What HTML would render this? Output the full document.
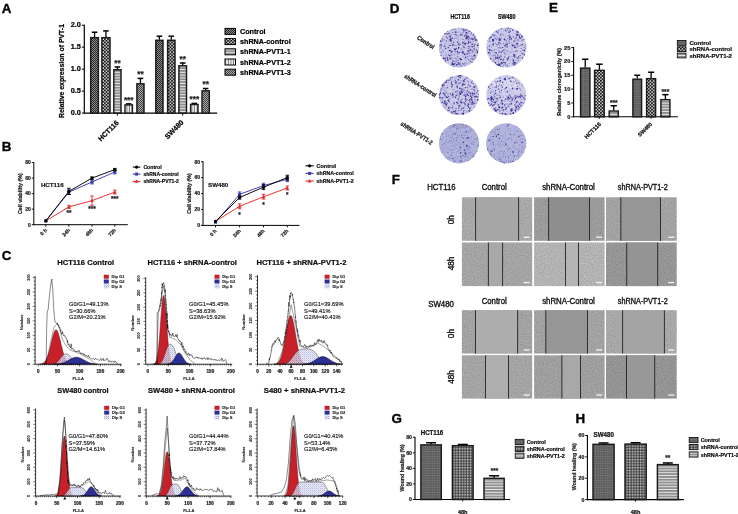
<!DOCTYPE html>
<html><head><meta charset="utf-8"><style>
html,body{margin:0;padding:0;background:#fff;}
svg{display:block;font-family:"Liberation Sans", sans-serif;filter:blur(0.35px);}
</style></head><body>
<svg width="738" height="514" viewBox="0 0 738 514">

<defs>
<pattern id="pCtrl" width="2" height="2" patternUnits="userSpaceOnUse"><rect width="2" height="2" fill="#8e8e8e"/><rect width="1" height="1" fill="#262626"/><rect x="1" y="1" width="1" height="1" fill="#262626"/></pattern>
<pattern id="pP3" width="2" height="2" patternUnits="userSpaceOnUse"><rect width="2" height="2" fill="#a8a8a8"/><rect width="1" height="1" fill="#404040"/><rect x="1" y="1" width="1" height="1" fill="#404040"/></pattern>
<pattern id="pChk" width="3.2" height="3.2" patternUnits="userSpaceOnUse"><rect width="3.2" height="3.2" fill="#1a1a1a"/><rect x="0.2" y="0.2" width="1.4" height="1.4" fill="#fff"/><rect x="1.8" y="1.8" width="1.3" height="1.3" fill="#fff"/></pattern>
<pattern id="pHs" width="3" height="2.8" patternUnits="userSpaceOnUse"><rect width="3" height="2.8" fill="#8c8c8c"/><rect y="1.8" width="3" height="1" fill="#e8e8e8"/></pattern>
<pattern id="pVs" width="2.6" height="3" patternUnits="userSpaceOnUse"><rect width="2.6" height="3" fill="#f4f4f4"/><rect x="1.6" width="1" height="3" fill="#7a7a7a"/></pattern>
<pattern id="pCtrl2" width="2.4" height="2.4" patternUnits="userSpaceOnUse"><rect width="2.4" height="2.4" fill="#5a5a5a"/><rect width="2.4" height="0.7" fill="#777"/><rect width="0.7" height="2.4" fill="#6e6e6e"/></pattern>
<pattern id="pChk2" width="2.7" height="2.7" patternUnits="userSpaceOnUse"><rect width="2.7" height="2.7" fill="#565656"/><rect x="0.1" y="0.1" width="1.2" height="1.2" fill="#f4f4f4"/><rect x="1.55" y="1.55" width="0.9" height="0.9" fill="#222"/></pattern>
<pattern id="pS" width="2" height="2" patternUnits="userSpaceOnUse"><rect width="2" height="2" fill="#e2e5f4"/><rect width="1" height="1" fill="#a2a8d6"/><rect x="1" y="1" width="1" height="1" fill="#c6cae8"/></pattern>
<filter id="noise" x="0" y="0" width="100%" height="100%"><feTurbulence type="fractalNoise" baseFrequency="0.9" numOctaves="2" seed="3"/><feColorMatrix type="matrix" values="0 0 0 0 0  0 0 0 0 0  0 0 0 0 0  0 0 0 -1.2 1.0"/><feComposite operator="in" in2="SourceGraphic"/></filter>
</defs>

<rect width="738" height="514" fill="#fff"/>
<text x="1.80" y="12.60" font-size="13.4" font-weight="bold" text-anchor="start" fill="#000" stroke="#000" stroke-width="0.35">A</text>
<line x1="84.30" y1="24.70" x2="84.30" y2="113.60" stroke="#000" stroke-width="1.2"/>
<line x1="83.80" y1="113.10" x2="217.20" y2="113.10" stroke="#000" stroke-width="1.2"/>
<line x1="81.80" y1="113.10" x2="84.30" y2="113.10" stroke="#000" stroke-width="1"/>
<text x="80.80" y="115.30" font-size="7.3" font-weight="bold" text-anchor="end" fill="#000" stroke="#000" stroke-width="0.22">0.0</text>
<line x1="81.80" y1="91.12" x2="84.30" y2="91.12" stroke="#000" stroke-width="1"/>
<text x="80.80" y="93.33" font-size="7.3" font-weight="bold" text-anchor="end" fill="#000" stroke="#000" stroke-width="0.22">0.5</text>
<line x1="81.80" y1="69.15" x2="84.30" y2="69.15" stroke="#000" stroke-width="1"/>
<text x="80.80" y="71.35" font-size="7.3" font-weight="bold" text-anchor="end" fill="#000" stroke="#000" stroke-width="0.22">1.0</text>
<line x1="81.80" y1="47.17" x2="84.30" y2="47.17" stroke="#000" stroke-width="1"/>
<text x="80.80" y="49.38" font-size="7.3" font-weight="bold" text-anchor="end" fill="#000" stroke="#000" stroke-width="0.22">1.5</text>
<line x1="81.80" y1="25.20" x2="84.30" y2="25.20" stroke="#000" stroke-width="1"/>
<text x="80.80" y="27.40" font-size="7.3" font-weight="bold" text-anchor="end" fill="#000" stroke="#000" stroke-width="0.22">2.0</text>
<line x1="94.55" y1="32.23" x2="94.55" y2="37.07" stroke="#000" stroke-width="1.3"/>
<line x1="91.75" y1="32.23" x2="97.35" y2="32.23" stroke="#000" stroke-width="1.5"/>
<rect x="90.70" y="37.67" width="7.70" height="75.43" fill="url(#pCtrl)" stroke="#1a1a1a" stroke-width="1.45"/>
<line x1="105.95" y1="30.91" x2="105.95" y2="37.07" stroke="#000" stroke-width="1.3"/>
<line x1="103.15" y1="30.91" x2="108.75" y2="30.91" stroke="#000" stroke-width="1.5"/>
<rect x="101.90" y="37.67" width="8.10" height="75.43" fill="url(#pChk)" stroke="#1a1a1a" stroke-width="1.45"/>
<line x1="117.40" y1="66.95" x2="117.40" y2="69.15" stroke="#000" stroke-width="1.3"/>
<line x1="114.60" y1="66.95" x2="120.20" y2="66.95" stroke="#000" stroke-width="1.5"/>
<rect x="113.80" y="69.75" width="7.20" height="43.35" fill="url(#pHs)" stroke="#1a1a1a" stroke-width="1.45"/>
<text x="117.40" y="65.95" font-size="8.2" font-weight="bold" text-anchor="middle" fill="#222" stroke="#222" stroke-width="0.22">**</text>
<line x1="128.70" y1="103.87" x2="128.70" y2="104.31" stroke="#000" stroke-width="1.3"/>
<line x1="125.90" y1="103.87" x2="131.50" y2="103.87" stroke="#000" stroke-width="1.5"/>
<rect x="125.00" y="104.91" width="7.40" height="8.19" fill="url(#pVs)" stroke="#1a1a1a" stroke-width="1.45"/>
<text x="128.70" y="102.87" font-size="8.2" font-weight="bold" text-anchor="middle" fill="#222" stroke="#222" stroke-width="0.22">***</text>
<line x1="140.45" y1="78.38" x2="140.45" y2="83.21" stroke="#000" stroke-width="1.3"/>
<line x1="137.65" y1="78.38" x2="143.25" y2="78.38" stroke="#000" stroke-width="1.5"/>
<rect x="136.90" y="83.81" width="7.10" height="29.29" fill="url(#pP3)" stroke="#1a1a1a" stroke-width="1.45"/>
<text x="140.45" y="77.38" font-size="8.2" font-weight="bold" text-anchor="middle" fill="#222" stroke="#222" stroke-width="0.22">**</text>
<line x1="159.40" y1="36.19" x2="159.40" y2="39.70" stroke="#000" stroke-width="1.3"/>
<line x1="156.60" y1="36.19" x2="162.20" y2="36.19" stroke="#000" stroke-width="1.5"/>
<rect x="155.80" y="40.30" width="7.20" height="72.80" fill="url(#pCtrl)" stroke="#1a1a1a" stroke-width="1.45"/>
<line x1="171.30" y1="36.19" x2="171.30" y2="39.70" stroke="#000" stroke-width="1.3"/>
<line x1="168.50" y1="36.19" x2="174.10" y2="36.19" stroke="#000" stroke-width="1.5"/>
<rect x="167.60" y="40.30" width="7.40" height="72.80" fill="url(#pChk)" stroke="#1a1a1a" stroke-width="1.45"/>
<line x1="182.70" y1="63.00" x2="182.70" y2="65.19" stroke="#000" stroke-width="1.3"/>
<line x1="179.90" y1="63.00" x2="185.50" y2="63.00" stroke="#000" stroke-width="1.5"/>
<rect x="178.90" y="65.79" width="7.60" height="47.31" fill="url(#pHs)" stroke="#1a1a1a" stroke-width="1.45"/>
<text x="182.70" y="62.00" font-size="8.2" font-weight="bold" text-anchor="middle" fill="#222" stroke="#222" stroke-width="0.22">**</text>
<line x1="194.30" y1="103.43" x2="194.30" y2="103.87" stroke="#000" stroke-width="1.3"/>
<line x1="191.50" y1="103.43" x2="197.10" y2="103.43" stroke="#000" stroke-width="1.5"/>
<rect x="190.60" y="104.47" width="7.40" height="8.63" fill="url(#pVs)" stroke="#1a1a1a" stroke-width="1.45"/>
<text x="194.30" y="102.43" font-size="8.2" font-weight="bold" text-anchor="middle" fill="#222" stroke="#222" stroke-width="0.22">***</text>
<line x1="205.65" y1="88.49" x2="205.65" y2="90.25" stroke="#000" stroke-width="1.3"/>
<line x1="202.85" y1="88.49" x2="208.45" y2="88.49" stroke="#000" stroke-width="1.5"/>
<rect x="202.00" y="90.85" width="7.30" height="22.25" fill="url(#pP3)" stroke="#1a1a1a" stroke-width="1.45"/>
<text x="205.65" y="87.49" font-size="8.2" font-weight="bold" text-anchor="middle" fill="#222" stroke="#222" stroke-width="0.22">**</text>
<line x1="117.40" y1="113.10" x2="117.40" y2="115.60" stroke="#000" stroke-width="1"/>
<line x1="182.70" y1="113.10" x2="182.70" y2="115.60" stroke="#000" stroke-width="1"/>
<text x="119.30" y="123.30" font-size="7.1" font-weight="bold" text-anchor="end" fill="#000" transform="rotate(-45 119.30 123.30)" stroke="#000" stroke-width="0.22">HCT116</text>
<text x="184.10" y="123.00" font-size="7.1" font-weight="bold" text-anchor="end" fill="#000" transform="rotate(-45 184.10 123.00)" stroke="#000" stroke-width="0.22">SW480</text>
<text x="63.60" y="71.00" font-size="7.1" font-weight="bold" text-anchor="middle" fill="#000" transform="rotate(-90 63.60 71.00)" textLength="94" lengthAdjust="spacingAndGlyphs" stroke="#000" stroke-width="0.22">Relative expression of PVT-1</text>
<rect x="225.00" y="28.40" width="10.50" height="6.00" fill="url(#pCtrl)" stroke="#000" stroke-width="1"/>
<text x="240.00" y="33.90" font-size="7.2" font-weight="bold" text-anchor="start" fill="#000" stroke="#000" stroke-width="0.22">Control</text>
<rect x="225.00" y="38.60" width="10.50" height="6.00" fill="url(#pChk)" stroke="#000" stroke-width="1"/>
<text x="240.00" y="44.10" font-size="7.2" font-weight="bold" text-anchor="start" fill="#000" stroke="#000" stroke-width="0.22">shRNA-control</text>
<rect x="225.00" y="48.80" width="10.50" height="6.00" fill="url(#pHs)" stroke="#000" stroke-width="1"/>
<text x="240.00" y="54.30" font-size="7.2" font-weight="bold" text-anchor="start" fill="#000" stroke="#000" stroke-width="0.22">shRNA-PVT1-1</text>
<rect x="225.00" y="59.00" width="10.50" height="6.00" fill="url(#pVs)" stroke="#000" stroke-width="1"/>
<text x="240.00" y="64.50" font-size="7.2" font-weight="bold" text-anchor="start" fill="#000" stroke="#000" stroke-width="0.22">shRNA-PVT1-2</text>
<rect x="225.00" y="69.20" width="10.50" height="6.00" fill="url(#pP3)" stroke="#000" stroke-width="1"/>
<text x="240.00" y="74.70" font-size="7.2" font-weight="bold" text-anchor="start" fill="#000" stroke="#000" stroke-width="0.22">shRNA-PVT1-3</text>
<text x="1.80" y="151.30" font-size="13.4" font-weight="bold" text-anchor="start" fill="#000" stroke="#000" stroke-width="0.35">B</text>
<line x1="33.80" y1="162.10" x2="33.80" y2="225.20" stroke="#000" stroke-width="1"/>
<line x1="33.30" y1="224.70" x2="127.80" y2="224.70" stroke="#000" stroke-width="1"/>
<line x1="31.80" y1="224.70" x2="33.80" y2="224.70" stroke="#000" stroke-width="0.9"/>
<text x="30.80" y="226.50" font-size="5.0" font-weight="bold" text-anchor="end" fill="#222" stroke="#222" stroke-width="0.22">0</text>
<line x1="31.80" y1="209.17" x2="33.80" y2="209.17" stroke="#000" stroke-width="0.9"/>
<text x="30.80" y="210.97" font-size="5.0" font-weight="bold" text-anchor="end" fill="#222" stroke="#222" stroke-width="0.22">20</text>
<line x1="31.80" y1="193.65" x2="33.80" y2="193.65" stroke="#000" stroke-width="0.9"/>
<text x="30.80" y="195.45" font-size="5.0" font-weight="bold" text-anchor="end" fill="#222" stroke="#222" stroke-width="0.22">40</text>
<line x1="31.80" y1="178.12" x2="33.80" y2="178.12" stroke="#000" stroke-width="0.9"/>
<text x="30.80" y="179.93" font-size="5.0" font-weight="bold" text-anchor="end" fill="#222" stroke="#222" stroke-width="0.22">60</text>
<line x1="31.80" y1="162.60" x2="33.80" y2="162.60" stroke="#000" stroke-width="0.9"/>
<text x="30.80" y="164.40" font-size="5.0" font-weight="bold" text-anchor="end" fill="#222" stroke="#222" stroke-width="0.22">80</text>
<line x1="45.90" y1="224.70" x2="45.90" y2="226.70" stroke="#000" stroke-width="0.9"/>
<text x="47.40" y="230.70" font-size="5.0" font-weight="bold" text-anchor="end" fill="#222" transform="rotate(-45 47.40 230.70)" stroke="#222" stroke-width="0.22">0 h</text>
<line x1="68.90" y1="224.70" x2="68.90" y2="226.70" stroke="#000" stroke-width="0.9"/>
<text x="70.40" y="230.70" font-size="5.0" font-weight="bold" text-anchor="end" fill="#222" transform="rotate(-45 70.40 230.70)" stroke="#222" stroke-width="0.22">24h</text>
<line x1="92.00" y1="224.70" x2="92.00" y2="226.70" stroke="#000" stroke-width="0.9"/>
<text x="93.50" y="230.70" font-size="5.0" font-weight="bold" text-anchor="end" fill="#222" transform="rotate(-45 93.50 230.70)" stroke="#222" stroke-width="0.22">48h</text>
<line x1="114.80" y1="224.70" x2="114.80" y2="226.70" stroke="#000" stroke-width="0.9"/>
<text x="116.30" y="230.70" font-size="5.0" font-weight="bold" text-anchor="end" fill="#222" transform="rotate(-45 116.30 230.70)" stroke="#222" stroke-width="0.22">72h</text>
<text x="21.80" y="193.65" font-size="5.3" font-weight="bold" text-anchor="middle" fill="#222" transform="rotate(-90 21.80 193.65)" stroke="#222" stroke-width="0.22">Cell viability (%)</text>
<text x="40.90" y="187.00" font-size="6.2" font-weight="bold" text-anchor="start" fill="#222" stroke="#222" stroke-width="0.22">HCT116</text>
<polyline points="45.90,220.82 68.90,206.85 92.00,200.64 114.80,192.10" fill="none" stroke="#e02a2a" stroke-width="0.95"/>
<path d="M44.00,222.22 L47.80,222.22 L45.90,218.92 Z" fill="#e02a2a"/>
<line x1="68.90" y1="205.29" x2="68.90" y2="208.40" stroke="#e02a2a" stroke-width="0.9"/>
<line x1="67.10" y1="205.29" x2="70.70" y2="205.29" stroke="#e02a2a" stroke-width="0.9"/>
<line x1="67.10" y1="208.40" x2="70.70" y2="208.40" stroke="#e02a2a" stroke-width="0.9"/>
<path d="M67.00,208.25 L70.80,208.25 L68.90,204.95 Z" fill="#e02a2a"/>
<line x1="92.00" y1="195.98" x2="92.00" y2="205.29" stroke="#e02a2a" stroke-width="0.9"/>
<line x1="90.20" y1="195.98" x2="93.80" y2="195.98" stroke="#e02a2a" stroke-width="0.9"/>
<line x1="90.20" y1="205.29" x2="93.80" y2="205.29" stroke="#e02a2a" stroke-width="0.9"/>
<path d="M90.10,202.04 L93.90,202.04 L92.00,198.74 Z" fill="#e02a2a"/>
<line x1="114.80" y1="190.16" x2="114.80" y2="194.04" stroke="#e02a2a" stroke-width="0.9"/>
<line x1="113.00" y1="190.16" x2="116.60" y2="190.16" stroke="#e02a2a" stroke-width="0.9"/>
<line x1="113.00" y1="194.04" x2="116.60" y2="194.04" stroke="#e02a2a" stroke-width="0.9"/>
<path d="M112.90,193.50 L116.70,193.50 L114.80,190.20 Z" fill="#e02a2a"/>
<polyline points="45.90,220.82 68.90,192.10 92.00,182.01 114.80,171.91" fill="none" stroke="#3b3bb4" stroke-width="0.95"/>
<rect x="44.40" y="219.32" width="3.00" height="3.00" fill="#3b3bb4"/>
<line x1="68.90" y1="189.77" x2="68.90" y2="194.43" stroke="#3b3bb4" stroke-width="0.9"/>
<line x1="67.10" y1="189.77" x2="70.70" y2="189.77" stroke="#3b3bb4" stroke-width="0.9"/>
<line x1="67.10" y1="194.43" x2="70.70" y2="194.43" stroke="#3b3bb4" stroke-width="0.9"/>
<rect x="67.40" y="190.60" width="3.00" height="3.00" fill="#3b3bb4"/>
<line x1="92.00" y1="180.07" x2="92.00" y2="183.95" stroke="#3b3bb4" stroke-width="0.9"/>
<line x1="90.20" y1="180.07" x2="93.80" y2="180.07" stroke="#3b3bb4" stroke-width="0.9"/>
<line x1="90.20" y1="183.95" x2="93.80" y2="183.95" stroke="#3b3bb4" stroke-width="0.9"/>
<rect x="90.50" y="180.51" width="3.00" height="3.00" fill="#3b3bb4"/>
<line x1="114.80" y1="169.97" x2="114.80" y2="173.86" stroke="#3b3bb4" stroke-width="0.9"/>
<line x1="113.00" y1="169.97" x2="116.60" y2="169.97" stroke="#3b3bb4" stroke-width="0.9"/>
<line x1="113.00" y1="173.86" x2="116.60" y2="173.86" stroke="#3b3bb4" stroke-width="0.9"/>
<rect x="113.30" y="170.41" width="3.00" height="3.00" fill="#3b3bb4"/>
<polyline points="45.90,220.82 68.90,191.32 92.00,178.12 114.80,169.59" fill="none" stroke="#000" stroke-width="0.95"/>
<circle cx="45.90" cy="220.82" r="1.6" fill="#000"/>
<line x1="68.90" y1="188.22" x2="68.90" y2="194.43" stroke="#000" stroke-width="0.9"/>
<line x1="67.10" y1="188.22" x2="70.70" y2="188.22" stroke="#000" stroke-width="0.9"/>
<line x1="67.10" y1="194.43" x2="70.70" y2="194.43" stroke="#000" stroke-width="0.9"/>
<circle cx="68.90" cy="191.32" r="1.6" fill="#000"/>
<line x1="92.00" y1="176.96" x2="92.00" y2="179.29" stroke="#000" stroke-width="0.9"/>
<line x1="90.20" y1="176.96" x2="93.80" y2="176.96" stroke="#000" stroke-width="0.9"/>
<line x1="90.20" y1="179.29" x2="93.80" y2="179.29" stroke="#000" stroke-width="0.9"/>
<circle cx="92.00" cy="178.12" r="1.6" fill="#000"/>
<line x1="114.80" y1="168.42" x2="114.80" y2="170.75" stroke="#000" stroke-width="0.9"/>
<line x1="113.00" y1="168.42" x2="116.60" y2="168.42" stroke="#000" stroke-width="0.9"/>
<line x1="113.00" y1="170.75" x2="116.60" y2="170.75" stroke="#000" stroke-width="0.9"/>
<circle cx="114.80" cy="169.59" r="1.6" fill="#000"/>
<line x1="132.80" y1="167.10" x2="140.40" y2="167.10" stroke="#000" stroke-width="1.1"/>
<circle cx="136.60" cy="167.10" r="1.6" fill="#000"/>
<text x="143.40" y="169.10" font-size="5.6" font-weight="bold" text-anchor="start" fill="#111" textLength="18.3" lengthAdjust="spacingAndGlyphs" stroke="#111" stroke-width="0.22">Control</text>
<line x1="132.80" y1="174.10" x2="140.40" y2="174.10" stroke="#3b3bb4" stroke-width="1.1"/>
<rect x="135.10" y="172.60" width="3.00" height="3.00" fill="#3b3bb4"/>
<text x="143.40" y="176.10" font-size="5.6" font-weight="bold" text-anchor="start" fill="#111" textLength="35.2" lengthAdjust="spacingAndGlyphs" stroke="#111" stroke-width="0.22">shRNA-control</text>
<line x1="132.80" y1="181.40" x2="140.40" y2="181.40" stroke="#e02a2a" stroke-width="1.1"/>
<path d="M134.70,182.80 L138.50,182.80 L136.60,179.50 Z" fill="#e02a2a"/>
<text x="143.40" y="183.40" font-size="5.6" font-weight="bold" text-anchor="start" fill="#111" textLength="35.5" lengthAdjust="spacingAndGlyphs" stroke="#111" stroke-width="0.22">shRNA-PVT1-2</text>
<text x="68.90" y="214.50" font-size="6.4" font-weight="bold" text-anchor="middle" fill="#222" stroke="#222" stroke-width="0.22">**</text>
<text x="92.00" y="211.20" font-size="6.4" font-weight="bold" text-anchor="middle" fill="#222" stroke="#222" stroke-width="0.22">***</text>
<text x="114.80" y="201.20" font-size="6.4" font-weight="bold" text-anchor="middle" fill="#222" stroke="#222" stroke-width="0.22">***</text>
<line x1="203.00" y1="161.20" x2="203.00" y2="225.90" stroke="#000" stroke-width="1"/>
<line x1="202.50" y1="225.40" x2="299.50" y2="225.40" stroke="#000" stroke-width="1"/>
<line x1="201.00" y1="225.40" x2="203.00" y2="225.40" stroke="#000" stroke-width="0.9"/>
<text x="200.00" y="227.20" font-size="5.0" font-weight="bold" text-anchor="end" fill="#222" stroke="#222" stroke-width="0.22">0</text>
<line x1="201.00" y1="209.47" x2="203.00" y2="209.47" stroke="#000" stroke-width="0.9"/>
<text x="200.00" y="211.28" font-size="5.0" font-weight="bold" text-anchor="end" fill="#222" stroke="#222" stroke-width="0.22">20</text>
<line x1="201.00" y1="193.55" x2="203.00" y2="193.55" stroke="#000" stroke-width="0.9"/>
<text x="200.00" y="195.35" font-size="5.0" font-weight="bold" text-anchor="end" fill="#222" stroke="#222" stroke-width="0.22">40</text>
<line x1="201.00" y1="177.62" x2="203.00" y2="177.62" stroke="#000" stroke-width="0.9"/>
<text x="200.00" y="179.43" font-size="5.0" font-weight="bold" text-anchor="end" fill="#222" stroke="#222" stroke-width="0.22">60</text>
<line x1="201.00" y1="161.70" x2="203.00" y2="161.70" stroke="#000" stroke-width="0.9"/>
<text x="200.00" y="163.50" font-size="5.0" font-weight="bold" text-anchor="end" fill="#222" stroke="#222" stroke-width="0.22">80</text>
<line x1="215.50" y1="225.40" x2="215.50" y2="227.40" stroke="#000" stroke-width="0.9"/>
<text x="217.00" y="231.40" font-size="5.0" font-weight="bold" text-anchor="end" fill="#222" transform="rotate(-45 217.00 231.40)" stroke="#222" stroke-width="0.22">0 h</text>
<line x1="239.60" y1="225.40" x2="239.60" y2="227.40" stroke="#000" stroke-width="0.9"/>
<text x="241.10" y="231.40" font-size="5.0" font-weight="bold" text-anchor="end" fill="#222" transform="rotate(-45 241.10 231.40)" stroke="#222" stroke-width="0.22">24h</text>
<line x1="263.50" y1="225.40" x2="263.50" y2="227.40" stroke="#000" stroke-width="0.9"/>
<text x="265.00" y="231.40" font-size="5.0" font-weight="bold" text-anchor="end" fill="#222" transform="rotate(-45 265.00 231.40)" stroke="#222" stroke-width="0.22">48h</text>
<line x1="287.30" y1="225.40" x2="287.30" y2="227.40" stroke="#000" stroke-width="0.9"/>
<text x="288.80" y="231.40" font-size="5.0" font-weight="bold" text-anchor="end" fill="#222" transform="rotate(-45 288.80 231.40)" stroke="#222" stroke-width="0.22">72h</text>
<text x="191.00" y="193.55" font-size="5.3" font-weight="bold" text-anchor="middle" fill="#222" transform="rotate(-90 191.00 193.55)" stroke="#222" stroke-width="0.22">Cell viability (%)</text>
<text x="208.00" y="186.60" font-size="6.2" font-weight="bold" text-anchor="start" fill="#222" stroke="#222" stroke-width="0.22">SW480</text>
<polyline points="215.50,221.42 239.60,206.29 263.50,196.73 287.30,187.98" fill="none" stroke="#e02a2a" stroke-width="0.95"/>
<path d="M213.60,222.82 L217.40,222.82 L215.50,219.52 Z" fill="#e02a2a"/>
<line x1="239.60" y1="203.90" x2="239.60" y2="208.68" stroke="#e02a2a" stroke-width="0.9"/>
<line x1="237.80" y1="203.90" x2="241.40" y2="203.90" stroke="#e02a2a" stroke-width="0.9"/>
<line x1="237.80" y1="208.68" x2="241.40" y2="208.68" stroke="#e02a2a" stroke-width="0.9"/>
<path d="M237.70,207.69 L241.50,207.69 L239.60,204.39 Z" fill="#e02a2a"/>
<line x1="263.50" y1="194.35" x2="263.50" y2="199.12" stroke="#e02a2a" stroke-width="0.9"/>
<line x1="261.70" y1="194.35" x2="265.30" y2="194.35" stroke="#e02a2a" stroke-width="0.9"/>
<line x1="261.70" y1="199.12" x2="265.30" y2="199.12" stroke="#e02a2a" stroke-width="0.9"/>
<path d="M261.60,198.13 L265.40,198.13 L263.50,194.83 Z" fill="#e02a2a"/>
<line x1="287.30" y1="185.99" x2="287.30" y2="189.97" stroke="#e02a2a" stroke-width="0.9"/>
<line x1="285.50" y1="185.99" x2="289.10" y2="185.99" stroke="#e02a2a" stroke-width="0.9"/>
<line x1="285.50" y1="189.97" x2="289.10" y2="189.97" stroke="#e02a2a" stroke-width="0.9"/>
<path d="M285.40,189.38 L289.20,189.38 L287.30,186.08 Z" fill="#e02a2a"/>
<polyline points="215.50,222.22 239.60,194.35 263.50,185.59 287.30,179.22" fill="none" stroke="#3b3bb4" stroke-width="0.95"/>
<rect x="214.00" y="220.72" width="3.00" height="3.00" fill="#3b3bb4"/>
<line x1="239.60" y1="191.96" x2="239.60" y2="196.73" stroke="#3b3bb4" stroke-width="0.9"/>
<line x1="237.80" y1="191.96" x2="241.40" y2="191.96" stroke="#3b3bb4" stroke-width="0.9"/>
<line x1="237.80" y1="196.73" x2="241.40" y2="196.73" stroke="#3b3bb4" stroke-width="0.9"/>
<rect x="238.10" y="192.85" width="3.00" height="3.00" fill="#3b3bb4"/>
<line x1="263.50" y1="183.20" x2="263.50" y2="187.98" stroke="#3b3bb4" stroke-width="0.9"/>
<line x1="261.70" y1="183.20" x2="265.30" y2="183.20" stroke="#3b3bb4" stroke-width="0.9"/>
<line x1="261.70" y1="187.98" x2="265.30" y2="187.98" stroke="#3b3bb4" stroke-width="0.9"/>
<rect x="262.00" y="184.09" width="3.00" height="3.00" fill="#3b3bb4"/>
<line x1="287.30" y1="176.83" x2="287.30" y2="181.61" stroke="#3b3bb4" stroke-width="0.9"/>
<line x1="285.50" y1="176.83" x2="289.10" y2="176.83" stroke="#3b3bb4" stroke-width="0.9"/>
<line x1="285.50" y1="181.61" x2="289.10" y2="181.61" stroke="#3b3bb4" stroke-width="0.9"/>
<rect x="285.80" y="177.72" width="3.00" height="3.00" fill="#3b3bb4"/>
<polyline points="215.50,221.42 239.60,197.53 263.50,187.18 287.30,177.62" fill="none" stroke="#000" stroke-width="0.95"/>
<circle cx="215.50" cy="221.42" r="1.6" fill="#000"/>
<line x1="239.60" y1="195.94" x2="239.60" y2="199.12" stroke="#000" stroke-width="0.9"/>
<line x1="237.80" y1="195.94" x2="241.40" y2="195.94" stroke="#000" stroke-width="0.9"/>
<line x1="237.80" y1="199.12" x2="241.40" y2="199.12" stroke="#000" stroke-width="0.9"/>
<circle cx="239.60" cy="197.53" r="1.6" fill="#000"/>
<line x1="263.50" y1="184.79" x2="263.50" y2="189.57" stroke="#000" stroke-width="0.9"/>
<line x1="261.70" y1="184.79" x2="265.30" y2="184.79" stroke="#000" stroke-width="0.9"/>
<line x1="261.70" y1="189.57" x2="265.30" y2="189.57" stroke="#000" stroke-width="0.9"/>
<circle cx="263.50" cy="187.18" r="1.6" fill="#000"/>
<line x1="287.30" y1="175.24" x2="287.30" y2="180.01" stroke="#000" stroke-width="0.9"/>
<line x1="285.50" y1="175.24" x2="289.10" y2="175.24" stroke="#000" stroke-width="0.9"/>
<line x1="285.50" y1="180.01" x2="289.10" y2="180.01" stroke="#000" stroke-width="0.9"/>
<circle cx="287.30" cy="177.62" r="1.6" fill="#000"/>
<line x1="305.50" y1="165.80" x2="313.60" y2="165.80" stroke="#000" stroke-width="1.1"/>
<circle cx="309.55" cy="165.80" r="1.6" fill="#000"/>
<text x="316.60" y="167.80" font-size="5.6" font-weight="bold" text-anchor="start" fill="#111" textLength="19.4" lengthAdjust="spacingAndGlyphs" stroke="#111" stroke-width="0.22">Control</text>
<line x1="305.50" y1="173.40" x2="313.60" y2="173.40" stroke="#3b3bb4" stroke-width="1.1"/>
<rect x="308.05" y="171.90" width="3.00" height="3.00" fill="#3b3bb4"/>
<text x="316.60" y="175.40" font-size="5.6" font-weight="bold" text-anchor="start" fill="#111" textLength="37.0" lengthAdjust="spacingAndGlyphs" stroke="#111" stroke-width="0.22">shRNA-control</text>
<line x1="305.50" y1="181.00" x2="313.60" y2="181.00" stroke="#e02a2a" stroke-width="1.1"/>
<path d="M307.65,182.40 L311.45,182.40 L309.55,179.10 Z" fill="#e02a2a"/>
<text x="316.60" y="183.00" font-size="5.6" font-weight="bold" text-anchor="start" fill="#111" textLength="37.0" lengthAdjust="spacingAndGlyphs" stroke="#111" stroke-width="0.22">shRNA-PVT1-2</text>
<text x="239.60" y="216.50" font-size="6.4" font-weight="bold" text-anchor="middle" fill="#222" stroke="#222" stroke-width="0.22">*</text>
<text x="263.50" y="207.00" font-size="6.4" font-weight="bold" text-anchor="middle" fill="#222" stroke="#222" stroke-width="0.22">*</text>
<text x="287.30" y="196.70" font-size="6.4" font-weight="bold" text-anchor="middle" fill="#222" stroke="#222" stroke-width="0.22">*</text>
<text x="1.80" y="260.40" font-size="13.4" font-weight="bold" text-anchor="start" fill="#000" stroke="#000" stroke-width="0.35">C</text>
<text x="85.70" y="265.20" font-size="7.6" font-weight="bold" text-anchor="middle" fill="#111" textLength="57" lengthAdjust="spacingAndGlyphs" stroke="#111" stroke-width="0.22">HCT116 Control</text>
<path d="M39.6,364.2 L39.6,364.1 L39.9,364.0 L40.1,364.0 L40.4,364.0 L40.6,364.0 L40.9,363.9 L41.1,363.9 L41.4,363.8 L41.6,363.7 L41.9,363.7 L42.1,363.6 L42.4,363.5 L42.6,363.4 L42.9,363.3 L43.1,363.1 L43.4,363.0 L43.6,362.8 L43.9,362.6 L44.1,362.4 L44.4,362.2 L44.6,361.9 L44.9,361.6 L45.1,361.3 L45.4,361.0 L45.6,360.6 L45.9,360.2 L46.1,359.7 L46.4,359.3 L46.6,358.7 L46.9,358.2 L47.1,357.6 L47.4,357.0 L47.6,356.3 L47.9,355.6 L48.1,354.8 L48.4,354.0 L48.6,353.2 L48.9,352.3 L49.1,351.4 L49.4,350.5 L49.6,349.5 L49.9,348.6 L50.1,347.5 L50.4,346.5 L50.6,345.5 L50.9,344.4 L51.1,343.3 L51.4,342.3 L51.6,341.2 L51.9,340.2 L52.1,339.1 L52.4,338.1 L52.6,337.2 L52.9,336.2 L53.1,335.3 L53.4,334.5 L53.6,333.7 L53.9,333.0 L54.1,332.3 L54.4,331.7 L54.6,331.2 L54.9,330.7 L55.1,330.4 L55.4,330.1 L55.6,329.9 L55.9,329.8 L56.1,329.8 L56.4,329.9 L56.6,330.1 L56.9,330.3 L57.1,330.7 L57.4,331.1 L57.6,331.6 L57.9,332.2 L58.1,332.8 L58.4,333.5 L58.6,334.3 L58.9,335.2 L59.1,336.0 L59.4,337.0 L59.6,337.9 L59.9,338.9 L60.1,340.0 L60.4,341.0 L60.6,342.1 L60.9,343.1 L61.1,344.2 L61.4,345.2 L61.6,346.3 L61.9,347.3 L62.1,348.3 L62.4,349.3 L62.6,350.3 L62.9,351.3 L63.1,352.2 L63.4,353.0 L63.6,353.9 L63.9,354.7 L64.1,355.4 L64.3,356.1 L64.6,356.8 L64.8,357.5 L65.1,358.1 L65.3,358.6 L65.6,359.2 L65.8,359.6 L66.1,360.1 L66.3,360.5 L66.6,360.9 L66.8,361.2 L67.1,361.6 L67.3,361.8 L67.6,362.1 L67.8,362.4 L68.1,362.6 L68.3,362.8 L68.6,362.9 L68.8,363.1 L69.1,363.2 L69.3,363.4 L69.6,363.5 L69.8,363.6 L70.1,363.7 L70.3,363.7 L70.6,363.8 L70.8,363.9 L71.1,363.9 L71.3,363.9 L71.6,364.0 L71.8,364.0 L72.1,364.0 L72.3,364.1 L72.3,364.2 Z" fill="#c8202a" stroke="#4a1010" stroke-width="0.45"/>
<path d="M52.9,364.2 L52.9,364.1 L53.1,364.0 L53.4,364.0 L53.6,364.0 L53.9,363.9 L54.1,363.8 L54.4,363.8 L54.6,363.7 L54.9,363.6 L55.1,363.5 L55.4,363.4 L55.6,363.3 L55.9,363.1 L56.1,363.0 L56.4,362.8 L56.6,362.6 L56.9,362.4 L57.1,362.2 L57.4,362.0 L57.6,361.7 L57.9,361.5 L58.1,361.2 L58.4,360.9 L58.6,360.6 L58.9,360.3 L59.1,359.9 L59.4,359.6 L59.6,359.3 L59.9,358.9 L60.1,358.6 L60.4,358.2 L60.6,357.9 L60.9,357.5 L61.1,357.2 L61.4,356.9 L61.6,356.6 L61.9,356.3 L62.1,356.0 L62.4,355.7 L62.6,355.5 L62.9,355.3 L63.1,355.0 L63.4,354.8 L63.6,354.7 L63.9,354.5 L64.1,354.4 L64.3,354.2 L64.6,354.1 L64.8,354.0 L65.1,354.0 L65.3,353.9 L65.6,353.9 L65.8,353.9 L66.1,353.9 L66.3,353.9 L66.6,353.9 L66.8,354.0 L67.1,354.0 L67.3,354.1 L67.6,354.2 L67.8,354.3 L68.1,354.5 L68.3,354.6 L68.6,354.8 L68.8,355.0 L69.1,355.2 L69.3,355.4 L69.6,355.7 L69.8,356.0 L70.1,356.2 L70.3,356.5 L70.6,356.8 L70.8,357.2 L71.1,357.5 L71.3,357.8 L71.6,358.2 L71.8,358.5 L72.1,358.8 L72.3,359.2 L72.6,359.5 L72.8,359.9 L73.1,360.2 L73.3,360.5 L73.6,360.8 L73.8,361.1 L74.1,361.4 L74.3,361.7 L74.6,361.9 L74.8,362.2 L75.1,362.4 L75.3,362.6 L75.6,362.8 L75.8,363.0 L76.1,363.1 L76.3,363.3 L76.6,363.4 L76.8,363.5 L77.1,363.6 L77.3,363.7 L77.6,363.8 L77.8,363.8 L78.1,363.9 L78.3,363.9 L78.6,364.0 L78.8,364.0 L79.1,364.1 L79.1,364.2 Z" fill="url(#pS)" fill-opacity="0.78" stroke="#2a2a2a" stroke-width="0.45"/>
<path d="M55.1,364.2 L55.1,364.1 L55.4,364.1 L55.6,364.1 L55.9,364.0 L56.1,364.0 L56.4,364.0 L56.6,364.0 L56.9,364.0 L57.1,363.9 L57.4,363.9 L57.6,363.9 L57.9,363.9 L58.1,363.8 L58.4,363.8 L58.6,363.8 L58.9,363.7 L59.1,363.7 L59.4,363.7 L59.6,363.6 L59.9,363.6 L60.1,363.5 L60.4,363.5 L60.6,363.4 L60.9,363.4 L61.1,363.3 L61.4,363.3 L61.6,363.2 L61.9,363.1 L62.1,363.1 L62.4,363.0 L62.6,362.9 L62.9,362.8 L63.1,362.7 L63.4,362.7 L63.6,362.6 L63.9,362.5 L64.1,362.4 L64.3,362.3 L64.6,362.2 L64.8,362.1 L65.1,362.0 L65.3,361.8 L65.6,361.7 L65.8,361.6 L66.1,361.5 L66.3,361.3 L66.6,361.2 L66.8,361.1 L67.1,361.0 L67.3,360.8 L67.6,360.7 L67.8,360.5 L68.1,360.4 L68.3,360.3 L68.6,360.1 L68.8,360.0 L69.1,359.8 L69.3,359.7 L69.6,359.6 L69.8,359.4 L70.1,359.3 L70.3,359.1 L70.6,359.0 L70.8,358.9 L71.1,358.7 L71.3,358.6 L71.6,358.5 L71.8,358.4 L72.1,358.3 L72.3,358.1 L72.6,358.0 L72.8,357.9 L73.1,357.8 L73.3,357.8 L73.6,357.7 L73.8,357.6 L74.1,357.5 L74.3,357.5 L74.6,357.4 L74.8,357.3 L75.1,357.3 L75.3,357.3 L75.6,357.2 L75.8,357.2 L76.1,357.2 L76.3,357.2 L76.6,357.2 L76.8,357.2 L77.1,357.2 L77.3,357.3 L77.6,357.3 L77.8,357.3 L78.1,357.4 L78.3,357.4 L78.6,357.5 L78.8,357.6 L79.1,357.6 L79.3,357.7 L79.6,357.8 L79.8,357.9 L80.1,358.0 L80.3,358.1 L80.6,358.2 L80.8,358.3 L81.1,358.4 L81.3,358.6 L81.6,358.7 L81.8,358.8 L82.1,359.0 L82.3,359.1 L82.6,359.2 L82.8,359.4 L83.1,359.5 L83.3,359.6 L83.6,359.8 L83.8,359.9 L84.1,360.1 L84.3,360.2 L84.6,360.3 L84.8,360.5 L85.1,360.6 L85.3,360.8 L85.6,360.9 L85.8,361.0 L86.1,361.2 L86.3,361.3 L86.6,361.4 L86.8,361.5 L87.1,361.7 L87.3,361.8 L87.6,361.9 L87.8,362.0 L88.1,362.1 L88.3,362.2 L88.6,362.3 L88.8,362.4 L89.1,362.5 L89.3,362.6 L89.6,362.7 L89.8,362.8 L90.1,362.9 L90.3,363.0 L90.6,363.0 L90.8,363.1 L91.1,363.2 L91.3,363.2 L91.6,363.3 L91.8,363.4 L92.1,363.4 L92.3,363.5 L92.6,363.5 L92.8,363.6 L93.1,363.6 L93.3,363.7 L93.6,363.7 L93.8,363.7 L94.1,363.8 L94.3,363.8 L94.6,363.8 L94.8,363.9 L95.1,363.9 L95.3,363.9 L95.6,363.9 L95.8,364.0 L96.1,364.0 L96.3,364.0 L96.6,364.0 L96.8,364.0 L97.1,364.0 L97.3,364.1 L97.6,364.1 L97.6,364.2 Z" fill="#2c3096" stroke="#111" stroke-width="0.45"/>
<polyline points="45.0,364.2 45.2,363.5 45.5,362.8 45.7,362.1 45.9,361.4 46.2,360.7 46.4,360.0 46.6,359.2 46.8,358.5 47.1,357.8 47.3,357.1 47.5,356.4 47.8,355.7 48.0,355.0 48.1,354.3 48.3,353.6 48.4,352.9 48.6,352.1 48.7,351.4 48.9,350.7 49.0,350.0 49.1,349.3 49.3,348.6 49.4,347.9 49.6,347.1 49.7,346.4 49.9,345.7 50.0,345.0 50.1,344.3 50.3,343.6 50.4,342.9 50.6,342.1 50.7,341.4 50.9,340.7 51.0,340.0 51.2,339.3 51.3,338.6 51.5,337.9 51.6,337.3 51.8,336.6 51.9,335.9 52.1,335.2 52.3,334.5 52.4,333.8 52.6,333.2 52.7,332.5 52.9,331.8 53.1,331.1 53.2,330.4 53.4,329.7 53.5,329.1 53.7,328.4 53.8,327.7 54.0,327.0 54.5,326.4 55.1,325.9 55.6,325.3 56.1,324.7 56.7,324.2 57.2,323.6 57.5,324.3 57.8,325.0 58.1,325.7 58.4,326.4 58.8,327.2 59.1,327.9 59.4,328.6 59.7,329.3 60.0,330.0 60.2,330.7 60.4,331.4 60.5,332.1 60.7,332.8 60.9,333.5 61.1,334.2 61.2,334.9 61.4,335.5 61.6,336.2 61.8,336.9 62.0,337.6 62.1,338.3 62.3,339.0 62.5,339.7 62.9,340.3 63.2,340.9 63.6,341.5 64.0,342.1 64.3,342.7 64.7,343.3 65.0,343.9 65.4,344.5 65.8,345.1 66.1,345.7 66.5,346.3 67.1,346.8 67.6,347.4 68.2,347.9 68.7,348.4 69.3,348.9 69.8,349.5 70.4,350.0 71.1,350.3 71.7,350.5 72.4,350.8 73.1,351.0 73.7,351.3 74.4,351.5 75.1,351.8 75.7,352.1 76.4,352.3 77.0,352.6 77.7,352.8 78.4,353.1 79.0,353.3 79.7,353.6 80.3,353.9 81.0,354.3 81.6,354.6 82.3,355.0 82.9,355.3 83.5,355.6 84.2,356.0 84.8,356.3 85.4,356.6 86.1,357.0 86.7,357.3 87.4,357.7 88.0,358.0 88.6,358.5 89.2,358.9 89.8,359.4 90.3,359.8 90.9,360.3 91.5,360.8 92.1,361.2 92.7,361.7 93.3,362.2 93.8,362.6 94.4,363.1 95.0,363.5 95.6,364.0" fill="none" stroke="#222" stroke-width="0.45" stroke-linejoin="round"/>
<polyline points="44.0,364.2 44.7,364.1 45.5,364.1 46.2,364.0 46.2,363.3 46.2,362.6 46.2,361.9 46.2,361.2 46.2,360.5 46.2,359.8 46.3,359.0 46.3,358.3 46.3,357.6 46.3,356.9 46.3,356.2 46.3,355.5 46.3,354.8 46.3,354.1 46.3,353.4 46.3,352.7 46.3,352.0 46.4,351.2 46.4,350.5 46.4,349.8 46.4,349.1 46.4,348.4 46.4,347.7 46.4,347.0 46.4,346.3 46.4,345.6 46.4,344.9 46.4,344.2 46.4,343.5 46.5,342.8 46.5,342.0 46.5,341.3 46.5,340.6 46.5,339.9 46.5,339.2 46.5,338.5 46.5,337.8 46.5,337.1 46.5,336.4 46.5,335.7 46.5,335.0 46.6,334.2 46.6,333.5 46.6,332.8 46.6,332.1 46.6,331.4 46.6,330.7 46.6,330.0 46.6,329.3 46.6,328.6 46.7,327.8 46.7,327.1 46.7,326.4 46.7,325.7 46.8,325.0 46.8,324.2 46.8,323.5 46.8,322.8 46.9,322.1 46.9,321.4 46.9,320.6 46.9,319.9 47.0,319.2 47.0,318.5 47.0,317.8 47.0,317.0 47.1,316.3 47.1,315.6 47.1,314.9 47.1,314.2 47.2,313.4 47.2,312.7 47.2,312.0 47.5,311.2 47.7,310.5 48.0,309.8 48.2,309.0 48.3,308.2 48.3,307.5 48.4,306.8 48.5,306.0 48.5,305.2 48.6,304.5 48.7,303.8 48.7,303.0 48.8,302.2 48.9,301.5 48.9,300.8 49.0,300.0 49.1,299.3 49.1,298.6 49.2,297.9 49.3,297.2 49.4,296.5 49.5,295.8 49.5,295.1 49.6,294.4 49.7,293.7 49.8,293.0 49.8,292.3 49.9,291.6 50.0,290.9 50.0,290.2 50.1,289.5 50.2,288.8 50.3,288.1 50.4,287.4 50.4,286.7 50.5,286.0 50.6,285.3 50.8,284.6 50.9,283.9 51.0,283.2 51.1,282.5 51.3,281.8 51.4,281.1 51.5,280.4 51.7,279.7 51.8,279.0 51.9,279.7 51.9,280.5 52.0,281.2 52.1,281.9 52.1,282.7 52.2,283.4 52.3,284.1 52.3,284.9 52.4,285.6 52.5,286.3 52.5,287.1 52.6,287.8 52.7,288.5 52.7,289.3 52.8,290.0 52.8,290.7 52.9,291.4 52.9,292.1 52.9,292.9 53.0,293.6 53.0,294.3 53.0,295.0 53.1,295.7 53.1,296.4 53.2,297.1 53.2,297.9 53.2,298.6 53.3,299.3 53.3,300.0 53.3,300.7 53.4,301.4 53.4,302.1 53.4,302.9 53.5,303.6 53.5,304.3 53.5,305.0 53.6,305.7 53.6,306.4 53.7,307.1 53.7,307.9 53.7,308.6 53.8,309.3 53.8,310.0 53.9,310.7 53.9,311.4 54.0,312.1 54.1,312.8 54.2,313.5 54.2,314.2 54.3,314.9 54.4,315.6 54.4,316.4 54.5,317.1 54.6,317.8 54.6,318.5 54.7,319.2 54.8,319.9 54.9,320.6 54.9,321.3 55.0,322.0 55.6,322.5 56.3,323.1 56.9,323.6 57.3,322.8 57.7,324.6 58.1,324.3 58.5,325.6 58.8,325.0 59.1,327.6 59.5,327.6 59.8,327.3 60.0,327.8 60.2,328.5 60.4,330.1 60.6,331.2 60.8,330.3 61.0,331.9 61.5,333.9 62.0,334.3 62.5,331.5 63.2,335.5 64.0,335.2 64.6,335.3 65.2,337.5 65.9,338.0 66.5,338.3 66.7,339.4 66.8,339.9 67.0,340.0 67.2,340.1 67.3,342.2 67.5,340.5 67.6,342.9 67.8,342.6 68.3,345.1 68.9,343.8 69.5,346.7 70.0,346.2 70.6,347.7 71.2,343.8 71.8,349.3 72.5,348.6 73.1,348.4 73.8,350.5 74.4,350.4 75.1,351.5 75.7,351.3 76.4,352.0 77.1,350.8 77.7,351.7 78.4,351.6 79.0,350.3 79.7,352.5 80.4,352.6 81.0,354.0 81.7,352.9 82.3,353.7 83.0,353.5 83.7,355.1 84.3,353.8 85.0,355.1 85.7,356.1 86.3,355.5 87.0,355.8 87.7,356.6 88.3,355.2 89.0,357.4 89.6,357.4 90.3,357.8 91.0,358.4 91.6,358.8 92.3,359.1 92.9,358.7 93.6,358.3 94.3,359.5 94.9,359.5 95.6,358.3 96.3,359.2 97.1,359.1 97.8,359.6 98.5,359.8 99.3,360.6 100.0,359.7 100.8,358.3 101.5,360.6 102.3,360.1 103.1,358.3 103.9,360.9 104.7,359.9 105.4,360.1 106.2,359.8 106.9,358.0 107.7,359.1 108.4,361.6 109.1,360.8 109.8,361.9 110.5,360.8 111.3,362.1 112.0,361.8 112.7,360.9 113.4,361.6 114.1,362.7 114.9,360.9 115.6,362.0 116.3,362.1 117.0,363.0 117.5,363.6 118.0,364.2" fill="none" stroke="#000" stroke-width="0.5" stroke-linejoin="round"/>
<line x1="35.10" y1="276.00" x2="35.10" y2="364.70" stroke="#000" stroke-width="0.8"/>
<line x1="35.10" y1="364.20" x2="121.40" y2="364.20" stroke="#000" stroke-width="0.8"/>
<line x1="38.30" y1="364.20" x2="38.30" y2="366.40" stroke="#000" stroke-width="0.6"/>
<text x="38.30" y="373.00" font-size="4.6" font-weight="bold" text-anchor="middle" fill="#222" stroke="#222" stroke-width="0.22">0</text>
<line x1="57.50" y1="364.20" x2="57.50" y2="366.40" stroke="#000" stroke-width="0.6"/>
<text x="57.50" y="373.00" font-size="4.6" font-weight="bold" text-anchor="middle" fill="#222" stroke="#222" stroke-width="0.22">50</text>
<line x1="79.60" y1="364.20" x2="79.60" y2="366.40" stroke="#000" stroke-width="0.6"/>
<text x="79.60" y="373.00" font-size="4.6" font-weight="bold" text-anchor="middle" fill="#222" stroke="#222" stroke-width="0.22">100</text>
<line x1="100.40" y1="364.20" x2="100.40" y2="366.40" stroke="#000" stroke-width="0.6"/>
<text x="100.40" y="373.00" font-size="4.6" font-weight="bold" text-anchor="middle" fill="#222" stroke="#222" stroke-width="0.22">150</text>
<line x1="120.70" y1="364.20" x2="120.70" y2="366.40" stroke="#000" stroke-width="0.6"/>
<text x="120.70" y="373.00" font-size="4.6" font-weight="bold" text-anchor="middle" fill="#222" stroke="#222" stroke-width="0.22">200</text>
<line x1="40.37" y1="364.20" x2="40.37" y2="365.50" stroke="#000" stroke-width="0.5"/>
<line x1="42.44" y1="364.20" x2="42.44" y2="365.50" stroke="#000" stroke-width="0.5"/>
<line x1="44.51" y1="364.20" x2="44.51" y2="365.50" stroke="#000" stroke-width="0.5"/>
<line x1="46.58" y1="364.20" x2="46.58" y2="365.50" stroke="#000" stroke-width="0.5"/>
<line x1="48.65" y1="364.20" x2="48.65" y2="365.50" stroke="#000" stroke-width="0.5"/>
<line x1="50.72" y1="364.20" x2="50.72" y2="365.50" stroke="#000" stroke-width="0.5"/>
<line x1="52.79" y1="364.20" x2="52.79" y2="365.50" stroke="#000" stroke-width="0.5"/>
<line x1="54.86" y1="364.20" x2="54.86" y2="365.50" stroke="#000" stroke-width="0.5"/>
<line x1="56.93" y1="364.20" x2="56.93" y2="365.50" stroke="#000" stroke-width="0.5"/>
<line x1="59.00" y1="364.20" x2="59.00" y2="365.50" stroke="#000" stroke-width="0.5"/>
<line x1="61.07" y1="364.20" x2="61.07" y2="365.50" stroke="#000" stroke-width="0.5"/>
<line x1="63.14" y1="364.20" x2="63.14" y2="365.50" stroke="#000" stroke-width="0.5"/>
<line x1="65.21" y1="364.20" x2="65.21" y2="365.50" stroke="#000" stroke-width="0.5"/>
<line x1="67.28" y1="364.20" x2="67.28" y2="365.50" stroke="#000" stroke-width="0.5"/>
<line x1="69.35" y1="364.20" x2="69.35" y2="365.50" stroke="#000" stroke-width="0.5"/>
<line x1="71.42" y1="364.20" x2="71.42" y2="365.50" stroke="#000" stroke-width="0.5"/>
<line x1="73.49" y1="364.20" x2="73.49" y2="365.50" stroke="#000" stroke-width="0.5"/>
<line x1="75.56" y1="364.20" x2="75.56" y2="365.50" stroke="#000" stroke-width="0.5"/>
<line x1="77.63" y1="364.20" x2="77.63" y2="365.50" stroke="#000" stroke-width="0.5"/>
<line x1="79.70" y1="364.20" x2="79.70" y2="365.50" stroke="#000" stroke-width="0.5"/>
<line x1="81.77" y1="364.20" x2="81.77" y2="365.50" stroke="#000" stroke-width="0.5"/>
<line x1="83.84" y1="364.20" x2="83.84" y2="365.50" stroke="#000" stroke-width="0.5"/>
<line x1="85.91" y1="364.20" x2="85.91" y2="365.50" stroke="#000" stroke-width="0.5"/>
<line x1="87.98" y1="364.20" x2="87.98" y2="365.50" stroke="#000" stroke-width="0.5"/>
<line x1="90.05" y1="364.20" x2="90.05" y2="365.50" stroke="#000" stroke-width="0.5"/>
<line x1="92.12" y1="364.20" x2="92.12" y2="365.50" stroke="#000" stroke-width="0.5"/>
<line x1="94.19" y1="364.20" x2="94.19" y2="365.50" stroke="#000" stroke-width="0.5"/>
<line x1="96.26" y1="364.20" x2="96.26" y2="365.50" stroke="#000" stroke-width="0.5"/>
<line x1="98.33" y1="364.20" x2="98.33" y2="365.50" stroke="#000" stroke-width="0.5"/>
<line x1="100.40" y1="364.20" x2="100.40" y2="365.50" stroke="#000" stroke-width="0.5"/>
<line x1="102.47" y1="364.20" x2="102.47" y2="365.50" stroke="#000" stroke-width="0.5"/>
<line x1="104.54" y1="364.20" x2="104.54" y2="365.50" stroke="#000" stroke-width="0.5"/>
<line x1="106.61" y1="364.20" x2="106.61" y2="365.50" stroke="#000" stroke-width="0.5"/>
<line x1="108.68" y1="364.20" x2="108.68" y2="365.50" stroke="#000" stroke-width="0.5"/>
<line x1="110.75" y1="364.20" x2="110.75" y2="365.50" stroke="#000" stroke-width="0.5"/>
<line x1="112.82" y1="364.20" x2="112.82" y2="365.50" stroke="#000" stroke-width="0.5"/>
<line x1="114.89" y1="364.20" x2="114.89" y2="365.50" stroke="#000" stroke-width="0.5"/>
<line x1="116.96" y1="364.20" x2="116.96" y2="365.50" stroke="#000" stroke-width="0.5"/>
<line x1="119.03" y1="364.20" x2="119.03" y2="365.50" stroke="#000" stroke-width="0.5"/>
<line x1="121.10" y1="364.20" x2="121.10" y2="365.50" stroke="#000" stroke-width="0.5"/>
<line x1="32.70" y1="364.20" x2="35.10" y2="364.20" stroke="#000" stroke-width="0.55"/>
<text x="29.70" y="364.20" font-size="3.9" font-weight="bold" text-anchor="middle" fill="#222" transform="rotate(-90 29.70 364.20)" stroke="#222" stroke-width="0.12">0</text>
<line x1="33.70" y1="360.59" x2="35.10" y2="360.59" stroke="#000" stroke-width="0.55"/>
<line x1="33.70" y1="356.97" x2="35.10" y2="356.97" stroke="#000" stroke-width="0.55"/>
<line x1="33.70" y1="353.36" x2="35.10" y2="353.36" stroke="#000" stroke-width="0.55"/>
<line x1="32.70" y1="349.75" x2="35.10" y2="349.75" stroke="#000" stroke-width="0.55"/>
<text x="29.70" y="349.75" font-size="3.9" font-weight="bold" text-anchor="middle" fill="#222" transform="rotate(-90 29.70 349.75)" stroke="#222" stroke-width="0.12">50</text>
<line x1="33.70" y1="346.14" x2="35.10" y2="346.14" stroke="#000" stroke-width="0.55"/>
<line x1="33.70" y1="342.52" x2="35.10" y2="342.52" stroke="#000" stroke-width="0.55"/>
<line x1="33.70" y1="338.91" x2="35.10" y2="338.91" stroke="#000" stroke-width="0.55"/>
<line x1="32.70" y1="335.30" x2="35.10" y2="335.30" stroke="#000" stroke-width="0.55"/>
<text x="29.70" y="335.30" font-size="3.9" font-weight="bold" text-anchor="middle" fill="#222" transform="rotate(-90 29.70 335.30)" stroke="#222" stroke-width="0.12">100</text>
<line x1="33.70" y1="331.69" x2="35.10" y2="331.69" stroke="#000" stroke-width="0.55"/>
<line x1="33.70" y1="328.07" x2="35.10" y2="328.07" stroke="#000" stroke-width="0.55"/>
<line x1="33.70" y1="324.46" x2="35.10" y2="324.46" stroke="#000" stroke-width="0.55"/>
<line x1="32.70" y1="320.85" x2="35.10" y2="320.85" stroke="#000" stroke-width="0.55"/>
<text x="29.70" y="320.85" font-size="3.9" font-weight="bold" text-anchor="middle" fill="#222" transform="rotate(-90 29.70 320.85)" stroke="#222" stroke-width="0.12">150</text>
<line x1="33.70" y1="317.24" x2="35.10" y2="317.24" stroke="#000" stroke-width="0.55"/>
<line x1="33.70" y1="313.62" x2="35.10" y2="313.62" stroke="#000" stroke-width="0.55"/>
<line x1="33.70" y1="310.01" x2="35.10" y2="310.01" stroke="#000" stroke-width="0.55"/>
<line x1="32.70" y1="306.40" x2="35.10" y2="306.40" stroke="#000" stroke-width="0.55"/>
<text x="29.70" y="306.40" font-size="3.9" font-weight="bold" text-anchor="middle" fill="#222" transform="rotate(-90 29.70 306.40)" stroke="#222" stroke-width="0.12">200</text>
<line x1="33.70" y1="302.79" x2="35.10" y2="302.79" stroke="#000" stroke-width="0.55"/>
<line x1="33.70" y1="299.18" x2="35.10" y2="299.18" stroke="#000" stroke-width="0.55"/>
<line x1="33.70" y1="295.56" x2="35.10" y2="295.56" stroke="#000" stroke-width="0.55"/>
<line x1="32.70" y1="291.95" x2="35.10" y2="291.95" stroke="#000" stroke-width="0.55"/>
<text x="29.70" y="291.95" font-size="3.9" font-weight="bold" text-anchor="middle" fill="#222" transform="rotate(-90 29.70 291.95)" stroke="#222" stroke-width="0.12">250</text>
<line x1="33.70" y1="288.34" x2="35.10" y2="288.34" stroke="#000" stroke-width="0.55"/>
<line x1="33.70" y1="284.73" x2="35.10" y2="284.73" stroke="#000" stroke-width="0.55"/>
<line x1="33.70" y1="281.11" x2="35.10" y2="281.11" stroke="#000" stroke-width="0.55"/>
<line x1="32.70" y1="277.50" x2="35.10" y2="277.50" stroke="#000" stroke-width="0.55"/>
<text x="29.70" y="277.50" font-size="3.9" font-weight="bold" text-anchor="middle" fill="#222" transform="rotate(-90 29.70 277.50)" stroke="#222" stroke-width="0.12">300</text>
<text x="23.10" y="322.35" font-size="4.2" font-weight="bold" text-anchor="middle" fill="#222" transform="rotate(-90 23.10 322.35)" stroke="#222" stroke-width="0.12">Number</text>
<text x="78.25" y="380.00" font-size="4.0" font-weight="bold" text-anchor="middle" fill="#222" stroke="#222" stroke-width="0.12">FL3-A</text>
<rect x="103.80" y="274.70" width="5.00" height="4.00" fill="#c8202a"/>
<text x="111.60" y="278.20" font-size="4.0" font-weight="bold" text-anchor="start" fill="#222" stroke="#222" stroke-width="0.12">Dip G1</text>
<rect x="103.80" y="279.50" width="5.00" height="4.00" fill="#2c3096"/>
<text x="111.60" y="283.00" font-size="4.0" font-weight="bold" text-anchor="start" fill="#222" stroke="#222" stroke-width="0.12">Dip G2</text>
<rect x="103.80" y="284.30" width="5.00" height="4.00" fill="url(#pS)"/>
<text x="111.60" y="287.80" font-size="4.0" font-weight="bold" text-anchor="start" fill="#222" stroke="#222" stroke-width="0.12">Dip S</text>
<text x="69.10" y="306.10" font-size="5.7" font-weight="normal" text-anchor="start" fill="#111" stroke="#111" stroke-width="0.14">G0/G1=49.13%</text>
<text x="69.10" y="312.70" font-size="5.7" font-weight="normal" text-anchor="start" fill="#111" stroke="#111" stroke-width="0.14">S=30.66%</text>
<text x="69.10" y="319.30" font-size="5.7" font-weight="normal" text-anchor="start" fill="#111" stroke="#111" stroke-width="0.14">G2/M=20.21%</text>
<text x="192.20" y="265.20" font-size="7.6" font-weight="bold" text-anchor="middle" fill="#111" textLength="89.5" lengthAdjust="spacingAndGlyphs" stroke="#111" stroke-width="0.22">HCT116 + shRNA-control</text>
<path d="M152.9,364.2 L152.9,364.1 L153.2,364.0 L153.4,364.0 L153.7,363.9 L153.9,363.8 L154.2,363.7 L154.4,363.5 L154.7,363.4 L154.9,363.1 L155.2,362.8 L155.4,362.5 L155.7,362.1 L155.9,361.5 L156.2,360.9 L156.4,360.2 L156.7,359.3 L156.9,358.3 L157.2,357.1 L157.4,355.8 L157.7,354.3 L157.9,352.5 L158.2,350.6 L158.4,348.4 L158.7,346.1 L158.9,343.5 L159.2,340.7 L159.4,337.8 L159.7,334.6 L159.9,331.4 L160.2,328.0 L160.4,324.6 L160.7,321.1 L160.9,317.6 L161.2,314.2 L161.4,311.0 L161.7,307.9 L161.9,305.1 L162.2,302.5 L162.4,300.3 L162.7,298.4 L162.9,297.0 L163.2,296.0 L163.4,295.5 L163.7,295.4 L163.9,295.9 L164.2,296.8 L164.4,298.1 L164.7,299.9 L164.9,302.0 L165.2,304.5 L165.4,307.3 L165.7,310.3 L165.9,313.6 L166.2,316.9 L166.4,320.4 L166.7,323.9 L166.9,327.3 L167.2,330.7 L167.4,334.0 L167.7,337.2 L167.9,340.2 L168.2,343.0 L168.4,345.6 L168.7,348.0 L168.9,350.2 L169.2,352.2 L169.4,353.9 L169.7,355.5 L169.9,356.9 L170.2,358.1 L170.4,359.1 L170.7,360.0 L170.9,360.8 L171.2,361.4 L171.4,362.0 L171.7,362.4 L171.9,362.8 L172.2,363.1 L172.4,363.3 L172.7,363.5 L172.9,363.7 L173.2,363.8 L173.4,363.9 L173.7,364.0 L173.9,364.0 L174.2,364.1 L174.2,364.2 Z" fill="#c8202a" stroke="#4a1010" stroke-width="0.45"/>
<path d="M157.9,364.2 L157.9,364.1 L158.2,364.0 L158.4,364.0 L158.7,363.9 L158.9,363.9 L159.2,363.8 L159.4,363.7 L159.7,363.6 L159.9,363.4 L160.2,363.3 L160.4,363.1 L160.7,362.9 L160.9,362.6 L161.2,362.3 L161.4,362.0 L161.7,361.6 L161.9,361.3 L162.2,360.8 L162.4,360.3 L162.7,359.8 L162.9,359.3 L163.2,358.7 L163.4,358.1 L163.7,357.4 L163.9,356.7 L164.2,356.0 L164.4,355.3 L164.7,354.6 L164.9,353.8 L165.2,353.1 L165.4,352.4 L165.7,351.7 L165.9,350.9 L166.2,350.3 L166.4,349.6 L166.7,349.0 L166.9,348.4 L167.2,347.8 L167.4,347.3 L167.7,346.8 L167.9,346.4 L168.2,346.0 L168.4,345.6 L168.7,345.3 L168.9,345.0 L169.2,344.8 L169.4,344.6 L169.7,344.5 L169.9,344.4 L170.2,344.3 L170.4,344.3 L170.7,344.3 L170.9,344.4 L171.2,344.4 L171.4,344.6 L171.7,344.7 L171.9,344.9 L172.2,345.2 L172.4,345.5 L172.7,345.8 L172.9,346.2 L173.2,346.6 L173.4,347.1 L173.7,347.6 L173.9,348.1 L174.2,348.7 L174.4,349.3 L174.7,350.0 L174.9,350.7 L175.2,351.4 L175.4,352.1 L175.7,352.8 L175.9,353.6 L176.2,354.3 L176.4,355.0 L176.7,355.8 L176.9,356.5 L177.2,357.2 L177.4,357.8 L177.7,358.4 L177.9,359.0 L178.2,359.6 L178.4,360.1 L178.7,360.6 L178.9,361.1 L179.2,361.5 L179.4,361.9 L179.7,362.2 L179.9,362.5 L180.2,362.8 L180.4,363.0 L180.7,363.2 L180.9,363.4 L181.2,363.5 L181.4,363.6 L181.7,363.7 L181.9,363.8 L182.2,363.9 L182.4,364.0 L182.7,364.0 L182.9,364.1 L182.9,364.2 Z" fill="url(#pS)" fill-opacity="0.78" stroke="#2a2a2a" stroke-width="0.45"/>
<path d="M167.2,364.2 L167.2,364.1 L167.4,364.0 L167.7,364.0 L167.9,364.0 L168.2,363.9 L168.4,363.9 L168.7,363.8 L168.9,363.7 L169.2,363.6 L169.4,363.6 L169.7,363.4 L169.9,363.3 L170.2,363.2 L170.4,363.1 L170.7,362.9 L170.9,362.7 L171.2,362.5 L171.4,362.3 L171.7,362.1 L171.9,361.8 L172.2,361.6 L172.4,361.3 L172.7,361.0 L172.9,360.6 L173.2,360.3 L173.4,359.9 L173.7,359.5 L173.9,359.2 L174.2,358.7 L174.4,358.3 L174.7,357.9 L174.9,357.5 L175.2,357.1 L175.4,356.6 L175.7,356.2 L175.9,355.8 L176.2,355.4 L176.4,355.1 L176.7,354.7 L176.9,354.4 L177.2,354.1 L177.4,353.8 L177.7,353.6 L177.9,353.4 L178.2,353.2 L178.4,353.1 L178.7,353.0 L178.9,353.0 L179.2,353.0 L179.4,353.1 L179.7,353.2 L179.9,353.3 L180.2,353.5 L180.4,353.7 L180.7,354.0 L180.9,354.3 L181.2,354.6 L181.4,354.9 L181.7,355.3 L181.9,355.7 L182.2,356.1 L182.4,356.5 L182.7,356.9 L182.9,357.3 L183.2,357.7 L183.4,358.2 L183.7,358.6 L183.9,359.0 L184.2,359.4 L184.4,359.8 L184.7,360.1 L184.9,360.5 L185.2,360.8 L185.4,361.1 L185.7,361.4 L185.9,361.7 L186.2,362.0 L186.4,362.2 L186.7,362.4 L186.9,362.6 L187.2,362.8 L187.4,363.0 L187.7,363.1 L187.9,363.3 L188.2,363.4 L188.4,363.5 L188.7,363.6 L188.9,363.7 L189.2,363.8 L189.4,363.8 L189.7,363.9 L189.9,363.9 L190.2,364.0 L190.4,364.0 L190.7,364.0 L190.9,364.1 L190.9,364.2 Z" fill="#2c3096" stroke="#111" stroke-width="0.45"/>
<polyline points="156.5,364.0 156.5,363.3 156.6,362.6 156.6,361.9 156.6,361.2 156.6,360.5 156.7,359.8 156.7,359.1 156.7,358.3 156.7,357.6 156.8,356.9 156.8,356.2 156.8,355.5 156.8,354.8 156.9,354.1 156.9,353.4 156.9,352.7 157.0,352.0 157.0,351.3 157.0,350.6 157.0,349.9 157.1,349.2 157.1,348.5 157.1,347.7 157.1,347.0 157.2,346.3 157.2,345.6 157.2,344.9 157.2,344.2 157.3,343.5 157.3,342.8 157.3,342.1 157.4,341.4 157.4,340.7 157.4,340.0 157.4,339.3 157.5,338.6 157.5,337.9 157.5,337.1 157.5,336.4 157.6,335.7 157.6,335.0 157.6,334.3 157.6,333.6 157.7,332.9 157.7,332.2 157.7,331.5 157.8,330.8 157.8,330.1 157.8,329.4 157.8,328.7 157.9,328.0 157.9,327.3 157.9,326.5 157.9,325.8 158.0,325.1 158.0,324.4 158.0,323.7 158.0,323.0 158.1,322.3 158.1,321.6 158.1,320.9 158.2,320.2 158.2,319.5 158.2,318.8 158.2,318.1 158.3,317.4 158.3,316.7 158.3,315.9 158.3,315.2 158.4,314.5 158.4,313.8 158.4,313.1 158.4,312.4 158.5,311.7 158.5,311.0 158.7,310.3 158.8,309.6 159.0,308.9 159.1,308.2 159.3,307.6 159.4,306.9 159.6,306.2 159.8,305.5 159.9,304.8 160.1,304.1 160.2,303.4 160.4,302.8 160.5,302.1 160.7,301.4 160.8,300.7 161.0,300.0 161.1,299.3 161.3,298.6 161.4,297.9 161.5,297.2 161.7,296.5 161.8,295.8 161.9,295.1 162.0,294.4 162.2,293.7 162.3,292.9 162.4,292.2 162.6,291.5 162.7,290.8 162.8,290.1 162.9,289.4 163.1,288.7 163.2,288.0 163.3,287.3 163.5,286.6 163.6,285.9 163.8,286.7 163.9,287.4 164.1,288.2 164.3,288.9 164.5,289.7 164.7,290.5 164.8,291.2 165.0,292.0 165.0,292.7 165.1,293.4 165.1,294.1 165.2,294.8 165.2,295.5 165.2,296.2 165.3,296.9 165.3,297.6 165.4,298.3 165.4,299.0 165.5,299.7 165.5,300.4 165.5,301.1 165.6,301.8 165.6,302.5 165.7,303.2 165.7,303.9 165.8,304.6 165.8,305.3 165.8,306.0 165.9,306.7 165.9,307.4 166.0,308.1 166.0,308.9 166.0,309.6 166.1,310.3 166.1,311.0 166.2,311.7 166.2,312.4 166.2,313.1 166.3,313.8 166.3,314.5 166.4,315.2 166.4,315.9 166.5,316.6 166.5,317.3 166.5,318.0 166.6,318.7 166.6,319.4 166.7,320.1 166.7,320.8 166.8,321.5 166.8,322.2 166.8,322.9 166.9,323.6 166.9,324.3 167.0,325.0 167.0,325.7 167.2,326.4 167.3,327.1 167.5,327.8 167.7,328.5 167.9,329.1 168.0,329.8 168.2,330.5 168.4,331.2 168.5,331.9 168.7,332.6 168.9,333.3 169.0,334.0 169.2,334.6 169.4,335.3 169.6,336.0 169.7,336.7 169.9,337.4 170.6,337.7 171.4,337.9 172.1,338.2 172.8,338.5 173.5,338.8 174.3,339.0 175.0,339.3 175.6,339.8 176.1,340.3 176.7,340.8 177.2,341.3 177.8,341.8 178.3,342.3 178.9,342.8 179.4,343.3 180.0,343.8 180.4,344.4 180.7,345.1 181.1,345.7 181.4,346.4 181.8,347.0 182.1,347.7 182.5,348.3 182.9,348.9 183.2,349.6 183.6,350.2 183.9,350.9 184.3,351.5 184.6,352.2 185.0,352.8 185.4,353.4 185.8,354.0 186.2,354.6 186.7,355.2 187.1,355.8 187.5,356.4 187.9,357.0 188.3,357.6 188.8,358.2 189.2,358.8 189.6,359.4 190.0,360.0 190.6,360.5 191.2,360.9 191.9,361.4 192.5,361.9 193.1,362.3 193.8,362.8 194.4,363.2 195.0,363.7" fill="none" stroke="#222" stroke-width="0.45" stroke-linejoin="round"/>
<polyline points="155.0,364.0 155.7,363.9 156.5,363.8 157.2,363.7 157.2,363.0 157.2,362.3 157.2,361.6 157.2,360.9 157.2,360.2 157.2,359.5 157.2,358.8 157.2,358.1 157.2,357.4 157.2,356.7 157.2,356.0 157.2,355.2 157.2,354.5 157.2,353.8 157.2,353.1 157.2,352.4 157.2,351.7 157.2,351.0 157.2,350.3 157.2,349.6 157.2,348.9 157.2,348.2 157.2,347.5 157.2,346.8 157.2,346.1 157.2,345.4 157.2,344.7 157.2,344.0 157.2,343.3 157.2,342.6 157.2,341.9 157.2,341.2 157.2,340.5 157.2,339.8 157.2,339.1 157.2,338.4 157.2,337.6 157.2,336.9 157.2,336.2 157.2,335.5 157.2,334.8 157.2,334.1 157.2,333.4 157.2,332.7 157.2,332.0 157.2,331.3 157.2,330.6 157.2,329.9 157.2,329.2 157.2,328.5 157.2,327.8 157.2,327.1 157.2,326.4 157.2,325.7 157.2,325.0 157.2,324.3 157.2,323.6 157.2,322.9 157.2,322.2 157.2,321.4 157.2,320.7 157.2,320.0 157.2,319.3 157.2,318.6 157.2,317.9 157.2,317.2 157.2,316.5 157.2,315.8 157.2,315.1 157.2,314.4 157.2,313.7 157.2,313.0 157.8,312.4 158.4,311.8 159.0,311.2 159.2,310.5 159.4,309.8 159.6,309.0 159.8,308.3 159.9,307.6 160.1,305.1 160.3,306.2 160.5,305.4 160.7,304.4 160.9,302.9 161.0,303.6 161.0,302.5 161.1,299.5 161.1,300.8 161.2,298.9 161.2,298.0 161.3,298.5 161.3,297.6 161.4,296.6 161.5,295.5 161.5,293.7 161.6,293.1 161.6,294.0 161.7,292.2 161.7,292.5 161.8,292.0 161.9,290.8 161.9,291.2 162.0,290.4 162.0,286.8 162.1,288.0 162.1,287.8 162.2,287.7 162.2,283.4 162.3,286.0 162.6,284.4 162.9,283.9 163.3,283.3 163.6,282.5 163.7,283.6 163.9,284.3 164.0,285.5 164.1,285.9 164.3,285.7 164.4,285.3 164.5,287.2 164.7,288.3 164.8,288.5 164.9,289.6 164.9,291.0 165.0,291.8 165.0,292.1 165.1,289.5 165.2,291.9 165.2,294.5 165.3,294.6 165.4,295.1 165.4,296.1 165.5,295.5 165.5,297.5 165.6,298.3 165.7,298.5 165.7,299.0 165.8,300.4 165.8,300.2 165.9,299.8 166.0,302.7 166.0,302.3 166.1,303.8 166.1,305.0 166.2,304.4 166.3,304.7 166.3,305.7 166.4,306.6 166.5,307.7 166.5,308.5 166.6,308.1 166.6,309.7 166.7,311.3 166.7,311.1 166.8,311.3 166.8,312.2 166.9,314.0 166.9,314.9 166.9,314.8 167.0,312.9 167.0,316.8 167.1,314.4 167.1,318.4 167.1,317.9 167.2,317.3 167.2,320.4 167.3,321.0 167.3,322.4 167.3,319.9 167.4,322.7 167.4,324.6 167.5,325.2 167.5,324.7 167.5,326.8 167.6,327.3 167.6,326.2 167.7,328.5 167.7,324.3 167.9,329.9 168.2,330.8 168.4,331.8 168.7,331.3 168.9,330.8 169.2,332.8 169.4,332.7 169.7,335.1 169.9,334.2 170.6,334.1 171.3,336.1 172.1,336.3 172.8,333.1 173.5,336.2 174.2,336.5 174.9,336.5 175.7,334.5 176.4,337.0 177.1,334.3 177.5,336.2 177.9,338.9 178.3,339.5 178.7,339.4 179.1,340.8 179.5,340.6 179.9,341.5 180.2,340.9 180.6,341.6 180.9,342.1 181.2,344.0 181.5,345.1 181.9,342.5 182.2,345.3 182.5,345.7 182.8,347.5 183.2,345.6 183.5,347.8 183.9,350.1 184.3,349.3 184.7,348.8 185.0,350.5 185.4,352.3 185.8,351.5 186.2,353.3 186.8,353.3 187.4,354.7 188.0,353.3 188.6,353.3 189.2,355.8 189.8,354.2 190.4,355.3 191.0,354.5 191.6,355.6 192.2,355.4 192.8,357.7 193.4,358.2 194.1,358.3 194.9,358.0 195.6,357.8 196.3,356.8 197.0,358.1 197.8,357.0 198.5,358.6 199.2,357.9 199.9,357.9 200.7,358.8 201.4,357.9 202.1,359.4 202.8,357.9 203.6,358.5 204.3,357.6 205.0,359.2 205.8,359.2 206.5,358.9 207.2,357.7 207.9,359.8 208.7,357.8 209.4,358.7 210.1,359.5 210.8,358.4 211.6,359.9 212.3,359.4 213.0,360.0 213.7,359.7 214.5,359.2 215.2,360.4 215.9,359.3 216.6,360.5 217.4,360.7 218.1,360.1 218.8,360.0 219.5,360.6 220.2,359.6 221.0,360.6 221.7,358.0 222.4,359.1 223.1,361.5 223.8,360.7 224.6,360.3 225.3,359.5 226.0,360.1 226.3,362.7 226.7,363.2 227.0,364.0" fill="none" stroke="#000" stroke-width="0.5" stroke-linejoin="round"/>
<line x1="145.70" y1="277.10" x2="145.70" y2="364.70" stroke="#000" stroke-width="0.8"/>
<line x1="145.70" y1="364.20" x2="232.20" y2="364.20" stroke="#000" stroke-width="0.8"/>
<line x1="147.80" y1="364.20" x2="147.80" y2="366.40" stroke="#000" stroke-width="0.6"/>
<text x="147.80" y="373.00" font-size="4.6" font-weight="bold" text-anchor="middle" fill="#222" stroke="#222" stroke-width="0.22">0</text>
<line x1="168.20" y1="364.20" x2="168.20" y2="366.40" stroke="#000" stroke-width="0.6"/>
<text x="168.20" y="373.00" font-size="4.6" font-weight="bold" text-anchor="middle" fill="#222" stroke="#222" stroke-width="0.22">50</text>
<line x1="189.60" y1="364.20" x2="189.60" y2="366.40" stroke="#000" stroke-width="0.6"/>
<text x="189.60" y="373.00" font-size="4.6" font-weight="bold" text-anchor="middle" fill="#222" stroke="#222" stroke-width="0.22">100</text>
<line x1="210.40" y1="364.20" x2="210.40" y2="366.40" stroke="#000" stroke-width="0.6"/>
<text x="210.40" y="373.00" font-size="4.6" font-weight="bold" text-anchor="middle" fill="#222" stroke="#222" stroke-width="0.22">150</text>
<line x1="230.90" y1="364.20" x2="230.90" y2="366.40" stroke="#000" stroke-width="0.6"/>
<text x="230.90" y="373.00" font-size="4.6" font-weight="bold" text-anchor="middle" fill="#222" stroke="#222" stroke-width="0.22">200</text>
<line x1="149.87" y1="364.20" x2="149.87" y2="365.50" stroke="#000" stroke-width="0.5"/>
<line x1="151.94" y1="364.20" x2="151.94" y2="365.50" stroke="#000" stroke-width="0.5"/>
<line x1="154.01" y1="364.20" x2="154.01" y2="365.50" stroke="#000" stroke-width="0.5"/>
<line x1="156.08" y1="364.20" x2="156.08" y2="365.50" stroke="#000" stroke-width="0.5"/>
<line x1="158.15" y1="364.20" x2="158.15" y2="365.50" stroke="#000" stroke-width="0.5"/>
<line x1="160.22" y1="364.20" x2="160.22" y2="365.50" stroke="#000" stroke-width="0.5"/>
<line x1="162.29" y1="364.20" x2="162.29" y2="365.50" stroke="#000" stroke-width="0.5"/>
<line x1="164.36" y1="364.20" x2="164.36" y2="365.50" stroke="#000" stroke-width="0.5"/>
<line x1="166.43" y1="364.20" x2="166.43" y2="365.50" stroke="#000" stroke-width="0.5"/>
<line x1="168.50" y1="364.20" x2="168.50" y2="365.50" stroke="#000" stroke-width="0.5"/>
<line x1="170.57" y1="364.20" x2="170.57" y2="365.50" stroke="#000" stroke-width="0.5"/>
<line x1="172.64" y1="364.20" x2="172.64" y2="365.50" stroke="#000" stroke-width="0.5"/>
<line x1="174.71" y1="364.20" x2="174.71" y2="365.50" stroke="#000" stroke-width="0.5"/>
<line x1="176.78" y1="364.20" x2="176.78" y2="365.50" stroke="#000" stroke-width="0.5"/>
<line x1="178.85" y1="364.20" x2="178.85" y2="365.50" stroke="#000" stroke-width="0.5"/>
<line x1="180.92" y1="364.20" x2="180.92" y2="365.50" stroke="#000" stroke-width="0.5"/>
<line x1="182.99" y1="364.20" x2="182.99" y2="365.50" stroke="#000" stroke-width="0.5"/>
<line x1="185.06" y1="364.20" x2="185.06" y2="365.50" stroke="#000" stroke-width="0.5"/>
<line x1="187.13" y1="364.20" x2="187.13" y2="365.50" stroke="#000" stroke-width="0.5"/>
<line x1="189.20" y1="364.20" x2="189.20" y2="365.50" stroke="#000" stroke-width="0.5"/>
<line x1="191.27" y1="364.20" x2="191.27" y2="365.50" stroke="#000" stroke-width="0.5"/>
<line x1="193.34" y1="364.20" x2="193.34" y2="365.50" stroke="#000" stroke-width="0.5"/>
<line x1="195.41" y1="364.20" x2="195.41" y2="365.50" stroke="#000" stroke-width="0.5"/>
<line x1="197.48" y1="364.20" x2="197.48" y2="365.50" stroke="#000" stroke-width="0.5"/>
<line x1="199.55" y1="364.20" x2="199.55" y2="365.50" stroke="#000" stroke-width="0.5"/>
<line x1="201.62" y1="364.20" x2="201.62" y2="365.50" stroke="#000" stroke-width="0.5"/>
<line x1="203.69" y1="364.20" x2="203.69" y2="365.50" stroke="#000" stroke-width="0.5"/>
<line x1="205.76" y1="364.20" x2="205.76" y2="365.50" stroke="#000" stroke-width="0.5"/>
<line x1="207.83" y1="364.20" x2="207.83" y2="365.50" stroke="#000" stroke-width="0.5"/>
<line x1="209.90" y1="364.20" x2="209.90" y2="365.50" stroke="#000" stroke-width="0.5"/>
<line x1="211.97" y1="364.20" x2="211.97" y2="365.50" stroke="#000" stroke-width="0.5"/>
<line x1="214.04" y1="364.20" x2="214.04" y2="365.50" stroke="#000" stroke-width="0.5"/>
<line x1="216.11" y1="364.20" x2="216.11" y2="365.50" stroke="#000" stroke-width="0.5"/>
<line x1="218.18" y1="364.20" x2="218.18" y2="365.50" stroke="#000" stroke-width="0.5"/>
<line x1="220.25" y1="364.20" x2="220.25" y2="365.50" stroke="#000" stroke-width="0.5"/>
<line x1="222.32" y1="364.20" x2="222.32" y2="365.50" stroke="#000" stroke-width="0.5"/>
<line x1="224.39" y1="364.20" x2="224.39" y2="365.50" stroke="#000" stroke-width="0.5"/>
<line x1="226.46" y1="364.20" x2="226.46" y2="365.50" stroke="#000" stroke-width="0.5"/>
<line x1="228.53" y1="364.20" x2="228.53" y2="365.50" stroke="#000" stroke-width="0.5"/>
<line x1="230.60" y1="364.20" x2="230.60" y2="365.50" stroke="#000" stroke-width="0.5"/>
<line x1="143.30" y1="364.20" x2="145.70" y2="364.20" stroke="#000" stroke-width="0.55"/>
<text x="140.30" y="364.20" font-size="3.9" font-weight="bold" text-anchor="middle" fill="#222" transform="rotate(-90 140.30 364.20)" stroke="#222" stroke-width="0.12">0</text>
<line x1="144.30" y1="360.63" x2="145.70" y2="360.63" stroke="#000" stroke-width="0.55"/>
<line x1="144.30" y1="357.07" x2="145.70" y2="357.07" stroke="#000" stroke-width="0.55"/>
<line x1="144.30" y1="353.50" x2="145.70" y2="353.50" stroke="#000" stroke-width="0.55"/>
<line x1="143.30" y1="349.93" x2="145.70" y2="349.93" stroke="#000" stroke-width="0.55"/>
<text x="140.30" y="349.93" font-size="3.9" font-weight="bold" text-anchor="middle" fill="#222" transform="rotate(-90 140.30 349.93)" stroke="#222" stroke-width="0.12">50</text>
<line x1="144.30" y1="346.37" x2="145.70" y2="346.37" stroke="#000" stroke-width="0.55"/>
<line x1="144.30" y1="342.80" x2="145.70" y2="342.80" stroke="#000" stroke-width="0.55"/>
<line x1="144.30" y1="339.23" x2="145.70" y2="339.23" stroke="#000" stroke-width="0.55"/>
<line x1="143.30" y1="335.67" x2="145.70" y2="335.67" stroke="#000" stroke-width="0.55"/>
<text x="140.30" y="335.67" font-size="3.9" font-weight="bold" text-anchor="middle" fill="#222" transform="rotate(-90 140.30 335.67)" stroke="#222" stroke-width="0.12">100</text>
<line x1="144.30" y1="332.10" x2="145.70" y2="332.10" stroke="#000" stroke-width="0.55"/>
<line x1="144.30" y1="328.53" x2="145.70" y2="328.53" stroke="#000" stroke-width="0.55"/>
<line x1="144.30" y1="324.97" x2="145.70" y2="324.97" stroke="#000" stroke-width="0.55"/>
<line x1="143.30" y1="321.40" x2="145.70" y2="321.40" stroke="#000" stroke-width="0.55"/>
<text x="140.30" y="321.40" font-size="3.9" font-weight="bold" text-anchor="middle" fill="#222" transform="rotate(-90 140.30 321.40)" stroke="#222" stroke-width="0.12">150</text>
<line x1="144.30" y1="317.83" x2="145.70" y2="317.83" stroke="#000" stroke-width="0.55"/>
<line x1="144.30" y1="314.27" x2="145.70" y2="314.27" stroke="#000" stroke-width="0.55"/>
<line x1="144.30" y1="310.70" x2="145.70" y2="310.70" stroke="#000" stroke-width="0.55"/>
<line x1="143.30" y1="307.13" x2="145.70" y2="307.13" stroke="#000" stroke-width="0.55"/>
<text x="140.30" y="307.13" font-size="3.9" font-weight="bold" text-anchor="middle" fill="#222" transform="rotate(-90 140.30 307.13)" stroke="#222" stroke-width="0.12">200</text>
<line x1="144.30" y1="303.57" x2="145.70" y2="303.57" stroke="#000" stroke-width="0.55"/>
<line x1="144.30" y1="300.00" x2="145.70" y2="300.00" stroke="#000" stroke-width="0.55"/>
<line x1="144.30" y1="296.43" x2="145.70" y2="296.43" stroke="#000" stroke-width="0.55"/>
<line x1="143.30" y1="292.87" x2="145.70" y2="292.87" stroke="#000" stroke-width="0.55"/>
<text x="140.30" y="292.87" font-size="3.9" font-weight="bold" text-anchor="middle" fill="#222" transform="rotate(-90 140.30 292.87)" stroke="#222" stroke-width="0.12">250</text>
<line x1="144.30" y1="289.30" x2="145.70" y2="289.30" stroke="#000" stroke-width="0.55"/>
<line x1="144.30" y1="285.73" x2="145.70" y2="285.73" stroke="#000" stroke-width="0.55"/>
<line x1="144.30" y1="282.17" x2="145.70" y2="282.17" stroke="#000" stroke-width="0.55"/>
<line x1="143.30" y1="278.60" x2="145.70" y2="278.60" stroke="#000" stroke-width="0.55"/>
<text x="140.30" y="278.60" font-size="3.9" font-weight="bold" text-anchor="middle" fill="#222" transform="rotate(-90 140.30 278.60)" stroke="#222" stroke-width="0.12">300</text>
<text x="133.70" y="322.90" font-size="4.2" font-weight="bold" text-anchor="middle" fill="#222" transform="rotate(-90 133.70 322.90)" stroke="#222" stroke-width="0.12">Number</text>
<text x="188.95" y="380.00" font-size="4.0" font-weight="bold" text-anchor="middle" fill="#222" stroke="#222" stroke-width="0.12">FL3-A</text>
<rect x="214.50" y="274.70" width="5.00" height="4.00" fill="#c8202a"/>
<text x="222.30" y="278.20" font-size="4.0" font-weight="bold" text-anchor="start" fill="#222" stroke="#222" stroke-width="0.12">Dip G1</text>
<rect x="214.50" y="279.50" width="5.00" height="4.00" fill="#2c3096"/>
<text x="222.30" y="283.00" font-size="4.0" font-weight="bold" text-anchor="start" fill="#222" stroke="#222" stroke-width="0.12">Dip G2</text>
<rect x="214.50" y="284.30" width="5.00" height="4.00" fill="url(#pS)"/>
<text x="222.30" y="287.80" font-size="4.0" font-weight="bold" text-anchor="start" fill="#222" stroke="#222" stroke-width="0.12">Dip S</text>
<text x="189.10" y="306.10" font-size="5.7" font-weight="normal" text-anchor="start" fill="#111" stroke="#111" stroke-width="0.14">G0/G1=45.45%</text>
<text x="189.10" y="312.70" font-size="5.7" font-weight="normal" text-anchor="start" fill="#111" stroke="#111" stroke-width="0.14">S=38.63%</text>
<text x="189.10" y="319.30" font-size="5.7" font-weight="normal" text-anchor="start" fill="#111" stroke="#111" stroke-width="0.14">G2/M=15.92%</text>
<text x="301.50" y="265.20" font-size="7.6" font-weight="bold" text-anchor="middle" fill="#111" textLength="90.2" lengthAdjust="spacingAndGlyphs" stroke="#111" stroke-width="0.22">HCT116 + shRNA-PVT1-2</text>
<path d="M273.8,364.2 L273.8,364.1 L274.0,364.1 L274.2,364.0 L274.5,364.0 L274.8,364.0 L275.0,363.9 L275.2,363.9 L275.5,363.8 L275.8,363.7 L276.0,363.7 L276.2,363.6 L276.5,363.5 L276.8,363.4 L277.0,363.2 L277.2,363.1 L277.5,362.9 L277.8,362.7 L278.0,362.5 L278.2,362.3 L278.5,362.0 L278.8,361.7 L279.0,361.4 L279.2,361.0 L279.5,360.6 L279.8,360.2 L280.0,359.7 L280.2,359.2 L280.5,358.6 L280.8,358.0 L281.0,357.3 L281.2,356.6 L281.5,355.8 L281.8,355.0 L282.0,354.1 L282.2,353.2 L282.5,352.2 L282.8,351.1 L283.0,350.0 L283.2,348.9 L283.5,347.7 L283.8,346.4 L284.0,345.1 L284.2,343.7 L284.5,342.3 L284.8,340.9 L285.0,339.4 L285.2,338.0 L285.5,336.5 L285.8,335.0 L286.0,333.5 L286.2,332.0 L286.5,330.5 L286.8,329.0 L287.0,327.6 L287.2,326.2 L287.5,324.9 L287.8,323.6 L288.0,322.4 L288.2,321.2 L288.5,320.2 L288.8,319.2 L289.0,318.3 L289.2,317.6 L289.5,316.9 L289.8,316.4 L290.0,316.0 L290.2,315.7 L290.5,315.5 L290.8,315.5 L291.0,315.6 L291.2,315.8 L291.5,316.1 L291.8,316.6 L292.0,317.2 L292.2,317.9 L292.5,318.7 L292.8,319.6 L293.0,320.6 L293.2,321.7 L293.5,322.8 L293.8,324.1 L294.0,325.4 L294.2,326.7 L294.5,328.1 L294.8,329.6 L295.0,331.1 L295.2,332.6 L295.5,334.1 L295.8,335.6 L296.0,337.1 L296.2,338.6 L296.5,340.0 L296.8,341.5 L297.0,342.9 L297.2,344.3 L297.5,345.6 L297.8,346.9 L298.0,348.1 L298.2,349.3 L298.5,350.5 L298.8,351.6 L299.0,352.6 L299.2,353.6 L299.5,354.5 L299.8,355.4 L300.0,356.2 L300.2,356.9 L300.5,357.6 L300.8,358.3 L301.0,358.9 L301.2,359.4 L301.5,359.9 L301.8,360.4 L302.0,360.8 L302.2,361.2 L302.5,361.5 L302.8,361.8 L303.0,362.1 L303.2,362.4 L303.5,362.6 L303.8,362.8 L304.0,363.0 L304.2,363.1 L304.5,363.3 L304.8,363.4 L305.0,363.5 L305.2,363.6 L305.5,363.7 L305.8,363.8 L306.0,363.8 L306.2,363.9 L306.5,363.9 L306.8,364.0 L307.0,364.0 L307.2,364.0 L307.5,364.1 L307.5,364.2 Z" fill="#c8202a" stroke="#4a1010" stroke-width="0.45"/>
<path d="M282.8,364.2 L282.8,364.1 L283.0,364.1 L283.2,364.0 L283.5,364.0 L283.8,364.0 L284.0,363.9 L284.2,363.9 L284.5,363.9 L284.8,363.8 L285.0,363.7 L285.2,363.7 L285.5,363.6 L285.8,363.5 L286.0,363.4 L286.2,363.3 L286.5,363.2 L286.8,363.1 L287.0,363.0 L287.2,362.8 L287.5,362.7 L287.8,362.5 L288.0,362.4 L288.2,362.2 L288.5,362.0 L288.8,361.8 L289.0,361.5 L289.2,361.3 L289.5,361.0 L289.8,360.8 L290.0,360.5 L290.2,360.2 L290.5,359.9 L290.8,359.6 L291.0,359.3 L291.2,359.0 L291.5,358.6 L291.8,358.3 L292.0,357.9 L292.2,357.6 L292.5,357.2 L292.8,356.9 L293.0,356.5 L293.2,356.1 L293.5,355.8 L293.8,355.4 L294.0,355.1 L294.2,354.7 L294.5,354.4 L294.8,354.0 L295.0,353.7 L295.2,353.4 L295.5,353.1 L295.8,352.8 L296.0,352.5 L296.2,352.2 L296.5,352.0 L296.8,351.7 L297.0,351.5 L297.2,351.2 L297.5,351.0 L297.8,350.8 L298.0,350.6 L298.2,350.5 L298.5,350.3 L298.8,350.2 L299.0,350.0 L299.2,349.9 L299.5,349.8 L299.8,349.7 L300.0,349.6 L300.2,349.5 L300.5,349.4 L300.8,349.3 L301.0,349.3 L301.2,349.2 L301.5,349.1 L301.8,349.1 L302.0,349.1 L302.2,349.0 L302.5,349.0 L302.8,349.0 L303.0,348.9 L303.2,348.9 L303.5,348.9 L303.8,348.9 L304.0,348.9 L304.2,348.9 L304.5,348.9 L304.8,348.9 L305.0,348.9 L305.2,348.9 L305.5,348.8 L305.8,348.9 L306.0,348.9 L306.2,348.9 L306.5,348.9 L306.8,348.9 L307.0,348.9 L307.2,348.9 L307.5,348.9 L307.8,348.9 L308.0,348.9 L308.2,349.0 L308.5,349.0 L308.8,349.0 L309.0,349.1 L309.2,349.1 L309.5,349.1 L309.8,349.2 L310.0,349.3 L310.2,349.3 L310.5,349.4 L310.8,349.5 L311.0,349.6 L311.2,349.7 L311.5,349.8 L311.8,349.9 L312.0,350.0 L312.2,350.2 L312.5,350.3 L312.8,350.5 L313.0,350.6 L313.2,350.8 L313.5,351.0 L313.8,351.2 L314.0,351.5 L314.2,351.7 L314.5,352.0 L314.8,352.2 L315.0,352.5 L315.2,352.8 L315.5,353.1 L315.8,353.4 L316.0,353.7 L316.2,354.0 L316.5,354.4 L316.8,354.7 L317.0,355.1 L317.2,355.4 L317.5,355.8 L317.8,356.1 L318.0,356.5 L318.2,356.9 L318.5,357.2 L318.8,357.6 L319.0,357.9 L319.2,358.3 L319.5,358.6 L319.8,359.0 L320.0,359.3 L320.2,359.6 L320.5,359.9 L320.8,360.2 L321.0,360.5 L321.2,360.8 L321.5,361.0 L321.8,361.3 L322.0,361.5 L322.2,361.8 L322.5,362.0 L322.8,362.2 L323.0,362.4 L323.2,362.5 L323.5,362.7 L323.8,362.8 L324.0,363.0 L324.2,363.1 L324.5,363.2 L324.8,363.3 L325.0,363.4 L325.2,363.5 L325.5,363.6 L325.8,363.7 L326.0,363.7 L326.2,363.8 L326.5,363.9 L326.8,363.9 L327.0,363.9 L327.2,364.0 L327.5,364.0 L327.8,364.0 L328.0,364.1 L328.2,364.1 L328.2,364.2 Z" fill="url(#pS)" fill-opacity="0.78" stroke="#2a2a2a" stroke-width="0.45"/>
<path d="M302.8,364.2 L302.8,364.1 L303.0,364.1 L303.2,364.0 L303.5,364.0 L303.8,364.0 L304.0,364.0 L304.2,364.0 L304.5,363.9 L304.8,363.9 L305.0,363.9 L305.2,363.9 L305.5,363.8 L305.8,363.8 L306.0,363.8 L306.2,363.7 L306.5,363.7 L306.8,363.6 L307.0,363.6 L307.2,363.5 L307.5,363.5 L307.8,363.4 L308.0,363.4 L308.2,363.3 L308.5,363.2 L308.8,363.1 L309.0,363.1 L309.2,363.0 L309.5,362.9 L309.8,362.8 L310.0,362.7 L310.2,362.6 L310.5,362.5 L310.8,362.4 L311.0,362.3 L311.2,362.2 L311.5,362.1 L311.8,361.9 L312.0,361.8 L312.2,361.7 L312.5,361.5 L312.8,361.4 L313.0,361.3 L313.2,361.1 L313.5,361.0 L313.8,360.8 L314.0,360.6 L314.2,360.5 L314.5,360.3 L314.8,360.2 L315.0,360.0 L315.2,359.8 L315.5,359.7 L315.8,359.5 L316.0,359.3 L316.2,359.2 L316.5,359.0 L316.8,358.8 L317.0,358.7 L317.2,358.5 L317.5,358.4 L317.8,358.2 L318.0,358.1 L318.2,357.9 L318.5,357.8 L318.8,357.6 L319.0,357.5 L319.2,357.4 L319.5,357.3 L319.8,357.2 L320.0,357.1 L320.2,357.0 L320.5,356.9 L320.8,356.8 L321.0,356.7 L321.2,356.7 L321.5,356.6 L321.8,356.6 L322.0,356.5 L322.2,356.5 L322.5,356.5 L322.8,356.5 L323.0,356.5 L323.2,356.5 L323.5,356.6 L323.8,356.6 L324.0,356.6 L324.2,356.7 L324.5,356.8 L324.8,356.8 L325.0,356.9 L325.2,357.0 L325.5,357.1 L325.8,357.2 L326.0,357.3 L326.2,357.4 L326.5,357.6 L326.8,357.7 L327.0,357.8 L327.2,358.0 L327.5,358.1 L327.8,358.3 L328.0,358.4 L328.2,358.6 L328.5,358.7 L328.8,358.9 L329.0,359.1 L329.2,359.2 L329.5,359.4 L329.8,359.6 L330.0,359.7 L330.2,359.9 L330.5,360.1 L330.8,360.2 L331.0,360.4 L331.2,360.5 L331.5,360.7 L331.8,360.9 L332.0,361.0 L332.2,361.2 L332.5,361.3 L332.8,361.5 L333.0,361.6 L333.2,361.7 L333.5,361.9 L333.8,362.0 L334.0,362.1 L334.2,362.2 L334.5,362.3 L334.8,362.5 L335.0,362.6 L335.2,362.7 L335.5,362.8 L335.8,362.8 L336.0,362.9 L336.2,363.0 L336.5,363.1 L336.8,363.2 L337.0,363.2 L337.2,363.3 L337.5,363.4 L337.8,363.4 L338.0,363.5 L338.2,363.5 L338.5,363.6 L338.8,363.6 L339.0,363.7 L339.2,363.7 L339.5,363.8 L339.8,363.8 L340.0,363.8 L340.2,363.9 L340.5,363.9 L340.8,363.9 L341.0,363.9 L341.2,364.0 L341.5,364.0 L341.8,364.0 L342.0,364.0 L342.2,364.0 L342.5,364.1 L342.5,364.2 Z" fill="#2c3096" stroke="#111" stroke-width="0.45"/>
<polyline points="277.0,364.0 277.3,363.3 277.6,362.7 277.8,362.0 278.1,361.3 278.4,360.7 278.7,360.0 278.9,359.3 279.2,358.7 279.5,358.0 279.8,357.3 280.1,356.7 280.3,356.0 280.6,355.3 280.9,354.7 281.2,354.0 281.4,353.3 281.7,352.7 282.0,352.0 282.2,351.3 282.3,350.6 282.5,349.9 282.7,349.2 282.8,348.5 283.0,347.8 283.2,347.0 283.3,346.3 283.5,345.6 283.7,344.9 283.8,344.2 284.0,343.5 284.2,342.8 284.3,342.1 284.5,341.4 284.7,340.7 284.8,340.0 285.0,339.2 285.2,338.5 285.3,337.8 285.5,337.1 285.7,336.4 285.8,335.7 286.0,335.0 286.1,334.3 286.2,333.6 286.4,332.9 286.5,332.2 286.6,331.5 286.7,330.8 286.8,330.1 286.9,329.4 287.1,328.7 287.2,328.0 287.3,327.3 287.4,326.6 287.5,325.9 287.7,325.2 287.8,324.5 287.9,323.8 288.0,323.1 288.1,322.4 288.3,321.7 288.4,321.0 288.5,320.3 288.6,319.5 288.7,318.8 288.8,318.1 289.0,317.4 289.1,316.7 289.2,316.0 289.3,315.3 289.4,314.6 289.6,313.9 289.7,313.2 289.8,312.5 289.9,311.8 290.0,311.1 290.2,310.4 290.3,309.7 290.4,309.0 290.5,308.3 290.6,307.6 290.7,306.9 290.9,306.2 291.0,305.5 291.1,304.8 291.3,305.5 291.4,306.2 291.6,306.9 291.7,307.6 291.9,308.3 292.0,309.0 292.2,309.7 292.3,310.4 292.5,311.1 292.6,311.8 292.8,312.5 293.0,313.2 293.1,313.9 293.3,314.6 293.4,315.3 293.6,316.0 293.7,316.7 293.9,317.4 294.0,318.1 294.2,318.8 294.3,319.5 294.5,320.2 294.7,320.9 294.8,321.6 295.0,322.3 295.1,323.0 295.3,323.7 295.4,324.4 295.6,325.1 295.7,325.8 295.9,326.5 296.0,327.2 296.2,327.9 296.3,328.6 296.5,329.3 296.6,330.0 296.7,330.7 296.9,331.4 297.0,332.1 297.1,332.7 297.2,333.4 297.4,334.1 297.5,334.8 297.6,335.5 297.8,336.2 297.9,336.9 298.0,337.6 298.2,338.3 298.3,339.0 298.4,339.7 298.6,340.4 298.7,341.1 298.8,341.7 298.9,342.4 299.1,343.1 299.2,343.8 299.3,344.5 299.5,345.2 299.6,345.9 300.3,346.1 301.0,346.4 301.7,346.6 302.4,346.9 303.1,347.1 303.7,347.4 304.4,347.6 305.1,347.9 305.8,348.1 306.5,348.4 307.2,348.1 307.8,347.8 308.5,347.5 309.2,347.3 309.8,347.0 310.5,346.7 311.2,346.4 311.8,346.1 312.5,345.9 313.2,345.6 313.8,345.3 314.5,345.0 315.2,344.7 315.8,344.4 316.5,344.1 317.2,343.9 317.8,343.6 318.5,343.3 319.1,343.7 319.7,344.1 320.4,344.5 321.0,344.9 321.6,345.3 322.2,345.6 322.8,346.0 323.4,346.4 324.1,346.8 324.7,347.2 325.3,347.6 325.8,348.1 326.4,348.6 326.9,349.0 327.4,349.5 328.0,350.0 328.5,350.5 329.1,351.0 329.6,351.5 330.1,351.9 330.7,352.4 331.2,352.9 331.8,353.4 332.3,353.9 332.8,354.3 333.4,354.8 333.9,355.3 334.4,355.8 335.0,356.3 335.5,356.8 336.0,357.4 336.6,357.9 337.1,358.4 337.6,358.9 338.1,359.4 338.7,359.9 339.2,360.4 339.7,360.9 340.3,361.4 340.8,362.0 341.3,362.5 341.9,363.0 342.4,363.5" fill="none" stroke="#222" stroke-width="0.45" stroke-linejoin="round"/>
<polyline points="266.0,364.0 266.7,363.8 267.4,363.5 268.1,363.2 268.8,363.0 269.0,362.6 269.1,359.7 269.3,360.1 269.5,357.9 269.6,359.5 269.8,358.2 269.9,357.9 270.1,356.9 270.3,357.0 270.4,355.6 270.6,354.7 270.7,354.8 270.9,353.8 271.0,352.0 271.2,351.8 271.3,350.4 271.5,350.2 271.6,350.6 271.7,348.1 271.9,346.8 272.0,347.5 272.2,345.3 272.3,346.0 272.7,344.3 273.1,343.3 273.6,344.4 274.0,344.5 274.4,341.0 274.9,340.8 275.3,342.4 275.7,340.5 276.1,340.7 276.5,339.6 276.9,338.8 277.3,339.0 277.7,337.9 278.1,338.1 278.4,337.4 278.8,338.2 279.1,340.9 279.4,339.4 279.8,341.6 280.1,341.6 280.4,342.0 280.7,343.5 281.1,344.7 281.4,345.1 281.7,344.6 282.3,345.7 282.8,343.5 283.4,343.4 283.5,343.0 283.7,342.0 283.8,341.2 284.0,341.6 284.1,339.9 284.3,339.8 284.4,338.2 284.6,336.9 284.7,337.2 284.8,336.0 285.0,336.3 285.1,335.3 285.3,331.9 285.4,333.8 285.6,333.6 285.7,332.1 285.9,329.7 286.0,331.1 286.1,330.3 286.2,327.7 286.3,328.0 286.4,326.8 286.4,326.3 286.5,326.5 286.6,323.8 286.7,324.3 286.8,323.5 286.9,321.9 287.0,320.7 287.1,321.1 287.2,320.9 287.3,321.1 287.3,318.9 287.4,318.4 287.5,318.5 287.6,317.2 287.7,316.1 287.8,316.6 287.9,315.5 287.9,314.7 288.0,313.2 288.1,313.7 288.2,313.1 288.2,311.1 288.3,311.5 288.4,309.9 288.5,310.4 288.5,308.7 288.6,309.2 288.7,308.5 288.8,307.6 288.9,302.2 288.9,306.7 289.0,305.2 289.1,304.5 289.2,304.5 289.2,302.0 289.3,301.8 289.4,301.8 289.5,300.0 289.6,299.1 289.7,299.1 289.8,299.7 289.9,295.1 290.0,298.3 290.1,296.0 290.2,296.8 290.3,295.6 290.4,294.4 290.5,293.1 290.6,293.7 291.3,292.4 292.0,293.6 292.2,295.5 292.4,294.1 292.6,296.4 292.7,296.8 292.9,297.3 293.1,298.5 293.2,299.9 293.3,299.4 293.5,301.0 293.6,300.7 293.7,301.3 293.8,303.1 293.9,302.1 294.0,303.6 294.1,305.5 294.3,306.3 294.4,306.9 294.5,306.8 294.6,306.6 294.6,309.0 294.7,309.3 294.8,309.5 294.8,310.6 294.9,311.7 294.9,312.2 295.0,312.8 295.1,313.6 295.1,313.9 295.2,315.0 295.3,314.8 295.3,316.1 295.4,317.4 295.5,317.3 295.5,317.8 295.6,316.5 295.6,317.2 295.7,319.3 295.8,321.3 295.8,320.6 295.9,321.2 296.0,322.5 296.1,321.8 296.3,324.6 296.4,325.8 296.5,325.6 296.6,327.4 296.7,327.5 296.8,328.2 297.0,328.1 297.1,330.0 297.2,329.4 297.3,329.4 297.4,331.8 297.5,330.7 297.7,331.9 297.8,331.4 297.9,331.8 298.1,335.4 298.2,334.7 298.4,336.4 298.6,335.8 298.8,336.6 298.9,338.6 299.1,339.5 299.3,339.4 299.5,339.9 299.6,341.3 299.8,340.9 300.0,342.2 300.2,340.4 300.3,344.5 300.5,344.8 301.1,345.5 301.8,346.1 302.5,346.6 303.1,346.4 303.8,346.6 304.6,344.4 305.3,344.8 306.0,347.6 306.7,345.9 307.5,346.9 308.2,346.8 308.9,345.7 309.7,346.9 310.4,344.8 311.1,346.0 311.8,346.0 312.6,344.9 313.3,346.3 313.9,345.5 314.5,342.7 315.0,344.7 315.6,344.3 316.2,342.8 316.8,343.2 317.3,341.2 317.9,339.4 318.5,342.0 319.2,339.2 319.9,341.3 320.6,341.2 321.3,340.0 322.0,342.6 322.7,341.6 323.4,343.0 324.1,340.4 324.8,343.1 325.5,343.3 326.2,344.4 326.5,344.0 326.8,344.7 327.1,345.8 327.3,345.3 327.6,345.1 327.9,347.9 328.2,348.8 328.5,349.1 328.8,349.3 329.0,350.3 329.3,350.3 329.6,351.1 330.1,350.0 330.6,353.1 331.0,353.4 331.5,352.1 332.0,354.2 332.5,354.4 332.9,356.0 333.4,356.8 333.9,356.9 334.5,357.2 335.2,357.8 335.8,357.9 336.4,357.4 337.1,358.9 337.7,358.9 338.4,359.9 339.0,358.8 339.6,361.2 340.1,361.9 340.7,360.7 341.3,361.4 341.8,363.2 342.4,363.8" fill="none" stroke="#000" stroke-width="0.5" stroke-linejoin="round"/>
<line x1="257.50" y1="275.20" x2="257.50" y2="364.70" stroke="#000" stroke-width="0.8"/>
<line x1="257.50" y1="364.20" x2="342.50" y2="364.20" stroke="#000" stroke-width="0.8"/>
<line x1="257.50" y1="364.20" x2="257.50" y2="366.40" stroke="#000" stroke-width="0.6"/>
<text x="257.50" y="373.00" font-size="4.6" font-weight="bold" text-anchor="middle" fill="#222" stroke="#222" stroke-width="0.22">0</text>
<line x1="268.80" y1="364.20" x2="268.80" y2="366.40" stroke="#000" stroke-width="0.6"/>
<text x="268.80" y="373.00" font-size="4.6" font-weight="bold" text-anchor="middle" fill="#222" stroke="#222" stroke-width="0.22">20</text>
<line x1="280.00" y1="364.20" x2="280.00" y2="366.40" stroke="#000" stroke-width="0.6"/>
<text x="280.00" y="373.00" font-size="4.6" font-weight="bold" text-anchor="middle" fill="#222" stroke="#222" stroke-width="0.22">40</text>
<line x1="291.10" y1="364.20" x2="291.10" y2="366.40" stroke="#000" stroke-width="0.6"/>
<text x="291.10" y="373.00" font-size="4.6" font-weight="bold" text-anchor="middle" fill="#222" stroke="#222" stroke-width="0.22">60</text>
<line x1="302.50" y1="364.20" x2="302.50" y2="366.40" stroke="#000" stroke-width="0.6"/>
<text x="302.50" y="373.00" font-size="4.6" font-weight="bold" text-anchor="middle" fill="#222" stroke="#222" stroke-width="0.22">80</text>
<line x1="313.80" y1="364.20" x2="313.80" y2="366.40" stroke="#000" stroke-width="0.6"/>
<text x="313.80" y="373.00" font-size="4.6" font-weight="bold" text-anchor="middle" fill="#222" stroke="#222" stroke-width="0.22">100</text>
<line x1="325.40" y1="364.20" x2="325.40" y2="366.40" stroke="#000" stroke-width="0.6"/>
<text x="325.40" y="373.00" font-size="4.6" font-weight="bold" text-anchor="middle" fill="#222" stroke="#222" stroke-width="0.22">120</text>
<line x1="336.70" y1="364.20" x2="336.70" y2="366.40" stroke="#000" stroke-width="0.6"/>
<text x="336.70" y="373.00" font-size="4.6" font-weight="bold" text-anchor="middle" fill="#222" stroke="#222" stroke-width="0.22">140</text>
<line x1="260.30" y1="364.20" x2="260.30" y2="365.50" stroke="#000" stroke-width="0.5"/>
<line x1="263.10" y1="364.20" x2="263.10" y2="365.50" stroke="#000" stroke-width="0.5"/>
<line x1="265.90" y1="364.20" x2="265.90" y2="365.50" stroke="#000" stroke-width="0.5"/>
<line x1="268.70" y1="364.20" x2="268.70" y2="365.50" stroke="#000" stroke-width="0.5"/>
<line x1="271.50" y1="364.20" x2="271.50" y2="365.50" stroke="#000" stroke-width="0.5"/>
<line x1="274.30" y1="364.20" x2="274.30" y2="365.50" stroke="#000" stroke-width="0.5"/>
<line x1="277.10" y1="364.20" x2="277.10" y2="365.50" stroke="#000" stroke-width="0.5"/>
<line x1="279.90" y1="364.20" x2="279.90" y2="365.50" stroke="#000" stroke-width="0.5"/>
<line x1="282.70" y1="364.20" x2="282.70" y2="365.50" stroke="#000" stroke-width="0.5"/>
<line x1="285.50" y1="364.20" x2="285.50" y2="365.50" stroke="#000" stroke-width="0.5"/>
<line x1="288.30" y1="364.20" x2="288.30" y2="365.50" stroke="#000" stroke-width="0.5"/>
<line x1="291.10" y1="364.20" x2="291.10" y2="365.50" stroke="#000" stroke-width="0.5"/>
<line x1="293.90" y1="364.20" x2="293.90" y2="365.50" stroke="#000" stroke-width="0.5"/>
<line x1="296.70" y1="364.20" x2="296.70" y2="365.50" stroke="#000" stroke-width="0.5"/>
<line x1="299.50" y1="364.20" x2="299.50" y2="365.50" stroke="#000" stroke-width="0.5"/>
<line x1="302.30" y1="364.20" x2="302.30" y2="365.50" stroke="#000" stroke-width="0.5"/>
<line x1="305.10" y1="364.20" x2="305.10" y2="365.50" stroke="#000" stroke-width="0.5"/>
<line x1="307.90" y1="364.20" x2="307.90" y2="365.50" stroke="#000" stroke-width="0.5"/>
<line x1="310.70" y1="364.20" x2="310.70" y2="365.50" stroke="#000" stroke-width="0.5"/>
<line x1="313.50" y1="364.20" x2="313.50" y2="365.50" stroke="#000" stroke-width="0.5"/>
<line x1="316.30" y1="364.20" x2="316.30" y2="365.50" stroke="#000" stroke-width="0.5"/>
<line x1="319.10" y1="364.20" x2="319.10" y2="365.50" stroke="#000" stroke-width="0.5"/>
<line x1="321.90" y1="364.20" x2="321.90" y2="365.50" stroke="#000" stroke-width="0.5"/>
<line x1="324.70" y1="364.20" x2="324.70" y2="365.50" stroke="#000" stroke-width="0.5"/>
<line x1="327.50" y1="364.20" x2="327.50" y2="365.50" stroke="#000" stroke-width="0.5"/>
<line x1="330.30" y1="364.20" x2="330.30" y2="365.50" stroke="#000" stroke-width="0.5"/>
<line x1="333.10" y1="364.20" x2="333.10" y2="365.50" stroke="#000" stroke-width="0.5"/>
<line x1="335.90" y1="364.20" x2="335.90" y2="365.50" stroke="#000" stroke-width="0.5"/>
<line x1="338.70" y1="364.20" x2="338.70" y2="365.50" stroke="#000" stroke-width="0.5"/>
<line x1="341.50" y1="364.20" x2="341.50" y2="365.50" stroke="#000" stroke-width="0.5"/>
<line x1="255.10" y1="364.20" x2="257.50" y2="364.20" stroke="#000" stroke-width="0.55"/>
<text x="252.10" y="364.20" font-size="3.9" font-weight="bold" text-anchor="middle" fill="#222" transform="rotate(-90 252.10 364.20)" stroke="#222" stroke-width="0.12">0</text>
<line x1="256.10" y1="360.55" x2="257.50" y2="360.55" stroke="#000" stroke-width="0.55"/>
<line x1="256.10" y1="356.91" x2="257.50" y2="356.91" stroke="#000" stroke-width="0.55"/>
<line x1="256.10" y1="353.26" x2="257.50" y2="353.26" stroke="#000" stroke-width="0.55"/>
<line x1="255.10" y1="349.62" x2="257.50" y2="349.62" stroke="#000" stroke-width="0.55"/>
<text x="252.10" y="349.62" font-size="3.9" font-weight="bold" text-anchor="middle" fill="#222" transform="rotate(-90 252.10 349.62)" stroke="#222" stroke-width="0.12">50</text>
<line x1="256.10" y1="345.97" x2="257.50" y2="345.97" stroke="#000" stroke-width="0.55"/>
<line x1="256.10" y1="342.32" x2="257.50" y2="342.32" stroke="#000" stroke-width="0.55"/>
<line x1="256.10" y1="338.68" x2="257.50" y2="338.68" stroke="#000" stroke-width="0.55"/>
<line x1="255.10" y1="335.03" x2="257.50" y2="335.03" stroke="#000" stroke-width="0.55"/>
<text x="252.10" y="335.03" font-size="3.9" font-weight="bold" text-anchor="middle" fill="#222" transform="rotate(-90 252.10 335.03)" stroke="#222" stroke-width="0.12">100</text>
<line x1="256.10" y1="331.39" x2="257.50" y2="331.39" stroke="#000" stroke-width="0.55"/>
<line x1="256.10" y1="327.74" x2="257.50" y2="327.74" stroke="#000" stroke-width="0.55"/>
<line x1="256.10" y1="324.10" x2="257.50" y2="324.10" stroke="#000" stroke-width="0.55"/>
<line x1="255.10" y1="320.45" x2="257.50" y2="320.45" stroke="#000" stroke-width="0.55"/>
<text x="252.10" y="320.45" font-size="3.9" font-weight="bold" text-anchor="middle" fill="#222" transform="rotate(-90 252.10 320.45)" stroke="#222" stroke-width="0.12">150</text>
<line x1="256.10" y1="316.80" x2="257.50" y2="316.80" stroke="#000" stroke-width="0.55"/>
<line x1="256.10" y1="313.16" x2="257.50" y2="313.16" stroke="#000" stroke-width="0.55"/>
<line x1="256.10" y1="309.51" x2="257.50" y2="309.51" stroke="#000" stroke-width="0.55"/>
<line x1="255.10" y1="305.87" x2="257.50" y2="305.87" stroke="#000" stroke-width="0.55"/>
<text x="252.10" y="305.87" font-size="3.9" font-weight="bold" text-anchor="middle" fill="#222" transform="rotate(-90 252.10 305.87)" stroke="#222" stroke-width="0.12">200</text>
<line x1="256.10" y1="302.22" x2="257.50" y2="302.22" stroke="#000" stroke-width="0.55"/>
<line x1="256.10" y1="298.57" x2="257.50" y2="298.57" stroke="#000" stroke-width="0.55"/>
<line x1="256.10" y1="294.93" x2="257.50" y2="294.93" stroke="#000" stroke-width="0.55"/>
<line x1="255.10" y1="291.28" x2="257.50" y2="291.28" stroke="#000" stroke-width="0.55"/>
<text x="252.10" y="291.28" font-size="3.9" font-weight="bold" text-anchor="middle" fill="#222" transform="rotate(-90 252.10 291.28)" stroke="#222" stroke-width="0.12">250</text>
<line x1="256.10" y1="287.64" x2="257.50" y2="287.64" stroke="#000" stroke-width="0.55"/>
<line x1="256.10" y1="283.99" x2="257.50" y2="283.99" stroke="#000" stroke-width="0.55"/>
<line x1="256.10" y1="280.35" x2="257.50" y2="280.35" stroke="#000" stroke-width="0.55"/>
<line x1="255.10" y1="276.70" x2="257.50" y2="276.70" stroke="#000" stroke-width="0.55"/>
<text x="252.10" y="276.70" font-size="3.9" font-weight="bold" text-anchor="middle" fill="#222" transform="rotate(-90 252.10 276.70)" stroke="#222" stroke-width="0.12">300</text>
<text x="245.50" y="321.95" font-size="4.2" font-weight="bold" text-anchor="middle" fill="#222" transform="rotate(-90 245.50 321.95)" stroke="#222" stroke-width="0.12">Number</text>
<text x="300.00" y="380.00" font-size="4.0" font-weight="bold" text-anchor="middle" fill="#222" stroke="#222" stroke-width="0.12">FL3-A</text>
<path d="M289.6,367.8 L292.6,367.8 L291.1,365.0 Z" fill="#000"/>
<rect x="324.60" y="274.70" width="5.00" height="4.00" fill="#c8202a"/>
<text x="332.40" y="278.20" font-size="4.0" font-weight="bold" text-anchor="start" fill="#222" stroke="#222" stroke-width="0.12">Dip G1</text>
<rect x="324.60" y="279.50" width="5.00" height="4.00" fill="#2c3096"/>
<text x="332.40" y="283.00" font-size="4.0" font-weight="bold" text-anchor="start" fill="#222" stroke="#222" stroke-width="0.12">Dip G2</text>
<rect x="324.60" y="284.30" width="5.00" height="4.00" fill="url(#pS)"/>
<text x="332.40" y="287.80" font-size="4.0" font-weight="bold" text-anchor="start" fill="#222" stroke="#222" stroke-width="0.12">Dip S</text>
<text x="304.10" y="306.10" font-size="5.7" font-weight="normal" text-anchor="start" fill="#111" stroke="#111" stroke-width="0.14">G0/G1=39.69%</text>
<text x="304.10" y="312.70" font-size="5.7" font-weight="normal" text-anchor="start" fill="#111" stroke="#111" stroke-width="0.14">S=49.41%</text>
<text x="304.10" y="319.30" font-size="5.7" font-weight="normal" text-anchor="start" fill="#111" stroke="#111" stroke-width="0.14">G2/M=40.41%</text>
<text x="83.00" y="392.80" font-size="7.6" font-weight="bold" text-anchor="middle" fill="#111" textLength="51.3" lengthAdjust="spacingAndGlyphs" stroke="#111" stroke-width="0.22">SW480 control</text>
<path d="M55.1,496.0 L55.1,495.8 L55.4,495.8 L55.6,495.7 L55.9,495.6 L56.1,495.5 L56.4,495.3 L56.6,495.1 L56.9,494.8 L57.1,494.4 L57.4,494.0 L57.6,493.5 L57.9,492.8 L58.1,492.1 L58.4,491.1 L58.6,490.0 L58.9,488.7 L59.1,487.3 L59.4,485.6 L59.6,483.6 L59.9,481.5 L60.1,479.1 L60.4,476.5 L60.6,473.7 L60.9,470.7 L61.1,467.6 L61.4,464.3 L61.6,461.0 L61.9,457.6 L62.1,454.3 L62.4,451.0 L62.6,448.0 L62.9,445.1 L63.1,442.6 L63.4,440.4 L63.6,438.6 L63.9,437.2 L64.1,436.4 L64.3,436.0 L64.6,436.2 L64.8,436.8 L65.1,438.0 L65.3,439.6 L65.6,441.6 L65.8,444.1 L66.1,446.8 L66.3,449.8 L66.6,452.9 L66.8,456.2 L67.1,459.6 L67.3,463.0 L67.6,466.3 L67.8,469.5 L68.1,472.5 L68.3,475.4 L68.6,478.1 L68.8,480.6 L69.1,482.8 L69.3,484.8 L69.6,486.6 L69.8,488.2 L70.1,489.5 L70.3,490.7 L70.6,491.7 L70.8,492.5 L71.1,493.2 L71.3,493.8 L71.6,494.3 L71.8,494.7 L72.1,495.0 L72.3,495.2 L72.6,495.4 L72.8,495.6 L73.1,495.7 L73.3,495.8 L73.6,495.8 L73.8,495.9 L73.8,496.0 Z" fill="#c8202a" stroke="#4a1010" stroke-width="0.45"/>
<path d="M62.4,496.0 L62.4,495.9 L62.6,495.8 L62.9,495.8 L63.1,495.7 L63.4,495.6 L63.6,495.5 L63.9,495.4 L64.1,495.3 L64.3,495.1 L64.6,494.9 L64.8,494.7 L65.1,494.4 L65.3,494.1 L65.6,493.8 L65.8,493.5 L66.1,493.1 L66.3,492.8 L66.6,492.4 L66.8,492.0 L67.1,491.6 L67.3,491.2 L67.6,490.8 L67.8,490.4 L68.1,490.1 L68.3,489.7 L68.6,489.4 L68.8,489.1 L69.1,488.9 L69.3,488.6 L69.6,488.4 L69.8,488.3 L70.1,488.1 L70.3,488.0 L70.6,487.9 L70.8,487.8 L71.1,487.7 L71.3,487.7 L71.6,487.6 L71.8,487.6 L72.1,487.6 L72.3,487.5 L72.6,487.5 L72.8,487.5 L73.1,487.5 L73.3,487.5 L73.6,487.5 L73.8,487.5 L74.1,487.5 L74.3,487.5 L74.6,487.5 L74.8,487.5 L75.1,487.5 L75.3,487.5 L75.6,487.5 L75.8,487.5 L76.1,487.5 L76.3,487.5 L76.6,487.5 L76.8,487.5 L77.1,487.5 L77.3,487.5 L77.6,487.5 L77.8,487.5 L78.1,487.5 L78.3,487.5 L78.6,487.5 L78.8,487.5 L79.1,487.5 L79.3,487.5 L79.6,487.5 L79.8,487.5 L80.1,487.5 L80.3,487.5 L80.6,487.5 L80.8,487.6 L81.1,487.6 L81.3,487.6 L81.6,487.7 L81.8,487.7 L82.1,487.8 L82.3,487.9 L82.6,488.0 L82.8,488.1 L83.1,488.2 L83.3,488.4 L83.6,488.6 L83.8,488.8 L84.1,489.1 L84.3,489.4 L84.6,489.7 L84.8,490.0 L85.1,490.4 L85.3,490.7 L85.6,491.1 L85.8,491.5 L86.1,491.9 L86.3,492.3 L86.6,492.7 L86.8,493.1 L87.1,493.4 L87.3,493.8 L87.6,494.1 L87.8,494.4 L88.1,494.6 L88.3,494.9 L88.6,495.1 L88.8,495.2 L89.1,495.4 L89.3,495.5 L89.6,495.6 L89.8,495.7 L90.1,495.8 L90.3,495.8 L90.6,495.9 L90.6,496.0 Z" fill="url(#pS)" fill-opacity="0.78" stroke="#2a2a2a" stroke-width="0.45"/>
<path d="M80.6,496.0 L80.6,495.9 L80.8,495.9 L81.1,495.8 L81.3,495.8 L81.6,495.7 L81.8,495.7 L82.1,495.6 L82.3,495.6 L82.6,495.5 L82.8,495.4 L83.1,495.3 L83.3,495.1 L83.6,495.0 L83.8,494.9 L84.1,494.7 L84.3,494.5 L84.6,494.3 L84.8,494.1 L85.1,493.8 L85.3,493.5 L85.6,493.3 L85.8,493.0 L86.1,492.6 L86.3,492.3 L86.6,491.9 L86.8,491.6 L87.1,491.2 L87.3,490.8 L87.6,490.4 L87.8,490.0 L88.1,489.7 L88.3,489.3 L88.6,488.9 L88.8,488.6 L89.1,488.2 L89.3,487.9 L89.6,487.7 L89.8,487.4 L90.1,487.2 L90.3,487.1 L90.6,486.9 L90.8,486.8 L91.1,486.8 L91.3,486.8 L91.6,486.9 L91.8,486.9 L92.1,487.1 L92.3,487.3 L92.6,487.5 L92.8,487.7 L93.1,488.0 L93.3,488.3 L93.6,488.6 L93.8,489.0 L94.1,489.3 L94.3,489.7 L94.6,490.1 L94.8,490.5 L95.1,490.9 L95.3,491.3 L95.6,491.6 L95.8,492.0 L96.1,492.4 L96.3,492.7 L96.6,493.0 L96.8,493.3 L97.1,493.6 L97.3,493.9 L97.6,494.1 L97.8,494.3 L98.1,494.5 L98.3,494.7 L98.6,494.9 L98.8,495.0 L99.1,495.2 L99.3,495.3 L99.6,495.4 L99.8,495.5 L100.1,495.6 L100.3,495.6 L100.6,495.7 L100.8,495.7 L101.1,495.8 L101.3,495.8 L101.6,495.9 L101.6,496.0 Z" fill="#2c3096" stroke="#111" stroke-width="0.45"/>
<polyline points="58.0,495.5 58.1,494.8 58.2,494.1 58.3,493.4 58.4,492.7 58.5,492.0 58.6,491.3 58.7,490.6 58.8,489.9 58.9,489.2 59.0,488.5 59.1,487.8 59.2,487.1 59.3,486.4 59.4,485.7 59.5,485.0 59.6,484.3 59.7,483.6 59.8,482.9 59.9,482.2 60.0,481.5 60.1,480.8 60.2,480.1 60.3,479.4 60.4,478.7 60.5,478.0 60.5,477.3 60.6,476.6 60.6,475.9 60.6,475.2 60.7,474.5 60.7,473.8 60.8,473.1 60.8,472.4 60.8,471.7 60.9,471.0 60.9,470.3 60.9,469.6 61.0,468.9 61.0,468.1 61.1,467.4 61.1,466.7 61.1,466.0 61.2,465.3 61.2,464.6 61.2,463.9 61.3,463.2 61.3,462.5 61.4,461.8 61.4,461.1 61.4,460.4 61.5,459.7 61.5,459.0 61.5,458.3 61.6,457.6 61.6,456.9 61.6,456.2 61.7,455.5 61.7,454.8 61.8,454.1 61.8,453.4 61.8,452.7 61.9,452.0 61.9,451.3 61.9,450.6 62.0,449.9 62.0,449.1 62.1,448.4 62.1,447.7 62.1,447.0 62.2,446.3 62.2,445.6 62.2,444.9 62.3,444.2 62.3,443.5 62.4,442.8 62.4,442.1 62.4,441.4 62.5,440.7 62.5,440.0 62.6,439.3 62.6,438.6 62.7,437.8 62.8,437.1 62.8,436.4 62.9,435.7 63.0,434.9 63.0,434.2 63.1,433.5 63.2,432.8 63.2,432.1 63.3,431.3 63.4,430.6 63.5,429.9 63.5,429.2 63.6,428.5 63.7,427.7 63.7,427.0 63.8,426.3 63.9,425.6 63.9,424.9 64.0,424.1 64.1,423.4 64.1,422.7 64.2,422.0 64.3,421.2 64.3,420.5 64.4,419.8 64.5,420.5 64.5,421.2 64.6,422.0 64.7,422.7 64.7,423.4 64.8,424.1 64.9,424.9 64.9,425.6 65.0,426.3 65.1,427.0 65.1,427.7 65.2,428.5 65.3,429.2 65.3,429.9 65.4,430.6 65.5,431.3 65.6,432.1 65.6,432.8 65.7,433.5 65.8,434.2 65.8,434.9 65.9,435.7 66.0,436.4 66.0,437.1 66.1,437.8 66.2,438.6 66.2,439.3 66.3,440.0 66.3,440.7 66.4,441.4 66.4,442.1 66.5,442.8 66.5,443.5 66.6,444.2 66.6,444.9 66.6,445.6 66.7,446.4 66.7,447.1 66.8,447.8 66.8,448.5 66.9,449.2 66.9,449.9 66.9,450.6 67.0,451.3 67.0,452.0 67.1,452.7 67.1,453.4 67.2,454.1 67.2,454.8 67.2,455.5 67.3,456.2 67.3,456.9 67.4,457.6 67.4,458.4 67.5,459.1 67.5,459.8 67.6,460.5 67.6,461.2 67.6,461.9 67.7,462.6 67.7,463.3 67.8,464.0 67.8,464.7 67.9,465.4 67.9,466.1 67.9,466.8 68.0,467.5 68.0,468.2 68.1,468.9 68.1,469.6 68.2,470.4 68.2,471.1 68.2,471.8 68.3,472.5 68.3,473.2 68.4,473.9 68.4,474.6 68.5,475.3 68.5,476.0 68.6,476.7 68.8,477.4 68.9,478.1 69.0,478.8 69.1,479.5 69.2,480.2 69.4,481.0 69.5,481.7 69.6,482.4 69.8,483.1 69.9,483.8 70.0,484.5 70.7,484.6 71.4,484.8 72.1,484.9 72.9,485.1 73.6,485.2 74.3,485.4 75.0,485.5 75.7,485.6 76.4,485.8 77.1,485.9 77.9,486.1 78.6,486.2 79.3,486.4 80.0,486.5 80.7,486.1 81.4,485.8 82.1,485.4 82.9,485.1 83.6,484.7 84.3,484.4 85.0,484.0 85.7,483.6 86.3,483.2 87.0,482.8 87.7,482.3 88.3,481.9 89.0,481.5 89.6,482.0 90.1,482.5 90.7,483.0 91.3,483.5 91.9,484.0 92.4,484.5 93.0,485.0 93.4,485.6 93.7,486.3 94.1,486.9 94.5,487.5 94.8,488.2 95.2,488.8 95.5,489.5 95.9,490.1 96.3,490.7 96.6,491.4 97.0,492.0 97.6,492.5 98.1,493.0 98.7,493.5 99.3,494.0 99.9,494.5 100.4,495.0 101.0,495.5" fill="none" stroke="#222" stroke-width="0.45" stroke-linejoin="round"/>
<polyline points="40.0,495.5 40.7,495.4 41.4,495.4 42.1,495.3 42.9,495.2 43.6,495.1 44.3,495.1 45.0,495.0 45.7,495.0 46.4,494.9 47.1,494.9 47.9,494.9 48.6,494.9 49.3,494.8 50.0,494.8 50.7,494.7 51.4,494.6 52.1,494.5 52.9,494.5 53.6,494.4 54.3,494.3 55.0,494.2 55.7,494.1 56.5,493.9 57.2,493.8 57.9,493.7 58.0,493.0 58.1,492.3 58.2,491.6 58.3,490.9 58.4,490.2 58.4,489.5 58.5,488.8 58.6,488.1 58.7,487.4 58.8,486.7 58.9,485.9 59.0,485.2 59.1,484.5 59.2,483.8 59.3,483.1 59.3,482.4 59.4,481.7 59.5,481.0 59.6,480.3 59.7,479.6 59.8,478.9 59.8,478.2 59.9,477.5 59.9,476.8 60.0,476.1 60.0,475.3 60.1,474.6 60.1,473.9 60.2,473.2 60.2,472.5 60.3,471.8 60.3,471.1 60.4,470.4 60.4,469.7 60.4,469.0 60.5,468.2 60.5,467.5 60.6,466.8 60.6,466.1 60.7,465.4 60.7,464.7 60.8,464.0 60.8,463.3 60.9,462.6 60.9,461.9 61.0,461.1 61.0,460.4 61.0,459.7 61.1,459.0 61.1,458.3 61.2,457.6 61.2,456.9 61.3,456.2 61.3,455.5 61.4,454.8 61.4,454.0 61.5,453.3 61.5,452.6 61.6,451.9 61.6,451.2 61.6,450.5 61.7,449.8 61.7,449.1 61.8,448.4 61.8,447.6 61.9,446.9 61.9,446.2 62.0,445.5 62.0,444.8 62.1,444.1 62.1,443.4 62.2,442.7 62.2,442.0 62.3,441.3 62.3,440.5 62.4,439.8 62.4,439.1 62.5,438.4 62.5,437.7 62.6,437.0 62.6,436.3 62.7,435.6 62.7,434.9 62.8,434.2 62.8,433.4 62.9,432.7 62.9,432.0 63.0,431.3 63.0,430.6 63.1,429.9 63.1,429.2 63.2,428.5 63.2,427.8 63.3,427.1 63.3,426.3 63.4,425.6 63.4,424.9 63.5,424.2 63.5,423.5 63.6,422.8 63.7,422.1 63.8,421.3 63.9,420.6 64.0,419.9 64.1,419.2 64.2,418.4 64.3,417.7 64.4,417.0 64.5,417.8 64.6,418.5 64.6,419.3 64.7,420.0 64.8,420.8 64.9,421.5 65.0,422.3 65.1,423.0 65.1,423.8 65.2,424.5 65.3,425.3 65.3,426.0 65.4,426.7 65.4,427.4 65.4,428.1 65.5,428.8 65.5,429.5 65.5,430.2 65.5,430.9 65.6,431.6 65.6,432.3 65.6,433.0 65.7,433.7 65.7,434.4 65.7,435.1 65.8,435.8 65.8,436.5 65.8,437.2 65.8,437.9 65.9,438.6 65.9,439.3 65.9,440.0 66.0,440.7 66.0,441.4 66.0,440.7 66.0,441.8 66.1,441.9 66.1,441.7 66.1,445.2 66.2,444.9 66.2,446.5 66.2,445.3 66.3,447.4 66.3,446.7 66.3,447.5 66.3,448.7 66.4,450.2 66.4,451.0 66.4,451.2 66.5,452.3 66.5,453.6 66.5,451.8 66.6,454.6 66.6,455.3 66.6,454.5 66.6,456.6 66.7,456.9 66.7,456.8 66.7,458.4 66.8,459.1 66.8,459.9 66.8,461.0 66.9,460.7 66.9,462.7 67.0,462.1 67.0,464.3 67.1,462.7 67.1,463.9 67.1,466.2 67.2,466.6 67.2,466.2 67.3,467.5 67.3,469.1 67.3,469.5 67.4,469.6 67.4,470.3 67.5,471.7 67.5,471.4 67.6,473.2 67.6,471.8 67.6,474.4 67.7,475.8 67.7,476.3 67.8,476.7 67.8,477.9 67.8,478.4 67.9,479.4 67.9,479.4 68.0,480.2 68.0,481.5 68.1,480.0 68.1,482.7 68.5,482.1 69.0,484.0 69.5,483.5 69.9,485.6 70.7,485.4 71.5,485.7 72.2,485.2 73.0,486.2 73.8,484.2 74.6,484.0 75.4,486.1 76.2,486.6 77.0,486.5 77.7,485.3 78.5,485.0 79.3,487.2 80.1,486.1 80.6,486.5 81.1,485.5 81.6,484.5 82.1,484.5 82.7,484.6 83.2,484.2 83.7,483.1 84.2,482.3 84.7,481.8 85.3,482.5 85.9,480.6 86.6,480.3 87.2,480.9 87.8,478.7 88.4,480.0 89.0,480.0 89.5,477.9 90.1,481.2 90.6,481.6 91.2,482.2 91.6,483.4 92.0,483.9 92.3,483.8 92.7,484.6 93.1,485.2 93.5,486.7 93.9,485.3 94.3,486.9 94.7,487.9 95.0,489.1 95.4,488.3 95.8,488.5 96.3,490.2 96.9,489.1 97.4,491.1 97.9,489.6 98.4,492.9 99.0,492.6 99.5,493.0 100.2,492.2 100.9,493.5 101.7,493.8 102.4,492.6 103.1,492.1 103.8,492.8 104.6,493.7 105.3,490.3 106.0,492.4 106.7,493.6 107.4,494.0 108.1,493.5 108.8,493.6 109.4,492.3 110.1,493.9 110.8,493.9 111.5,493.2 112.3,494.9 113.2,495.2 114.0,495.5" fill="none" stroke="#000" stroke-width="0.5" stroke-linejoin="round"/>
<line x1="35.60" y1="408.50" x2="35.60" y2="496.50" stroke="#000" stroke-width="0.8"/>
<line x1="35.60" y1="496.00" x2="121.00" y2="496.00" stroke="#000" stroke-width="0.8"/>
<line x1="36.10" y1="496.00" x2="36.10" y2="498.20" stroke="#000" stroke-width="0.6"/>
<text x="36.10" y="504.80" font-size="4.6" font-weight="bold" text-anchor="middle" fill="#222" stroke="#222" stroke-width="0.22">0</text>
<line x1="56.70" y1="496.00" x2="56.70" y2="498.20" stroke="#000" stroke-width="0.6"/>
<text x="56.70" y="504.80" font-size="4.6" font-weight="bold" text-anchor="middle" fill="#222" stroke="#222" stroke-width="0.22">50</text>
<line x1="77.50" y1="496.00" x2="77.50" y2="498.20" stroke="#000" stroke-width="0.6"/>
<text x="77.50" y="504.80" font-size="4.6" font-weight="bold" text-anchor="middle" fill="#222" stroke="#222" stroke-width="0.22">100</text>
<line x1="99.30" y1="496.00" x2="99.30" y2="498.20" stroke="#000" stroke-width="0.6"/>
<text x="99.30" y="504.80" font-size="4.6" font-weight="bold" text-anchor="middle" fill="#222" stroke="#222" stroke-width="0.22">150</text>
<line x1="119.90" y1="496.00" x2="119.90" y2="498.20" stroke="#000" stroke-width="0.6"/>
<text x="119.90" y="504.80" font-size="4.6" font-weight="bold" text-anchor="middle" fill="#222" stroke="#222" stroke-width="0.22">200</text>
<line x1="38.17" y1="496.00" x2="38.17" y2="497.30" stroke="#000" stroke-width="0.5"/>
<line x1="40.24" y1="496.00" x2="40.24" y2="497.30" stroke="#000" stroke-width="0.5"/>
<line x1="42.31" y1="496.00" x2="42.31" y2="497.30" stroke="#000" stroke-width="0.5"/>
<line x1="44.38" y1="496.00" x2="44.38" y2="497.30" stroke="#000" stroke-width="0.5"/>
<line x1="46.45" y1="496.00" x2="46.45" y2="497.30" stroke="#000" stroke-width="0.5"/>
<line x1="48.52" y1="496.00" x2="48.52" y2="497.30" stroke="#000" stroke-width="0.5"/>
<line x1="50.59" y1="496.00" x2="50.59" y2="497.30" stroke="#000" stroke-width="0.5"/>
<line x1="52.66" y1="496.00" x2="52.66" y2="497.30" stroke="#000" stroke-width="0.5"/>
<line x1="54.73" y1="496.00" x2="54.73" y2="497.30" stroke="#000" stroke-width="0.5"/>
<line x1="56.80" y1="496.00" x2="56.80" y2="497.30" stroke="#000" stroke-width="0.5"/>
<line x1="58.87" y1="496.00" x2="58.87" y2="497.30" stroke="#000" stroke-width="0.5"/>
<line x1="60.94" y1="496.00" x2="60.94" y2="497.30" stroke="#000" stroke-width="0.5"/>
<line x1="63.01" y1="496.00" x2="63.01" y2="497.30" stroke="#000" stroke-width="0.5"/>
<line x1="65.08" y1="496.00" x2="65.08" y2="497.30" stroke="#000" stroke-width="0.5"/>
<line x1="67.15" y1="496.00" x2="67.15" y2="497.30" stroke="#000" stroke-width="0.5"/>
<line x1="69.22" y1="496.00" x2="69.22" y2="497.30" stroke="#000" stroke-width="0.5"/>
<line x1="71.29" y1="496.00" x2="71.29" y2="497.30" stroke="#000" stroke-width="0.5"/>
<line x1="73.36" y1="496.00" x2="73.36" y2="497.30" stroke="#000" stroke-width="0.5"/>
<line x1="75.43" y1="496.00" x2="75.43" y2="497.30" stroke="#000" stroke-width="0.5"/>
<line x1="77.50" y1="496.00" x2="77.50" y2="497.30" stroke="#000" stroke-width="0.5"/>
<line x1="79.57" y1="496.00" x2="79.57" y2="497.30" stroke="#000" stroke-width="0.5"/>
<line x1="81.64" y1="496.00" x2="81.64" y2="497.30" stroke="#000" stroke-width="0.5"/>
<line x1="83.71" y1="496.00" x2="83.71" y2="497.30" stroke="#000" stroke-width="0.5"/>
<line x1="85.78" y1="496.00" x2="85.78" y2="497.30" stroke="#000" stroke-width="0.5"/>
<line x1="87.85" y1="496.00" x2="87.85" y2="497.30" stroke="#000" stroke-width="0.5"/>
<line x1="89.92" y1="496.00" x2="89.92" y2="497.30" stroke="#000" stroke-width="0.5"/>
<line x1="91.99" y1="496.00" x2="91.99" y2="497.30" stroke="#000" stroke-width="0.5"/>
<line x1="94.06" y1="496.00" x2="94.06" y2="497.30" stroke="#000" stroke-width="0.5"/>
<line x1="96.13" y1="496.00" x2="96.13" y2="497.30" stroke="#000" stroke-width="0.5"/>
<line x1="98.20" y1="496.00" x2="98.20" y2="497.30" stroke="#000" stroke-width="0.5"/>
<line x1="100.27" y1="496.00" x2="100.27" y2="497.30" stroke="#000" stroke-width="0.5"/>
<line x1="102.34" y1="496.00" x2="102.34" y2="497.30" stroke="#000" stroke-width="0.5"/>
<line x1="104.41" y1="496.00" x2="104.41" y2="497.30" stroke="#000" stroke-width="0.5"/>
<line x1="106.48" y1="496.00" x2="106.48" y2="497.30" stroke="#000" stroke-width="0.5"/>
<line x1="108.55" y1="496.00" x2="108.55" y2="497.30" stroke="#000" stroke-width="0.5"/>
<line x1="110.62" y1="496.00" x2="110.62" y2="497.30" stroke="#000" stroke-width="0.5"/>
<line x1="112.69" y1="496.00" x2="112.69" y2="497.30" stroke="#000" stroke-width="0.5"/>
<line x1="114.76" y1="496.00" x2="114.76" y2="497.30" stroke="#000" stroke-width="0.5"/>
<line x1="116.83" y1="496.00" x2="116.83" y2="497.30" stroke="#000" stroke-width="0.5"/>
<line x1="118.90" y1="496.00" x2="118.90" y2="497.30" stroke="#000" stroke-width="0.5"/>
<line x1="33.20" y1="496.00" x2="35.60" y2="496.00" stroke="#000" stroke-width="0.55"/>
<text x="30.20" y="496.00" font-size="3.9" font-weight="bold" text-anchor="middle" fill="#222" transform="rotate(-90 30.20 496.00)" stroke="#222" stroke-width="0.12">0</text>
<line x1="34.20" y1="492.42" x2="35.60" y2="492.42" stroke="#000" stroke-width="0.55"/>
<line x1="34.20" y1="488.83" x2="35.60" y2="488.83" stroke="#000" stroke-width="0.55"/>
<line x1="34.20" y1="485.25" x2="35.60" y2="485.25" stroke="#000" stroke-width="0.55"/>
<line x1="33.20" y1="481.67" x2="35.60" y2="481.67" stroke="#000" stroke-width="0.55"/>
<text x="30.20" y="481.67" font-size="3.9" font-weight="bold" text-anchor="middle" fill="#222" transform="rotate(-90 30.20 481.67)" stroke="#222" stroke-width="0.12">100</text>
<line x1="34.20" y1="478.08" x2="35.60" y2="478.08" stroke="#000" stroke-width="0.55"/>
<line x1="34.20" y1="474.50" x2="35.60" y2="474.50" stroke="#000" stroke-width="0.55"/>
<line x1="34.20" y1="470.92" x2="35.60" y2="470.92" stroke="#000" stroke-width="0.55"/>
<line x1="33.20" y1="467.33" x2="35.60" y2="467.33" stroke="#000" stroke-width="0.55"/>
<text x="30.20" y="467.33" font-size="3.9" font-weight="bold" text-anchor="middle" fill="#222" transform="rotate(-90 30.20 467.33)" stroke="#222" stroke-width="0.12">200</text>
<line x1="34.20" y1="463.75" x2="35.60" y2="463.75" stroke="#000" stroke-width="0.55"/>
<line x1="34.20" y1="460.17" x2="35.60" y2="460.17" stroke="#000" stroke-width="0.55"/>
<line x1="34.20" y1="456.58" x2="35.60" y2="456.58" stroke="#000" stroke-width="0.55"/>
<line x1="33.20" y1="453.00" x2="35.60" y2="453.00" stroke="#000" stroke-width="0.55"/>
<text x="30.20" y="453.00" font-size="3.9" font-weight="bold" text-anchor="middle" fill="#222" transform="rotate(-90 30.20 453.00)" stroke="#222" stroke-width="0.12">300</text>
<line x1="34.20" y1="449.42" x2="35.60" y2="449.42" stroke="#000" stroke-width="0.55"/>
<line x1="34.20" y1="445.83" x2="35.60" y2="445.83" stroke="#000" stroke-width="0.55"/>
<line x1="34.20" y1="442.25" x2="35.60" y2="442.25" stroke="#000" stroke-width="0.55"/>
<line x1="33.20" y1="438.67" x2="35.60" y2="438.67" stroke="#000" stroke-width="0.55"/>
<text x="30.20" y="438.67" font-size="3.9" font-weight="bold" text-anchor="middle" fill="#222" transform="rotate(-90 30.20 438.67)" stroke="#222" stroke-width="0.12">400</text>
<line x1="34.20" y1="435.08" x2="35.60" y2="435.08" stroke="#000" stroke-width="0.55"/>
<line x1="34.20" y1="431.50" x2="35.60" y2="431.50" stroke="#000" stroke-width="0.55"/>
<line x1="34.20" y1="427.92" x2="35.60" y2="427.92" stroke="#000" stroke-width="0.55"/>
<line x1="33.20" y1="424.33" x2="35.60" y2="424.33" stroke="#000" stroke-width="0.55"/>
<text x="30.20" y="424.33" font-size="3.9" font-weight="bold" text-anchor="middle" fill="#222" transform="rotate(-90 30.20 424.33)" stroke="#222" stroke-width="0.12">500</text>
<line x1="34.20" y1="420.75" x2="35.60" y2="420.75" stroke="#000" stroke-width="0.55"/>
<line x1="34.20" y1="417.17" x2="35.60" y2="417.17" stroke="#000" stroke-width="0.55"/>
<line x1="34.20" y1="413.58" x2="35.60" y2="413.58" stroke="#000" stroke-width="0.55"/>
<line x1="33.20" y1="410.00" x2="35.60" y2="410.00" stroke="#000" stroke-width="0.55"/>
<text x="30.20" y="410.00" font-size="3.9" font-weight="bold" text-anchor="middle" fill="#222" transform="rotate(-90 30.20 410.00)" stroke="#222" stroke-width="0.12">600</text>
<text x="23.60" y="454.50" font-size="4.2" font-weight="bold" text-anchor="middle" fill="#222" transform="rotate(-90 23.60 454.50)" stroke="#222" stroke-width="0.12">Number</text>
<text x="78.30" y="511.80" font-size="4.0" font-weight="bold" text-anchor="middle" fill="#222" stroke="#222" stroke-width="0.12">FL3-A</text>
<path d="M63.3,499.6 L66.3,499.6 L64.8,496.8 Z" fill="#000"/>
<rect x="104.20" y="405.80" width="5.00" height="4.00" fill="#c8202a"/>
<text x="112.00" y="409.30" font-size="4.0" font-weight="bold" text-anchor="start" fill="#222" stroke="#222" stroke-width="0.12">Dip G1</text>
<rect x="104.20" y="410.60" width="5.00" height="4.00" fill="#2c3096"/>
<text x="112.00" y="414.10" font-size="4.0" font-weight="bold" text-anchor="start" fill="#222" stroke="#222" stroke-width="0.12">Dip G2</text>
<rect x="104.20" y="415.40" width="5.00" height="4.00" fill="url(#pS)"/>
<text x="112.00" y="418.90" font-size="4.0" font-weight="bold" text-anchor="start" fill="#222" stroke="#222" stroke-width="0.12">Dip S</text>
<text x="68.60" y="437.90" font-size="5.7" font-weight="normal" text-anchor="start" fill="#111" stroke="#111" stroke-width="0.14">G0/G1=47.80%</text>
<text x="68.60" y="444.50" font-size="5.7" font-weight="normal" text-anchor="start" fill="#111" stroke="#111" stroke-width="0.14">S=37.59%</text>
<text x="68.60" y="451.10" font-size="5.7" font-weight="normal" text-anchor="start" fill="#111" stroke="#111" stroke-width="0.14">G2/M=14.61%</text>
<text x="191.50" y="392.80" font-size="7.6" font-weight="bold" text-anchor="middle" fill="#111" textLength="86.9" lengthAdjust="spacingAndGlyphs" stroke="#111" stroke-width="0.22">SW480 + shRNA-control</text>
<path d="M157.1,496.0 L157.1,495.8 L157.3,495.8 L157.6,495.7 L157.8,495.7 L158.1,495.6 L158.3,495.4 L158.6,495.3 L158.8,495.1 L159.1,494.8 L159.3,494.6 L159.6,494.2 L159.8,493.8 L160.1,493.3 L160.3,492.7 L160.6,492.1 L160.8,491.3 L161.1,490.4 L161.3,489.4 L161.6,488.2 L161.8,487.0 L162.1,485.6 L162.3,484.0 L162.6,482.3 L162.8,480.5 L163.1,478.6 L163.3,476.6 L163.6,474.4 L163.8,472.3 L164.1,470.0 L164.3,467.8 L164.6,465.6 L164.8,463.4 L165.1,461.3 L165.3,459.4 L165.6,457.6 L165.8,456.0 L166.1,454.6 L166.3,453.4 L166.6,452.6 L166.8,452.0 L167.1,451.7 L167.3,451.8 L167.6,452.1 L167.8,452.7 L168.1,453.6 L168.3,454.8 L168.6,456.3 L168.8,457.9 L169.1,459.8 L169.3,461.7 L169.6,463.8 L169.8,466.0 L170.1,468.2 L170.3,470.5 L170.6,472.7 L170.8,474.9 L171.1,477.0 L171.3,479.0 L171.6,480.9 L171.8,482.7 L172.1,484.3 L172.3,485.8 L172.6,487.2 L172.8,488.5 L173.1,489.6 L173.3,490.6 L173.6,491.4 L173.8,492.2 L174.1,492.9 L174.3,493.4 L174.6,493.9 L174.8,494.3 L175.1,494.6 L175.3,494.9 L175.6,495.1 L175.8,495.3 L176.1,495.5 L176.3,495.6 L176.6,495.7 L176.8,495.7 L177.1,495.8 L177.3,495.9 L177.3,496.0 Z" fill="#c8202a" stroke="#4a1010" stroke-width="0.45"/>
<path d="M164.1,496.0 L164.1,495.9 L164.3,495.8 L164.6,495.8 L164.8,495.7 L165.1,495.6 L165.3,495.5 L165.6,495.3 L165.8,495.2 L166.1,495.0 L166.3,494.7 L166.6,494.5 L166.8,494.1 L167.1,493.8 L167.3,493.4 L167.6,492.9 L167.8,492.5 L168.1,492.0 L168.3,491.4 L168.6,490.9 L168.8,490.3 L169.1,489.8 L169.3,489.2 L169.6,488.7 L169.8,488.1 L170.1,487.6 L170.3,487.1 L170.6,486.7 L170.8,486.3 L171.1,485.9 L171.3,485.6 L171.6,485.3 L171.8,485.1 L172.1,484.9 L172.3,484.7 L172.6,484.5 L172.8,484.4 L173.1,484.3 L173.3,484.2 L173.6,484.2 L173.8,484.1 L174.1,484.1 L174.3,484.1 L174.6,484.1 L174.8,484.1 L175.1,484.1 L175.3,484.1 L175.6,484.1 L175.8,484.1 L176.1,484.1 L176.3,484.2 L176.6,484.2 L176.8,484.3 L177.1,484.4 L177.3,484.5 L177.6,484.7 L177.8,484.8 L178.1,485.0 L178.3,485.3 L178.6,485.5 L178.8,485.9 L179.1,486.2 L179.3,486.6 L179.6,487.1 L179.8,487.5 L180.1,488.0 L180.3,488.6 L180.6,489.1 L180.8,489.7 L181.1,490.2 L181.3,490.8 L181.6,491.3 L181.8,491.9 L182.1,492.4 L182.3,492.9 L182.6,493.3 L182.8,493.7 L183.1,494.1 L183.3,494.4 L183.6,494.7 L183.8,494.9 L184.1,495.1 L184.3,495.3 L184.6,495.5 L184.8,495.6 L185.1,495.7 L185.3,495.8 L185.6,495.8 L185.8,495.9 L185.8,496.0 Z" fill="url(#pS)" fill-opacity="0.78" stroke="#2a2a2a" stroke-width="0.45"/>
<path d="M175.3,496.0 L175.3,495.9 L175.6,495.8 L175.8,495.8 L176.1,495.8 L176.3,495.7 L176.6,495.7 L176.8,495.6 L177.1,495.6 L177.3,495.5 L177.6,495.4 L177.8,495.3 L178.1,495.2 L178.3,495.1 L178.6,495.0 L178.8,494.8 L179.1,494.7 L179.3,494.5 L179.6,494.3 L179.8,494.1 L180.1,493.9 L180.3,493.7 L180.6,493.4 L180.8,493.2 L181.1,492.9 L181.3,492.6 L181.6,492.3 L181.8,492.0 L182.1,491.7 L182.3,491.3 L182.6,491.0 L182.8,490.6 L183.1,490.3 L183.3,489.9 L183.6,489.6 L183.8,489.3 L184.1,488.9 L184.3,488.6 L184.6,488.3 L184.8,488.0 L185.1,487.8 L185.3,487.6 L185.6,487.3 L185.8,487.2 L186.1,487.0 L186.3,486.9 L186.6,486.8 L186.8,486.8 L187.1,486.8 L187.3,486.8 L187.6,486.9 L187.8,487.0 L188.1,487.1 L188.3,487.3 L188.6,487.5 L188.8,487.7 L189.1,488.0 L189.3,488.3 L189.6,488.6 L189.8,488.9 L190.1,489.2 L190.3,489.5 L190.6,489.9 L190.8,490.2 L191.1,490.6 L191.3,490.9 L191.6,491.3 L191.8,491.6 L192.1,491.9 L192.3,492.2 L192.6,492.5 L192.8,492.8 L193.1,493.1 L193.3,493.4 L193.6,493.6 L193.8,493.9 L194.1,494.1 L194.3,494.3 L194.6,494.5 L194.8,494.7 L195.1,494.8 L195.3,495.0 L195.6,495.1 L195.8,495.2 L196.1,495.3 L196.3,495.4 L196.6,495.5 L196.8,495.6 L197.1,495.6 L197.3,495.7 L197.6,495.7 L197.8,495.8 L198.1,495.8 L198.3,495.8 L198.6,495.9 L198.6,496.0 Z" fill="#2c3096" stroke="#111" stroke-width="0.45"/>
<polyline points="159.0,495.5 159.2,494.8 159.4,494.1 159.6,493.3 159.8,492.6 159.9,491.9 160.1,491.2 160.3,490.5 160.5,489.8 160.7,489.0 160.9,488.3 161.1,487.6 161.2,486.9 161.4,486.2 161.6,485.4 161.8,484.7 162.0,484.0 162.1,483.3 162.1,482.6 162.2,481.9 162.2,481.2 162.3,480.5 162.4,479.8 162.4,479.0 162.5,478.3 162.6,477.6 162.6,476.9 162.7,476.2 162.8,475.5 162.8,474.8 162.9,474.1 162.9,473.4 163.0,472.7 163.1,472.0 163.1,471.2 163.2,470.5 163.2,469.8 163.3,469.1 163.4,468.4 163.4,467.7 163.5,467.0 163.6,466.3 163.6,465.6 163.7,464.9 163.8,464.2 163.8,463.5 163.9,462.8 163.9,462.0 164.0,461.3 164.1,460.6 164.1,459.9 164.2,459.2 164.2,458.5 164.3,457.8 164.4,457.1 164.4,456.4 164.5,455.7 164.6,455.0 164.6,454.2 164.7,453.5 164.8,452.8 164.8,452.1 164.9,451.4 164.9,450.7 165.0,450.0 165.1,449.3 165.1,448.6 165.2,447.9 165.3,447.2 165.4,446.5 165.4,445.8 165.5,445.1 165.6,444.3 165.6,443.6 165.7,442.9 165.8,442.2 165.9,441.5 165.9,440.8 166.0,440.1 166.1,439.4 166.1,438.7 166.2,438.0 166.3,437.3 166.3,436.6 166.4,435.9 166.5,435.2 166.6,434.5 166.6,433.8 166.7,433.0 166.8,432.3 166.8,431.6 166.9,430.9 167.0,430.2 167.1,429.5 167.1,428.8 167.2,428.1 167.3,428.8 167.3,429.5 167.4,430.2 167.5,430.9 167.5,431.7 167.6,432.4 167.6,433.1 167.7,433.8 167.8,434.5 167.8,435.2 167.9,435.9 168.0,436.6 168.0,437.3 168.1,438.1 168.2,438.8 168.2,439.5 168.3,440.2 168.4,440.9 168.4,441.6 168.5,442.3 168.6,443.0 168.6,443.7 168.7,444.4 168.7,445.2 168.8,445.9 168.9,446.6 168.9,447.3 169.0,448.0 169.1,448.7 169.1,449.4 169.2,450.1 169.2,450.8 169.3,451.5 169.3,452.2 169.4,452.9 169.4,453.6 169.5,454.3 169.5,455.0 169.6,455.7 169.6,456.4 169.7,457.1 169.8,457.8 169.8,458.5 169.9,459.2 169.9,459.9 170.0,460.6 170.0,461.4 170.1,462.1 170.1,462.8 170.2,463.5 170.2,464.2 170.3,464.9 170.4,465.6 170.4,466.3 170.5,467.0 170.5,467.7 170.6,468.4 170.6,469.1 170.7,469.8 170.7,470.5 170.8,471.2 170.8,471.9 170.9,472.6 170.9,473.3 171.0,474.0 171.3,474.6 171.6,475.3 171.9,475.9 172.2,476.6 172.5,477.2 172.8,477.9 173.1,478.6 173.4,479.2 173.7,479.9 174.0,480.5 174.7,480.4 175.4,480.4 176.1,480.4 176.8,480.3 177.5,480.2 178.2,480.2 178.9,480.1 179.6,480.1 180.3,480.1 181.0,480.0 181.7,479.7 182.3,479.3 183.0,479.0 183.7,478.7 184.3,478.3 185.0,478.0 185.4,478.6 185.7,479.3 186.1,479.9 186.5,480.5 186.8,481.2 187.2,481.8 187.5,482.5 187.9,483.1 188.3,483.7 188.6,484.4 189.0,485.0 189.4,485.6 189.8,486.2 190.2,486.8 190.7,487.3 191.1,487.9 191.5,488.5 191.9,489.1 192.3,489.7 192.8,490.2 193.2,490.8 193.6,491.4 194.0,492.0 194.6,492.5 195.1,493.0 195.7,493.5 196.3,494.0 196.9,494.5 197.4,495.0 198.0,495.5" fill="none" stroke="#222" stroke-width="0.45" stroke-linejoin="round"/>
<polyline points="152.0,495.5 152.7,495.2 153.4,494.9 154.1,494.6 154.8,494.3 155.5,494.0 156.2,494.0 157.0,494.0 157.7,494.0 158.5,494.0 159.2,494.0 159.4,493.3 159.5,492.6 159.7,491.9 159.9,491.2 160.1,490.5 160.2,489.8 160.4,489.1 160.6,488.4 160.8,487.7 160.9,487.0 161.1,486.3 161.2,485.6 161.3,484.9 161.3,484.2 161.4,483.5 161.5,482.8 161.6,482.1 161.6,481.4 161.7,480.7 161.8,480.0 161.9,479.3 161.9,478.6 162.0,477.9 162.1,477.2 162.2,476.5 162.2,475.8 162.3,475.1 162.4,474.4 162.5,473.7 162.5,473.0 162.6,472.3 162.7,471.6 162.8,470.9 162.8,470.2 162.9,469.5 163.0,468.8 163.1,468.1 163.1,467.4 163.2,466.7 163.3,466.0 163.3,465.3 163.4,464.6 163.4,463.9 163.5,463.2 163.5,462.5 163.6,461.8 163.6,461.1 163.7,460.4 163.7,459.6 163.7,458.9 163.8,458.2 163.8,457.5 163.9,456.8 163.9,456.1 164.0,455.4 164.0,454.7 164.1,454.0 164.1,453.3 164.1,452.6 164.2,451.9 164.2,451.2 164.3,450.5 164.3,449.8 164.4,449.1 164.4,448.4 164.4,447.6 164.5,446.9 164.5,446.2 164.6,445.5 164.6,444.8 164.7,444.1 164.7,443.4 164.8,442.7 164.8,442.0 164.9,441.3 164.9,440.6 165.0,439.9 165.1,439.2 165.2,438.5 165.2,437.8 165.3,437.1 165.4,436.4 165.4,435.7 165.5,435.0 165.6,434.2 165.7,433.5 165.7,432.8 165.8,432.1 165.9,431.4 165.9,430.7 166.0,430.0 166.1,429.3 166.2,428.6 166.2,427.9 166.3,427.2 166.4,426.5 166.4,425.7 166.5,425.0 166.5,424.2 166.6,423.5 166.7,422.8 166.7,422.0 166.8,421.3 166.8,420.5 166.9,419.8 167.0,419.1 167.0,418.3 167.1,417.6 167.1,416.8 167.2,416.1 167.2,416.8 167.3,417.5 167.3,418.3 167.4,419.0 167.4,419.7 167.4,420.4 167.5,421.2 167.5,421.9 167.6,422.6 167.6,423.3 167.6,424.0 167.7,424.8 167.7,425.5 167.7,426.2 167.8,426.9 167.8,427.6 167.9,428.4 167.9,429.1 167.9,429.8 168.0,430.5 168.0,431.3 168.1,432.0 168.1,432.7 168.1,433.4 168.2,434.1 168.2,434.8 168.2,435.5 168.3,436.3 168.3,437.0 168.3,437.7 168.4,438.4 168.4,439.1 168.4,439.8 168.5,440.5 168.5,441.2 168.5,441.9 168.6,442.6 168.6,443.4 168.6,444.1 168.7,444.8 168.7,445.5 168.7,446.2 168.8,446.9 168.8,447.6 168.8,448.3 168.9,449.0 168.9,449.7 168.9,450.5 169.0,451.2 169.0,452.1 169.0,452.9 169.1,453.6 169.1,453.5 169.1,454.8 169.2,455.8 169.2,454.9 169.2,455.7 169.3,454.1 169.3,453.8 169.3,459.3 169.4,458.7 169.4,460.5 169.5,460.3 169.6,462.1 169.6,461.9 169.7,461.7 169.8,462.0 169.9,464.8 170.0,464.8 170.1,464.9 170.1,466.4 170.2,467.7 170.3,467.0 170.4,468.8 170.5,469.8 170.5,469.5 170.6,470.9 170.7,469.1 170.8,471.5 170.9,472.7 171.0,473.1 171.0,471.9 171.1,472.1 171.2,472.9 171.7,476.9 172.1,476.9 172.6,478.3 173.1,477.3 173.5,476.5 174.0,479.3 174.7,477.8 175.5,479.4 176.2,478.0 177.0,479.0 177.7,478.9 178.4,479.0 179.2,479.0 179.9,476.5 180.7,478.7 181.4,477.9 182.0,478.2 182.5,477.2 183.1,477.6 183.6,475.7 184.2,476.1 184.8,476.9 185.3,476.3 185.9,477.6 186.4,477.6 187.0,478.2 187.2,479.2 187.5,480.1 187.7,481.1 188.0,479.8 188.2,481.2 188.5,482.6 188.7,483.9 189.0,483.2 189.2,485.3 189.5,484.2 189.7,483.8 190.3,487.1 190.8,486.4 191.4,485.0 192.0,487.7 192.6,488.2 193.2,489.2 193.7,488.2 194.3,490.4 195.0,490.0 195.8,490.4 196.5,487.8 197.3,489.4 198.0,489.0 198.7,489.9 199.5,490.2 200.2,488.6 201.0,490.2 201.7,489.6 202.4,490.5 203.2,490.6 203.9,489.7 204.7,488.9 205.4,489.8 206.1,489.9 206.8,489.2 207.5,489.5 208.3,490.1 209.0,490.5 209.7,490.1 210.4,489.0 211.1,489.0 211.8,489.6 212.6,489.4 213.3,491.5 214.0,491.0 214.7,490.7 215.4,491.1 216.2,491.9 216.9,492.0 217.7,487.6 218.4,490.4 219.1,489.2 219.9,491.6 220.6,490.9 221.4,491.3 222.1,490.3 222.5,492.5 222.8,492.4 223.2,493.6 223.5,494.8 223.9,495.5" fill="none" stroke="#000" stroke-width="0.5" stroke-linejoin="round"/>
<line x1="146.10" y1="408.50" x2="146.10" y2="496.50" stroke="#000" stroke-width="0.8"/>
<line x1="146.10" y1="496.00" x2="231.50" y2="496.00" stroke="#000" stroke-width="0.8"/>
<line x1="146.50" y1="496.00" x2="146.50" y2="498.20" stroke="#000" stroke-width="0.6"/>
<text x="146.50" y="504.80" font-size="4.6" font-weight="bold" text-anchor="middle" fill="#222" stroke="#222" stroke-width="0.22">0</text>
<line x1="167.20" y1="496.00" x2="167.20" y2="498.20" stroke="#000" stroke-width="0.6"/>
<text x="167.20" y="504.80" font-size="4.6" font-weight="bold" text-anchor="middle" fill="#222" stroke="#222" stroke-width="0.22">50</text>
<line x1="188.20" y1="496.00" x2="188.20" y2="498.20" stroke="#000" stroke-width="0.6"/>
<text x="188.20" y="504.80" font-size="4.6" font-weight="bold" text-anchor="middle" fill="#222" stroke="#222" stroke-width="0.22">100</text>
<line x1="210.00" y1="496.00" x2="210.00" y2="498.20" stroke="#000" stroke-width="0.6"/>
<text x="210.00" y="504.80" font-size="4.6" font-weight="bold" text-anchor="middle" fill="#222" stroke="#222" stroke-width="0.22">150</text>
<line x1="230.80" y1="496.00" x2="230.80" y2="498.20" stroke="#000" stroke-width="0.6"/>
<text x="230.80" y="504.80" font-size="4.6" font-weight="bold" text-anchor="middle" fill="#222" stroke="#222" stroke-width="0.22">200</text>
<line x1="148.57" y1="496.00" x2="148.57" y2="497.30" stroke="#000" stroke-width="0.5"/>
<line x1="150.64" y1="496.00" x2="150.64" y2="497.30" stroke="#000" stroke-width="0.5"/>
<line x1="152.71" y1="496.00" x2="152.71" y2="497.30" stroke="#000" stroke-width="0.5"/>
<line x1="154.78" y1="496.00" x2="154.78" y2="497.30" stroke="#000" stroke-width="0.5"/>
<line x1="156.85" y1="496.00" x2="156.85" y2="497.30" stroke="#000" stroke-width="0.5"/>
<line x1="158.92" y1="496.00" x2="158.92" y2="497.30" stroke="#000" stroke-width="0.5"/>
<line x1="160.99" y1="496.00" x2="160.99" y2="497.30" stroke="#000" stroke-width="0.5"/>
<line x1="163.06" y1="496.00" x2="163.06" y2="497.30" stroke="#000" stroke-width="0.5"/>
<line x1="165.13" y1="496.00" x2="165.13" y2="497.30" stroke="#000" stroke-width="0.5"/>
<line x1="167.20" y1="496.00" x2="167.20" y2="497.30" stroke="#000" stroke-width="0.5"/>
<line x1="169.27" y1="496.00" x2="169.27" y2="497.30" stroke="#000" stroke-width="0.5"/>
<line x1="171.34" y1="496.00" x2="171.34" y2="497.30" stroke="#000" stroke-width="0.5"/>
<line x1="173.41" y1="496.00" x2="173.41" y2="497.30" stroke="#000" stroke-width="0.5"/>
<line x1="175.48" y1="496.00" x2="175.48" y2="497.30" stroke="#000" stroke-width="0.5"/>
<line x1="177.55" y1="496.00" x2="177.55" y2="497.30" stroke="#000" stroke-width="0.5"/>
<line x1="179.62" y1="496.00" x2="179.62" y2="497.30" stroke="#000" stroke-width="0.5"/>
<line x1="181.69" y1="496.00" x2="181.69" y2="497.30" stroke="#000" stroke-width="0.5"/>
<line x1="183.76" y1="496.00" x2="183.76" y2="497.30" stroke="#000" stroke-width="0.5"/>
<line x1="185.83" y1="496.00" x2="185.83" y2="497.30" stroke="#000" stroke-width="0.5"/>
<line x1="187.90" y1="496.00" x2="187.90" y2="497.30" stroke="#000" stroke-width="0.5"/>
<line x1="189.97" y1="496.00" x2="189.97" y2="497.30" stroke="#000" stroke-width="0.5"/>
<line x1="192.04" y1="496.00" x2="192.04" y2="497.30" stroke="#000" stroke-width="0.5"/>
<line x1="194.11" y1="496.00" x2="194.11" y2="497.30" stroke="#000" stroke-width="0.5"/>
<line x1="196.18" y1="496.00" x2="196.18" y2="497.30" stroke="#000" stroke-width="0.5"/>
<line x1="198.25" y1="496.00" x2="198.25" y2="497.30" stroke="#000" stroke-width="0.5"/>
<line x1="200.32" y1="496.00" x2="200.32" y2="497.30" stroke="#000" stroke-width="0.5"/>
<line x1="202.39" y1="496.00" x2="202.39" y2="497.30" stroke="#000" stroke-width="0.5"/>
<line x1="204.46" y1="496.00" x2="204.46" y2="497.30" stroke="#000" stroke-width="0.5"/>
<line x1="206.53" y1="496.00" x2="206.53" y2="497.30" stroke="#000" stroke-width="0.5"/>
<line x1="208.60" y1="496.00" x2="208.60" y2="497.30" stroke="#000" stroke-width="0.5"/>
<line x1="210.67" y1="496.00" x2="210.67" y2="497.30" stroke="#000" stroke-width="0.5"/>
<line x1="212.74" y1="496.00" x2="212.74" y2="497.30" stroke="#000" stroke-width="0.5"/>
<line x1="214.81" y1="496.00" x2="214.81" y2="497.30" stroke="#000" stroke-width="0.5"/>
<line x1="216.88" y1="496.00" x2="216.88" y2="497.30" stroke="#000" stroke-width="0.5"/>
<line x1="218.95" y1="496.00" x2="218.95" y2="497.30" stroke="#000" stroke-width="0.5"/>
<line x1="221.02" y1="496.00" x2="221.02" y2="497.30" stroke="#000" stroke-width="0.5"/>
<line x1="223.09" y1="496.00" x2="223.09" y2="497.30" stroke="#000" stroke-width="0.5"/>
<line x1="225.16" y1="496.00" x2="225.16" y2="497.30" stroke="#000" stroke-width="0.5"/>
<line x1="227.23" y1="496.00" x2="227.23" y2="497.30" stroke="#000" stroke-width="0.5"/>
<line x1="229.30" y1="496.00" x2="229.30" y2="497.30" stroke="#000" stroke-width="0.5"/>
<line x1="143.70" y1="496.00" x2="146.10" y2="496.00" stroke="#000" stroke-width="0.55"/>
<text x="140.70" y="496.00" font-size="3.9" font-weight="bold" text-anchor="middle" fill="#222" transform="rotate(-90 140.70 496.00)" stroke="#222" stroke-width="0.12">0</text>
<line x1="144.70" y1="492.42" x2="146.10" y2="492.42" stroke="#000" stroke-width="0.55"/>
<line x1="144.70" y1="488.83" x2="146.10" y2="488.83" stroke="#000" stroke-width="0.55"/>
<line x1="144.70" y1="485.25" x2="146.10" y2="485.25" stroke="#000" stroke-width="0.55"/>
<line x1="143.70" y1="481.67" x2="146.10" y2="481.67" stroke="#000" stroke-width="0.55"/>
<text x="140.70" y="481.67" font-size="3.9" font-weight="bold" text-anchor="middle" fill="#222" transform="rotate(-90 140.70 481.67)" stroke="#222" stroke-width="0.12">100</text>
<line x1="144.70" y1="478.08" x2="146.10" y2="478.08" stroke="#000" stroke-width="0.55"/>
<line x1="144.70" y1="474.50" x2="146.10" y2="474.50" stroke="#000" stroke-width="0.55"/>
<line x1="144.70" y1="470.92" x2="146.10" y2="470.92" stroke="#000" stroke-width="0.55"/>
<line x1="143.70" y1="467.33" x2="146.10" y2="467.33" stroke="#000" stroke-width="0.55"/>
<text x="140.70" y="467.33" font-size="3.9" font-weight="bold" text-anchor="middle" fill="#222" transform="rotate(-90 140.70 467.33)" stroke="#222" stroke-width="0.12">200</text>
<line x1="144.70" y1="463.75" x2="146.10" y2="463.75" stroke="#000" stroke-width="0.55"/>
<line x1="144.70" y1="460.17" x2="146.10" y2="460.17" stroke="#000" stroke-width="0.55"/>
<line x1="144.70" y1="456.58" x2="146.10" y2="456.58" stroke="#000" stroke-width="0.55"/>
<line x1="143.70" y1="453.00" x2="146.10" y2="453.00" stroke="#000" stroke-width="0.55"/>
<text x="140.70" y="453.00" font-size="3.9" font-weight="bold" text-anchor="middle" fill="#222" transform="rotate(-90 140.70 453.00)" stroke="#222" stroke-width="0.12">300</text>
<line x1="144.70" y1="449.42" x2="146.10" y2="449.42" stroke="#000" stroke-width="0.55"/>
<line x1="144.70" y1="445.83" x2="146.10" y2="445.83" stroke="#000" stroke-width="0.55"/>
<line x1="144.70" y1="442.25" x2="146.10" y2="442.25" stroke="#000" stroke-width="0.55"/>
<line x1="143.70" y1="438.67" x2="146.10" y2="438.67" stroke="#000" stroke-width="0.55"/>
<text x="140.70" y="438.67" font-size="3.9" font-weight="bold" text-anchor="middle" fill="#222" transform="rotate(-90 140.70 438.67)" stroke="#222" stroke-width="0.12">400</text>
<line x1="144.70" y1="435.08" x2="146.10" y2="435.08" stroke="#000" stroke-width="0.55"/>
<line x1="144.70" y1="431.50" x2="146.10" y2="431.50" stroke="#000" stroke-width="0.55"/>
<line x1="144.70" y1="427.92" x2="146.10" y2="427.92" stroke="#000" stroke-width="0.55"/>
<line x1="143.70" y1="424.33" x2="146.10" y2="424.33" stroke="#000" stroke-width="0.55"/>
<text x="140.70" y="424.33" font-size="3.9" font-weight="bold" text-anchor="middle" fill="#222" transform="rotate(-90 140.70 424.33)" stroke="#222" stroke-width="0.12">500</text>
<line x1="144.70" y1="420.75" x2="146.10" y2="420.75" stroke="#000" stroke-width="0.55"/>
<line x1="144.70" y1="417.17" x2="146.10" y2="417.17" stroke="#000" stroke-width="0.55"/>
<line x1="144.70" y1="413.58" x2="146.10" y2="413.58" stroke="#000" stroke-width="0.55"/>
<line x1="143.70" y1="410.00" x2="146.10" y2="410.00" stroke="#000" stroke-width="0.55"/>
<text x="140.70" y="410.00" font-size="3.9" font-weight="bold" text-anchor="middle" fill="#222" transform="rotate(-90 140.70 410.00)" stroke="#222" stroke-width="0.12">600</text>
<text x="134.10" y="454.50" font-size="4.2" font-weight="bold" text-anchor="middle" fill="#222" transform="rotate(-90 134.10 454.50)" stroke="#222" stroke-width="0.12">Number</text>
<text x="188.80" y="511.80" font-size="4.0" font-weight="bold" text-anchor="middle" fill="#222" stroke="#222" stroke-width="0.12">FL3-A</text>
<path d="M165.7,499.6 L168.7,499.6 L167.2,496.8 Z" fill="#000"/>
<rect x="214.50" y="405.80" width="5.00" height="4.00" fill="#c8202a"/>
<text x="222.30" y="409.30" font-size="4.0" font-weight="bold" text-anchor="start" fill="#222" stroke="#222" stroke-width="0.12">Dip G1</text>
<rect x="214.50" y="410.60" width="5.00" height="4.00" fill="#2c3096"/>
<text x="222.30" y="414.10" font-size="4.0" font-weight="bold" text-anchor="start" fill="#222" stroke="#222" stroke-width="0.12">Dip G2</text>
<rect x="214.50" y="415.40" width="5.00" height="4.00" fill="url(#pS)"/>
<text x="222.30" y="418.90" font-size="4.0" font-weight="bold" text-anchor="start" fill="#222" stroke="#222" stroke-width="0.12">Dip S</text>
<text x="189.10" y="437.90" font-size="5.7" font-weight="normal" text-anchor="start" fill="#111" stroke="#111" stroke-width="0.14">G0/G1=44.44%</text>
<text x="189.10" y="444.50" font-size="5.7" font-weight="normal" text-anchor="start" fill="#111" stroke="#111" stroke-width="0.14">S=37.72%</text>
<text x="189.10" y="451.10" font-size="5.7" font-weight="normal" text-anchor="start" fill="#111" stroke="#111" stroke-width="0.14">G2/M=17.84%</text>
<text x="304.50" y="392.80" font-size="7.6" font-weight="bold" text-anchor="middle" fill="#111" textLength="81.3" lengthAdjust="spacingAndGlyphs" stroke="#111" stroke-width="0.22">S480 + shRNA-PVT1-2</text>
<path d="M284.1,496.0 L284.1,495.8 L284.4,495.8 L284.6,495.7 L284.9,495.6 L285.1,495.4 L285.4,495.3 L285.6,495.0 L285.9,494.7 L286.1,494.4 L286.4,493.9 L286.6,493.3 L286.9,492.6 L287.1,491.8 L287.4,490.8 L287.6,489.6 L287.9,488.1 L288.1,486.5 L288.4,484.6 L288.6,482.5 L288.9,480.1 L289.1,477.4 L289.4,474.5 L289.6,471.3 L289.9,467.8 L290.1,464.2 L290.4,460.5 L290.6,456.6 L290.9,452.6 L291.1,448.7 L291.4,444.9 L291.6,441.2 L291.9,437.8 L292.1,434.6 L292.4,431.9 L292.6,429.6 L292.9,427.8 L293.1,426.6 L293.4,425.9 L293.6,425.8 L293.9,426.4 L294.1,427.5 L294.4,429.2 L294.6,431.4 L294.9,434.0 L295.1,437.1 L295.4,440.5 L295.6,444.1 L295.9,447.9 L296.1,451.8 L296.4,455.8 L296.6,459.7 L296.9,463.5 L297.1,467.1 L297.4,470.6 L297.6,473.8 L297.9,476.8 L298.1,479.6 L298.4,482.0 L298.6,484.2 L298.9,486.1 L299.1,487.8 L299.4,489.3 L299.6,490.5 L299.9,491.6 L300.1,492.5 L300.4,493.2 L300.6,493.8 L300.9,494.3 L301.1,494.7 L301.4,495.0 L301.6,495.2 L301.9,495.4 L302.1,495.6 L302.4,495.7 L302.6,495.8 L302.9,495.8 L303.1,495.9 L303.1,496.0 Z" fill="#c8202a" stroke="#4a1010" stroke-width="0.45"/>
<path d="M289.4,496.0 L289.4,495.8 L289.6,495.8 L289.9,495.7 L290.1,495.7 L290.4,495.6 L290.6,495.5 L290.9,495.3 L291.1,495.2 L291.4,495.0 L291.6,494.8 L291.9,494.6 L292.1,494.3 L292.4,494.0 L292.6,493.7 L292.9,493.3 L293.1,492.9 L293.4,492.5 L293.6,492.0 L293.9,491.5 L294.1,491.0 L294.4,490.5 L294.6,489.9 L294.9,489.3 L295.1,488.8 L295.4,488.2 L295.6,487.7 L295.9,487.1 L296.1,486.6 L296.4,486.1 L296.6,485.6 L296.9,485.2 L297.1,484.8 L297.4,484.4 L297.6,484.1 L297.9,483.7 L298.1,483.5 L298.4,483.2 L298.6,483.0 L298.9,482.8 L299.1,482.7 L299.4,482.6 L299.6,482.4 L299.9,482.4 L300.1,482.3 L300.4,482.2 L300.6,482.2 L300.9,482.1 L301.1,482.1 L301.4,482.1 L301.6,482.1 L301.9,482.0 L302.1,482.0 L302.4,482.0 L302.6,482.0 L302.9,482.0 L303.1,482.0 L303.4,482.0 L303.6,482.0 L303.9,482.0 L304.1,482.0 L304.4,482.0 L304.6,482.0 L304.9,482.0 L305.1,482.0 L305.4,482.0 L305.6,482.0 L305.9,482.0 L306.1,482.0 L306.4,482.0 L306.6,482.0 L306.9,482.0 L307.1,482.0 L307.4,482.0 L307.6,482.0 L307.9,482.0 L308.1,482.0 L308.4,482.0 L308.6,482.0 L308.9,482.0 L309.1,482.0 L309.4,482.0 L309.6,482.0 L309.9,482.0 L310.1,482.0 L310.4,482.0 L310.6,482.0 L310.9,482.0 L311.1,482.0 L311.4,482.0 L311.6,482.0 L311.9,482.0 L312.1,482.0 L312.4,482.0 L312.6,482.0 L312.9,482.0 L313.1,482.0 L313.4,482.0 L313.6,482.0 L313.9,482.0 L314.1,482.0 L314.4,482.0 L314.6,482.0 L314.9,482.0 L315.1,482.0 L315.4,482.0 L315.6,482.0 L315.9,482.0 L316.1,482.0 L316.4,482.0 L316.6,482.0 L316.9,482.0 L317.1,482.0 L317.4,482.0 L317.6,482.0 L317.9,482.0 L318.1,482.0 L318.4,482.0 L318.6,482.0 L318.9,482.0 L319.1,482.0 L319.4,482.0 L319.6,482.0 L319.9,482.0 L320.1,482.0 L320.4,482.1 L320.6,482.1 L320.9,482.1 L321.1,482.1 L321.4,482.2 L321.6,482.2 L321.9,482.3 L322.1,482.3 L322.4,482.4 L322.6,482.5 L322.9,482.7 L323.1,482.8 L323.4,483.0 L323.6,483.2 L323.9,483.4 L324.1,483.7 L324.4,484.0 L324.6,484.3 L324.9,484.7 L325.1,485.1 L325.4,485.5 L325.6,486.0 L325.9,486.5 L326.1,487.0 L326.4,487.5 L326.6,488.1 L326.9,488.7 L327.1,489.2 L327.4,489.8 L327.6,490.3 L327.9,490.9 L328.1,491.4 L328.4,491.9 L328.6,492.4 L328.9,492.8 L329.1,493.2 L329.4,493.6 L329.6,493.9 L329.9,494.3 L330.1,494.5 L330.4,494.8 L330.6,495.0 L330.9,495.2 L331.1,495.3 L331.4,495.4 L331.6,495.6 L331.9,495.6 L332.1,495.7 L332.4,495.8 L332.6,495.8 L332.9,495.9 L332.9,496.0 Z" fill="url(#pS)" fill-opacity="0.78" stroke="#2a2a2a" stroke-width="0.45"/>
<path d="M318.1,496.0 L318.1,495.9 L318.4,495.9 L318.6,495.8 L318.9,495.8 L319.1,495.8 L319.4,495.7 L319.6,495.7 L319.9,495.6 L320.1,495.6 L320.4,495.5 L320.6,495.4 L320.9,495.4 L321.1,495.3 L321.4,495.2 L321.6,495.1 L321.9,495.0 L322.1,494.8 L322.4,494.7 L322.6,494.6 L322.9,494.4 L323.1,494.3 L323.4,494.1 L323.6,493.9 L323.9,493.8 L324.1,493.6 L324.4,493.4 L324.6,493.2 L324.9,493.0 L325.1,492.8 L325.4,492.6 L325.6,492.4 L325.9,492.3 L326.1,492.1 L326.4,491.9 L326.6,491.7 L326.9,491.6 L327.1,491.4 L327.4,491.3 L327.6,491.2 L327.9,491.1 L328.1,491.0 L328.4,491.0 L328.6,490.9 L328.9,490.9 L329.1,490.9 L329.4,490.9 L329.6,491.0 L329.9,491.0 L330.1,491.1 L330.4,491.2 L330.6,491.3 L330.9,491.4 L331.1,491.6 L331.4,491.7 L331.6,491.9 L331.9,492.0 L332.1,492.2 L332.4,492.4 L332.6,492.6 L332.9,492.8 L333.1,493.0 L333.4,493.2 L333.6,493.4 L333.9,493.6 L334.1,493.7 L334.4,493.9 L334.6,494.1 L334.9,494.2 L335.1,494.4 L335.4,494.6 L335.6,494.7 L335.9,494.8 L336.1,494.9 L336.4,495.1 L336.6,495.2 L336.9,495.3 L337.1,495.3 L337.4,495.4 L337.6,495.5 L337.9,495.6 L338.1,495.6 L338.4,495.7 L338.6,495.7 L338.9,495.8 L339.1,495.8 L339.4,495.8 L339.6,495.8 L339.9,495.9 L339.9,496.0 Z" fill="#2c3096" stroke="#111" stroke-width="0.45"/>
<polyline points="285.0,495.5 285.2,494.8 285.4,494.1 285.6,493.4 285.8,492.7 286.0,492.0 286.2,491.3 286.4,490.6 286.6,489.9 286.8,489.2 287.0,488.5 287.2,487.8 287.4,487.1 287.6,486.4 287.8,485.7 288.0,485.0 288.1,484.3 288.1,483.6 288.2,482.9 288.2,482.2 288.3,481.5 288.3,480.8 288.4,480.1 288.4,479.4 288.5,478.7 288.5,478.0 288.6,477.3 288.6,476.6 288.7,475.9 288.7,475.2 288.8,474.5 288.8,473.8 288.9,473.1 288.9,472.4 289.0,471.7 289.1,471.0 289.1,470.3 289.2,469.6 289.2,468.9 289.3,468.2 289.3,467.5 289.4,466.8 289.4,466.1 289.5,465.4 289.5,464.6 289.6,463.9 289.6,463.2 289.7,462.5 289.7,461.8 289.8,461.1 289.8,460.4 289.9,459.7 289.9,459.0 290.0,458.3 290.1,457.6 290.1,456.9 290.2,456.2 290.2,455.5 290.3,454.8 290.3,454.1 290.4,453.4 290.4,452.7 290.5,452.0 290.5,451.3 290.6,450.6 290.6,449.9 290.7,449.2 290.7,448.5 290.8,447.8 290.8,447.1 290.9,446.4 290.9,445.7 291.0,445.0 291.1,444.3 291.1,443.6 291.2,442.9 291.2,442.2 291.3,441.5 291.4,440.8 291.4,440.1 291.5,439.4 291.5,438.7 291.6,438.0 291.7,437.2 291.7,436.5 291.8,435.8 291.9,435.1 291.9,434.4 292.0,433.7 292.0,433.0 292.1,432.3 292.2,431.6 292.2,430.9 292.3,430.2 292.3,429.5 292.4,428.8 292.5,428.1 292.5,427.4 292.6,426.7 292.6,426.0 292.7,425.3 292.8,424.6 292.8,423.9 292.9,423.1 293.0,422.4 293.0,421.7 293.1,421.0 293.1,420.3 293.2,419.6 293.3,418.9 293.3,418.2 293.4,417.5 293.4,416.8 293.5,416.1 293.6,416.8 293.6,417.5 293.7,418.2 293.8,418.9 293.9,419.6 293.9,420.3 294.0,421.0 294.1,421.7 294.2,422.4 294.2,423.1 294.3,423.8 294.4,424.5 294.5,425.2 294.5,425.9 294.6,426.6 294.7,427.3 294.8,428.1 294.8,428.8 294.9,429.5 295.0,430.2 295.0,430.9 295.1,431.6 295.2,432.3 295.3,433.0 295.3,433.7 295.4,434.4 295.5,435.1 295.6,435.8 295.6,436.5 295.7,437.2 295.8,437.9 295.9,438.6 295.9,439.3 296.0,440.0 296.1,440.7 296.2,441.4 296.2,442.1 296.3,442.8 296.4,443.5 296.5,444.2 296.6,444.9 296.7,445.6 296.8,446.3 296.8,447.0 296.9,447.7 297.0,448.4 297.1,449.0 297.2,449.7 297.2,450.4 297.3,451.1 297.4,451.8 297.5,452.5 297.6,453.2 297.7,453.9 297.8,454.6 297.8,455.3 297.9,456.0 298.0,456.7 298.1,457.4 298.2,458.1 298.3,458.8 298.4,459.6 298.5,460.3 298.6,461.0 298.6,461.7 298.7,462.4 298.8,463.1 298.9,463.8 299.0,464.6 299.1,465.3 299.2,466.0 299.3,466.7 299.4,467.4 299.5,468.1 299.6,468.9 299.7,469.6 299.8,470.3 299.9,471.0 299.9,471.7 300.0,472.4 300.1,473.1 300.2,473.9 300.3,474.6 300.4,475.3 300.5,476.0 301.0,476.5 301.5,477.0 302.0,477.5 302.5,478.0 303.0,478.5 303.5,479.0 304.0,479.5 304.5,480.0 305.0,480.5 305.5,481.0 306.0,481.5 306.7,481.5 307.4,481.4 308.1,481.4 308.8,481.4 309.5,481.4 310.2,481.4 310.9,481.3 311.6,481.3 312.3,481.3 313.0,481.2 313.7,481.2 314.4,481.2 315.1,481.2 315.8,481.1 316.5,481.1 317.2,481.1 317.9,481.1 318.6,481.1 319.3,481.0 320.0,481.0 320.7,480.9 321.4,480.8 322.1,480.7 322.8,480.6 323.5,480.5 324.2,480.4 324.9,480.3 325.6,480.2 326.3,480.1 327.0,480.0 327.7,480.1 328.5,480.2 329.2,480.3 329.9,480.4 330.7,480.4 331.4,480.5 332.1,480.6 332.9,480.7 333.6,480.8 333.9,481.5 334.3,482.1 334.6,482.8 334.9,483.5 335.3,484.1 335.6,484.8 336.0,485.4 336.3,486.1 336.6,486.8 337.0,487.4 337.3,488.1 337.4,488.8 337.5,489.6 337.7,490.3 337.8,491.1 337.9,491.8 338.0,492.5 338.1,493.3 338.3,494.0 338.4,494.8 338.5,495.5" fill="none" stroke="#222" stroke-width="0.45" stroke-linejoin="round"/>
<polyline points="270.0,495.5 270.7,495.2 271.4,494.9 272.1,494.6 272.8,494.3 273.5,494.0 274.2,493.9 275.0,493.7 275.7,493.6 276.5,493.4 277.2,493.3 277.9,493.1 278.5,492.9 279.2,492.7 279.9,492.4 280.6,492.2 281.2,492.0 281.9,491.8 282.2,491.1 282.6,490.4 282.9,489.7 283.2,489.1 283.6,488.4 283.9,487.7 284.3,487.0 284.6,486.3 284.8,485.6 285.0,484.8 285.2,484.1 285.4,483.3 285.6,482.6 285.7,481.9 285.9,481.1 286.1,480.4 286.3,479.6 286.5,478.9 286.6,478.2 286.7,477.5 286.8,476.8 286.8,476.1 286.9,475.4 287.0,474.7 287.1,474.0 287.2,473.3 287.3,472.6 287.4,471.9 287.4,471.1 287.5,470.4 287.6,469.7 287.7,469.0 287.8,468.3 287.9,467.6 288.0,466.9 288.0,466.2 288.1,465.5 288.2,464.8 288.3,464.1 288.4,463.4 288.4,462.7 288.5,462.0 288.5,461.2 288.6,460.5 288.6,459.8 288.7,459.1 288.7,458.4 288.8,457.7 288.8,456.9 288.9,456.2 288.9,455.5 289.0,454.8 289.0,454.1 289.1,453.4 289.1,452.6 289.2,451.9 289.2,451.2 289.3,450.5 289.4,449.8 289.4,449.1 289.5,448.3 289.5,447.6 289.6,446.9 289.6,446.2 289.7,445.5 289.7,444.8 289.8,444.0 289.8,443.3 289.9,442.6 289.9,441.9 290.0,441.2 290.0,440.4 290.1,439.7 290.1,439.0 290.2,438.3 290.3,437.6 290.3,436.9 290.4,436.2 290.5,435.5 290.5,434.7 290.6,434.0 290.7,433.3 290.8,432.6 290.8,431.9 290.9,431.2 291.0,430.5 291.0,429.8 291.1,429.1 291.2,428.3 291.2,427.6 291.3,426.9 291.4,426.2 291.4,425.5 291.5,424.8 291.6,424.1 291.7,423.4 291.7,422.6 291.8,421.9 291.9,421.2 291.9,420.5 292.0,419.8 292.3,419.1 292.5,418.5 292.8,417.8 293.1,417.2 293.4,416.5 293.6,415.9 293.9,415.2 294.0,415.9 294.1,416.6 294.2,417.3 294.4,418.0 294.5,418.7 294.6,419.4 294.7,420.0 294.8,420.7 294.9,421.4 295.1,422.1 295.2,422.8 295.3,423.5 295.3,424.2 295.4,424.9 295.4,425.6 295.5,426.3 295.5,427.1 295.6,427.8 295.6,428.5 295.7,429.2 295.7,429.9 295.8,430.6 295.8,431.3 295.9,432.0 295.9,432.7 296.0,433.4 296.0,434.2 296.1,434.9 296.1,435.6 296.2,436.3 296.2,437.0 296.3,437.7 296.3,438.4 296.4,439.1 296.4,439.8 296.5,440.5 296.5,441.3 296.6,442.0 296.6,442.7 296.7,443.4 296.7,444.1 296.8,444.8 296.8,445.5 296.9,446.2 296.9,446.9 297.0,447.6 297.0,448.4 297.1,449.1 297.1,449.8 297.2,450.5 297.2,451.2 297.3,451.9 297.3,452.6 297.4,453.3 297.4,454.0 297.5,454.7 297.6,455.4 297.6,456.1 297.7,456.8 297.8,457.5 297.8,458.2 297.9,458.9 297.9,459.6 298.0,460.3 298.1,461.0 298.1,461.7 298.2,462.4 298.3,463.1 298.3,463.8 298.4,464.5 298.4,465.2 298.5,465.9 298.6,466.6 298.6,467.3 298.7,468.0 298.8,468.7 298.8,469.4 298.9,470.1 298.9,470.8 299.0,470.8 299.2,471.3 299.4,471.8 299.6,473.1 299.8,472.7 300.0,474.1 300.3,475.8 300.5,474.5 300.7,476.0 300.9,477.9 301.1,478.2 301.3,478.6 302.0,479.5 302.7,478.6 303.4,479.2 304.1,476.8 304.7,480.6 305.4,477.8 306.1,480.4 306.8,479.4 307.5,479.8 308.2,481.2 308.9,480.6 309.6,480.5 310.3,481.2 311.0,480.1 311.8,481.2 312.5,478.7 313.2,480.4 313.9,480.0 314.6,479.0 315.3,478.4 316.0,481.1 316.7,480.6 317.5,478.0 318.2,480.2 319.0,480.0 319.7,478.5 320.4,480.0 321.2,479.0 321.9,479.1 322.7,477.9 323.4,477.2 324.1,478.0 324.7,478.5 325.4,477.9 326.0,476.7 326.7,475.8 327.3,475.4 328.0,475.7 328.7,476.3 329.3,475.5 330.0,476.0 330.7,476.4 331.4,477.0 332.0,478.0 332.7,478.2 333.0,477.6 333.3,478.6 333.6,479.2 333.9,480.4 334.2,480.7 334.5,481.9 334.8,481.8 335.1,481.6 335.4,484.0 335.6,484.0 335.8,484.0 336.0,486.9 336.2,487.1 336.4,487.9 336.5,488.8 336.7,487.9 336.9,490.6 337.1,490.8 337.3,491.8 337.7,491.6 338.0,490.4 338.4,494.3 338.7,494.3 339.1,495.5" fill="none" stroke="#000" stroke-width="0.5" stroke-linejoin="round"/>
<line x1="257.10" y1="408.50" x2="257.10" y2="496.50" stroke="#000" stroke-width="0.8"/>
<line x1="257.10" y1="496.00" x2="343.10" y2="496.00" stroke="#000" stroke-width="0.8"/>
<line x1="257.80" y1="496.00" x2="257.80" y2="498.20" stroke="#000" stroke-width="0.6"/>
<text x="257.80" y="504.80" font-size="4.6" font-weight="bold" text-anchor="middle" fill="#222" stroke="#222" stroke-width="0.22">0</text>
<line x1="271.10" y1="496.00" x2="271.10" y2="498.20" stroke="#000" stroke-width="0.6"/>
<text x="271.10" y="504.80" font-size="4.6" font-weight="bold" text-anchor="middle" fill="#222" stroke="#222" stroke-width="0.22">20</text>
<line x1="285.00" y1="496.00" x2="285.00" y2="498.20" stroke="#000" stroke-width="0.6"/>
<text x="285.00" y="504.80" font-size="4.6" font-weight="bold" text-anchor="middle" fill="#222" stroke="#222" stroke-width="0.22">40</text>
<line x1="299.20" y1="496.00" x2="299.20" y2="498.20" stroke="#000" stroke-width="0.6"/>
<text x="299.20" y="504.80" font-size="4.6" font-weight="bold" text-anchor="middle" fill="#222" stroke="#222" stroke-width="0.22">60</text>
<line x1="313.90" y1="496.00" x2="313.90" y2="498.20" stroke="#000" stroke-width="0.6"/>
<text x="313.90" y="504.80" font-size="4.6" font-weight="bold" text-anchor="middle" fill="#222" stroke="#222" stroke-width="0.22">80</text>
<line x1="327.60" y1="496.00" x2="327.60" y2="498.20" stroke="#000" stroke-width="0.6"/>
<text x="327.60" y="504.80" font-size="4.6" font-weight="bold" text-anchor="middle" fill="#222" stroke="#222" stroke-width="0.22">100</text>
<line x1="342.70" y1="496.00" x2="342.70" y2="498.20" stroke="#000" stroke-width="0.6"/>
<text x="342.70" y="504.80" font-size="4.6" font-weight="bold" text-anchor="middle" fill="#222" stroke="#222" stroke-width="0.22">120</text>
<line x1="261.34" y1="496.00" x2="261.34" y2="497.30" stroke="#000" stroke-width="0.5"/>
<line x1="264.88" y1="496.00" x2="264.88" y2="497.30" stroke="#000" stroke-width="0.5"/>
<line x1="268.42" y1="496.00" x2="268.42" y2="497.30" stroke="#000" stroke-width="0.5"/>
<line x1="271.96" y1="496.00" x2="271.96" y2="497.30" stroke="#000" stroke-width="0.5"/>
<line x1="275.50" y1="496.00" x2="275.50" y2="497.30" stroke="#000" stroke-width="0.5"/>
<line x1="279.04" y1="496.00" x2="279.04" y2="497.30" stroke="#000" stroke-width="0.5"/>
<line x1="282.58" y1="496.00" x2="282.58" y2="497.30" stroke="#000" stroke-width="0.5"/>
<line x1="286.12" y1="496.00" x2="286.12" y2="497.30" stroke="#000" stroke-width="0.5"/>
<line x1="289.66" y1="496.00" x2="289.66" y2="497.30" stroke="#000" stroke-width="0.5"/>
<line x1="293.20" y1="496.00" x2="293.20" y2="497.30" stroke="#000" stroke-width="0.5"/>
<line x1="296.74" y1="496.00" x2="296.74" y2="497.30" stroke="#000" stroke-width="0.5"/>
<line x1="300.28" y1="496.00" x2="300.28" y2="497.30" stroke="#000" stroke-width="0.5"/>
<line x1="303.82" y1="496.00" x2="303.82" y2="497.30" stroke="#000" stroke-width="0.5"/>
<line x1="307.36" y1="496.00" x2="307.36" y2="497.30" stroke="#000" stroke-width="0.5"/>
<line x1="310.90" y1="496.00" x2="310.90" y2="497.30" stroke="#000" stroke-width="0.5"/>
<line x1="314.44" y1="496.00" x2="314.44" y2="497.30" stroke="#000" stroke-width="0.5"/>
<line x1="317.98" y1="496.00" x2="317.98" y2="497.30" stroke="#000" stroke-width="0.5"/>
<line x1="321.52" y1="496.00" x2="321.52" y2="497.30" stroke="#000" stroke-width="0.5"/>
<line x1="325.06" y1="496.00" x2="325.06" y2="497.30" stroke="#000" stroke-width="0.5"/>
<line x1="328.60" y1="496.00" x2="328.60" y2="497.30" stroke="#000" stroke-width="0.5"/>
<line x1="332.14" y1="496.00" x2="332.14" y2="497.30" stroke="#000" stroke-width="0.5"/>
<line x1="335.68" y1="496.00" x2="335.68" y2="497.30" stroke="#000" stroke-width="0.5"/>
<line x1="339.22" y1="496.00" x2="339.22" y2="497.30" stroke="#000" stroke-width="0.5"/>
<line x1="254.70" y1="496.00" x2="257.10" y2="496.00" stroke="#000" stroke-width="0.55"/>
<text x="251.70" y="496.00" font-size="3.9" font-weight="bold" text-anchor="middle" fill="#222" transform="rotate(-90 251.70 496.00)" stroke="#222" stroke-width="0.12">0</text>
<line x1="255.70" y1="492.42" x2="257.10" y2="492.42" stroke="#000" stroke-width="0.55"/>
<line x1="255.70" y1="488.83" x2="257.10" y2="488.83" stroke="#000" stroke-width="0.55"/>
<line x1="255.70" y1="485.25" x2="257.10" y2="485.25" stroke="#000" stroke-width="0.55"/>
<line x1="254.70" y1="481.67" x2="257.10" y2="481.67" stroke="#000" stroke-width="0.55"/>
<text x="251.70" y="481.67" font-size="3.9" font-weight="bold" text-anchor="middle" fill="#222" transform="rotate(-90 251.70 481.67)" stroke="#222" stroke-width="0.12">100</text>
<line x1="255.70" y1="478.08" x2="257.10" y2="478.08" stroke="#000" stroke-width="0.55"/>
<line x1="255.70" y1="474.50" x2="257.10" y2="474.50" stroke="#000" stroke-width="0.55"/>
<line x1="255.70" y1="470.92" x2="257.10" y2="470.92" stroke="#000" stroke-width="0.55"/>
<line x1="254.70" y1="467.33" x2="257.10" y2="467.33" stroke="#000" stroke-width="0.55"/>
<text x="251.70" y="467.33" font-size="3.9" font-weight="bold" text-anchor="middle" fill="#222" transform="rotate(-90 251.70 467.33)" stroke="#222" stroke-width="0.12">200</text>
<line x1="255.70" y1="463.75" x2="257.10" y2="463.75" stroke="#000" stroke-width="0.55"/>
<line x1="255.70" y1="460.17" x2="257.10" y2="460.17" stroke="#000" stroke-width="0.55"/>
<line x1="255.70" y1="456.58" x2="257.10" y2="456.58" stroke="#000" stroke-width="0.55"/>
<line x1="254.70" y1="453.00" x2="257.10" y2="453.00" stroke="#000" stroke-width="0.55"/>
<text x="251.70" y="453.00" font-size="3.9" font-weight="bold" text-anchor="middle" fill="#222" transform="rotate(-90 251.70 453.00)" stroke="#222" stroke-width="0.12">300</text>
<line x1="255.70" y1="449.42" x2="257.10" y2="449.42" stroke="#000" stroke-width="0.55"/>
<line x1="255.70" y1="445.83" x2="257.10" y2="445.83" stroke="#000" stroke-width="0.55"/>
<line x1="255.70" y1="442.25" x2="257.10" y2="442.25" stroke="#000" stroke-width="0.55"/>
<line x1="254.70" y1="438.67" x2="257.10" y2="438.67" stroke="#000" stroke-width="0.55"/>
<text x="251.70" y="438.67" font-size="3.9" font-weight="bold" text-anchor="middle" fill="#222" transform="rotate(-90 251.70 438.67)" stroke="#222" stroke-width="0.12">400</text>
<line x1="255.70" y1="435.08" x2="257.10" y2="435.08" stroke="#000" stroke-width="0.55"/>
<line x1="255.70" y1="431.50" x2="257.10" y2="431.50" stroke="#000" stroke-width="0.55"/>
<line x1="255.70" y1="427.92" x2="257.10" y2="427.92" stroke="#000" stroke-width="0.55"/>
<line x1="254.70" y1="424.33" x2="257.10" y2="424.33" stroke="#000" stroke-width="0.55"/>
<text x="251.70" y="424.33" font-size="3.9" font-weight="bold" text-anchor="middle" fill="#222" transform="rotate(-90 251.70 424.33)" stroke="#222" stroke-width="0.12">500</text>
<line x1="255.70" y1="420.75" x2="257.10" y2="420.75" stroke="#000" stroke-width="0.55"/>
<line x1="255.70" y1="417.17" x2="257.10" y2="417.17" stroke="#000" stroke-width="0.55"/>
<line x1="255.70" y1="413.58" x2="257.10" y2="413.58" stroke="#000" stroke-width="0.55"/>
<line x1="254.70" y1="410.00" x2="257.10" y2="410.00" stroke="#000" stroke-width="0.55"/>
<text x="251.70" y="410.00" font-size="3.9" font-weight="bold" text-anchor="middle" fill="#222" transform="rotate(-90 251.70 410.00)" stroke="#222" stroke-width="0.12">600</text>
<text x="245.10" y="454.50" font-size="4.2" font-weight="bold" text-anchor="middle" fill="#222" transform="rotate(-90 245.10 454.50)" stroke="#222" stroke-width="0.12">Number</text>
<text x="300.10" y="511.80" font-size="4.0" font-weight="bold" text-anchor="middle" fill="#222" stroke="#222" stroke-width="0.12">FL3-A</text>
<path d="M293.3,499.6 L296.3,499.6 L294.8,496.8 Z" fill="#000"/>
<rect x="324.60" y="405.80" width="5.00" height="4.00" fill="#c8202a"/>
<text x="332.40" y="409.30" font-size="4.0" font-weight="bold" text-anchor="start" fill="#222" stroke="#222" stroke-width="0.12">Dip G1</text>
<rect x="324.60" y="410.60" width="5.00" height="4.00" fill="#2c3096"/>
<text x="332.40" y="414.10" font-size="4.0" font-weight="bold" text-anchor="start" fill="#222" stroke="#222" stroke-width="0.12">Dip G2</text>
<rect x="324.60" y="415.40" width="5.00" height="4.00" fill="url(#pS)"/>
<text x="332.40" y="418.90" font-size="4.0" font-weight="bold" text-anchor="start" fill="#222" stroke="#222" stroke-width="0.12">Dip S</text>
<text x="304.00" y="437.90" font-size="5.7" font-weight="normal" text-anchor="start" fill="#111" stroke="#111" stroke-width="0.14">G0/G1=40.41%</text>
<text x="304.00" y="444.50" font-size="5.7" font-weight="normal" text-anchor="start" fill="#111" stroke="#111" stroke-width="0.14">S=53.14%</text>
<text x="304.00" y="451.10" font-size="5.7" font-weight="normal" text-anchor="start" fill="#111" stroke="#111" stroke-width="0.14">G2/M=6.45%</text>
<text x="389.80" y="13.20" font-size="13.4" font-weight="bold" text-anchor="start" fill="#000" stroke="#000" stroke-width="0.35">D</text>
<text x="460.20" y="18.90" font-size="6.4" font-weight="bold" text-anchor="middle" fill="#111" textLength="19.5" lengthAdjust="spacingAndGlyphs" stroke="#111" stroke-width="0.22">HCT116</text>
<text x="506.70" y="18.90" font-size="6.4" font-weight="bold" text-anchor="middle" fill="#111" textLength="17.5" lengthAdjust="spacingAndGlyphs" stroke="#111" stroke-width="0.22">SW480</text>
<text x="432.80" y="49.30" font-size="6.2" font-weight="bold" text-anchor="end" fill="#111" transform="rotate(33 432.80 49.30)" textLength="19.5" lengthAdjust="spacingAndGlyphs" stroke="#111" stroke-width="0.22">Control</text>
<text x="434.80" y="97.50" font-size="6.2" font-weight="bold" text-anchor="end" fill="#111" transform="rotate(33 434.80 97.50)" textLength="37" lengthAdjust="spacingAndGlyphs" stroke="#111" stroke-width="0.22">shRNA-control</text>
<text x="431.00" y="145.00" font-size="6.2" font-weight="bold" text-anchor="end" fill="#111" transform="rotate(33 431.00 145.00)" textLength="37" lengthAdjust="spacingAndGlyphs" stroke="#111" stroke-width="0.22">shRNA-PVT1-2</text>
<clipPath id="clip101"><circle cx="459.0" cy="47.5" r="20.1"/></clipPath>
<circle cx="459.0" cy="47.5" r="20.1" fill="#cbcbe9"/>
<g clip-path="url(#clip101)">
<circle cx="451.3" cy="43.2" r="0.5" fill="#6058b8" fill-opacity="0.8"/>
<circle cx="443.0" cy="50.9" r="0.3" fill="#6058b8" fill-opacity="0.4"/>
<circle cx="455.0" cy="63.7" r="0.3" fill="#6058b8" fill-opacity="0.8"/>
<circle cx="467.0" cy="51.3" r="0.3" fill="#6058b8" fill-opacity="0.7"/>
<circle cx="449.8" cy="57.8" r="0.3" fill="#6058b8" fill-opacity="0.6"/>
<circle cx="451.4" cy="52.7" r="0.4" fill="#6058b8" fill-opacity="0.5"/>
<circle cx="473.0" cy="59.2" r="0.4" fill="#6058b8" fill-opacity="0.6"/>
<circle cx="468.3" cy="39.0" r="0.3" fill="#6058b8" fill-opacity="0.5"/>
<circle cx="445.4" cy="56.8" r="0.3" fill="#6058b8" fill-opacity="0.5"/>
<circle cx="447.5" cy="44.9" r="0.3" fill="#6058b8" fill-opacity="0.7"/>
<circle cx="474.1" cy="48.4" r="0.3" fill="#6058b8" fill-opacity="0.3"/>
<circle cx="461.2" cy="52.2" r="0.3" fill="#6058b8" fill-opacity="0.6"/>
<circle cx="457.4" cy="35.5" r="0.4" fill="#6058b8" fill-opacity="0.5"/>
<circle cx="440.2" cy="47.7" r="0.3" fill="#6058b8" fill-opacity="0.7"/>
<circle cx="453.0" cy="32.0" r="0.3" fill="#6058b8" fill-opacity="0.3"/>
<circle cx="470.6" cy="49.9" r="0.5" fill="#6058b8" fill-opacity="0.7"/>
<circle cx="462.7" cy="41.6" r="0.4" fill="#6058b8" fill-opacity="0.7"/>
<circle cx="465.5" cy="30.8" r="0.3" fill="#6058b8" fill-opacity="0.4"/>
<circle cx="463.6" cy="30.8" r="0.5" fill="#6058b8" fill-opacity="0.5"/>
<circle cx="464.8" cy="42.7" r="0.5" fill="#6058b8" fill-opacity="0.7"/>
<circle cx="456.3" cy="52.0" r="0.4" fill="#6058b8" fill-opacity="0.6"/>
<circle cx="456.2" cy="51.4" r="0.3" fill="#6058b8" fill-opacity="0.7"/>
<circle cx="475.4" cy="58.0" r="0.3" fill="#6058b8" fill-opacity="0.4"/>
<circle cx="474.2" cy="60.4" r="0.5" fill="#6058b8" fill-opacity="0.5"/>
<circle cx="472.4" cy="56.7" r="0.5" fill="#6058b8" fill-opacity="0.3"/>
<circle cx="446.5" cy="33.7" r="0.4" fill="#6058b8" fill-opacity="0.6"/>
<circle cx="462.3" cy="38.2" r="0.3" fill="#6058b8" fill-opacity="0.6"/>
<circle cx="445.1" cy="42.8" r="0.3" fill="#6058b8" fill-opacity="0.8"/>
<circle cx="455.1" cy="63.6" r="0.5" fill="#6058b8" fill-opacity="0.5"/>
<circle cx="467.9" cy="50.7" r="0.3" fill="#6058b8" fill-opacity="0.4"/>
<circle cx="467.6" cy="55.6" r="0.3" fill="#6058b8" fill-opacity="0.5"/>
<circle cx="450.6" cy="33.3" r="0.4" fill="#6058b8" fill-opacity="0.5"/>
<circle cx="451.2" cy="34.8" r="0.3" fill="#6058b8" fill-opacity="0.6"/>
<circle cx="452.1" cy="62.5" r="0.4" fill="#6058b8" fill-opacity="0.4"/>
<circle cx="446.6" cy="52.9" r="0.3" fill="#6058b8" fill-opacity="0.3"/>
<circle cx="478.1" cy="53.6" r="0.4" fill="#6058b8" fill-opacity="0.5"/>
<circle cx="453.8" cy="38.5" r="0.4" fill="#6058b8" fill-opacity="0.8"/>
<circle cx="461.0" cy="33.9" r="0.5" fill="#6058b8" fill-opacity="0.8"/>
<circle cx="471.0" cy="52.1" r="0.4" fill="#6058b8" fill-opacity="0.4"/>
<circle cx="453.3" cy="42.4" r="0.4" fill="#6058b8" fill-opacity="0.7"/>
<circle cx="474.5" cy="53.8" r="0.3" fill="#6058b8" fill-opacity="0.6"/>
<circle cx="451.8" cy="29.0" r="0.4" fill="#6058b8" fill-opacity="0.5"/>
<circle cx="458.0" cy="39.9" r="0.4" fill="#6058b8" fill-opacity="0.5"/>
<circle cx="458.1" cy="57.3" r="0.3" fill="#6058b8" fill-opacity="0.7"/>
<circle cx="467.0" cy="53.0" r="0.3" fill="#6058b8" fill-opacity="0.4"/>
<circle cx="457.1" cy="32.2" r="0.4" fill="#6058b8" fill-opacity="0.8"/>
<circle cx="455.3" cy="48.7" r="0.3" fill="#6058b8" fill-opacity="0.6"/>
<circle cx="454.8" cy="28.7" r="0.4" fill="#6058b8" fill-opacity="0.4"/>
<circle cx="442.8" cy="36.8" r="0.3" fill="#6058b8" fill-opacity="0.8"/>
<circle cx="471.6" cy="38.8" r="0.4" fill="#6058b8" fill-opacity="0.4"/>
<circle cx="462.1" cy="50.1" r="0.4" fill="#6058b8" fill-opacity="0.7"/>
<circle cx="474.6" cy="46.9" r="0.5" fill="#6058b8" fill-opacity="0.5"/>
<circle cx="462.3" cy="51.2" r="0.3" fill="#6058b8" fill-opacity="0.6"/>
<circle cx="469.9" cy="46.6" r="0.3" fill="#6058b8" fill-opacity="0.7"/>
<circle cx="447.5" cy="57.2" r="0.3" fill="#6058b8" fill-opacity="0.7"/>
<circle cx="474.3" cy="39.0" r="0.5" fill="#6058b8" fill-opacity="0.5"/>
<circle cx="469.9" cy="49.7" r="0.5" fill="#6058b8" fill-opacity="0.5"/>
<circle cx="461.4" cy="54.9" r="0.3" fill="#6058b8" fill-opacity="0.5"/>
<circle cx="475.9" cy="39.0" r="0.4" fill="#6058b8" fill-opacity="0.7"/>
<circle cx="465.4" cy="64.0" r="0.3" fill="#6058b8" fill-opacity="0.6"/>
<circle cx="477.6" cy="51.5" r="0.3" fill="#6058b8" fill-opacity="0.6"/>
<circle cx="450.5" cy="33.8" r="0.4" fill="#6058b8" fill-opacity="0.5"/>
<circle cx="464.1" cy="28.7" r="0.4" fill="#6058b8" fill-opacity="0.8"/>
<circle cx="461.8" cy="43.7" r="0.4" fill="#6058b8" fill-opacity="0.3"/>
<circle cx="452.5" cy="37.1" r="0.5" fill="#6058b8" fill-opacity="0.3"/>
<circle cx="463.0" cy="46.1" r="0.3" fill="#6058b8" fill-opacity="0.3"/>
<circle cx="473.1" cy="61.7" r="0.5" fill="#6058b8" fill-opacity="0.8"/>
<circle cx="465.5" cy="62.9" r="0.4" fill="#6058b8" fill-opacity="0.7"/>
<circle cx="456.6" cy="67.2" r="0.4" fill="#6058b8" fill-opacity="0.6"/>
<circle cx="456.3" cy="59.9" r="0.4" fill="#6058b8" fill-opacity="0.6"/>
<circle cx="439.8" cy="49.0" r="0.4" fill="#6058b8" fill-opacity="0.7"/>
<circle cx="473.0" cy="51.7" r="0.4" fill="#6058b8" fill-opacity="0.3"/>
<circle cx="455.4" cy="37.4" r="0.4" fill="#6058b8" fill-opacity="0.6"/>
<circle cx="471.8" cy="62.3" r="0.3" fill="#6058b8" fill-opacity="0.4"/>
<circle cx="454.2" cy="49.3" r="0.3" fill="#6058b8" fill-opacity="0.7"/>
<circle cx="471.1" cy="56.0" r="0.5" fill="#6058b8" fill-opacity="0.5"/>
<circle cx="466.2" cy="30.7" r="0.3" fill="#6058b8" fill-opacity="0.3"/>
<circle cx="463.0" cy="29.2" r="0.5" fill="#6058b8" fill-opacity="0.7"/>
<circle cx="439.4" cy="46.3" r="0.4" fill="#6058b8" fill-opacity="0.7"/>
<circle cx="463.0" cy="45.0" r="0.4" fill="#6058b8" fill-opacity="0.6"/>
<circle cx="469.1" cy="48.3" r="0.4" fill="#6058b8" fill-opacity="0.6"/>
<circle cx="449.0" cy="43.4" r="0.4" fill="#6058b8" fill-opacity="0.7"/>
<circle cx="473.8" cy="45.6" r="0.4" fill="#6058b8" fill-opacity="0.3"/>
<circle cx="468.6" cy="59.1" r="0.5" fill="#6058b8" fill-opacity="0.4"/>
<circle cx="467.5" cy="58.9" r="0.3" fill="#6058b8" fill-opacity="0.4"/>
<circle cx="466.1" cy="58.5" r="0.4" fill="#6058b8" fill-opacity="0.4"/>
<circle cx="460.9" cy="42.3" r="0.3" fill="#6058b8" fill-opacity="0.6"/>
<circle cx="470.4" cy="48.0" r="0.3" fill="#6058b8" fill-opacity="0.4"/>
<circle cx="465.1" cy="42.3" r="0.4" fill="#6058b8" fill-opacity="0.8"/>
<circle cx="459.5" cy="66.2" r="0.3" fill="#6058b8" fill-opacity="0.7"/>
<circle cx="448.6" cy="41.7" r="0.5" fill="#6058b8" fill-opacity="0.6"/>
<circle cx="452.6" cy="61.3" r="0.3" fill="#6058b8" fill-opacity="0.4"/>
<circle cx="477.4" cy="40.0" r="0.3" fill="#6058b8" fill-opacity="0.8"/>
<circle cx="458.5" cy="45.4" r="0.3" fill="#6058b8" fill-opacity="0.5"/>
<circle cx="473.3" cy="35.3" r="0.3" fill="#6058b8" fill-opacity="0.5"/>
<circle cx="467.2" cy="43.3" r="0.3" fill="#6058b8" fill-opacity="0.5"/>
<circle cx="451.1" cy="30.5" r="0.5" fill="#6058b8" fill-opacity="0.3"/>
<circle cx="462.3" cy="53.9" r="0.4" fill="#6058b8" fill-opacity="0.5"/>
<circle cx="472.9" cy="40.1" r="0.4" fill="#6058b8" fill-opacity="0.6"/>
<circle cx="464.3" cy="65.8" r="0.5" fill="#6058b8" fill-opacity="0.7"/>
<circle cx="460.7" cy="39.3" r="0.3" fill="#6058b8" fill-opacity="0.5"/>
<circle cx="457.1" cy="38.7" r="0.5" fill="#6058b8" fill-opacity="0.7"/>
<circle cx="454.4" cy="34.3" r="0.3" fill="#6058b8" fill-opacity="0.7"/>
<circle cx="465.6" cy="60.0" r="0.4" fill="#6058b8" fill-opacity="0.6"/>
<circle cx="460.7" cy="66.3" r="0.3" fill="#6058b8" fill-opacity="0.5"/>
<circle cx="443.4" cy="53.8" r="0.3" fill="#6058b8" fill-opacity="0.6"/>
<circle cx="441.1" cy="48.9" r="0.3" fill="#6058b8" fill-opacity="0.6"/>
<circle cx="463.8" cy="46.5" r="0.4" fill="#6058b8" fill-opacity="0.5"/>
<circle cx="455.8" cy="57.5" r="0.3" fill="#6058b8" fill-opacity="0.7"/>
<circle cx="464.8" cy="66.3" r="0.4" fill="#6058b8" fill-opacity="0.4"/>
<circle cx="462.2" cy="32.5" r="0.5" fill="#6058b8" fill-opacity="0.4"/>
<circle cx="457.8" cy="44.4" r="0.3" fill="#6058b8" fill-opacity="0.5"/>
<circle cx="454.9" cy="57.4" r="0.4" fill="#6058b8" fill-opacity="0.7"/>
<circle cx="446.6" cy="54.7" r="0.4" fill="#6058b8" fill-opacity="0.4"/>
<circle cx="462.1" cy="47.5" r="0.3" fill="#6058b8" fill-opacity="0.7"/>
<circle cx="460.1" cy="59.0" r="0.3" fill="#6058b8" fill-opacity="0.8"/>
<circle cx="463.1" cy="43.5" r="0.4" fill="#6058b8" fill-opacity="0.4"/>
<circle cx="468.4" cy="48.6" r="0.4" fill="#6058b8" fill-opacity="0.6"/>
<circle cx="455.4" cy="62.4" r="0.3" fill="#6058b8" fill-opacity="0.5"/>
<circle cx="473.9" cy="58.1" r="0.3" fill="#6058b8" fill-opacity="0.7"/>
<circle cx="452.4" cy="58.6" r="0.4" fill="#6058b8" fill-opacity="0.4"/>
<circle cx="442.1" cy="42.3" r="0.3" fill="#6058b8" fill-opacity="0.4"/>
<circle cx="472.9" cy="49.3" r="0.3" fill="#6058b8" fill-opacity="0.6"/>
<circle cx="466.7" cy="59.9" r="0.3" fill="#6058b8" fill-opacity="0.7"/>
<circle cx="466.9" cy="29.5" r="0.4" fill="#6058b8" fill-opacity="0.7"/>
<circle cx="466.5" cy="38.6" r="0.5" fill="#6058b8" fill-opacity="0.8"/>
<circle cx="468.6" cy="62.1" r="0.4" fill="#6058b8" fill-opacity="0.6"/>
<circle cx="456.4" cy="37.2" r="0.5" fill="#6058b8" fill-opacity="0.7"/>
<circle cx="467.0" cy="65.5" r="0.4" fill="#6058b8" fill-opacity="0.3"/>
<circle cx="467.1" cy="49.2" r="0.4" fill="#6058b8" fill-opacity="0.7"/>
<circle cx="476.2" cy="39.6" r="0.3" fill="#6058b8" fill-opacity="0.4"/>
<circle cx="469.8" cy="53.9" r="0.4" fill="#6058b8" fill-opacity="0.5"/>
<circle cx="465.8" cy="33.3" r="0.5" fill="#6058b8" fill-opacity="0.7"/>
<circle cx="460.4" cy="33.2" r="0.4" fill="#6058b8" fill-opacity="0.6"/>
<circle cx="443.1" cy="51.6" r="0.5" fill="#6058b8" fill-opacity="0.6"/>
<circle cx="458.6" cy="62.6" r="0.4" fill="#6058b8" fill-opacity="0.4"/>
<circle cx="469.6" cy="55.8" r="0.5" fill="#6058b8" fill-opacity="0.7"/>
<circle cx="477.1" cy="54.1" r="0.4" fill="#6058b8" fill-opacity="0.6"/>
<circle cx="470.2" cy="47.9" r="0.3" fill="#6058b8" fill-opacity="0.5"/>
<circle cx="470.4" cy="58.6" r="0.4" fill="#6058b8" fill-opacity="0.6"/>
<circle cx="444.0" cy="48.0" r="0.3" fill="#6058b8" fill-opacity="0.7"/>
<circle cx="471.5" cy="33.8" r="0.4" fill="#6058b8" fill-opacity="0.4"/>
<circle cx="457.8" cy="51.9" r="0.4" fill="#6058b8" fill-opacity="0.7"/>
<circle cx="473.4" cy="41.5" r="0.4" fill="#6058b8" fill-opacity="0.7"/>
<circle cx="462.8" cy="51.1" r="0.5" fill="#6058b8" fill-opacity="0.8"/>
<circle cx="455.7" cy="32.0" r="0.3" fill="#6058b8" fill-opacity="0.7"/>
<circle cx="458.0" cy="52.1" r="0.5" fill="#6058b8" fill-opacity="0.3"/>
<circle cx="455.6" cy="31.7" r="0.3" fill="#6058b8" fill-opacity="0.5"/>
<circle cx="456.5" cy="65.4" r="0.4" fill="#6058b8" fill-opacity="0.5"/>
<circle cx="465.7" cy="57.2" r="0.4" fill="#6058b8" fill-opacity="0.6"/>
<circle cx="469.8" cy="43.8" r="0.3" fill="#6058b8" fill-opacity="0.6"/>
<circle cx="443.6" cy="55.3" r="0.4" fill="#6058b8" fill-opacity="0.6"/>
<circle cx="462.6" cy="39.4" r="0.4" fill="#6058b8" fill-opacity="0.4"/>
<circle cx="444.1" cy="49.4" r="0.4" fill="#6058b8" fill-opacity="0.4"/>
<circle cx="448.7" cy="50.2" r="0.3" fill="#6058b8" fill-opacity="0.5"/>
<circle cx="451.2" cy="52.2" r="0.4" fill="#6058b8" fill-opacity="0.8"/>
<circle cx="467.1" cy="44.8" r="0.3" fill="#6058b8" fill-opacity="0.5"/>
<circle cx="445.1" cy="38.1" r="0.4" fill="#6058b8" fill-opacity="0.5"/>
<circle cx="478.7" cy="47.3" r="0.5" fill="#6058b8" fill-opacity="0.4"/>
<circle cx="459.4" cy="43.7" r="0.5" fill="#6058b8" fill-opacity="0.7"/>
<circle cx="470.7" cy="41.6" r="0.4" fill="#6058b8" fill-opacity="0.4"/>
<circle cx="466.6" cy="43.7" r="0.3" fill="#6058b8" fill-opacity="0.4"/>
<circle cx="451.5" cy="34.8" r="0.5" fill="#6058b8" fill-opacity="0.6"/>
<circle cx="462.7" cy="28.3" r="0.3" fill="#6058b8" fill-opacity="0.4"/>
<circle cx="457.2" cy="54.6" r="0.4" fill="#6058b8" fill-opacity="0.7"/>
<circle cx="464.9" cy="60.4" r="0.3" fill="#6058b8" fill-opacity="0.3"/>
<circle cx="458.0" cy="57.8" r="0.4" fill="#6058b8" fill-opacity="0.8"/>
<circle cx="471.8" cy="53.3" r="0.4" fill="#6058b8" fill-opacity="0.6"/>
<circle cx="470.7" cy="63.3" r="0.3" fill="#6058b8" fill-opacity="0.6"/>
<circle cx="446.4" cy="55.7" r="0.5" fill="#6058b8" fill-opacity="0.6"/>
<circle cx="448.4" cy="64.0" r="0.3" fill="#6058b8" fill-opacity="0.8"/>
<circle cx="454.4" cy="38.7" r="0.5" fill="#6058b8" fill-opacity="0.7"/>
<circle cx="440.9" cy="46.5" r="0.3" fill="#6058b8" fill-opacity="0.4"/>
<circle cx="439.6" cy="50.1" r="0.3" fill="#6058b8" fill-opacity="0.8"/>
<circle cx="444.1" cy="39.3" r="0.4" fill="#6058b8" fill-opacity="0.4"/>
<circle cx="472.5" cy="39.9" r="0.3" fill="#6058b8" fill-opacity="0.4"/>
<circle cx="463.6" cy="33.1" r="0.5" fill="#6058b8" fill-opacity="0.7"/>
<circle cx="446.6" cy="43.6" r="0.4" fill="#6058b8" fill-opacity="0.8"/>
<circle cx="454.0" cy="61.1" r="0.3" fill="#6058b8" fill-opacity="0.3"/>
<circle cx="470.4" cy="52.1" r="0.4" fill="#6058b8" fill-opacity="0.7"/>
<circle cx="459.0" cy="27.8" r="0.3" fill="#6058b8" fill-opacity="0.7"/>
<circle cx="453.7" cy="58.6" r="0.4" fill="#6058b8" fill-opacity="0.8"/>
<circle cx="454.3" cy="48.6" r="0.3" fill="#6058b8" fill-opacity="0.6"/>
<circle cx="455.8" cy="40.3" r="0.3" fill="#6058b8" fill-opacity="0.4"/>
<circle cx="446.4" cy="46.5" r="0.3" fill="#6058b8" fill-opacity="0.6"/>
<circle cx="459.3" cy="31.7" r="0.4" fill="#6058b8" fill-opacity="0.5"/>
<circle cx="465.1" cy="44.4" r="0.3" fill="#6058b8" fill-opacity="0.3"/>
<circle cx="447.6" cy="48.9" r="0.3" fill="#6058b8" fill-opacity="0.3"/>
<circle cx="460.1" cy="42.8" r="0.4" fill="#6058b8" fill-opacity="0.8"/>
<circle cx="458.8" cy="62.9" r="0.5" fill="#6058b8" fill-opacity="0.5"/>
<circle cx="462.3" cy="45.7" r="0.4" fill="#6058b8" fill-opacity="0.7"/>
<circle cx="440.7" cy="48.2" r="0.5" fill="#6058b8" fill-opacity="0.7"/>
<circle cx="442.4" cy="49.7" r="0.5" fill="#6058b8" fill-opacity="0.6"/>
<circle cx="467.7" cy="50.1" r="0.4" fill="#6058b8" fill-opacity="0.4"/>
<circle cx="469.7" cy="64.2" r="0.4" fill="#6058b8" fill-opacity="0.8"/>
<circle cx="468.3" cy="32.3" r="0.4" fill="#6058b8" fill-opacity="0.4"/>
<circle cx="467.6" cy="51.3" r="0.4" fill="#6058b8" fill-opacity="0.6"/>
<circle cx="467.0" cy="58.5" r="0.3" fill="#6058b8" fill-opacity="0.7"/>
<circle cx="453.5" cy="65.1" r="0.4" fill="#6058b8" fill-opacity="0.8"/>
<circle cx="457.1" cy="57.8" r="0.4" fill="#6058b8" fill-opacity="0.4"/>
<circle cx="443.3" cy="35.8" r="0.4" fill="#6058b8" fill-opacity="0.4"/>
<circle cx="474.1" cy="52.7" r="0.4" fill="#6058b8" fill-opacity="0.3"/>
<circle cx="446.9" cy="60.7" r="0.4" fill="#6058b8" fill-opacity="0.5"/>
<circle cx="478.3" cy="42.6" r="0.3" fill="#6058b8" fill-opacity="0.4"/>
<circle cx="450.0" cy="40.0" r="0.3" fill="#6058b8" fill-opacity="0.7"/>
<circle cx="470.6" cy="39.4" r="0.5" fill="#6058b8" fill-opacity="0.6"/>
<circle cx="449.1" cy="37.0" r="0.4" fill="#6058b8" fill-opacity="0.8"/>
<circle cx="445.1" cy="47.4" r="0.4" fill="#6058b8" fill-opacity="0.7"/>
<circle cx="454.6" cy="40.8" r="0.3" fill="#6058b8" fill-opacity="0.5"/>
<circle cx="470.5" cy="50.9" r="0.3" fill="#6058b8" fill-opacity="0.4"/>
<circle cx="468.9" cy="60.1" r="0.5" fill="#6058b8" fill-opacity="0.4"/>
<circle cx="456.8" cy="34.8" r="0.3" fill="#6058b8" fill-opacity="0.8"/>
<circle cx="469.7" cy="56.4" r="0.3" fill="#6058b8" fill-opacity="0.4"/>
<circle cx="451.5" cy="57.4" r="0.4" fill="#6058b8" fill-opacity="0.8"/>
<circle cx="448.8" cy="38.7" r="0.5" fill="#6058b8" fill-opacity="0.5"/>
<circle cx="454.8" cy="34.7" r="0.4" fill="#6058b8" fill-opacity="0.3"/>
<circle cx="466.8" cy="62.4" r="0.4" fill="#6058b8" fill-opacity="0.5"/>
<circle cx="474.2" cy="51.5" r="0.3" fill="#6058b8" fill-opacity="0.5"/>
<circle cx="465.4" cy="30.7" r="0.5" fill="#6058b8" fill-opacity="0.4"/>
<circle cx="458.6" cy="44.0" r="0.5" fill="#6058b8" fill-opacity="0.7"/>
<circle cx="461.7" cy="29.1" r="0.5" fill="#6058b8" fill-opacity="0.7"/>
<circle cx="463.7" cy="45.3" r="0.3" fill="#6058b8" fill-opacity="0.7"/>
<circle cx="472.3" cy="59.7" r="0.4" fill="#6058b8" fill-opacity="0.7"/>
<circle cx="470.7" cy="56.7" r="0.4" fill="#6058b8" fill-opacity="0.7"/>
<circle cx="463.2" cy="56.4" r="0.5" fill="#6058b8" fill-opacity="0.7"/>
<circle cx="456.3" cy="47.3" r="0.4" fill="#6058b8" fill-opacity="0.7"/>
<circle cx="447.1" cy="31.6" r="0.4" fill="#6058b8" fill-opacity="0.7"/>
<circle cx="459.2" cy="58.3" r="0.5" fill="#6058b8" fill-opacity="0.8"/>
<circle cx="471.4" cy="57.4" r="0.4" fill="#6058b8" fill-opacity="0.6"/>
<circle cx="449.9" cy="55.2" r="0.5" fill="#6058b8" fill-opacity="0.4"/>
<circle cx="473.7" cy="56.8" r="0.3" fill="#6058b8" fill-opacity="0.5"/>
<circle cx="443.6" cy="41.4" r="0.3" fill="#6058b8" fill-opacity="0.6"/>
<circle cx="448.9" cy="32.3" r="0.4" fill="#6058b8" fill-opacity="0.8"/>
<circle cx="440.7" cy="53.3" r="0.3" fill="#6058b8" fill-opacity="0.7"/>
<circle cx="454.9" cy="62.9" r="0.4" fill="#6058b8" fill-opacity="0.3"/>
<circle cx="459.9" cy="41.8" r="0.4" fill="#6058b8" fill-opacity="0.4"/>
<circle cx="459.7" cy="58.8" r="0.3" fill="#6058b8" fill-opacity="0.6"/>
<circle cx="448.4" cy="62.3" r="0.3" fill="#6058b8" fill-opacity="0.7"/>
<circle cx="453.1" cy="60.9" r="0.4" fill="#6058b8" fill-opacity="0.5"/>
<circle cx="462.6" cy="32.0" r="0.4" fill="#6058b8" fill-opacity="0.6"/>
<circle cx="460.5" cy="58.8" r="0.5" fill="#6058b8" fill-opacity="0.6"/>
<circle cx="439.4" cy="51.9" r="0.5" fill="#6058b8" fill-opacity="0.7"/>
<circle cx="468.1" cy="56.1" r="0.3" fill="#6058b8" fill-opacity="0.6"/>
<circle cx="455.0" cy="60.6" r="0.5" fill="#6058b8" fill-opacity="0.4"/>
<circle cx="471.5" cy="55.1" r="0.3" fill="#6058b8" fill-opacity="0.5"/>
<circle cx="459.1" cy="65.1" r="0.3" fill="#6058b8" fill-opacity="0.6"/>
<circle cx="470.2" cy="35.4" r="0.3" fill="#6058b8" fill-opacity="0.4"/>
<circle cx="475.6" cy="41.6" r="0.4" fill="#6058b8" fill-opacity="0.4"/>
<circle cx="460.1" cy="66.2" r="0.5" fill="#6058b8" fill-opacity="0.7"/>
<circle cx="453.3" cy="63.5" r="0.5" fill="#6058b8" fill-opacity="0.7"/>
<circle cx="457.8" cy="42.5" r="0.3" fill="#6058b8" fill-opacity="0.4"/>
<circle cx="462.5" cy="36.4" r="0.3" fill="#6058b8" fill-opacity="0.5"/>
<circle cx="465.8" cy="58.5" r="0.4" fill="#6058b8" fill-opacity="0.6"/>
<circle cx="445.1" cy="43.7" r="0.5" fill="#6058b8" fill-opacity="0.8"/>
<circle cx="452.1" cy="47.0" r="0.4" fill="#6058b8" fill-opacity="0.4"/>
<circle cx="465.2" cy="47.9" r="0.4" fill="#6058b8" fill-opacity="0.7"/>
<circle cx="441.3" cy="47.7" r="0.4" fill="#6058b8" fill-opacity="0.7"/>
<circle cx="441.9" cy="45.4" r="0.3" fill="#6058b8" fill-opacity="0.4"/>
<circle cx="464.1" cy="30.4" r="0.4" fill="#6058b8" fill-opacity="0.6"/>
<circle cx="463.1" cy="32.8" r="0.4" fill="#6058b8" fill-opacity="0.6"/>
<circle cx="455.8" cy="49.8" r="0.5" fill="#6058b8" fill-opacity="0.7"/>
<circle cx="453.1" cy="59.3" r="0.3" fill="#6058b8" fill-opacity="0.8"/>
<circle cx="470.7" cy="53.6" r="0.3" fill="#6058b8" fill-opacity="0.7"/>
<circle cx="453.3" cy="30.8" r="0.4" fill="#6058b8" fill-opacity="0.6"/>
<circle cx="464.0" cy="44.2" r="0.3" fill="#6058b8" fill-opacity="0.4"/>
<circle cx="453.7" cy="48.4" r="0.4" fill="#6058b8" fill-opacity="0.6"/>
<circle cx="455.5" cy="29.5" r="0.3" fill="#6058b8" fill-opacity="0.3"/>
<circle cx="445.4" cy="52.4" r="0.4" fill="#6058b8" fill-opacity="0.5"/>
<circle cx="472.5" cy="41.8" r="0.4" fill="#6058b8" fill-opacity="0.6"/>
<circle cx="473.6" cy="38.3" r="0.5" fill="#6058b8" fill-opacity="0.4"/>
<circle cx="461.4" cy="49.4" r="0.4" fill="#6058b8" fill-opacity="0.7"/>
<circle cx="464.3" cy="62.2" r="0.3" fill="#6058b8" fill-opacity="0.6"/>
<circle cx="477.7" cy="45.3" r="0.3" fill="#6058b8" fill-opacity="0.3"/>
<circle cx="459.6" cy="62.2" r="0.3" fill="#6058b8" fill-opacity="0.5"/>
<circle cx="439.9" cy="45.6" r="0.3" fill="#6058b8" fill-opacity="0.5"/>
<circle cx="452.5" cy="61.0" r="0.3" fill="#6058b8" fill-opacity="0.6"/>
<circle cx="441.1" cy="45.6" r="0.4" fill="#6058b8" fill-opacity="0.8"/>
<circle cx="451.8" cy="59.4" r="0.3" fill="#6058b8" fill-opacity="0.3"/>
<circle cx="456.2" cy="30.9" r="0.5" fill="#6058b8" fill-opacity="0.3"/>
<circle cx="470.2" cy="33.8" r="0.5" fill="#6058b8" fill-opacity="0.4"/>
<circle cx="457.7" cy="64.7" r="0.4" fill="#6058b8" fill-opacity="0.3"/>
<circle cx="478.2" cy="52.1" r="0.4" fill="#6058b8" fill-opacity="0.5"/>
<circle cx="451.0" cy="49.0" r="0.3" fill="#6058b8" fill-opacity="0.8"/>
<circle cx="475.2" cy="58.2" r="0.4" fill="#6058b8" fill-opacity="0.5"/>
<circle cx="459.8" cy="32.7" r="0.4" fill="#6058b8" fill-opacity="0.6"/>
<circle cx="441.9" cy="57.0" r="0.4" fill="#6058b8" fill-opacity="0.5"/>
<circle cx="448.7" cy="45.0" r="0.3" fill="#6058b8" fill-opacity="0.4"/>
<circle cx="464.9" cy="39.9" r="0.3" fill="#6058b8" fill-opacity="0.3"/>
<circle cx="469.2" cy="46.2" r="0.3" fill="#6058b8" fill-opacity="0.7"/>
<circle cx="474.0" cy="57.4" r="0.4" fill="#6058b8" fill-opacity="0.3"/>
<circle cx="461.2" cy="38.4" r="0.3" fill="#6058b8" fill-opacity="0.7"/>
<circle cx="470.0" cy="42.5" r="0.3" fill="#6058b8" fill-opacity="0.6"/>
<circle cx="463.3" cy="28.1" r="0.4" fill="#6058b8" fill-opacity="0.5"/>
<circle cx="440.7" cy="51.3" r="0.3" fill="#6058b8" fill-opacity="0.5"/>
<circle cx="466.4" cy="66.0" r="0.4" fill="#6058b8" fill-opacity="0.4"/>
<circle cx="462.3" cy="28.2" r="0.3" fill="#6058b8" fill-opacity="0.5"/>
<circle cx="455.4" cy="65.7" r="0.4" fill="#6058b8" fill-opacity="0.7"/>
<circle cx="445.5" cy="58.5" r="0.5" fill="#6058b8" fill-opacity="0.5"/>
<circle cx="466.9" cy="64.7" r="0.5" fill="#6058b8" fill-opacity="0.5"/>
<circle cx="473.7" cy="33.9" r="0.5" fill="#6058b8" fill-opacity="0.7"/>
<circle cx="448.0" cy="50.7" r="0.3" fill="#6058b8" fill-opacity="0.4"/>
<circle cx="457.7" cy="55.5" r="0.3" fill="#6058b8" fill-opacity="0.5"/>
<circle cx="472.0" cy="59.1" r="0.4" fill="#6058b8" fill-opacity="0.8"/>
<circle cx="455.0" cy="38.4" r="0.4" fill="#6058b8" fill-opacity="0.6"/>
<circle cx="475.7" cy="44.5" r="0.3" fill="#6058b8" fill-opacity="0.4"/>
<circle cx="448.9" cy="52.9" r="0.3" fill="#6058b8" fill-opacity="0.7"/>
<circle cx="454.3" cy="61.2" r="0.3" fill="#6058b8" fill-opacity="0.6"/>
<circle cx="464.4" cy="58.3" r="0.3" fill="#6058b8" fill-opacity="0.6"/>
<circle cx="442.3" cy="39.2" r="0.4" fill="#6058b8" fill-opacity="0.3"/>
<circle cx="459.1" cy="29.0" r="0.5" fill="#6058b8" fill-opacity="0.4"/>
<circle cx="451.6" cy="43.1" r="0.4" fill="#6058b8" fill-opacity="0.7"/>
<circle cx="468.6" cy="36.6" r="0.4" fill="#6058b8" fill-opacity="0.4"/>
<circle cx="469.8" cy="54.9" r="0.3" fill="#6058b8" fill-opacity="0.6"/>
<circle cx="460.0" cy="59.9" r="0.3" fill="#6058b8" fill-opacity="0.5"/>
<circle cx="462.9" cy="41.9" r="0.4" fill="#6058b8" fill-opacity="0.7"/>
<circle cx="474.1" cy="41.8" r="0.3" fill="#6058b8" fill-opacity="0.7"/>
<circle cx="470.0" cy="32.7" r="0.4" fill="#6058b8" fill-opacity="0.7"/>
<circle cx="459.2" cy="34.3" r="0.3" fill="#6058b8" fill-opacity="0.4"/>
<circle cx="445.0" cy="50.2" r="0.5" fill="#6058b8" fill-opacity="0.5"/>
<circle cx="442.9" cy="54.5" r="0.3" fill="#6058b8" fill-opacity="0.5"/>
<circle cx="465.3" cy="60.0" r="0.3" fill="#6058b8" fill-opacity="0.6"/>
<circle cx="450.7" cy="50.3" r="0.3" fill="#6058b8" fill-opacity="0.6"/>
<circle cx="450.4" cy="65.4" r="0.5" fill="#6058b8" fill-opacity="0.5"/>
<circle cx="455.4" cy="38.1" r="0.3" fill="#6058b8" fill-opacity="0.7"/>
<circle cx="468.1" cy="43.5" r="0.3" fill="#6058b8" fill-opacity="0.6"/>
<circle cx="464.3" cy="55.0" r="0.4" fill="#6058b8" fill-opacity="0.5"/>
<circle cx="457.1" cy="61.5" r="0.3" fill="#6058b8" fill-opacity="0.5"/>
<circle cx="462.2" cy="32.4" r="0.4" fill="#6058b8" fill-opacity="0.5"/>
<circle cx="478.4" cy="43.4" r="0.5" fill="#6058b8" fill-opacity="0.7"/>
<circle cx="445.9" cy="53.6" r="0.3" fill="#6058b8" fill-opacity="0.8"/>
<circle cx="461.4" cy="52.3" r="0.4" fill="#6058b8" fill-opacity="0.4"/>
<circle cx="458.6" cy="36.4" r="0.4" fill="#6058b8" fill-opacity="0.6"/>
<circle cx="468.6" cy="58.3" r="0.4" fill="#6058b8" fill-opacity="0.3"/>
<circle cx="467.3" cy="56.6" r="0.4" fill="#6058b8" fill-opacity="0.5"/>
<circle cx="445.5" cy="56.8" r="0.3" fill="#6058b8" fill-opacity="0.4"/>
<circle cx="440.0" cy="51.4" r="0.4" fill="#6058b8" fill-opacity="0.3"/>
<circle cx="460.8" cy="61.9" r="0.5" fill="#6058b8" fill-opacity="0.6"/>
<circle cx="449.4" cy="45.5" r="0.3" fill="#6058b8" fill-opacity="0.7"/>
<circle cx="471.1" cy="46.1" r="0.4" fill="#6058b8" fill-opacity="0.6"/>
<circle cx="457.4" cy="36.9" r="0.3" fill="#6058b8" fill-opacity="0.5"/>
<circle cx="449.5" cy="48.5" r="0.3" fill="#6058b8" fill-opacity="0.8"/>
<circle cx="450.3" cy="58.6" r="0.3" fill="#6058b8" fill-opacity="0.8"/>
<circle cx="448.5" cy="32.1" r="0.3" fill="#6058b8" fill-opacity="0.7"/>
<circle cx="449.8" cy="51.3" r="0.4" fill="#6058b8" fill-opacity="0.4"/>
<circle cx="466.3" cy="45.3" r="0.5" fill="#6058b8" fill-opacity="0.5"/>
<circle cx="470.1" cy="61.3" r="0.3" fill="#6058b8" fill-opacity="0.7"/>
<circle cx="460.7" cy="57.9" r="0.3" fill="#6058b8" fill-opacity="0.3"/>
<circle cx="470.7" cy="33.9" r="0.4" fill="#6058b8" fill-opacity="0.7"/>
<circle cx="456.5" cy="60.4" r="0.4" fill="#6058b8" fill-opacity="0.5"/>
<circle cx="445.1" cy="45.8" r="0.4" fill="#6058b8" fill-opacity="0.7"/>
<circle cx="449.7" cy="56.8" r="0.4" fill="#6058b8" fill-opacity="0.4"/>
<circle cx="462.7" cy="49.2" r="0.4" fill="#6058b8" fill-opacity="0.4"/>
<circle cx="472.6" cy="58.4" r="0.4" fill="#6058b8" fill-opacity="0.5"/>
<circle cx="471.6" cy="61.9" r="0.3" fill="#6058b8" fill-opacity="0.4"/>
<circle cx="458.2" cy="37.9" r="0.5" fill="#6058b8" fill-opacity="0.7"/>
<circle cx="442.6" cy="54.0" r="0.3" fill="#6058b8" fill-opacity="0.6"/>
<circle cx="455.1" cy="55.3" r="0.4" fill="#6058b8" fill-opacity="0.8"/>
<circle cx="441.9" cy="42.5" r="0.3" fill="#6058b8" fill-opacity="0.5"/>
<circle cx="454.6" cy="31.6" r="0.3" fill="#6058b8" fill-opacity="0.4"/>
<circle cx="452.8" cy="34.7" r="0.3" fill="#6058b8" fill-opacity="0.5"/>
<circle cx="465.3" cy="44.3" r="0.4" fill="#2c1f86" fill-opacity="0.5"/>
<circle cx="440.5" cy="40.8" r="0.9" fill="#2c1f86" fill-opacity="0.8"/>
<circle cx="463.0" cy="53.1" r="0.8" fill="#2c1f86" fill-opacity="0.8"/>
<circle cx="445.1" cy="33.6" r="0.7" fill="#2c1f86" fill-opacity="0.8"/>
<circle cx="458.8" cy="47.6" r="0.8" fill="#2c1f86" fill-opacity="0.7"/>
<circle cx="476.0" cy="53.6" r="0.4" fill="#2c1f86" fill-opacity="0.6"/>
<circle cx="466.4" cy="32.6" r="0.9" fill="#2c1f86" fill-opacity="0.9"/>
<circle cx="452.2" cy="57.8" r="0.4" fill="#2c1f86" fill-opacity="0.9"/>
<circle cx="467.0" cy="37.0" r="0.8" fill="#2c1f86" fill-opacity="0.9"/>
<circle cx="450.5" cy="36.3" r="0.7" fill="#2c1f86" fill-opacity="0.7"/>
<circle cx="449.8" cy="58.3" r="0.8" fill="#2c1f86" fill-opacity="0.6"/>
<circle cx="475.7" cy="57.9" r="0.4" fill="#2c1f86" fill-opacity="0.6"/>
<circle cx="454.0" cy="66.6" r="0.7" fill="#2c1f86" fill-opacity="0.9"/>
<circle cx="455.2" cy="29.8" r="0.4" fill="#2c1f86" fill-opacity="0.5"/>
<circle cx="448.1" cy="33.7" r="0.8" fill="#2c1f86" fill-opacity="0.7"/>
<circle cx="445.4" cy="61.0" r="0.8" fill="#2c1f86" fill-opacity="0.7"/>
<circle cx="457.7" cy="42.0" r="0.8" fill="#2c1f86" fill-opacity="0.6"/>
<circle cx="468.8" cy="59.5" r="0.6" fill="#2c1f86" fill-opacity="0.8"/>
<circle cx="461.7" cy="65.8" r="0.7" fill="#2c1f86" fill-opacity="0.5"/>
<circle cx="469.0" cy="46.1" r="0.4" fill="#2c1f86" fill-opacity="0.8"/>
<circle cx="452.9" cy="44.1" r="0.5" fill="#2c1f86" fill-opacity="0.7"/>
<circle cx="464.3" cy="41.0" r="0.5" fill="#2c1f86" fill-opacity="0.5"/>
<circle cx="455.6" cy="52.0" r="0.6" fill="#2c1f86" fill-opacity="0.7"/>
<circle cx="461.4" cy="59.4" r="0.7" fill="#2c1f86" fill-opacity="0.8"/>
<circle cx="465.1" cy="43.8" r="0.8" fill="#2c1f86" fill-opacity="0.7"/>
<circle cx="465.6" cy="56.9" r="0.5" fill="#2c1f86" fill-opacity="0.9"/>
<circle cx="468.2" cy="48.1" r="0.6" fill="#2c1f86" fill-opacity="0.6"/>
<circle cx="463.0" cy="42.8" r="0.9" fill="#2c1f86" fill-opacity="0.8"/>
<circle cx="468.0" cy="36.6" r="0.4" fill="#2c1f86" fill-opacity="0.9"/>
<circle cx="447.6" cy="57.5" r="0.8" fill="#2c1f86" fill-opacity="0.6"/>
<circle cx="459.9" cy="58.8" r="0.4" fill="#2c1f86" fill-opacity="0.9"/>
<circle cx="452.3" cy="38.2" r="0.8" fill="#2c1f86" fill-opacity="0.8"/>
<circle cx="452.3" cy="63.6" r="0.8" fill="#2c1f86" fill-opacity="0.9"/>
<circle cx="460.3" cy="44.5" r="0.6" fill="#2c1f86" fill-opacity="0.7"/>
<circle cx="440.8" cy="55.4" r="0.7" fill="#2c1f86" fill-opacity="0.9"/>
<circle cx="448.3" cy="54.8" r="0.5" fill="#2c1f86" fill-opacity="0.8"/>
<circle cx="466.1" cy="32.1" r="0.4" fill="#2c1f86" fill-opacity="0.7"/>
<circle cx="469.7" cy="48.0" r="0.5" fill="#2c1f86" fill-opacity="0.6"/>
<circle cx="464.6" cy="54.4" r="0.9" fill="#2c1f86" fill-opacity="0.5"/>
<circle cx="463.7" cy="29.7" r="0.8" fill="#2c1f86" fill-opacity="0.6"/>
<circle cx="474.0" cy="34.5" r="0.8" fill="#2c1f86" fill-opacity="0.9"/>
<circle cx="452.2" cy="64.0" r="0.6" fill="#2c1f86" fill-opacity="0.5"/>
<circle cx="452.6" cy="45.2" r="0.8" fill="#2c1f86" fill-opacity="0.8"/>
<circle cx="440.5" cy="44.9" r="0.9" fill="#2c1f86" fill-opacity="0.6"/>
<circle cx="443.3" cy="39.3" r="0.4" fill="#2c1f86" fill-opacity="0.6"/>
<circle cx="472.2" cy="44.2" r="0.9" fill="#2c1f86" fill-opacity="0.7"/>
<circle cx="474.9" cy="36.7" r="0.7" fill="#2c1f86" fill-opacity="0.9"/>
<circle cx="468.9" cy="36.4" r="0.5" fill="#2c1f86" fill-opacity="0.8"/>
<circle cx="474.8" cy="38.0" r="0.7" fill="#2c1f86" fill-opacity="0.6"/>
<circle cx="458.5" cy="40.1" r="0.4" fill="#2c1f86" fill-opacity="0.8"/>
<circle cx="457.1" cy="65.1" r="0.8" fill="#2c1f86" fill-opacity="0.6"/>
<circle cx="468.5" cy="46.5" r="0.6" fill="#2c1f86" fill-opacity="0.8"/>
<circle cx="472.2" cy="51.1" r="0.7" fill="#2c1f86" fill-opacity="0.9"/>
<circle cx="466.5" cy="43.0" r="0.5" fill="#2c1f86" fill-opacity="0.6"/>
<circle cx="459.5" cy="52.5" r="0.7" fill="#2c1f86" fill-opacity="0.8"/>
<circle cx="477.6" cy="52.2" r="0.7" fill="#2c1f86" fill-opacity="0.8"/>
<circle cx="443.9" cy="58.5" r="0.8" fill="#2c1f86" fill-opacity="0.7"/>
<circle cx="441.0" cy="41.6" r="0.7" fill="#2c1f86" fill-opacity="0.5"/>
<circle cx="477.2" cy="51.0" r="0.7" fill="#2c1f86" fill-opacity="0.7"/>
<circle cx="446.7" cy="41.7" r="0.4" fill="#2c1f86" fill-opacity="0.8"/>
<circle cx="468.0" cy="50.9" r="0.6" fill="#2c1f86" fill-opacity="0.7"/>
<circle cx="447.0" cy="33.9" r="0.6" fill="#2c1f86" fill-opacity="0.7"/>
<circle cx="444.1" cy="40.1" r="0.5" fill="#2c1f86" fill-opacity="0.7"/>
<circle cx="466.1" cy="37.8" r="0.6" fill="#2c1f86" fill-opacity="0.9"/>
<circle cx="442.0" cy="38.6" r="0.6" fill="#2c1f86" fill-opacity="0.6"/>
<circle cx="445.8" cy="48.4" r="0.7" fill="#2c1f86" fill-opacity="0.9"/>
<circle cx="466.6" cy="36.7" r="0.5" fill="#2c1f86" fill-opacity="0.5"/>
<circle cx="475.1" cy="55.9" r="0.6" fill="#2c1f86" fill-opacity="0.8"/>
<circle cx="474.1" cy="46.1" r="0.8" fill="#2c1f86" fill-opacity="0.7"/>
<circle cx="463.8" cy="64.2" r="0.6" fill="#2c1f86" fill-opacity="0.6"/>
<circle cx="468.8" cy="31.0" r="0.5" fill="#2c1f86" fill-opacity="0.8"/>
<circle cx="456.9" cy="35.1" r="0.6" fill="#2c1f86" fill-opacity="0.9"/>
<circle cx="468.9" cy="50.7" r="0.6" fill="#2c1f86" fill-opacity="0.6"/>
<circle cx="466.8" cy="29.4" r="0.6" fill="#2c1f86" fill-opacity="0.7"/>
<circle cx="474.8" cy="44.5" r="0.7" fill="#2c1f86" fill-opacity="0.7"/>
<circle cx="450.4" cy="37.8" r="0.8" fill="#2c1f86" fill-opacity="0.6"/>
<circle cx="471.8" cy="38.6" r="0.9" fill="#2c1f86" fill-opacity="0.7"/>
<circle cx="460.4" cy="35.0" r="0.9" fill="#2c1f86" fill-opacity="0.6"/>
<circle cx="458.1" cy="67.0" r="0.4" fill="#2c1f86" fill-opacity="0.6"/>
<circle cx="465.4" cy="30.1" r="0.7" fill="#2c1f86" fill-opacity="0.6"/>
<circle cx="460.0" cy="64.2" r="0.9" fill="#2c1f86" fill-opacity="0.6"/>
<circle cx="455.6" cy="49.1" r="0.9" fill="#2c1f86" fill-opacity="0.5"/>
<circle cx="467.7" cy="33.4" r="0.5" fill="#2c1f86" fill-opacity="0.7"/>
<circle cx="461.6" cy="34.5" r="0.4" fill="#2c1f86" fill-opacity="0.9"/>
<circle cx="454.7" cy="51.6" r="0.4" fill="#2c1f86" fill-opacity="0.7"/>
<circle cx="450.4" cy="40.6" r="0.8" fill="#2c1f86" fill-opacity="0.8"/>
<circle cx="450.5" cy="39.5" r="0.9" fill="#2c1f86" fill-opacity="0.9"/>
<circle cx="448.3" cy="47.5" r="0.8" fill="#2c1f86" fill-opacity="0.8"/>
<circle cx="467.2" cy="63.6" r="0.4" fill="#2c1f86" fill-opacity="0.8"/>
<circle cx="443.5" cy="58.2" r="0.7" fill="#2c1f86" fill-opacity="0.9"/>
<circle cx="462.4" cy="35.1" r="0.7" fill="#2c1f86" fill-opacity="0.6"/>
<circle cx="449.6" cy="45.5" r="0.7" fill="#2c1f86" fill-opacity="0.6"/>
<circle cx="474.7" cy="57.5" r="0.5" fill="#2c1f86" fill-opacity="0.5"/>
<circle cx="474.3" cy="55.3" r="0.9" fill="#2c1f86" fill-opacity="0.7"/>
<circle cx="452.2" cy="29.6" r="0.4" fill="#2c1f86" fill-opacity="0.8"/>
<circle cx="472.9" cy="35.6" r="0.5" fill="#2c1f86" fill-opacity="0.7"/>
<circle cx="458.0" cy="63.1" r="0.5" fill="#2c1f86" fill-opacity="0.9"/>
<circle cx="458.7" cy="44.2" r="0.7" fill="#2c1f86" fill-opacity="0.8"/>
<circle cx="455.1" cy="34.6" r="0.8" fill="#2c1f86" fill-opacity="0.7"/>
<circle cx="457.2" cy="49.6" r="0.4" fill="#2c1f86" fill-opacity="0.7"/>
<circle cx="447.2" cy="38.3" r="0.8" fill="#2c1f86" fill-opacity="0.5"/>
<circle cx="449.9" cy="55.8" r="0.8" fill="#2c1f86" fill-opacity="0.8"/>
<circle cx="473.0" cy="56.5" r="0.5" fill="#2c1f86" fill-opacity="0.6"/>
<circle cx="468.9" cy="46.2" r="0.4" fill="#2c1f86" fill-opacity="0.9"/>
<circle cx="450.7" cy="58.7" r="0.8" fill="#2c1f86" fill-opacity="0.8"/>
<circle cx="476.9" cy="40.0" r="0.8" fill="#2c1f86" fill-opacity="0.6"/>
<circle cx="457.3" cy="42.6" r="0.5" fill="#2c1f86" fill-opacity="0.7"/>
<circle cx="459.2" cy="45.0" r="0.5" fill="#2c1f86" fill-opacity="0.9"/>
<circle cx="475.3" cy="51.7" r="0.4" fill="#2c1f86" fill-opacity="0.9"/>
<circle cx="441.9" cy="42.0" r="0.4" fill="#2c1f86" fill-opacity="0.8"/>
<circle cx="468.5" cy="42.1" r="0.8" fill="#2c1f86" fill-opacity="0.9"/>
<circle cx="472.0" cy="62.4" r="0.7" fill="#2c1f86" fill-opacity="0.6"/>
<circle cx="466.3" cy="38.3" r="0.9" fill="#2c1f86" fill-opacity="0.7"/>
<circle cx="456.0" cy="58.7" r="0.6" fill="#2c1f86" fill-opacity="0.8"/>
<circle cx="471.0" cy="45.9" r="0.5" fill="#2c1f86" fill-opacity="0.6"/>
<circle cx="463.1" cy="39.6" r="0.6" fill="#2c1f86" fill-opacity="0.5"/>
<circle cx="452.8" cy="32.5" r="0.7" fill="#2c1f86" fill-opacity="0.6"/>
<circle cx="451.9" cy="51.6" r="0.9" fill="#2c1f86" fill-opacity="0.8"/>
<circle cx="468.8" cy="31.1" r="0.4" fill="#2c1f86" fill-opacity="0.9"/>
<circle cx="457.6" cy="51.6" r="0.8" fill="#2c1f86" fill-opacity="0.9"/>
<circle cx="474.0" cy="59.2" r="0.8" fill="#2c1f86" fill-opacity="0.5"/>
<circle cx="453.8" cy="61.3" r="0.7" fill="#2c1f86" fill-opacity="0.6"/>
<circle cx="458.5" cy="48.4" r="0.7" fill="#2c1f86" fill-opacity="0.6"/>
<circle cx="452.5" cy="64.0" r="0.6" fill="#2c1f86" fill-opacity="0.5"/>
<circle cx="467.3" cy="56.8" r="0.6" fill="#2c1f86" fill-opacity="0.8"/>
<circle cx="456.4" cy="48.4" r="0.5" fill="#2c1f86" fill-opacity="0.9"/>
<circle cx="468.3" cy="36.4" r="0.8" fill="#2c1f86" fill-opacity="0.5"/>
<circle cx="462.6" cy="63.8" r="0.8" fill="#2c1f86" fill-opacity="0.6"/>
<circle cx="466.9" cy="54.1" r="0.4" fill="#2c1f86" fill-opacity="0.6"/>
<circle cx="450.1" cy="45.4" r="0.6" fill="#2c1f86" fill-opacity="0.7"/>
<circle cx="456.0" cy="45.4" r="0.5" fill="#2c1f86" fill-opacity="0.8"/>
<circle cx="450.7" cy="34.2" r="0.4" fill="#2c1f86" fill-opacity="0.6"/>
<circle cx="467.6" cy="53.8" r="0.9" fill="#2c1f86" fill-opacity="0.5"/>
<circle cx="457.0" cy="64.5" r="0.6" fill="#2c1f86" fill-opacity="0.6"/>
<circle cx="461.0" cy="59.6" r="0.8" fill="#2c1f86" fill-opacity="0.8"/>
<circle cx="475.4" cy="39.6" r="0.8" fill="#2c1f86" fill-opacity="0.5"/>
<circle cx="467.0" cy="29.9" r="0.5" fill="#2c1f86" fill-opacity="0.5"/>
<circle cx="451.9" cy="52.5" r="0.4" fill="#2c1f86" fill-opacity="0.9"/>
<circle cx="464.6" cy="43.7" r="0.5" fill="#2c1f86" fill-opacity="0.8"/>
<circle cx="456.1" cy="61.8" r="0.7" fill="#2c1f86" fill-opacity="0.5"/>
<circle cx="470.3" cy="50.1" r="0.9" fill="#2c1f86" fill-opacity="0.5"/>
<circle cx="475.4" cy="40.1" r="0.7" fill="#2c1f86" fill-opacity="0.5"/>
<circle cx="452.0" cy="55.1" r="0.6" fill="#2c1f86" fill-opacity="0.6"/>
<circle cx="451.2" cy="39.1" r="0.5" fill="#2c1f86" fill-opacity="0.7"/>
<circle cx="468.2" cy="37.8" r="0.8" fill="#2c1f86" fill-opacity="0.6"/>
<circle cx="476.5" cy="49.9" r="0.7" fill="#2c1f86" fill-opacity="0.7"/>
<circle cx="470.2" cy="42.2" r="0.7" fill="#2c1f86" fill-opacity="0.9"/>
<circle cx="442.5" cy="40.1" r="0.5" fill="#2c1f86" fill-opacity="0.8"/>
<circle cx="441.4" cy="52.3" r="0.6" fill="#2c1f86" fill-opacity="0.6"/>
<circle cx="471.6" cy="32.9" r="0.7" fill="#2c1f86" fill-opacity="0.6"/>
<circle cx="458.1" cy="53.3" r="0.7" fill="#2c1f86" fill-opacity="0.7"/>
<circle cx="473.0" cy="51.9" r="0.5" fill="#2c1f86" fill-opacity="0.8"/>
<circle cx="446.6" cy="36.9" r="0.7" fill="#2c1f86" fill-opacity="0.7"/>
<circle cx="468.8" cy="39.9" r="0.6" fill="#2c1f86" fill-opacity="0.9"/>
<circle cx="468.4" cy="51.4" r="0.7" fill="#2c1f86" fill-opacity="0.6"/>
<circle cx="476.0" cy="40.3" r="0.7" fill="#2c1f86" fill-opacity="0.8"/>
<circle cx="453.8" cy="45.0" r="0.7" fill="#2c1f86" fill-opacity="0.7"/>
<circle cx="457.6" cy="56.3" r="0.5" fill="#2c1f86" fill-opacity="0.9"/>
<circle cx="474.0" cy="48.8" r="0.5" fill="#2c1f86" fill-opacity="0.7"/>
<circle cx="447.6" cy="31.5" r="0.6" fill="#2c1f86" fill-opacity="0.6"/>
<circle cx="451.7" cy="64.9" r="0.7" fill="#2c1f86" fill-opacity="0.8"/>
<circle cx="461.0" cy="48.9" r="0.6" fill="#2c1f86" fill-opacity="0.6"/>
<circle cx="453.4" cy="64.6" r="0.7" fill="#2c1f86" fill-opacity="0.8"/>
<circle cx="444.7" cy="58.8" r="0.5" fill="#2c1f86" fill-opacity="0.9"/>
<circle cx="472.5" cy="62.2" r="0.5" fill="#2c1f86" fill-opacity="0.9"/>
<circle cx="468.3" cy="43.4" r="0.7" fill="#2c1f86" fill-opacity="0.7"/>
<circle cx="453.6" cy="64.2" r="0.6" fill="#2c1f86" fill-opacity="0.9"/>
<circle cx="455.5" cy="32.3" r="0.7" fill="#2c1f86" fill-opacity="0.8"/>
<circle cx="472.0" cy="58.8" r="0.8" fill="#2c1f86" fill-opacity="0.6"/>
<circle cx="446.6" cy="40.7" r="0.5" fill="#2c1f86" fill-opacity="0.9"/>
<circle cx="473.8" cy="38.6" r="0.5" fill="#2c1f86" fill-opacity="0.9"/>
<circle cx="458.1" cy="60.3" r="0.7" fill="#2c1f86" fill-opacity="0.6"/>
<circle cx="463.9" cy="30.8" r="0.7" fill="#2c1f86" fill-opacity="0.9"/>
<circle cx="466.2" cy="39.0" r="0.5" fill="#2c1f86" fill-opacity="0.7"/>
<circle cx="466.7" cy="37.0" r="0.7" fill="#2c1f86" fill-opacity="0.5"/>
<circle cx="458.6" cy="47.3" r="0.5" fill="#2c1f86" fill-opacity="0.8"/>
<circle cx="469.6" cy="38.0" r="0.7" fill="#2c1f86" fill-opacity="0.6"/>
<circle cx="453.2" cy="41.4" r="0.4" fill="#2c1f86" fill-opacity="0.9"/>
<circle cx="466.9" cy="36.5" r="0.5" fill="#2c1f86" fill-opacity="0.9"/>
<circle cx="454.2" cy="54.5" r="0.6" fill="#2c1f86" fill-opacity="0.6"/>
<circle cx="458.4" cy="64.0" r="0.8" fill="#2c1f86" fill-opacity="0.6"/>
<circle cx="445.4" cy="57.8" r="0.9" fill="#2c1f86" fill-opacity="0.5"/>
<circle cx="465.2" cy="43.7" r="0.8" fill="#2c1f86" fill-opacity="0.7"/>
<circle cx="440.3" cy="47.5" r="0.4" fill="#2c1f86" fill-opacity="0.5"/>
<circle cx="449.7" cy="50.6" r="0.8" fill="#2c1f86" fill-opacity="0.8"/>
<circle cx="462.2" cy="52.3" r="0.8" fill="#2c1f86" fill-opacity="0.6"/>
<circle cx="456.6" cy="64.7" r="0.6" fill="#2c1f86" fill-opacity="0.7"/>
<circle cx="460.4" cy="58.9" r="0.7" fill="#2c1f86" fill-opacity="0.9"/>
<circle cx="471.2" cy="34.6" r="0.4" fill="#2c1f86" fill-opacity="0.7"/>
<circle cx="478.0" cy="45.2" r="0.5" fill="#2c1f86" fill-opacity="0.6"/>
<circle cx="464.6" cy="63.9" r="0.4" fill="#2c1f86" fill-opacity="0.7"/>
<circle cx="447.5" cy="58.6" r="0.6" fill="#2c1f86" fill-opacity="0.9"/>
<circle cx="477.7" cy="45.4" r="0.8" fill="#2c1f86" fill-opacity="0.9"/>
<circle cx="467.8" cy="38.7" r="0.5" fill="#2c1f86" fill-opacity="0.9"/>
<circle cx="464.9" cy="57.9" r="0.4" fill="#2c1f86" fill-opacity="0.6"/>
<circle cx="463.9" cy="46.8" r="0.7" fill="#2c1f86" fill-opacity="0.8"/>
<circle cx="456.2" cy="32.1" r="0.8" fill="#2c1f86" fill-opacity="0.5"/>
<circle cx="449.2" cy="39.7" r="0.5" fill="#2c1f86" fill-opacity="0.6"/>
<circle cx="444.8" cy="33.8" r="0.8" fill="#2c1f86" fill-opacity="0.7"/>
<circle cx="450.4" cy="50.7" r="0.5" fill="#2c1f86" fill-opacity="0.6"/>
<circle cx="449.6" cy="36.0" r="0.7" fill="#2c1f86" fill-opacity="0.8"/>
<circle cx="469.0" cy="53.0" r="0.7" fill="#2c1f86" fill-opacity="0.7"/>
<circle cx="464.4" cy="54.0" r="0.6" fill="#2c1f86" fill-opacity="0.9"/>
<circle cx="464.6" cy="35.9" r="0.8" fill="#2c1f86" fill-opacity="0.7"/>
<circle cx="445.5" cy="59.9" r="0.6" fill="#2c1f86" fill-opacity="0.6"/>
<circle cx="465.5" cy="57.2" r="0.6" fill="#2c1f86" fill-opacity="0.7"/>
<circle cx="452.3" cy="62.0" r="0.6" fill="#2c1f86" fill-opacity="0.9"/>
<circle cx="454.2" cy="29.6" r="0.6" fill="#2c1f86" fill-opacity="0.7"/>
<circle cx="472.6" cy="39.4" r="0.8" fill="#2c1f86" fill-opacity="0.8"/>
<circle cx="447.8" cy="59.8" r="0.8" fill="#2c1f86" fill-opacity="0.7"/>
<circle cx="454.6" cy="64.0" r="0.7" fill="#2c1f86" fill-opacity="0.9"/>
<circle cx="467.7" cy="53.7" r="0.4" fill="#2c1f86" fill-opacity="0.7"/>
<circle cx="452.4" cy="61.0" r="0.4" fill="#2c1f86" fill-opacity="0.8"/>
<circle cx="477.4" cy="52.5" r="0.7" fill="#2c1f86" fill-opacity="0.8"/>
<circle cx="463.0" cy="51.7" r="0.7" fill="#2c1f86" fill-opacity="0.5"/>
<circle cx="458.7" cy="62.7" r="0.9" fill="#2c1f86" fill-opacity="0.5"/>
<circle cx="469.9" cy="31.4" r="0.6" fill="#2c1f86" fill-opacity="0.8"/>
<circle cx="450.6" cy="50.6" r="0.7" fill="#2c1f86" fill-opacity="0.6"/>
<circle cx="465.0" cy="63.1" r="0.5" fill="#2c1f86" fill-opacity="0.7"/>
<circle cx="444.1" cy="46.6" r="0.5" fill="#2c1f86" fill-opacity="0.7"/>
<circle cx="453.9" cy="42.4" r="0.5" fill="#2c1f86" fill-opacity="0.9"/>
<circle cx="444.5" cy="45.0" r="0.4" fill="#2c1f86" fill-opacity="0.8"/>
<circle cx="470.5" cy="61.2" r="0.6" fill="#2c1f86" fill-opacity="0.8"/>
<circle cx="454.9" cy="49.5" r="0.9" fill="#2c1f86" fill-opacity="0.9"/>
<circle cx="445.7" cy="54.9" r="0.4" fill="#2c1f86" fill-opacity="0.8"/>
<circle cx="464.1" cy="47.7" r="0.7" fill="#2c1f86" fill-opacity="0.6"/>
<circle cx="451.2" cy="40.9" r="0.9" fill="#2c1f86" fill-opacity="0.6"/>
<circle cx="472.3" cy="46.7" r="0.8" fill="#2c1f86" fill-opacity="0.9"/>
<circle cx="469.1" cy="61.6" r="0.4" fill="#2c1f86" fill-opacity="0.8"/>
<circle cx="466.2" cy="35.2" r="0.6" fill="#2c1f86" fill-opacity="0.6"/>
<circle cx="449.5" cy="33.6" r="0.5" fill="#2c1f86" fill-opacity="0.9"/>
<circle cx="466.0" cy="35.0" r="0.7" fill="#2c1f86" fill-opacity="0.7"/>
<circle cx="475.0" cy="40.1" r="0.4" fill="#2c1f86" fill-opacity="0.7"/>
<circle cx="471.0" cy="49.6" r="0.7" fill="#2c1f86" fill-opacity="0.5"/>
<circle cx="444.7" cy="46.2" r="0.8" fill="#2c1f86" fill-opacity="0.6"/>
<circle cx="452.3" cy="64.8" r="0.5" fill="#2c1f86" fill-opacity="0.9"/>
<circle cx="441.7" cy="44.3" r="0.5" fill="#2c1f86" fill-opacity="0.6"/>
<circle cx="465.9" cy="54.1" r="0.6" fill="#2c1f86" fill-opacity="0.8"/>
<circle cx="443.1" cy="59.2" r="0.4" fill="#2c1f86" fill-opacity="0.7"/>
<circle cx="447.9" cy="60.2" r="0.6" fill="#2c1f86" fill-opacity="0.9"/>
<circle cx="463.2" cy="52.2" r="0.7" fill="#2c1f86" fill-opacity="0.6"/>
<circle cx="451.0" cy="54.0" r="0.7" fill="#2c1f86" fill-opacity="0.5"/>
<circle cx="442.9" cy="51.7" r="0.4" fill="#2c1f86" fill-opacity="0.6"/>
<circle cx="474.3" cy="49.2" r="0.8" fill="#2c1f86" fill-opacity="0.6"/>
<circle cx="474.3" cy="55.3" r="0.6" fill="#2c1f86" fill-opacity="0.8"/>
<circle cx="449.0" cy="55.3" r="0.5" fill="#2c1f86" fill-opacity="0.9"/>
<circle cx="473.3" cy="50.7" r="0.4" fill="#2c1f86" fill-opacity="0.6"/>
<circle cx="467.4" cy="35.7" r="0.4" fill="#2c1f86" fill-opacity="0.7"/>
<circle cx="441.7" cy="46.1" r="0.6" fill="#2c1f86" fill-opacity="0.8"/>
<circle cx="458.7" cy="32.0" r="0.4" fill="#2c1f86" fill-opacity="0.7"/>
</g>
<clipPath id="clip102"><circle cx="506.3" cy="47.5" r="20.1"/></clipPath>
<circle cx="506.3" cy="47.5" r="20.1" fill="#cdcdea"/>
<g clip-path="url(#clip102)">
<circle cx="515.7" cy="60.2" r="0.3" fill="#6058b8" fill-opacity="0.7"/>
<circle cx="496.6" cy="39.7" r="0.4" fill="#6058b8" fill-opacity="0.6"/>
<circle cx="520.4" cy="51.4" r="0.4" fill="#6058b8" fill-opacity="0.6"/>
<circle cx="518.8" cy="35.7" r="0.3" fill="#6058b8" fill-opacity="0.4"/>
<circle cx="518.8" cy="60.5" r="0.4" fill="#6058b8" fill-opacity="0.6"/>
<circle cx="493.0" cy="52.6" r="0.3" fill="#6058b8" fill-opacity="0.6"/>
<circle cx="516.0" cy="60.0" r="0.4" fill="#6058b8" fill-opacity="0.6"/>
<circle cx="506.4" cy="53.6" r="0.3" fill="#6058b8" fill-opacity="0.6"/>
<circle cx="489.0" cy="46.4" r="0.4" fill="#6058b8" fill-opacity="0.5"/>
<circle cx="513.2" cy="43.0" r="0.3" fill="#6058b8" fill-opacity="0.6"/>
<circle cx="497.3" cy="37.8" r="0.4" fill="#6058b8" fill-opacity="0.5"/>
<circle cx="497.0" cy="31.0" r="0.5" fill="#6058b8" fill-opacity="0.6"/>
<circle cx="487.1" cy="51.2" r="0.4" fill="#6058b8" fill-opacity="0.6"/>
<circle cx="517.6" cy="35.3" r="0.3" fill="#6058b8" fill-opacity="0.7"/>
<circle cx="490.8" cy="36.2" r="0.4" fill="#6058b8" fill-opacity="0.6"/>
<circle cx="520.7" cy="45.1" r="0.3" fill="#6058b8" fill-opacity="0.8"/>
<circle cx="514.1" cy="44.6" r="0.3" fill="#6058b8" fill-opacity="0.7"/>
<circle cx="515.5" cy="39.1" r="0.3" fill="#6058b8" fill-opacity="0.6"/>
<circle cx="514.9" cy="44.1" r="0.4" fill="#6058b8" fill-opacity="0.6"/>
<circle cx="508.7" cy="60.2" r="0.3" fill="#6058b8" fill-opacity="0.5"/>
<circle cx="507.0" cy="53.2" r="0.3" fill="#6058b8" fill-opacity="0.4"/>
<circle cx="512.0" cy="52.8" r="0.4" fill="#6058b8" fill-opacity="0.5"/>
<circle cx="504.5" cy="34.7" r="0.3" fill="#6058b8" fill-opacity="0.4"/>
<circle cx="501.2" cy="64.1" r="0.3" fill="#6058b8" fill-opacity="0.5"/>
<circle cx="512.7" cy="30.3" r="0.4" fill="#6058b8" fill-opacity="0.7"/>
<circle cx="500.3" cy="40.0" r="0.3" fill="#6058b8" fill-opacity="0.4"/>
<circle cx="509.4" cy="35.3" r="0.5" fill="#6058b8" fill-opacity="0.8"/>
<circle cx="518.3" cy="40.8" r="0.3" fill="#6058b8" fill-opacity="0.4"/>
<circle cx="509.4" cy="63.4" r="0.4" fill="#6058b8" fill-opacity="0.8"/>
<circle cx="500.8" cy="28.6" r="0.4" fill="#6058b8" fill-opacity="0.5"/>
<circle cx="511.8" cy="38.5" r="0.4" fill="#6058b8" fill-opacity="0.7"/>
<circle cx="509.6" cy="43.8" r="0.3" fill="#6058b8" fill-opacity="0.8"/>
<circle cx="514.8" cy="58.0" r="0.4" fill="#6058b8" fill-opacity="0.5"/>
<circle cx="520.6" cy="34.0" r="0.3" fill="#6058b8" fill-opacity="0.4"/>
<circle cx="517.9" cy="40.6" r="0.3" fill="#6058b8" fill-opacity="0.4"/>
<circle cx="521.6" cy="48.4" r="0.3" fill="#6058b8" fill-opacity="0.6"/>
<circle cx="518.7" cy="41.1" r="0.5" fill="#6058b8" fill-opacity="0.3"/>
<circle cx="507.2" cy="30.1" r="0.5" fill="#6058b8" fill-opacity="0.3"/>
<circle cx="491.3" cy="46.9" r="0.4" fill="#6058b8" fill-opacity="0.5"/>
<circle cx="503.6" cy="66.4" r="0.5" fill="#6058b8" fill-opacity="0.7"/>
<circle cx="520.8" cy="43.7" r="0.3" fill="#6058b8" fill-opacity="0.6"/>
<circle cx="520.1" cy="58.2" r="0.4" fill="#6058b8" fill-opacity="0.4"/>
<circle cx="509.3" cy="51.8" r="0.3" fill="#6058b8" fill-opacity="0.8"/>
<circle cx="508.9" cy="66.2" r="0.3" fill="#6058b8" fill-opacity="0.5"/>
<circle cx="494.4" cy="49.6" r="0.5" fill="#6058b8" fill-opacity="0.4"/>
<circle cx="497.2" cy="48.4" r="0.3" fill="#6058b8" fill-opacity="0.6"/>
<circle cx="498.8" cy="59.4" r="0.4" fill="#6058b8" fill-opacity="0.3"/>
<circle cx="522.0" cy="53.1" r="0.5" fill="#6058b8" fill-opacity="0.3"/>
<circle cx="487.2" cy="53.4" r="0.5" fill="#6058b8" fill-opacity="0.8"/>
<circle cx="486.8" cy="43.9" r="0.3" fill="#6058b8" fill-opacity="0.5"/>
<circle cx="513.5" cy="37.2" r="0.4" fill="#6058b8" fill-opacity="0.5"/>
<circle cx="493.1" cy="59.9" r="0.5" fill="#6058b8" fill-opacity="0.4"/>
<circle cx="498.4" cy="63.7" r="0.4" fill="#6058b8" fill-opacity="0.7"/>
<circle cx="498.3" cy="30.0" r="0.5" fill="#6058b8" fill-opacity="0.6"/>
<circle cx="505.1" cy="53.2" r="0.5" fill="#6058b8" fill-opacity="0.7"/>
<circle cx="514.3" cy="41.0" r="0.4" fill="#6058b8" fill-opacity="0.8"/>
<circle cx="507.1" cy="50.5" r="0.3" fill="#6058b8" fill-opacity="0.4"/>
<circle cx="498.5" cy="31.0" r="0.5" fill="#6058b8" fill-opacity="0.6"/>
<circle cx="525.9" cy="44.8" r="0.4" fill="#6058b8" fill-opacity="0.8"/>
<circle cx="504.4" cy="37.7" r="0.4" fill="#6058b8" fill-opacity="0.4"/>
<circle cx="491.6" cy="58.2" r="0.3" fill="#6058b8" fill-opacity="0.6"/>
<circle cx="496.5" cy="51.7" r="0.3" fill="#6058b8" fill-opacity="0.6"/>
<circle cx="503.2" cy="52.9" r="0.4" fill="#6058b8" fill-opacity="0.6"/>
<circle cx="521.9" cy="56.0" r="0.3" fill="#6058b8" fill-opacity="0.5"/>
<circle cx="493.9" cy="61.3" r="0.5" fill="#6058b8" fill-opacity="0.7"/>
<circle cx="503.2" cy="58.5" r="0.5" fill="#6058b8" fill-opacity="0.6"/>
<circle cx="495.0" cy="34.7" r="0.3" fill="#6058b8" fill-opacity="0.5"/>
<circle cx="517.4" cy="44.2" r="0.5" fill="#6058b8" fill-opacity="0.4"/>
<circle cx="520.5" cy="48.8" r="0.3" fill="#6058b8" fill-opacity="0.6"/>
<circle cx="506.8" cy="43.6" r="0.4" fill="#6058b8" fill-opacity="0.5"/>
<circle cx="521.6" cy="37.2" r="0.5" fill="#6058b8" fill-opacity="0.7"/>
<circle cx="497.3" cy="60.5" r="0.4" fill="#6058b8" fill-opacity="0.5"/>
<circle cx="502.3" cy="63.2" r="0.5" fill="#6058b8" fill-opacity="0.4"/>
<circle cx="501.4" cy="53.8" r="0.3" fill="#6058b8" fill-opacity="0.5"/>
<circle cx="519.7" cy="56.5" r="0.3" fill="#6058b8" fill-opacity="0.7"/>
<circle cx="507.1" cy="64.7" r="0.5" fill="#6058b8" fill-opacity="0.4"/>
<circle cx="492.7" cy="61.9" r="0.4" fill="#6058b8" fill-opacity="0.5"/>
<circle cx="516.7" cy="62.5" r="0.3" fill="#6058b8" fill-opacity="0.7"/>
<circle cx="498.3" cy="44.5" r="0.5" fill="#6058b8" fill-opacity="0.8"/>
<circle cx="506.2" cy="31.9" r="0.4" fill="#6058b8" fill-opacity="0.8"/>
<circle cx="509.5" cy="56.8" r="0.4" fill="#6058b8" fill-opacity="0.5"/>
<circle cx="524.6" cy="45.8" r="0.4" fill="#6058b8" fill-opacity="0.4"/>
<circle cx="494.4" cy="37.4" r="0.4" fill="#6058b8" fill-opacity="0.7"/>
<circle cx="487.5" cy="50.2" r="0.4" fill="#6058b8" fill-opacity="0.4"/>
<circle cx="509.9" cy="40.0" r="0.5" fill="#6058b8" fill-opacity="0.8"/>
<circle cx="509.3" cy="56.0" r="0.4" fill="#6058b8" fill-opacity="0.5"/>
<circle cx="494.0" cy="59.8" r="0.3" fill="#6058b8" fill-opacity="0.4"/>
<circle cx="488.4" cy="41.6" r="0.5" fill="#6058b8" fill-opacity="0.4"/>
<circle cx="506.0" cy="36.1" r="0.5" fill="#6058b8" fill-opacity="0.5"/>
<circle cx="515.5" cy="54.4" r="0.4" fill="#6058b8" fill-opacity="0.4"/>
<circle cx="507.7" cy="36.1" r="0.4" fill="#6058b8" fill-opacity="0.4"/>
<circle cx="490.0" cy="48.4" r="0.3" fill="#6058b8" fill-opacity="0.4"/>
<circle cx="513.0" cy="36.8" r="0.3" fill="#6058b8" fill-opacity="0.6"/>
<circle cx="499.6" cy="30.1" r="0.4" fill="#6058b8" fill-opacity="0.7"/>
<circle cx="521.4" cy="35.4" r="0.5" fill="#6058b8" fill-opacity="0.6"/>
<circle cx="502.1" cy="35.7" r="0.3" fill="#6058b8" fill-opacity="0.8"/>
<circle cx="496.3" cy="53.5" r="0.4" fill="#6058b8" fill-opacity="0.7"/>
<circle cx="509.6" cy="41.5" r="0.4" fill="#6058b8" fill-opacity="0.8"/>
<circle cx="525.6" cy="44.8" r="0.4" fill="#6058b8" fill-opacity="0.7"/>
<circle cx="490.7" cy="37.5" r="0.5" fill="#6058b8" fill-opacity="0.5"/>
<circle cx="518.7" cy="59.7" r="0.5" fill="#6058b8" fill-opacity="0.8"/>
<circle cx="493.2" cy="50.6" r="0.3" fill="#6058b8" fill-opacity="0.7"/>
<circle cx="505.3" cy="54.5" r="0.3" fill="#6058b8" fill-opacity="0.8"/>
<circle cx="490.9" cy="56.5" r="0.3" fill="#6058b8" fill-opacity="0.5"/>
<circle cx="505.8" cy="29.8" r="0.3" fill="#6058b8" fill-opacity="0.5"/>
<circle cx="513.7" cy="29.8" r="0.3" fill="#6058b8" fill-opacity="0.6"/>
<circle cx="518.5" cy="37.4" r="0.4" fill="#6058b8" fill-opacity="0.4"/>
<circle cx="503.9" cy="47.6" r="0.4" fill="#6058b8" fill-opacity="0.6"/>
<circle cx="514.5" cy="65.2" r="0.3" fill="#6058b8" fill-opacity="0.3"/>
<circle cx="505.4" cy="41.9" r="0.4" fill="#6058b8" fill-opacity="0.4"/>
<circle cx="523.4" cy="49.9" r="0.4" fill="#6058b8" fill-opacity="0.6"/>
<circle cx="501.9" cy="31.0" r="0.3" fill="#6058b8" fill-opacity="0.5"/>
<circle cx="490.6" cy="37.3" r="0.4" fill="#6058b8" fill-opacity="0.5"/>
<circle cx="514.1" cy="30.8" r="0.3" fill="#6058b8" fill-opacity="0.4"/>
<circle cx="525.1" cy="48.2" r="0.3" fill="#6058b8" fill-opacity="0.6"/>
<circle cx="490.2" cy="44.9" r="0.5" fill="#6058b8" fill-opacity="0.6"/>
<circle cx="512.5" cy="59.1" r="0.3" fill="#6058b8" fill-opacity="0.5"/>
<circle cx="505.3" cy="31.3" r="0.4" fill="#6058b8" fill-opacity="0.7"/>
<circle cx="516.4" cy="47.4" r="0.4" fill="#6058b8" fill-opacity="0.6"/>
<circle cx="526.0" cy="50.9" r="0.3" fill="#6058b8" fill-opacity="0.6"/>
<circle cx="508.0" cy="60.5" r="0.3" fill="#6058b8" fill-opacity="0.8"/>
<circle cx="511.5" cy="48.9" r="0.4" fill="#6058b8" fill-opacity="0.6"/>
<circle cx="497.7" cy="65.0" r="0.4" fill="#6058b8" fill-opacity="0.5"/>
<circle cx="501.7" cy="28.6" r="0.5" fill="#6058b8" fill-opacity="0.5"/>
<circle cx="507.7" cy="38.2" r="0.3" fill="#6058b8" fill-opacity="0.8"/>
<circle cx="505.1" cy="34.8" r="0.4" fill="#6058b8" fill-opacity="0.5"/>
<circle cx="502.4" cy="33.5" r="0.4" fill="#6058b8" fill-opacity="0.5"/>
<circle cx="519.5" cy="35.1" r="0.3" fill="#6058b8" fill-opacity="0.5"/>
<circle cx="520.2" cy="37.4" r="0.4" fill="#6058b8" fill-opacity="0.6"/>
<circle cx="510.8" cy="61.9" r="0.4" fill="#6058b8" fill-opacity="0.5"/>
<circle cx="495.2" cy="54.6" r="0.4" fill="#6058b8" fill-opacity="0.4"/>
<circle cx="508.5" cy="42.9" r="0.4" fill="#6058b8" fill-opacity="0.6"/>
<circle cx="506.3" cy="57.6" r="0.3" fill="#6058b8" fill-opacity="0.4"/>
<circle cx="516.9" cy="47.0" r="0.3" fill="#6058b8" fill-opacity="0.6"/>
<circle cx="517.0" cy="45.9" r="0.3" fill="#6058b8" fill-opacity="0.6"/>
<circle cx="500.0" cy="59.6" r="0.4" fill="#6058b8" fill-opacity="0.8"/>
<circle cx="497.6" cy="55.9" r="0.4" fill="#6058b8" fill-opacity="0.6"/>
<circle cx="515.8" cy="38.2" r="0.4" fill="#6058b8" fill-opacity="0.6"/>
<circle cx="495.1" cy="39.0" r="0.3" fill="#6058b8" fill-opacity="0.4"/>
<circle cx="490.3" cy="59.6" r="0.4" fill="#6058b8" fill-opacity="0.5"/>
<circle cx="489.5" cy="53.2" r="0.3" fill="#6058b8" fill-opacity="0.5"/>
<circle cx="498.5" cy="60.6" r="0.4" fill="#6058b8" fill-opacity="0.6"/>
<circle cx="517.1" cy="42.9" r="0.4" fill="#6058b8" fill-opacity="0.8"/>
<circle cx="505.4" cy="29.1" r="0.5" fill="#6058b8" fill-opacity="0.4"/>
<circle cx="498.4" cy="38.7" r="0.3" fill="#6058b8" fill-opacity="0.4"/>
<circle cx="510.1" cy="28.6" r="0.5" fill="#6058b8" fill-opacity="0.5"/>
<circle cx="522.0" cy="38.7" r="0.4" fill="#6058b8" fill-opacity="0.7"/>
<circle cx="506.7" cy="45.4" r="0.4" fill="#6058b8" fill-opacity="0.6"/>
<circle cx="494.9" cy="61.5" r="0.4" fill="#6058b8" fill-opacity="0.3"/>
<circle cx="504.9" cy="48.7" r="0.3" fill="#6058b8" fill-opacity="0.4"/>
<circle cx="517.3" cy="47.6" r="0.4" fill="#6058b8" fill-opacity="0.4"/>
<circle cx="514.8" cy="45.8" r="0.5" fill="#6058b8" fill-opacity="0.4"/>
<circle cx="516.5" cy="37.4" r="0.5" fill="#6058b8" fill-opacity="0.5"/>
<circle cx="502.8" cy="66.1" r="0.3" fill="#6058b8" fill-opacity="0.4"/>
<circle cx="515.9" cy="59.1" r="0.4" fill="#6058b8" fill-opacity="0.4"/>
<circle cx="490.1" cy="38.4" r="0.3" fill="#6058b8" fill-opacity="0.7"/>
<circle cx="508.4" cy="50.0" r="0.4" fill="#6058b8" fill-opacity="0.5"/>
<circle cx="493.6" cy="57.3" r="0.3" fill="#6058b8" fill-opacity="0.6"/>
<circle cx="518.2" cy="63.0" r="0.4" fill="#6058b8" fill-opacity="0.4"/>
<circle cx="493.5" cy="45.5" r="0.3" fill="#6058b8" fill-opacity="0.7"/>
<circle cx="489.6" cy="55.3" r="0.4" fill="#6058b8" fill-opacity="0.7"/>
<circle cx="516.7" cy="44.3" r="0.4" fill="#6058b8" fill-opacity="0.6"/>
<circle cx="493.5" cy="35.8" r="0.4" fill="#6058b8" fill-opacity="0.6"/>
<circle cx="494.5" cy="38.5" r="0.3" fill="#6058b8" fill-opacity="0.4"/>
<circle cx="517.6" cy="58.1" r="0.4" fill="#6058b8" fill-opacity="0.4"/>
<circle cx="492.8" cy="60.5" r="0.3" fill="#6058b8" fill-opacity="0.6"/>
<circle cx="492.5" cy="46.4" r="0.3" fill="#6058b8" fill-opacity="0.8"/>
<circle cx="493.1" cy="42.2" r="0.3" fill="#6058b8" fill-opacity="0.3"/>
<circle cx="496.2" cy="49.5" r="0.4" fill="#6058b8" fill-opacity="0.7"/>
<circle cx="517.8" cy="52.1" r="0.3" fill="#6058b8" fill-opacity="0.6"/>
<circle cx="489.3" cy="39.9" r="0.3" fill="#6058b8" fill-opacity="0.5"/>
<circle cx="505.1" cy="39.4" r="0.3" fill="#6058b8" fill-opacity="0.5"/>
<circle cx="506.7" cy="51.7" r="0.5" fill="#6058b8" fill-opacity="0.7"/>
<circle cx="497.3" cy="31.0" r="0.4" fill="#6058b8" fill-opacity="0.5"/>
<circle cx="508.1" cy="28.2" r="0.5" fill="#6058b8" fill-opacity="0.7"/>
<circle cx="511.3" cy="28.4" r="0.5" fill="#6058b8" fill-opacity="0.6"/>
<circle cx="491.6" cy="55.6" r="0.5" fill="#6058b8" fill-opacity="0.3"/>
<circle cx="499.5" cy="50.5" r="0.3" fill="#6058b8" fill-opacity="0.6"/>
<circle cx="508.8" cy="53.5" r="0.4" fill="#6058b8" fill-opacity="0.6"/>
<circle cx="503.1" cy="47.6" r="0.3" fill="#6058b8" fill-opacity="0.6"/>
<circle cx="512.4" cy="50.1" r="0.3" fill="#6058b8" fill-opacity="0.8"/>
<circle cx="508.1" cy="28.7" r="0.4" fill="#6058b8" fill-opacity="0.4"/>
<circle cx="503.5" cy="31.3" r="0.5" fill="#6058b8" fill-opacity="0.3"/>
<circle cx="509.7" cy="53.9" r="0.4" fill="#6058b8" fill-opacity="0.5"/>
<circle cx="503.8" cy="65.0" r="0.5" fill="#6058b8" fill-opacity="0.8"/>
<circle cx="513.6" cy="51.3" r="0.4" fill="#6058b8" fill-opacity="0.7"/>
<circle cx="507.7" cy="29.1" r="0.3" fill="#6058b8" fill-opacity="0.6"/>
<circle cx="522.1" cy="52.9" r="0.5" fill="#6058b8" fill-opacity="0.5"/>
<circle cx="502.3" cy="51.2" r="0.5" fill="#6058b8" fill-opacity="0.5"/>
<circle cx="504.0" cy="59.7" r="0.3" fill="#6058b8" fill-opacity="0.8"/>
<circle cx="520.0" cy="41.7" r="0.3" fill="#6058b8" fill-opacity="0.5"/>
<circle cx="509.7" cy="46.0" r="0.3" fill="#6058b8" fill-opacity="0.6"/>
<circle cx="500.8" cy="60.6" r="0.3" fill="#6058b8" fill-opacity="0.5"/>
<circle cx="521.6" cy="40.5" r="0.4" fill="#6058b8" fill-opacity="0.7"/>
<circle cx="513.9" cy="62.6" r="0.5" fill="#6058b8" fill-opacity="0.5"/>
<circle cx="521.9" cy="49.0" r="0.5" fill="#6058b8" fill-opacity="0.4"/>
<circle cx="503.7" cy="64.2" r="0.4" fill="#6058b8" fill-opacity="0.8"/>
<circle cx="494.8" cy="43.8" r="0.3" fill="#6058b8" fill-opacity="0.5"/>
<circle cx="509.8" cy="30.3" r="0.4" fill="#6058b8" fill-opacity="0.5"/>
<circle cx="499.8" cy="41.8" r="0.4" fill="#6058b8" fill-opacity="0.5"/>
<circle cx="522.8" cy="49.4" r="0.3" fill="#6058b8" fill-opacity="0.4"/>
<circle cx="491.3" cy="36.4" r="0.4" fill="#6058b8" fill-opacity="0.8"/>
<circle cx="524.1" cy="50.0" r="0.4" fill="#6058b8" fill-opacity="0.7"/>
<circle cx="511.4" cy="46.2" r="0.3" fill="#6058b8" fill-opacity="0.8"/>
<circle cx="511.5" cy="43.1" r="0.4" fill="#6058b8" fill-opacity="0.7"/>
<circle cx="503.4" cy="45.6" r="0.3" fill="#6058b8" fill-opacity="0.7"/>
<circle cx="512.3" cy="56.4" r="0.5" fill="#6058b8" fill-opacity="0.4"/>
<circle cx="499.2" cy="43.2" r="0.3" fill="#6058b8" fill-opacity="0.6"/>
<circle cx="508.8" cy="35.2" r="0.3" fill="#6058b8" fill-opacity="0.7"/>
<circle cx="505.9" cy="45.1" r="0.4" fill="#6058b8" fill-opacity="0.6"/>
<circle cx="521.8" cy="46.2" r="0.4" fill="#6058b8" fill-opacity="0.3"/>
<circle cx="501.8" cy="48.1" r="0.3" fill="#6058b8" fill-opacity="0.6"/>
<circle cx="518.4" cy="31.9" r="0.5" fill="#6058b8" fill-opacity="0.5"/>
<circle cx="490.4" cy="52.8" r="0.3" fill="#6058b8" fill-opacity="0.3"/>
<circle cx="506.0" cy="27.9" r="0.5" fill="#6058b8" fill-opacity="0.6"/>
<circle cx="509.1" cy="39.0" r="0.3" fill="#6058b8" fill-opacity="0.7"/>
<circle cx="496.8" cy="46.6" r="0.4" fill="#6058b8" fill-opacity="0.7"/>
<circle cx="511.6" cy="42.8" r="0.3" fill="#6058b8" fill-opacity="0.6"/>
<circle cx="517.1" cy="30.7" r="0.3" fill="#6058b8" fill-opacity="0.5"/>
<circle cx="489.6" cy="57.3" r="0.4" fill="#6058b8" fill-opacity="0.5"/>
<circle cx="498.5" cy="43.3" r="0.5" fill="#6058b8" fill-opacity="0.5"/>
<circle cx="489.7" cy="40.6" r="0.4" fill="#6058b8" fill-opacity="0.3"/>
<circle cx="505.1" cy="49.2" r="0.4" fill="#6058b8" fill-opacity="0.8"/>
<circle cx="508.1" cy="27.7" r="0.3" fill="#6058b8" fill-opacity="0.6"/>
<circle cx="509.0" cy="34.4" r="0.5" fill="#6058b8" fill-opacity="0.3"/>
<circle cx="522.5" cy="36.2" r="0.3" fill="#6058b8" fill-opacity="0.3"/>
<circle cx="516.7" cy="36.2" r="0.5" fill="#6058b8" fill-opacity="0.6"/>
<circle cx="507.6" cy="57.8" r="0.4" fill="#6058b8" fill-opacity="0.5"/>
<circle cx="523.9" cy="45.4" r="0.4" fill="#6058b8" fill-opacity="0.7"/>
<circle cx="510.1" cy="35.6" r="0.4" fill="#6058b8" fill-opacity="0.5"/>
<circle cx="512.9" cy="49.4" r="0.3" fill="#6058b8" fill-opacity="0.3"/>
<circle cx="516.1" cy="37.1" r="0.3" fill="#6058b8" fill-opacity="0.3"/>
<circle cx="500.7" cy="35.7" r="0.5" fill="#6058b8" fill-opacity="0.6"/>
<circle cx="522.5" cy="58.9" r="0.5" fill="#6058b8" fill-opacity="0.5"/>
<circle cx="510.9" cy="32.2" r="0.3" fill="#6058b8" fill-opacity="0.4"/>
<circle cx="499.9" cy="61.2" r="0.4" fill="#6058b8" fill-opacity="0.6"/>
<circle cx="518.2" cy="49.8" r="0.3" fill="#6058b8" fill-opacity="0.5"/>
<circle cx="512.6" cy="47.3" r="0.3" fill="#6058b8" fill-opacity="0.5"/>
<circle cx="502.0" cy="51.5" r="0.5" fill="#6058b8" fill-opacity="0.7"/>
<circle cx="513.7" cy="33.1" r="0.4" fill="#6058b8" fill-opacity="0.6"/>
<circle cx="507.6" cy="50.3" r="0.5" fill="#6058b8" fill-opacity="0.7"/>
<circle cx="503.7" cy="61.9" r="0.3" fill="#6058b8" fill-opacity="0.7"/>
<circle cx="522.5" cy="36.0" r="0.3" fill="#6058b8" fill-opacity="0.8"/>
<circle cx="520.2" cy="58.1" r="0.5" fill="#6058b8" fill-opacity="0.4"/>
<circle cx="491.4" cy="37.4" r="0.4" fill="#6058b8" fill-opacity="0.7"/>
<circle cx="499.2" cy="35.0" r="0.4" fill="#6058b8" fill-opacity="0.7"/>
<circle cx="506.2" cy="31.1" r="0.5" fill="#6058b8" fill-opacity="0.4"/>
<circle cx="499.8" cy="58.5" r="0.3" fill="#6058b8" fill-opacity="0.7"/>
<circle cx="525.7" cy="49.3" r="0.3" fill="#6058b8" fill-opacity="0.6"/>
<circle cx="505.9" cy="36.9" r="0.3" fill="#6058b8" fill-opacity="0.8"/>
<circle cx="518.5" cy="40.2" r="0.3" fill="#6058b8" fill-opacity="0.5"/>
<circle cx="501.0" cy="43.0" r="0.4" fill="#6058b8" fill-opacity="0.6"/>
<circle cx="508.8" cy="59.2" r="0.3" fill="#6058b8" fill-opacity="0.4"/>
<circle cx="499.7" cy="50.3" r="0.3" fill="#6058b8" fill-opacity="0.7"/>
<circle cx="499.9" cy="35.6" r="0.3" fill="#6058b8" fill-opacity="0.5"/>
<circle cx="503.3" cy="33.9" r="0.4" fill="#6058b8" fill-opacity="0.6"/>
<circle cx="489.6" cy="47.6" r="0.4" fill="#6058b8" fill-opacity="0.5"/>
<circle cx="523.5" cy="46.2" r="0.3" fill="#6058b8" fill-opacity="0.3"/>
<circle cx="495.0" cy="50.0" r="0.5" fill="#6058b8" fill-opacity="0.8"/>
<circle cx="505.5" cy="44.1" r="0.4" fill="#6058b8" fill-opacity="0.4"/>
<circle cx="489.4" cy="40.7" r="0.3" fill="#6058b8" fill-opacity="0.8"/>
<circle cx="512.9" cy="36.2" r="0.4" fill="#6058b8" fill-opacity="0.5"/>
<circle cx="516.5" cy="30.6" r="0.4" fill="#6058b8" fill-opacity="0.7"/>
<circle cx="512.3" cy="52.1" r="0.5" fill="#6058b8" fill-opacity="0.4"/>
<circle cx="504.8" cy="30.4" r="0.3" fill="#6058b8" fill-opacity="0.7"/>
<circle cx="493.1" cy="42.3" r="0.4" fill="#6058b8" fill-opacity="0.5"/>
<circle cx="516.6" cy="36.3" r="0.4" fill="#6058b8" fill-opacity="0.5"/>
<circle cx="496.1" cy="53.2" r="0.3" fill="#6058b8" fill-opacity="0.7"/>
<circle cx="489.9" cy="37.2" r="0.4" fill="#6058b8" fill-opacity="0.7"/>
<circle cx="493.6" cy="41.2" r="0.5" fill="#6058b8" fill-opacity="0.4"/>
<circle cx="504.9" cy="46.2" r="0.3" fill="#6058b8" fill-opacity="0.8"/>
<circle cx="524.2" cy="50.1" r="0.5" fill="#6058b8" fill-opacity="0.6"/>
<circle cx="514.1" cy="46.4" r="0.4" fill="#6058b8" fill-opacity="0.6"/>
<circle cx="500.8" cy="47.3" r="0.3" fill="#6058b8" fill-opacity="0.7"/>
<circle cx="514.2" cy="62.1" r="0.3" fill="#6058b8" fill-opacity="0.6"/>
<circle cx="524.9" cy="54.3" r="0.4" fill="#6058b8" fill-opacity="0.4"/>
<circle cx="514.2" cy="46.0" r="0.4" fill="#6058b8" fill-opacity="0.6"/>
<circle cx="516.5" cy="60.7" r="0.3" fill="#6058b8" fill-opacity="0.7"/>
<circle cx="525.4" cy="44.1" r="0.3" fill="#6058b8" fill-opacity="0.5"/>
<circle cx="504.9" cy="44.0" r="0.3" fill="#6058b8" fill-opacity="0.7"/>
<circle cx="503.7" cy="39.0" r="0.4" fill="#6058b8" fill-opacity="0.7"/>
<circle cx="502.9" cy="62.0" r="0.4" fill="#6058b8" fill-opacity="0.3"/>
<circle cx="502.0" cy="28.2" r="0.5" fill="#6058b8" fill-opacity="0.8"/>
<circle cx="513.6" cy="29.5" r="0.3" fill="#6058b8" fill-opacity="0.4"/>
<circle cx="508.2" cy="38.0" r="0.3" fill="#6058b8" fill-opacity="0.6"/>
<circle cx="490.6" cy="58.8" r="0.3" fill="#6058b8" fill-opacity="0.5"/>
<circle cx="514.7" cy="40.3" r="0.4" fill="#6058b8" fill-opacity="0.6"/>
<circle cx="513.6" cy="45.0" r="0.4" fill="#6058b8" fill-opacity="0.5"/>
<circle cx="501.9" cy="28.5" r="0.4" fill="#6058b8" fill-opacity="0.8"/>
<circle cx="513.9" cy="36.2" r="0.3" fill="#6058b8" fill-opacity="0.3"/>
<circle cx="498.0" cy="55.7" r="0.4" fill="#6058b8" fill-opacity="0.8"/>
<circle cx="497.5" cy="46.1" r="0.5" fill="#6058b8" fill-opacity="0.5"/>
<circle cx="498.7" cy="32.9" r="0.4" fill="#6058b8" fill-opacity="0.3"/>
<circle cx="520.3" cy="57.6" r="0.4" fill="#6058b8" fill-opacity="0.6"/>
<circle cx="515.6" cy="40.7" r="0.3" fill="#6058b8" fill-opacity="0.7"/>
<circle cx="512.4" cy="60.6" r="0.3" fill="#6058b8" fill-opacity="0.7"/>
<circle cx="505.0" cy="56.8" r="0.4" fill="#6058b8" fill-opacity="0.7"/>
<circle cx="497.8" cy="37.8" r="0.3" fill="#6058b8" fill-opacity="0.5"/>
<circle cx="520.1" cy="48.3" r="0.3" fill="#6058b8" fill-opacity="0.6"/>
<circle cx="514.6" cy="38.8" r="0.5" fill="#6058b8" fill-opacity="0.6"/>
<circle cx="492.2" cy="52.4" r="0.4" fill="#6058b8" fill-opacity="0.7"/>
<circle cx="522.5" cy="36.9" r="0.3" fill="#6058b8" fill-opacity="0.7"/>
<circle cx="516.4" cy="40.8" r="0.4" fill="#6058b8" fill-opacity="0.5"/>
<circle cx="498.4" cy="58.5" r="0.5" fill="#6058b8" fill-opacity="0.5"/>
<circle cx="523.8" cy="52.4" r="0.3" fill="#6058b8" fill-opacity="0.3"/>
<circle cx="508.4" cy="56.3" r="0.4" fill="#6058b8" fill-opacity="0.3"/>
<circle cx="519.5" cy="36.8" r="0.5" fill="#6058b8" fill-opacity="0.8"/>
<circle cx="520.2" cy="33.8" r="0.3" fill="#6058b8" fill-opacity="0.7"/>
<circle cx="490.4" cy="58.6" r="0.3" fill="#6058b8" fill-opacity="0.6"/>
<circle cx="487.7" cy="48.9" r="0.3" fill="#6058b8" fill-opacity="0.7"/>
<circle cx="495.9" cy="64.6" r="0.4" fill="#6058b8" fill-opacity="0.5"/>
<circle cx="516.2" cy="34.5" r="0.4" fill="#6058b8" fill-opacity="0.6"/>
<circle cx="490.8" cy="39.8" r="0.4" fill="#6058b8" fill-opacity="0.7"/>
<circle cx="522.4" cy="50.4" r="0.5" fill="#6058b8" fill-opacity="0.7"/>
<circle cx="500.0" cy="44.6" r="0.4" fill="#6058b8" fill-opacity="0.5"/>
<circle cx="511.4" cy="57.3" r="0.3" fill="#6058b8" fill-opacity="0.3"/>
<circle cx="488.4" cy="49.5" r="0.4" fill="#6058b8" fill-opacity="0.8"/>
<circle cx="520.1" cy="39.3" r="0.3" fill="#6058b8" fill-opacity="0.3"/>
<circle cx="501.5" cy="44.5" r="0.4" fill="#6058b8" fill-opacity="0.7"/>
<circle cx="500.4" cy="55.9" r="0.3" fill="#6058b8" fill-opacity="0.8"/>
<circle cx="495.5" cy="52.2" r="0.4" fill="#6058b8" fill-opacity="0.6"/>
<circle cx="492.3" cy="54.3" r="0.3" fill="#6058b8" fill-opacity="0.4"/>
<circle cx="498.1" cy="60.8" r="0.4" fill="#6058b8" fill-opacity="0.5"/>
<circle cx="503.9" cy="50.9" r="0.4" fill="#6058b8" fill-opacity="0.7"/>
<circle cx="503.3" cy="30.3" r="0.3" fill="#6058b8" fill-opacity="0.5"/>
<circle cx="498.9" cy="50.1" r="0.3" fill="#6058b8" fill-opacity="0.7"/>
<circle cx="487.9" cy="45.7" r="0.4" fill="#6058b8" fill-opacity="0.5"/>
<circle cx="511.2" cy="56.5" r="0.4" fill="#6058b8" fill-opacity="0.6"/>
<circle cx="502.0" cy="58.7" r="0.3" fill="#6058b8" fill-opacity="0.5"/>
<circle cx="497.9" cy="58.8" r="0.3" fill="#6058b8" fill-opacity="0.7"/>
<circle cx="509.2" cy="32.2" r="0.4" fill="#6058b8" fill-opacity="0.6"/>
<circle cx="487.3" cy="47.8" r="0.5" fill="#6058b8" fill-opacity="0.8"/>
<circle cx="517.7" cy="46.3" r="0.3" fill="#6058b8" fill-opacity="0.7"/>
<circle cx="497.8" cy="57.8" r="0.3" fill="#6058b8" fill-opacity="0.7"/>
<circle cx="506.2" cy="49.9" r="0.5" fill="#6058b8" fill-opacity="0.6"/>
<circle cx="515.3" cy="42.7" r="0.3" fill="#6058b8" fill-opacity="0.3"/>
<circle cx="494.8" cy="48.8" r="0.3" fill="#6058b8" fill-opacity="0.8"/>
<circle cx="515.8" cy="45.5" r="0.5" fill="#6058b8" fill-opacity="0.8"/>
<circle cx="499.5" cy="40.8" r="0.3" fill="#6058b8" fill-opacity="0.5"/>
<circle cx="524.4" cy="53.8" r="0.4" fill="#6058b8" fill-opacity="0.6"/>
<circle cx="516.7" cy="41.7" r="0.3" fill="#6058b8" fill-opacity="0.7"/>
<circle cx="507.7" cy="60.5" r="0.5" fill="#6058b8" fill-opacity="0.8"/>
<circle cx="498.9" cy="57.1" r="0.4" fill="#6058b8" fill-opacity="0.5"/>
<circle cx="512.8" cy="48.4" r="0.4" fill="#6058b8" fill-opacity="0.5"/>
<circle cx="512.7" cy="44.7" r="0.3" fill="#6058b8" fill-opacity="0.3"/>
<circle cx="504.7" cy="54.0" r="0.4" fill="#6058b8" fill-opacity="0.5"/>
<circle cx="515.9" cy="43.1" r="0.4" fill="#6058b8" fill-opacity="0.5"/>
<circle cx="505.7" cy="37.8" r="0.3" fill="#6058b8" fill-opacity="0.7"/>
<circle cx="508.8" cy="63.7" r="0.4" fill="#6058b8" fill-opacity="0.6"/>
<circle cx="499.8" cy="38.9" r="0.5" fill="#6058b8" fill-opacity="0.4"/>
<circle cx="516.7" cy="42.7" r="0.4" fill="#6058b8" fill-opacity="0.5"/>
<circle cx="504.1" cy="56.2" r="0.4" fill="#6058b8" fill-opacity="0.8"/>
<circle cx="489.1" cy="51.3" r="0.5" fill="#6058b8" fill-opacity="0.4"/>
<circle cx="499.5" cy="45.6" r="0.5" fill="#6058b8" fill-opacity="0.7"/>
<circle cx="512.4" cy="65.6" r="0.4" fill="#6058b8" fill-opacity="0.6"/>
<circle cx="493.7" cy="39.8" r="0.5" fill="#6058b8" fill-opacity="0.5"/>
<circle cx="498.8" cy="56.8" r="0.3" fill="#6058b8" fill-opacity="0.7"/>
<circle cx="505.8" cy="55.0" r="0.4" fill="#6058b8" fill-opacity="0.4"/>
<circle cx="511.4" cy="41.7" r="0.4" fill="#6058b8" fill-opacity="0.6"/>
<circle cx="516.8" cy="50.5" r="0.5" fill="#6058b8" fill-opacity="0.6"/>
<circle cx="489.9" cy="49.8" r="0.9" fill="#2c1f86" fill-opacity="0.9"/>
<circle cx="500.9" cy="55.1" r="0.7" fill="#2c1f86" fill-opacity="0.7"/>
<circle cx="521.7" cy="36.3" r="0.8" fill="#2c1f86" fill-opacity="0.5"/>
<circle cx="499.7" cy="65.2" r="0.9" fill="#2c1f86" fill-opacity="0.5"/>
<circle cx="525.9" cy="48.0" r="0.4" fill="#2c1f86" fill-opacity="0.8"/>
<circle cx="516.3" cy="34.0" r="0.6" fill="#2c1f86" fill-opacity="0.7"/>
<circle cx="507.8" cy="51.5" r="0.4" fill="#2c1f86" fill-opacity="0.5"/>
<circle cx="512.2" cy="44.9" r="0.8" fill="#2c1f86" fill-opacity="0.6"/>
<circle cx="498.2" cy="33.2" r="0.5" fill="#2c1f86" fill-opacity="0.5"/>
<circle cx="512.4" cy="63.7" r="0.6" fill="#2c1f86" fill-opacity="0.6"/>
<circle cx="497.2" cy="58.0" r="0.9" fill="#2c1f86" fill-opacity="0.7"/>
<circle cx="506.0" cy="44.8" r="0.8" fill="#2c1f86" fill-opacity="0.7"/>
<circle cx="497.9" cy="64.3" r="0.4" fill="#2c1f86" fill-opacity="0.5"/>
<circle cx="520.1" cy="34.4" r="0.5" fill="#2c1f86" fill-opacity="0.6"/>
<circle cx="501.6" cy="38.0" r="0.6" fill="#2c1f86" fill-opacity="0.6"/>
<circle cx="513.9" cy="41.2" r="0.6" fill="#2c1f86" fill-opacity="0.9"/>
<circle cx="516.4" cy="34.7" r="0.5" fill="#2c1f86" fill-opacity="0.5"/>
<circle cx="492.7" cy="41.0" r="0.7" fill="#2c1f86" fill-opacity="0.7"/>
<circle cx="492.8" cy="39.6" r="0.8" fill="#2c1f86" fill-opacity="0.9"/>
<circle cx="524.0" cy="54.7" r="0.5" fill="#2c1f86" fill-opacity="0.6"/>
<circle cx="515.6" cy="51.3" r="0.6" fill="#2c1f86" fill-opacity="0.7"/>
<circle cx="491.0" cy="37.3" r="0.8" fill="#2c1f86" fill-opacity="0.6"/>
<circle cx="522.1" cy="53.6" r="0.7" fill="#2c1f86" fill-opacity="0.8"/>
<circle cx="503.4" cy="59.7" r="0.8" fill="#2c1f86" fill-opacity="0.7"/>
<circle cx="495.5" cy="58.4" r="0.8" fill="#2c1f86" fill-opacity="0.6"/>
<circle cx="488.7" cy="52.8" r="0.7" fill="#2c1f86" fill-opacity="0.6"/>
<circle cx="495.7" cy="38.4" r="0.6" fill="#2c1f86" fill-opacity="0.8"/>
<circle cx="519.7" cy="57.7" r="0.4" fill="#2c1f86" fill-opacity="0.6"/>
<circle cx="498.7" cy="47.6" r="0.6" fill="#2c1f86" fill-opacity="0.5"/>
<circle cx="487.6" cy="40.5" r="0.4" fill="#2c1f86" fill-opacity="0.9"/>
<circle cx="498.5" cy="32.0" r="0.4" fill="#2c1f86" fill-opacity="0.6"/>
<circle cx="489.7" cy="42.1" r="0.4" fill="#2c1f86" fill-opacity="0.5"/>
<circle cx="522.2" cy="40.1" r="0.8" fill="#2c1f86" fill-opacity="0.5"/>
<circle cx="517.9" cy="57.9" r="0.8" fill="#2c1f86" fill-opacity="0.6"/>
<circle cx="505.7" cy="30.5" r="0.7" fill="#2c1f86" fill-opacity="0.8"/>
<circle cx="491.7" cy="50.7" r="0.7" fill="#2c1f86" fill-opacity="0.6"/>
<circle cx="492.8" cy="34.4" r="0.4" fill="#2c1f86" fill-opacity="0.6"/>
<circle cx="519.3" cy="35.2" r="0.5" fill="#2c1f86" fill-opacity="0.6"/>
<circle cx="514.0" cy="42.3" r="0.4" fill="#2c1f86" fill-opacity="0.6"/>
<circle cx="515.1" cy="65.5" r="0.9" fill="#2c1f86" fill-opacity="0.7"/>
<circle cx="488.7" cy="38.2" r="0.4" fill="#2c1f86" fill-opacity="0.6"/>
<circle cx="495.5" cy="62.8" r="0.8" fill="#2c1f86" fill-opacity="0.9"/>
<circle cx="509.3" cy="43.1" r="0.6" fill="#2c1f86" fill-opacity="0.7"/>
<circle cx="526.2" cy="48.3" r="0.5" fill="#2c1f86" fill-opacity="0.6"/>
<circle cx="502.5" cy="47.5" r="0.7" fill="#2c1f86" fill-opacity="0.7"/>
<circle cx="515.9" cy="40.1" r="0.4" fill="#2c1f86" fill-opacity="0.7"/>
<circle cx="517.0" cy="35.2" r="0.8" fill="#2c1f86" fill-opacity="0.7"/>
<circle cx="501.0" cy="59.5" r="0.7" fill="#2c1f86" fill-opacity="0.8"/>
<circle cx="501.1" cy="63.8" r="0.6" fill="#2c1f86" fill-opacity="0.9"/>
<circle cx="516.2" cy="37.9" r="0.5" fill="#2c1f86" fill-opacity="0.8"/>
<circle cx="495.3" cy="58.7" r="0.5" fill="#2c1f86" fill-opacity="0.6"/>
<circle cx="514.1" cy="51.8" r="0.4" fill="#2c1f86" fill-opacity="0.7"/>
<circle cx="504.6" cy="39.5" r="0.9" fill="#2c1f86" fill-opacity="0.7"/>
<circle cx="510.5" cy="28.0" r="0.8" fill="#2c1f86" fill-opacity="0.8"/>
<circle cx="513.5" cy="60.3" r="0.7" fill="#2c1f86" fill-opacity="0.8"/>
<circle cx="516.9" cy="43.7" r="0.6" fill="#2c1f86" fill-opacity="0.9"/>
<circle cx="506.2" cy="40.5" r="0.5" fill="#2c1f86" fill-opacity="0.8"/>
<circle cx="521.9" cy="44.5" r="0.6" fill="#2c1f86" fill-opacity="0.9"/>
<circle cx="518.1" cy="32.2" r="0.7" fill="#2c1f86" fill-opacity="0.8"/>
<circle cx="495.4" cy="43.1" r="0.6" fill="#2c1f86" fill-opacity="0.5"/>
<circle cx="509.3" cy="30.4" r="0.5" fill="#2c1f86" fill-opacity="0.5"/>
<circle cx="498.8" cy="40.9" r="0.4" fill="#2c1f86" fill-opacity="0.5"/>
<circle cx="504.1" cy="52.2" r="0.5" fill="#2c1f86" fill-opacity="0.9"/>
<circle cx="512.7" cy="30.1" r="0.8" fill="#2c1f86" fill-opacity="0.7"/>
<circle cx="490.6" cy="58.7" r="0.6" fill="#2c1f86" fill-opacity="0.8"/>
<circle cx="520.9" cy="51.7" r="0.4" fill="#2c1f86" fill-opacity="0.8"/>
<circle cx="493.5" cy="40.5" r="0.7" fill="#2c1f86" fill-opacity="0.7"/>
<circle cx="501.1" cy="52.2" r="0.7" fill="#2c1f86" fill-opacity="0.9"/>
<circle cx="490.2" cy="53.9" r="0.6" fill="#2c1f86" fill-opacity="0.7"/>
<circle cx="513.3" cy="36.7" r="0.5" fill="#2c1f86" fill-opacity="0.9"/>
<circle cx="499.2" cy="57.9" r="0.6" fill="#2c1f86" fill-opacity="0.7"/>
<circle cx="501.6" cy="62.7" r="0.8" fill="#2c1f86" fill-opacity="0.9"/>
<circle cx="526.1" cy="46.0" r="0.8" fill="#2c1f86" fill-opacity="0.6"/>
<circle cx="501.0" cy="33.8" r="0.6" fill="#2c1f86" fill-opacity="0.6"/>
<circle cx="494.8" cy="52.3" r="0.6" fill="#2c1f86" fill-opacity="0.8"/>
<circle cx="497.9" cy="54.9" r="0.6" fill="#2c1f86" fill-opacity="0.8"/>
<circle cx="515.1" cy="47.6" r="0.8" fill="#2c1f86" fill-opacity="0.6"/>
<circle cx="495.4" cy="57.1" r="0.6" fill="#2c1f86" fill-opacity="0.8"/>
<circle cx="492.7" cy="50.2" r="0.5" fill="#2c1f86" fill-opacity="0.6"/>
<circle cx="511.8" cy="47.9" r="0.4" fill="#2c1f86" fill-opacity="0.5"/>
<circle cx="519.4" cy="36.6" r="0.7" fill="#2c1f86" fill-opacity="0.7"/>
<circle cx="514.5" cy="47.6" r="0.7" fill="#2c1f86" fill-opacity="0.8"/>
<circle cx="488.1" cy="49.1" r="0.4" fill="#2c1f86" fill-opacity="0.7"/>
<circle cx="513.9" cy="62.9" r="0.7" fill="#2c1f86" fill-opacity="0.7"/>
<circle cx="510.8" cy="52.0" r="0.6" fill="#2c1f86" fill-opacity="0.7"/>
<circle cx="508.4" cy="58.1" r="0.8" fill="#2c1f86" fill-opacity="0.8"/>
<circle cx="522.4" cy="41.3" r="0.4" fill="#2c1f86" fill-opacity="0.6"/>
<circle cx="507.5" cy="59.2" r="0.8" fill="#2c1f86" fill-opacity="0.7"/>
<circle cx="522.4" cy="44.8" r="0.8" fill="#2c1f86" fill-opacity="0.8"/>
<circle cx="514.0" cy="64.3" r="0.9" fill="#2c1f86" fill-opacity="0.7"/>
<circle cx="508.2" cy="27.7" r="0.9" fill="#2c1f86" fill-opacity="0.7"/>
<circle cx="489.7" cy="51.9" r="0.4" fill="#2c1f86" fill-opacity="0.6"/>
<circle cx="510.9" cy="60.0" r="0.4" fill="#2c1f86" fill-opacity="0.9"/>
<circle cx="507.5" cy="46.4" r="0.5" fill="#2c1f86" fill-opacity="0.6"/>
<circle cx="499.1" cy="38.2" r="0.5" fill="#2c1f86" fill-opacity="0.7"/>
<circle cx="506.8" cy="44.3" r="0.5" fill="#2c1f86" fill-opacity="0.6"/>
<circle cx="500.9" cy="29.1" r="0.6" fill="#2c1f86" fill-opacity="0.7"/>
<circle cx="510.1" cy="31.3" r="0.8" fill="#2c1f86" fill-opacity="0.7"/>
<circle cx="518.7" cy="56.6" r="0.5" fill="#2c1f86" fill-opacity="0.9"/>
<circle cx="515.9" cy="47.0" r="0.6" fill="#2c1f86" fill-opacity="0.5"/>
<circle cx="520.8" cy="38.3" r="0.6" fill="#2c1f86" fill-opacity="0.8"/>
<circle cx="493.5" cy="40.0" r="0.8" fill="#2c1f86" fill-opacity="0.9"/>
<circle cx="498.4" cy="49.3" r="0.4" fill="#2c1f86" fill-opacity="0.7"/>
<circle cx="497.8" cy="39.0" r="0.5" fill="#2c1f86" fill-opacity="0.8"/>
<circle cx="501.1" cy="56.8" r="0.9" fill="#2c1f86" fill-opacity="0.5"/>
<circle cx="502.5" cy="62.9" r="0.5" fill="#2c1f86" fill-opacity="0.9"/>
<circle cx="504.6" cy="57.0" r="0.6" fill="#2c1f86" fill-opacity="0.7"/>
<circle cx="516.9" cy="58.1" r="0.5" fill="#2c1f86" fill-opacity="0.8"/>
<circle cx="514.4" cy="46.1" r="0.5" fill="#2c1f86" fill-opacity="0.9"/>
<circle cx="502.8" cy="61.1" r="0.5" fill="#2c1f86" fill-opacity="0.7"/>
<circle cx="518.9" cy="46.1" r="0.5" fill="#2c1f86" fill-opacity="0.7"/>
<circle cx="520.2" cy="55.5" r="0.8" fill="#2c1f86" fill-opacity="0.5"/>
<circle cx="504.5" cy="53.4" r="0.4" fill="#2c1f86" fill-opacity="0.5"/>
<circle cx="509.0" cy="56.6" r="0.5" fill="#2c1f86" fill-opacity="0.6"/>
<circle cx="499.2" cy="57.3" r="0.8" fill="#2c1f86" fill-opacity="0.9"/>
<circle cx="507.5" cy="47.4" r="0.4" fill="#2c1f86" fill-opacity="0.8"/>
<circle cx="524.4" cy="39.3" r="0.9" fill="#2c1f86" fill-opacity="0.6"/>
<circle cx="513.9" cy="54.6" r="0.8" fill="#2c1f86" fill-opacity="0.9"/>
<circle cx="496.6" cy="36.5" r="0.5" fill="#2c1f86" fill-opacity="0.5"/>
<circle cx="492.9" cy="40.1" r="0.8" fill="#2c1f86" fill-opacity="0.6"/>
<circle cx="507.0" cy="44.2" r="0.7" fill="#2c1f86" fill-opacity="0.7"/>
<circle cx="496.3" cy="31.6" r="0.7" fill="#2c1f86" fill-opacity="0.8"/>
<circle cx="503.2" cy="34.9" r="0.5" fill="#2c1f86" fill-opacity="0.8"/>
<circle cx="523.5" cy="53.7" r="0.4" fill="#2c1f86" fill-opacity="0.7"/>
<circle cx="510.4" cy="37.1" r="0.8" fill="#2c1f86" fill-opacity="0.7"/>
<circle cx="514.4" cy="56.4" r="0.8" fill="#2c1f86" fill-opacity="0.5"/>
<circle cx="494.8" cy="61.9" r="0.4" fill="#2c1f86" fill-opacity="0.8"/>
<circle cx="522.7" cy="57.9" r="0.8" fill="#2c1f86" fill-opacity="0.7"/>
<circle cx="513.3" cy="61.1" r="0.8" fill="#2c1f86" fill-opacity="0.7"/>
<circle cx="508.2" cy="58.0" r="0.6" fill="#2c1f86" fill-opacity="0.6"/>
<circle cx="512.4" cy="58.4" r="0.4" fill="#2c1f86" fill-opacity="0.6"/>
<circle cx="496.9" cy="57.0" r="0.7" fill="#2c1f86" fill-opacity="0.5"/>
<circle cx="505.6" cy="45.6" r="0.5" fill="#2c1f86" fill-opacity="0.8"/>
<circle cx="500.7" cy="40.8" r="0.5" fill="#2c1f86" fill-opacity="0.9"/>
<circle cx="500.3" cy="43.5" r="0.6" fill="#2c1f86" fill-opacity="0.6"/>
<circle cx="507.7" cy="29.6" r="0.5" fill="#2c1f86" fill-opacity="0.7"/>
<circle cx="524.1" cy="47.6" r="0.5" fill="#2c1f86" fill-opacity="0.7"/>
<circle cx="514.2" cy="56.0" r="0.8" fill="#2c1f86" fill-opacity="0.8"/>
<circle cx="499.0" cy="52.1" r="0.9" fill="#2c1f86" fill-opacity="0.6"/>
<circle cx="517.8" cy="61.2" r="0.5" fill="#2c1f86" fill-opacity="0.5"/>
<circle cx="499.1" cy="64.3" r="0.9" fill="#2c1f86" fill-opacity="0.9"/>
<circle cx="522.6" cy="36.3" r="0.7" fill="#2c1f86" fill-opacity="0.8"/>
<circle cx="516.9" cy="50.9" r="0.7" fill="#2c1f86" fill-opacity="0.6"/>
<circle cx="504.0" cy="49.8" r="0.6" fill="#2c1f86" fill-opacity="0.9"/>
<circle cx="491.3" cy="58.6" r="0.4" fill="#2c1f86" fill-opacity="0.5"/>
<circle cx="514.4" cy="55.3" r="0.7" fill="#2c1f86" fill-opacity="0.7"/>
<circle cx="506.1" cy="46.9" r="0.5" fill="#2c1f86" fill-opacity="0.7"/>
<circle cx="507.2" cy="46.7" r="0.6" fill="#2c1f86" fill-opacity="0.6"/>
<circle cx="493.7" cy="42.9" r="0.4" fill="#2c1f86" fill-opacity="0.6"/>
<circle cx="504.5" cy="39.4" r="0.7" fill="#2c1f86" fill-opacity="0.6"/>
<circle cx="509.2" cy="39.3" r="0.7" fill="#2c1f86" fill-opacity="0.7"/>
<circle cx="490.0" cy="52.3" r="0.4" fill="#2c1f86" fill-opacity="0.9"/>
<circle cx="518.0" cy="39.9" r="0.7" fill="#2c1f86" fill-opacity="0.9"/>
<circle cx="505.0" cy="62.9" r="0.6" fill="#2c1f86" fill-opacity="0.6"/>
<circle cx="499.5" cy="40.1" r="0.9" fill="#2c1f86" fill-opacity="0.8"/>
<circle cx="514.3" cy="62.5" r="0.8" fill="#2c1f86" fill-opacity="0.8"/>
<circle cx="498.5" cy="62.1" r="0.4" fill="#2c1f86" fill-opacity="0.7"/>
<circle cx="496.5" cy="64.5" r="0.4" fill="#2c1f86" fill-opacity="0.6"/>
<circle cx="500.6" cy="66.6" r="0.8" fill="#2c1f86" fill-opacity="0.9"/>
<circle cx="491.0" cy="58.8" r="0.6" fill="#2c1f86" fill-opacity="0.6"/>
<circle cx="515.4" cy="55.1" r="0.4" fill="#2c1f86" fill-opacity="0.9"/>
<circle cx="497.5" cy="32.6" r="0.6" fill="#2c1f86" fill-opacity="0.7"/>
<circle cx="507.3" cy="65.8" r="0.9" fill="#2c1f86" fill-opacity="0.6"/>
<circle cx="517.4" cy="43.9" r="0.8" fill="#2c1f86" fill-opacity="0.9"/>
<circle cx="503.8" cy="43.3" r="0.5" fill="#2c1f86" fill-opacity="0.8"/>
<circle cx="492.7" cy="35.0" r="0.8" fill="#2c1f86" fill-opacity="0.6"/>
<circle cx="500.0" cy="48.4" r="0.4" fill="#2c1f86" fill-opacity="0.7"/>
<circle cx="519.7" cy="37.7" r="0.8" fill="#2c1f86" fill-opacity="0.9"/>
<circle cx="497.7" cy="58.6" r="0.7" fill="#2c1f86" fill-opacity="0.7"/>
<circle cx="500.1" cy="47.7" r="0.7" fill="#2c1f86" fill-opacity="0.6"/>
<circle cx="520.2" cy="45.6" r="0.5" fill="#2c1f86" fill-opacity="0.6"/>
<circle cx="508.2" cy="41.0" r="0.4" fill="#2c1f86" fill-opacity="0.9"/>
<circle cx="517.1" cy="31.8" r="0.9" fill="#2c1f86" fill-opacity="0.9"/>
<circle cx="512.9" cy="59.6" r="0.4" fill="#2c1f86" fill-opacity="0.8"/>
<circle cx="517.8" cy="46.8" r="0.4" fill="#2c1f86" fill-opacity="0.8"/>
<circle cx="493.2" cy="44.4" r="0.9" fill="#2c1f86" fill-opacity="0.9"/>
<circle cx="499.8" cy="36.9" r="0.4" fill="#2c1f86" fill-opacity="0.9"/>
<circle cx="505.6" cy="62.5" r="0.6" fill="#2c1f86" fill-opacity="0.7"/>
<circle cx="496.8" cy="44.5" r="0.8" fill="#2c1f86" fill-opacity="0.6"/>
<circle cx="499.4" cy="65.1" r="0.8" fill="#2c1f86" fill-opacity="0.8"/>
<circle cx="509.7" cy="37.3" r="0.7" fill="#2c1f86" fill-opacity="0.9"/>
<circle cx="499.0" cy="42.7" r="0.9" fill="#2c1f86" fill-opacity="0.6"/>
<circle cx="496.4" cy="39.7" r="0.5" fill="#2c1f86" fill-opacity="0.5"/>
<circle cx="493.2" cy="59.9" r="0.5" fill="#2c1f86" fill-opacity="0.7"/>
<circle cx="504.0" cy="62.5" r="0.7" fill="#2c1f86" fill-opacity="0.9"/>
<circle cx="490.8" cy="37.6" r="0.5" fill="#2c1f86" fill-opacity="0.9"/>
<circle cx="498.1" cy="65.4" r="0.7" fill="#2c1f86" fill-opacity="0.8"/>
<circle cx="499.9" cy="39.2" r="0.9" fill="#2c1f86" fill-opacity="0.9"/>
<circle cx="500.8" cy="59.5" r="0.7" fill="#2c1f86" fill-opacity="0.8"/>
<circle cx="495.9" cy="63.0" r="0.4" fill="#2c1f86" fill-opacity="0.7"/>
<circle cx="521.7" cy="36.6" r="0.4" fill="#2c1f86" fill-opacity="0.9"/>
<circle cx="506.2" cy="42.1" r="0.7" fill="#2c1f86" fill-opacity="0.5"/>
<circle cx="512.8" cy="45.6" r="0.9" fill="#2c1f86" fill-opacity="0.8"/>
<circle cx="488.7" cy="52.7" r="0.7" fill="#2c1f86" fill-opacity="0.9"/>
<circle cx="515.9" cy="63.4" r="0.7" fill="#2c1f86" fill-opacity="0.5"/>
<circle cx="494.5" cy="35.5" r="0.9" fill="#2c1f86" fill-opacity="0.6"/>
<circle cx="493.8" cy="55.9" r="0.4" fill="#2c1f86" fill-opacity="0.6"/>
<circle cx="509.3" cy="32.6" r="0.7" fill="#2c1f86" fill-opacity="0.7"/>
<circle cx="507.4" cy="43.9" r="0.6" fill="#2c1f86" fill-opacity="0.7"/>
<circle cx="500.9" cy="34.4" r="0.5" fill="#2c1f86" fill-opacity="0.8"/>
<circle cx="515.6" cy="38.5" r="0.5" fill="#2c1f86" fill-opacity="0.7"/>
<circle cx="504.8" cy="45.7" r="0.7" fill="#2c1f86" fill-opacity="0.7"/>
<circle cx="489.4" cy="46.0" r="0.8" fill="#2c1f86" fill-opacity="0.5"/>
<circle cx="514.9" cy="57.0" r="0.7" fill="#2c1f86" fill-opacity="0.6"/>
<circle cx="518.0" cy="35.0" r="0.9" fill="#2c1f86" fill-opacity="0.6"/>
<circle cx="505.4" cy="64.1" r="0.7" fill="#2c1f86" fill-opacity="0.8"/>
<circle cx="489.3" cy="38.5" r="0.7" fill="#2c1f86" fill-opacity="0.7"/>
<circle cx="506.9" cy="59.1" r="0.6" fill="#2c1f86" fill-opacity="0.5"/>
<circle cx="491.5" cy="46.9" r="0.4" fill="#2c1f86" fill-opacity="0.9"/>
<circle cx="507.3" cy="38.1" r="0.4" fill="#2c1f86" fill-opacity="0.9"/>
<circle cx="515.0" cy="62.8" r="0.9" fill="#2c1f86" fill-opacity="0.8"/>
<circle cx="502.8" cy="50.6" r="0.7" fill="#2c1f86" fill-opacity="0.8"/>
<circle cx="500.9" cy="63.2" r="0.7" fill="#2c1f86" fill-opacity="0.5"/>
<circle cx="524.3" cy="50.4" r="0.9" fill="#2c1f86" fill-opacity="0.7"/>
<circle cx="498.1" cy="65.4" r="0.6" fill="#2c1f86" fill-opacity="0.6"/>
<circle cx="518.6" cy="31.6" r="0.7" fill="#2c1f86" fill-opacity="0.7"/>
<circle cx="494.9" cy="55.3" r="0.8" fill="#2c1f86" fill-opacity="0.5"/>
<circle cx="503.6" cy="43.8" r="0.4" fill="#2c1f86" fill-opacity="0.7"/>
<circle cx="508.8" cy="35.9" r="0.7" fill="#2c1f86" fill-opacity="0.6"/>
<circle cx="521.7" cy="48.7" r="0.4" fill="#2c1f86" fill-opacity="0.9"/>
<circle cx="511.2" cy="38.9" r="0.8" fill="#2c1f86" fill-opacity="0.9"/>
<circle cx="489.7" cy="50.3" r="0.5" fill="#2c1f86" fill-opacity="0.5"/>
<circle cx="490.1" cy="41.3" r="0.6" fill="#2c1f86" fill-opacity="0.6"/>
<circle cx="493.1" cy="55.8" r="0.5" fill="#2c1f86" fill-opacity="0.7"/>
<circle cx="497.0" cy="64.9" r="0.8" fill="#2c1f86" fill-opacity="0.9"/>
<circle cx="508.3" cy="32.0" r="0.5" fill="#2c1f86" fill-opacity="0.9"/>
<circle cx="517.4" cy="34.3" r="0.7" fill="#2c1f86" fill-opacity="0.6"/>
<circle cx="496.2" cy="52.9" r="0.8" fill="#2c1f86" fill-opacity="0.7"/>
<circle cx="505.8" cy="54.6" r="0.4" fill="#2c1f86" fill-opacity="0.8"/>
<circle cx="524.3" cy="54.8" r="0.8" fill="#2c1f86" fill-opacity="0.8"/>
</g>
<clipPath id="clip103"><circle cx="459.0" cy="95.2" r="20.1"/></clipPath>
<circle cx="459.0" cy="95.2" r="20.1" fill="#cdcdea"/>
<g clip-path="url(#clip103)">
<circle cx="472.5" cy="93.4" r="0.4" fill="#6058b8" fill-opacity="0.7"/>
<circle cx="460.2" cy="100.7" r="0.4" fill="#6058b8" fill-opacity="0.4"/>
<circle cx="445.0" cy="108.0" r="0.5" fill="#6058b8" fill-opacity="0.4"/>
<circle cx="467.2" cy="99.9" r="0.5" fill="#6058b8" fill-opacity="0.3"/>
<circle cx="460.0" cy="101.7" r="0.3" fill="#6058b8" fill-opacity="0.6"/>
<circle cx="464.2" cy="107.0" r="0.4" fill="#6058b8" fill-opacity="0.7"/>
<circle cx="443.7" cy="104.3" r="0.4" fill="#6058b8" fill-opacity="0.7"/>
<circle cx="459.1" cy="107.4" r="0.4" fill="#6058b8" fill-opacity="0.8"/>
<circle cx="448.8" cy="85.8" r="0.3" fill="#6058b8" fill-opacity="0.4"/>
<circle cx="463.3" cy="114.7" r="0.5" fill="#6058b8" fill-opacity="0.7"/>
<circle cx="442.4" cy="92.2" r="0.3" fill="#6058b8" fill-opacity="0.5"/>
<circle cx="467.0" cy="105.5" r="0.3" fill="#6058b8" fill-opacity="0.3"/>
<circle cx="464.5" cy="92.2" r="0.5" fill="#6058b8" fill-opacity="0.6"/>
<circle cx="470.8" cy="102.7" r="0.5" fill="#6058b8" fill-opacity="0.8"/>
<circle cx="442.7" cy="88.4" r="0.4" fill="#6058b8" fill-opacity="0.4"/>
<circle cx="444.2" cy="90.4" r="0.3" fill="#6058b8" fill-opacity="0.7"/>
<circle cx="442.7" cy="101.2" r="0.3" fill="#6058b8" fill-opacity="0.5"/>
<circle cx="474.5" cy="99.7" r="0.5" fill="#6058b8" fill-opacity="0.6"/>
<circle cx="444.5" cy="88.9" r="0.3" fill="#6058b8" fill-opacity="0.5"/>
<circle cx="444.8" cy="87.5" r="0.3" fill="#6058b8" fill-opacity="0.5"/>
<circle cx="451.7" cy="108.3" r="0.4" fill="#6058b8" fill-opacity="0.5"/>
<circle cx="451.6" cy="78.2" r="0.4" fill="#6058b8" fill-opacity="0.8"/>
<circle cx="452.0" cy="113.1" r="0.3" fill="#6058b8" fill-opacity="0.5"/>
<circle cx="460.5" cy="91.9" r="0.4" fill="#6058b8" fill-opacity="0.7"/>
<circle cx="474.6" cy="89.5" r="0.3" fill="#6058b8" fill-opacity="0.5"/>
<circle cx="455.5" cy="91.4" r="0.3" fill="#6058b8" fill-opacity="0.7"/>
<circle cx="453.3" cy="89.4" r="0.4" fill="#6058b8" fill-opacity="0.4"/>
<circle cx="466.3" cy="87.3" r="0.4" fill="#6058b8" fill-opacity="0.7"/>
<circle cx="454.8" cy="104.4" r="0.4" fill="#6058b8" fill-opacity="0.5"/>
<circle cx="449.4" cy="88.8" r="0.4" fill="#6058b8" fill-opacity="0.5"/>
<circle cx="470.6" cy="108.6" r="0.5" fill="#6058b8" fill-opacity="0.6"/>
<circle cx="441.0" cy="89.8" r="0.5" fill="#6058b8" fill-opacity="0.3"/>
<circle cx="456.2" cy="95.4" r="0.3" fill="#6058b8" fill-opacity="0.4"/>
<circle cx="442.9" cy="99.2" r="0.5" fill="#6058b8" fill-opacity="0.4"/>
<circle cx="479.0" cy="96.7" r="0.4" fill="#6058b8" fill-opacity="0.6"/>
<circle cx="462.5" cy="98.2" r="0.5" fill="#6058b8" fill-opacity="0.6"/>
<circle cx="470.3" cy="81.5" r="0.4" fill="#6058b8" fill-opacity="0.7"/>
<circle cx="458.8" cy="105.2" r="0.4" fill="#6058b8" fill-opacity="0.7"/>
<circle cx="463.8" cy="78.4" r="0.4" fill="#6058b8" fill-opacity="0.5"/>
<circle cx="464.6" cy="110.6" r="0.4" fill="#6058b8" fill-opacity="0.6"/>
<circle cx="456.1" cy="75.5" r="0.5" fill="#6058b8" fill-opacity="0.4"/>
<circle cx="455.3" cy="110.5" r="0.4" fill="#6058b8" fill-opacity="0.4"/>
<circle cx="471.4" cy="89.5" r="0.4" fill="#6058b8" fill-opacity="0.3"/>
<circle cx="458.5" cy="98.2" r="0.4" fill="#6058b8" fill-opacity="0.6"/>
<circle cx="474.0" cy="90.6" r="0.3" fill="#6058b8" fill-opacity="0.5"/>
<circle cx="452.7" cy="101.5" r="0.3" fill="#6058b8" fill-opacity="0.6"/>
<circle cx="453.7" cy="107.7" r="0.4" fill="#6058b8" fill-opacity="0.4"/>
<circle cx="448.4" cy="99.4" r="0.3" fill="#6058b8" fill-opacity="0.6"/>
<circle cx="469.3" cy="102.6" r="0.3" fill="#6058b8" fill-opacity="0.6"/>
<circle cx="453.1" cy="114.1" r="0.4" fill="#6058b8" fill-opacity="0.6"/>
<circle cx="441.0" cy="92.5" r="0.4" fill="#6058b8" fill-opacity="0.6"/>
<circle cx="466.4" cy="96.7" r="0.4" fill="#6058b8" fill-opacity="0.5"/>
<circle cx="474.8" cy="92.8" r="0.5" fill="#6058b8" fill-opacity="0.7"/>
<circle cx="474.9" cy="91.5" r="0.5" fill="#6058b8" fill-opacity="0.5"/>
<circle cx="458.3" cy="101.8" r="0.3" fill="#6058b8" fill-opacity="0.7"/>
<circle cx="456.7" cy="91.7" r="0.3" fill="#6058b8" fill-opacity="0.5"/>
<circle cx="447.4" cy="91.9" r="0.3" fill="#6058b8" fill-opacity="0.4"/>
<circle cx="471.2" cy="83.2" r="0.5" fill="#6058b8" fill-opacity="0.4"/>
<circle cx="454.6" cy="87.4" r="0.3" fill="#6058b8" fill-opacity="0.8"/>
<circle cx="461.5" cy="105.8" r="0.3" fill="#6058b8" fill-opacity="0.7"/>
<circle cx="453.1" cy="80.9" r="0.5" fill="#6058b8" fill-opacity="0.5"/>
<circle cx="474.3" cy="86.3" r="0.3" fill="#6058b8" fill-opacity="0.4"/>
<circle cx="445.9" cy="92.1" r="0.4" fill="#6058b8" fill-opacity="0.6"/>
<circle cx="458.3" cy="79.6" r="0.3" fill="#6058b8" fill-opacity="0.7"/>
<circle cx="474.9" cy="93.3" r="0.4" fill="#6058b8" fill-opacity="0.4"/>
<circle cx="468.9" cy="104.3" r="0.4" fill="#6058b8" fill-opacity="0.7"/>
<circle cx="444.4" cy="97.6" r="0.3" fill="#6058b8" fill-opacity="0.3"/>
<circle cx="467.2" cy="103.1" r="0.3" fill="#6058b8" fill-opacity="0.4"/>
<circle cx="452.8" cy="105.1" r="0.5" fill="#6058b8" fill-opacity="0.8"/>
<circle cx="476.2" cy="94.5" r="0.3" fill="#6058b8" fill-opacity="0.4"/>
<circle cx="475.8" cy="95.1" r="0.5" fill="#6058b8" fill-opacity="0.4"/>
<circle cx="459.4" cy="101.5" r="0.4" fill="#6058b8" fill-opacity="0.5"/>
<circle cx="451.7" cy="96.6" r="0.3" fill="#6058b8" fill-opacity="0.5"/>
<circle cx="473.5" cy="88.0" r="0.4" fill="#6058b8" fill-opacity="0.3"/>
<circle cx="447.8" cy="100.2" r="0.4" fill="#6058b8" fill-opacity="0.5"/>
<circle cx="462.4" cy="85.2" r="0.4" fill="#6058b8" fill-opacity="0.3"/>
<circle cx="469.9" cy="109.5" r="0.5" fill="#6058b8" fill-opacity="0.5"/>
<circle cx="465.3" cy="113.9" r="0.4" fill="#6058b8" fill-opacity="0.3"/>
<circle cx="474.1" cy="94.1" r="0.3" fill="#6058b8" fill-opacity="0.6"/>
<circle cx="448.6" cy="106.4" r="0.4" fill="#6058b8" fill-opacity="0.5"/>
<circle cx="457.7" cy="84.2" r="0.5" fill="#6058b8" fill-opacity="0.7"/>
<circle cx="466.4" cy="92.5" r="0.5" fill="#6058b8" fill-opacity="0.7"/>
<circle cx="466.9" cy="112.7" r="0.4" fill="#6058b8" fill-opacity="0.4"/>
<circle cx="464.0" cy="114.7" r="0.5" fill="#6058b8" fill-opacity="0.4"/>
<circle cx="462.1" cy="92.7" r="0.4" fill="#6058b8" fill-opacity="0.6"/>
<circle cx="472.0" cy="81.2" r="0.4" fill="#6058b8" fill-opacity="0.7"/>
<circle cx="440.1" cy="99.6" r="0.4" fill="#6058b8" fill-opacity="0.7"/>
<circle cx="459.1" cy="82.4" r="0.5" fill="#6058b8" fill-opacity="0.7"/>
<circle cx="467.3" cy="108.2" r="0.4" fill="#6058b8" fill-opacity="0.6"/>
<circle cx="475.5" cy="98.3" r="0.3" fill="#6058b8" fill-opacity="0.7"/>
<circle cx="459.2" cy="98.1" r="0.4" fill="#6058b8" fill-opacity="0.6"/>
<circle cx="461.6" cy="80.7" r="0.5" fill="#6058b8" fill-opacity="0.4"/>
<circle cx="468.1" cy="104.1" r="0.4" fill="#6058b8" fill-opacity="0.7"/>
<circle cx="473.3" cy="101.4" r="0.3" fill="#6058b8" fill-opacity="0.6"/>
<circle cx="465.6" cy="99.9" r="0.4" fill="#6058b8" fill-opacity="0.5"/>
<circle cx="473.1" cy="93.1" r="0.3" fill="#6058b8" fill-opacity="0.4"/>
<circle cx="444.8" cy="92.8" r="0.3" fill="#6058b8" fill-opacity="0.8"/>
<circle cx="441.4" cy="94.2" r="0.4" fill="#6058b8" fill-opacity="0.7"/>
<circle cx="474.7" cy="107.1" r="0.4" fill="#6058b8" fill-opacity="0.4"/>
<circle cx="455.0" cy="92.5" r="0.4" fill="#6058b8" fill-opacity="0.3"/>
<circle cx="471.9" cy="99.2" r="0.5" fill="#6058b8" fill-opacity="0.7"/>
<circle cx="475.3" cy="88.2" r="0.4" fill="#6058b8" fill-opacity="0.6"/>
<circle cx="466.0" cy="93.3" r="0.4" fill="#6058b8" fill-opacity="0.6"/>
<circle cx="477.7" cy="96.9" r="0.4" fill="#6058b8" fill-opacity="0.5"/>
<circle cx="462.9" cy="81.9" r="0.4" fill="#6058b8" fill-opacity="0.6"/>
<circle cx="468.1" cy="84.2" r="0.3" fill="#6058b8" fill-opacity="0.7"/>
<circle cx="460.8" cy="110.3" r="0.5" fill="#6058b8" fill-opacity="0.7"/>
<circle cx="475.7" cy="103.0" r="0.5" fill="#6058b8" fill-opacity="0.5"/>
<circle cx="458.6" cy="108.9" r="0.4" fill="#6058b8" fill-opacity="0.3"/>
<circle cx="468.2" cy="82.0" r="0.4" fill="#6058b8" fill-opacity="0.7"/>
<circle cx="467.8" cy="112.0" r="0.5" fill="#6058b8" fill-opacity="0.5"/>
<circle cx="469.2" cy="104.0" r="0.3" fill="#6058b8" fill-opacity="0.6"/>
<circle cx="468.1" cy="106.5" r="0.4" fill="#6058b8" fill-opacity="0.5"/>
<circle cx="446.2" cy="87.9" r="0.5" fill="#6058b8" fill-opacity="0.5"/>
<circle cx="443.7" cy="87.5" r="0.3" fill="#6058b8" fill-opacity="0.6"/>
<circle cx="465.0" cy="108.0" r="0.4" fill="#6058b8" fill-opacity="0.8"/>
<circle cx="469.8" cy="92.6" r="0.5" fill="#6058b8" fill-opacity="0.5"/>
<circle cx="459.0" cy="110.7" r="0.3" fill="#6058b8" fill-opacity="0.8"/>
<circle cx="461.9" cy="93.1" r="0.5" fill="#6058b8" fill-opacity="0.7"/>
<circle cx="469.6" cy="107.6" r="0.4" fill="#6058b8" fill-opacity="0.4"/>
<circle cx="458.4" cy="93.3" r="0.3" fill="#6058b8" fill-opacity="0.6"/>
<circle cx="463.1" cy="83.1" r="0.3" fill="#6058b8" fill-opacity="0.5"/>
<circle cx="446.7" cy="92.1" r="0.3" fill="#6058b8" fill-opacity="0.7"/>
<circle cx="461.4" cy="103.6" r="0.3" fill="#6058b8" fill-opacity="0.8"/>
<circle cx="473.0" cy="102.6" r="0.4" fill="#6058b8" fill-opacity="0.4"/>
<circle cx="460.8" cy="86.9" r="0.3" fill="#6058b8" fill-opacity="0.3"/>
<circle cx="456.6" cy="91.3" r="0.4" fill="#6058b8" fill-opacity="0.6"/>
<circle cx="474.8" cy="107.1" r="0.3" fill="#6058b8" fill-opacity="0.5"/>
<circle cx="462.2" cy="85.3" r="0.4" fill="#6058b8" fill-opacity="0.6"/>
<circle cx="459.7" cy="82.9" r="0.3" fill="#6058b8" fill-opacity="0.5"/>
<circle cx="456.8" cy="93.1" r="0.3" fill="#6058b8" fill-opacity="0.4"/>
<circle cx="475.6" cy="100.7" r="0.5" fill="#6058b8" fill-opacity="0.6"/>
<circle cx="452.5" cy="106.6" r="0.5" fill="#6058b8" fill-opacity="0.7"/>
<circle cx="444.0" cy="89.4" r="0.5" fill="#6058b8" fill-opacity="0.6"/>
<circle cx="463.6" cy="113.6" r="0.3" fill="#6058b8" fill-opacity="0.4"/>
<circle cx="463.3" cy="106.9" r="0.4" fill="#6058b8" fill-opacity="0.7"/>
<circle cx="458.5" cy="114.0" r="0.5" fill="#6058b8" fill-opacity="0.7"/>
<circle cx="464.8" cy="81.2" r="0.4" fill="#6058b8" fill-opacity="0.4"/>
<circle cx="451.9" cy="101.5" r="0.3" fill="#6058b8" fill-opacity="0.3"/>
<circle cx="471.7" cy="92.3" r="0.3" fill="#6058b8" fill-opacity="0.4"/>
<circle cx="453.7" cy="97.0" r="0.4" fill="#6058b8" fill-opacity="0.5"/>
<circle cx="451.6" cy="86.1" r="0.3" fill="#6058b8" fill-opacity="0.7"/>
<circle cx="440.5" cy="100.3" r="0.4" fill="#6058b8" fill-opacity="0.7"/>
<circle cx="457.4" cy="80.2" r="0.3" fill="#6058b8" fill-opacity="0.6"/>
<circle cx="468.7" cy="97.5" r="0.5" fill="#6058b8" fill-opacity="0.7"/>
<circle cx="476.6" cy="97.6" r="0.4" fill="#6058b8" fill-opacity="0.4"/>
<circle cx="472.3" cy="87.7" r="0.3" fill="#6058b8" fill-opacity="0.8"/>
<circle cx="474.5" cy="101.9" r="0.4" fill="#6058b8" fill-opacity="0.7"/>
<circle cx="448.1" cy="97.1" r="0.3" fill="#6058b8" fill-opacity="0.7"/>
<circle cx="455.7" cy="95.2" r="0.4" fill="#6058b8" fill-opacity="0.7"/>
<circle cx="462.5" cy="81.8" r="0.4" fill="#6058b8" fill-opacity="0.6"/>
<circle cx="461.7" cy="85.1" r="0.3" fill="#6058b8" fill-opacity="0.7"/>
<circle cx="458.8" cy="98.0" r="0.4" fill="#6058b8" fill-opacity="0.7"/>
<circle cx="472.2" cy="80.2" r="0.3" fill="#6058b8" fill-opacity="0.8"/>
<circle cx="457.4" cy="102.4" r="0.3" fill="#6058b8" fill-opacity="0.3"/>
<circle cx="466.7" cy="95.5" r="0.4" fill="#6058b8" fill-opacity="0.3"/>
<circle cx="459.1" cy="94.2" r="0.3" fill="#6058b8" fill-opacity="0.4"/>
<circle cx="459.2" cy="95.4" r="0.4" fill="#6058b8" fill-opacity="0.3"/>
<circle cx="459.5" cy="95.7" r="0.5" fill="#6058b8" fill-opacity="0.4"/>
<circle cx="444.0" cy="104.6" r="0.3" fill="#6058b8" fill-opacity="0.5"/>
<circle cx="467.0" cy="81.4" r="0.3" fill="#6058b8" fill-opacity="0.6"/>
<circle cx="466.6" cy="82.5" r="0.3" fill="#6058b8" fill-opacity="0.4"/>
<circle cx="469.4" cy="88.1" r="0.3" fill="#6058b8" fill-opacity="0.4"/>
<circle cx="443.7" cy="84.6" r="0.4" fill="#6058b8" fill-opacity="0.6"/>
<circle cx="453.2" cy="103.0" r="0.4" fill="#6058b8" fill-opacity="0.5"/>
<circle cx="453.8" cy="111.7" r="0.5" fill="#6058b8" fill-opacity="0.7"/>
<circle cx="471.7" cy="107.3" r="0.4" fill="#6058b8" fill-opacity="0.3"/>
<circle cx="464.3" cy="81.4" r="0.4" fill="#6058b8" fill-opacity="0.3"/>
<circle cx="445.9" cy="90.4" r="0.5" fill="#6058b8" fill-opacity="0.8"/>
<circle cx="471.9" cy="109.3" r="0.3" fill="#6058b8" fill-opacity="0.3"/>
<circle cx="459.3" cy="77.1" r="0.4" fill="#6058b8" fill-opacity="0.4"/>
<circle cx="457.6" cy="75.9" r="0.5" fill="#6058b8" fill-opacity="0.5"/>
<circle cx="462.7" cy="89.6" r="0.5" fill="#6058b8" fill-opacity="0.6"/>
<circle cx="449.7" cy="80.3" r="0.3" fill="#6058b8" fill-opacity="0.4"/>
<circle cx="474.6" cy="101.8" r="0.3" fill="#6058b8" fill-opacity="0.3"/>
<circle cx="450.8" cy="83.6" r="0.5" fill="#6058b8" fill-opacity="0.4"/>
<circle cx="450.3" cy="93.4" r="0.5" fill="#6058b8" fill-opacity="0.8"/>
<circle cx="465.6" cy="93.7" r="0.4" fill="#6058b8" fill-opacity="0.6"/>
<circle cx="469.7" cy="103.1" r="0.4" fill="#6058b8" fill-opacity="0.7"/>
<circle cx="453.4" cy="96.8" r="0.3" fill="#6058b8" fill-opacity="0.5"/>
<circle cx="447.5" cy="111.1" r="0.4" fill="#6058b8" fill-opacity="0.6"/>
<circle cx="470.8" cy="95.4" r="0.4" fill="#6058b8" fill-opacity="0.4"/>
<circle cx="469.7" cy="96.5" r="0.3" fill="#6058b8" fill-opacity="0.6"/>
<circle cx="450.7" cy="111.4" r="0.4" fill="#6058b8" fill-opacity="0.5"/>
<circle cx="475.2" cy="85.7" r="0.5" fill="#6058b8" fill-opacity="0.8"/>
<circle cx="474.4" cy="83.2" r="0.4" fill="#6058b8" fill-opacity="0.8"/>
<circle cx="456.9" cy="111.4" r="0.3" fill="#6058b8" fill-opacity="0.8"/>
<circle cx="457.1" cy="91.1" r="0.5" fill="#6058b8" fill-opacity="0.6"/>
<circle cx="447.5" cy="103.5" r="0.5" fill="#6058b8" fill-opacity="0.8"/>
<circle cx="465.9" cy="102.3" r="0.3" fill="#6058b8" fill-opacity="0.3"/>
<circle cx="468.7" cy="107.2" r="0.4" fill="#6058b8" fill-opacity="0.7"/>
<circle cx="467.4" cy="80.6" r="0.5" fill="#6058b8" fill-opacity="0.3"/>
<circle cx="472.2" cy="92.9" r="0.4" fill="#6058b8" fill-opacity="0.6"/>
<circle cx="460.8" cy="78.9" r="0.3" fill="#6058b8" fill-opacity="0.6"/>
<circle cx="477.0" cy="100.7" r="0.4" fill="#6058b8" fill-opacity="0.5"/>
<circle cx="453.7" cy="105.4" r="0.3" fill="#6058b8" fill-opacity="0.6"/>
<circle cx="455.5" cy="83.9" r="0.4" fill="#6058b8" fill-opacity="0.7"/>
<circle cx="456.6" cy="88.0" r="0.3" fill="#6058b8" fill-opacity="0.8"/>
<circle cx="453.9" cy="89.3" r="0.4" fill="#6058b8" fill-opacity="0.5"/>
<circle cx="444.5" cy="83.5" r="0.4" fill="#6058b8" fill-opacity="0.5"/>
<circle cx="459.2" cy="101.5" r="0.3" fill="#6058b8" fill-opacity="0.6"/>
<circle cx="451.4" cy="82.9" r="0.4" fill="#6058b8" fill-opacity="0.4"/>
<circle cx="463.1" cy="102.3" r="0.4" fill="#6058b8" fill-opacity="0.6"/>
<circle cx="445.9" cy="108.5" r="0.3" fill="#6058b8" fill-opacity="0.8"/>
<circle cx="465.9" cy="90.3" r="0.4" fill="#6058b8" fill-opacity="0.6"/>
<circle cx="458.8" cy="105.4" r="0.3" fill="#6058b8" fill-opacity="0.5"/>
<circle cx="460.4" cy="83.5" r="0.4" fill="#6058b8" fill-opacity="0.5"/>
<circle cx="454.2" cy="84.6" r="0.4" fill="#6058b8" fill-opacity="0.6"/>
<circle cx="448.3" cy="95.7" r="0.3" fill="#6058b8" fill-opacity="0.4"/>
<circle cx="446.5" cy="88.0" r="0.3" fill="#6058b8" fill-opacity="0.7"/>
<circle cx="465.7" cy="99.0" r="0.5" fill="#6058b8" fill-opacity="0.5"/>
<circle cx="445.3" cy="103.8" r="0.4" fill="#6058b8" fill-opacity="0.5"/>
<circle cx="474.7" cy="91.1" r="0.4" fill="#6058b8" fill-opacity="0.5"/>
<circle cx="443.2" cy="86.3" r="0.3" fill="#6058b8" fill-opacity="0.4"/>
<circle cx="474.2" cy="106.7" r="0.5" fill="#6058b8" fill-opacity="0.7"/>
<circle cx="445.5" cy="86.2" r="0.4" fill="#6058b8" fill-opacity="0.3"/>
<circle cx="454.3" cy="106.6" r="0.3" fill="#6058b8" fill-opacity="0.6"/>
<circle cx="474.8" cy="87.3" r="0.3" fill="#6058b8" fill-opacity="0.5"/>
<circle cx="471.3" cy="86.5" r="0.3" fill="#6058b8" fill-opacity="0.6"/>
<circle cx="468.4" cy="110.6" r="0.3" fill="#6058b8" fill-opacity="0.5"/>
<circle cx="461.7" cy="87.7" r="0.4" fill="#6058b8" fill-opacity="0.4"/>
<circle cx="451.0" cy="104.0" r="0.5" fill="#6058b8" fill-opacity="0.7"/>
<circle cx="460.9" cy="102.5" r="0.3" fill="#6058b8" fill-opacity="0.5"/>
<circle cx="448.6" cy="79.1" r="0.4" fill="#6058b8" fill-opacity="0.4"/>
<circle cx="472.5" cy="102.6" r="0.4" fill="#6058b8" fill-opacity="0.7"/>
<circle cx="462.6" cy="99.8" r="0.3" fill="#6058b8" fill-opacity="0.6"/>
<circle cx="462.3" cy="83.8" r="0.3" fill="#6058b8" fill-opacity="0.4"/>
<circle cx="448.5" cy="95.8" r="0.4" fill="#6058b8" fill-opacity="0.5"/>
<circle cx="454.0" cy="89.1" r="0.4" fill="#6058b8" fill-opacity="0.6"/>
<circle cx="454.3" cy="85.8" r="0.3" fill="#6058b8" fill-opacity="0.4"/>
<circle cx="446.6" cy="81.0" r="0.4" fill="#6058b8" fill-opacity="0.6"/>
<circle cx="439.6" cy="94.5" r="0.3" fill="#6058b8" fill-opacity="0.3"/>
<circle cx="452.4" cy="103.8" r="0.3" fill="#6058b8" fill-opacity="0.5"/>
<circle cx="453.1" cy="76.1" r="0.3" fill="#6058b8" fill-opacity="0.4"/>
<circle cx="460.9" cy="112.5" r="0.3" fill="#6058b8" fill-opacity="0.5"/>
<circle cx="451.0" cy="92.2" r="0.4" fill="#6058b8" fill-opacity="0.3"/>
<circle cx="455.8" cy="113.5" r="0.4" fill="#6058b8" fill-opacity="0.6"/>
<circle cx="457.5" cy="102.9" r="0.5" fill="#6058b8" fill-opacity="0.5"/>
<circle cx="451.7" cy="108.7" r="0.4" fill="#6058b8" fill-opacity="0.7"/>
<circle cx="460.2" cy="114.3" r="0.4" fill="#6058b8" fill-opacity="0.5"/>
<circle cx="474.2" cy="107.6" r="0.4" fill="#6058b8" fill-opacity="0.6"/>
<circle cx="463.9" cy="92.6" r="0.3" fill="#6058b8" fill-opacity="0.3"/>
<circle cx="456.0" cy="95.5" r="0.5" fill="#6058b8" fill-opacity="0.6"/>
<circle cx="467.1" cy="78.4" r="0.5" fill="#6058b8" fill-opacity="0.5"/>
<circle cx="448.3" cy="82.9" r="0.5" fill="#6058b8" fill-opacity="0.4"/>
<circle cx="449.0" cy="80.4" r="0.4" fill="#6058b8" fill-opacity="0.3"/>
<circle cx="460.2" cy="91.4" r="0.4" fill="#6058b8" fill-opacity="0.4"/>
<circle cx="441.5" cy="102.6" r="0.5" fill="#6058b8" fill-opacity="0.7"/>
<circle cx="460.8" cy="92.3" r="0.4" fill="#6058b8" fill-opacity="0.6"/>
<circle cx="452.1" cy="83.9" r="0.4" fill="#6058b8" fill-opacity="0.3"/>
<circle cx="466.7" cy="77.9" r="0.4" fill="#6058b8" fill-opacity="0.6"/>
<circle cx="476.0" cy="101.9" r="0.5" fill="#6058b8" fill-opacity="0.4"/>
<circle cx="451.3" cy="95.3" r="0.5" fill="#6058b8" fill-opacity="0.7"/>
<circle cx="468.3" cy="83.8" r="0.4" fill="#6058b8" fill-opacity="0.4"/>
<circle cx="443.5" cy="97.3" r="0.5" fill="#6058b8" fill-opacity="0.5"/>
<circle cx="472.8" cy="96.4" r="0.3" fill="#6058b8" fill-opacity="0.4"/>
<circle cx="463.7" cy="113.3" r="0.4" fill="#6058b8" fill-opacity="0.5"/>
<circle cx="453.1" cy="109.4" r="0.4" fill="#6058b8" fill-opacity="0.6"/>
<circle cx="462.0" cy="77.1" r="0.3" fill="#6058b8" fill-opacity="0.6"/>
<circle cx="466.7" cy="79.7" r="0.3" fill="#6058b8" fill-opacity="0.6"/>
<circle cx="446.9" cy="105.4" r="0.3" fill="#6058b8" fill-opacity="0.6"/>
<circle cx="443.9" cy="90.2" r="0.4" fill="#6058b8" fill-opacity="0.5"/>
<circle cx="458.6" cy="101.0" r="0.4" fill="#6058b8" fill-opacity="0.7"/>
<circle cx="461.7" cy="107.1" r="0.3" fill="#6058b8" fill-opacity="0.7"/>
<circle cx="450.7" cy="77.5" r="0.4" fill="#6058b8" fill-opacity="0.4"/>
<circle cx="447.5" cy="94.5" r="0.3" fill="#6058b8" fill-opacity="0.7"/>
<circle cx="450.4" cy="93.3" r="0.3" fill="#6058b8" fill-opacity="0.7"/>
<circle cx="444.5" cy="83.5" r="0.4" fill="#6058b8" fill-opacity="0.3"/>
<circle cx="452.7" cy="110.7" r="0.3" fill="#6058b8" fill-opacity="0.5"/>
<circle cx="457.4" cy="85.1" r="0.3" fill="#6058b8" fill-opacity="0.4"/>
<circle cx="447.1" cy="104.7" r="0.3" fill="#6058b8" fill-opacity="0.4"/>
<circle cx="452.2" cy="79.2" r="0.4" fill="#6058b8" fill-opacity="0.6"/>
<circle cx="443.6" cy="106.4" r="0.3" fill="#6058b8" fill-opacity="0.7"/>
<circle cx="455.1" cy="78.1" r="0.5" fill="#6058b8" fill-opacity="0.4"/>
<circle cx="451.1" cy="106.6" r="0.3" fill="#6058b8" fill-opacity="0.5"/>
<circle cx="447.1" cy="95.4" r="0.5" fill="#6058b8" fill-opacity="0.4"/>
<circle cx="455.0" cy="78.8" r="0.3" fill="#6058b8" fill-opacity="0.8"/>
<circle cx="463.0" cy="90.8" r="0.3" fill="#6058b8" fill-opacity="0.6"/>
<circle cx="467.8" cy="80.3" r="0.4" fill="#6058b8" fill-opacity="0.7"/>
<circle cx="439.9" cy="94.0" r="0.3" fill="#6058b8" fill-opacity="0.6"/>
<circle cx="445.0" cy="91.7" r="0.3" fill="#6058b8" fill-opacity="0.3"/>
<circle cx="454.4" cy="80.3" r="0.4" fill="#6058b8" fill-opacity="0.6"/>
<circle cx="473.8" cy="95.9" r="0.5" fill="#6058b8" fill-opacity="0.6"/>
<circle cx="460.2" cy="94.5" r="0.5" fill="#6058b8" fill-opacity="0.5"/>
<circle cx="442.1" cy="87.9" r="0.3" fill="#6058b8" fill-opacity="0.6"/>
<circle cx="462.6" cy="76.0" r="0.4" fill="#6058b8" fill-opacity="0.5"/>
<circle cx="459.6" cy="97.9" r="0.3" fill="#6058b8" fill-opacity="0.3"/>
<circle cx="474.5" cy="87.2" r="0.5" fill="#6058b8" fill-opacity="0.6"/>
<circle cx="459.9" cy="104.6" r="0.5" fill="#6058b8" fill-opacity="0.7"/>
<circle cx="471.2" cy="106.4" r="0.3" fill="#6058b8" fill-opacity="0.4"/>
<circle cx="461.8" cy="107.5" r="0.3" fill="#6058b8" fill-opacity="0.7"/>
<circle cx="465.6" cy="81.6" r="0.3" fill="#6058b8" fill-opacity="0.7"/>
<circle cx="443.2" cy="87.7" r="0.5" fill="#6058b8" fill-opacity="0.7"/>
<circle cx="465.3" cy="78.7" r="0.5" fill="#6058b8" fill-opacity="0.4"/>
<circle cx="448.1" cy="88.0" r="0.3" fill="#6058b8" fill-opacity="0.6"/>
<circle cx="466.1" cy="79.9" r="0.3" fill="#6058b8" fill-opacity="0.4"/>
<circle cx="464.7" cy="92.1" r="0.4" fill="#6058b8" fill-opacity="0.4"/>
<circle cx="467.8" cy="110.9" r="0.3" fill="#6058b8" fill-opacity="0.7"/>
<circle cx="447.7" cy="106.4" r="0.3" fill="#6058b8" fill-opacity="0.7"/>
<circle cx="441.4" cy="97.5" r="0.4" fill="#6058b8" fill-opacity="0.7"/>
<circle cx="450.9" cy="99.4" r="0.3" fill="#6058b8" fill-opacity="0.6"/>
<circle cx="451.1" cy="81.9" r="0.3" fill="#6058b8" fill-opacity="0.7"/>
<circle cx="471.0" cy="88.8" r="0.3" fill="#6058b8" fill-opacity="0.3"/>
<circle cx="470.7" cy="92.8" r="0.3" fill="#6058b8" fill-opacity="0.4"/>
<circle cx="471.4" cy="110.4" r="0.5" fill="#6058b8" fill-opacity="0.7"/>
<circle cx="459.7" cy="100.2" r="0.3" fill="#6058b8" fill-opacity="0.6"/>
<circle cx="460.0" cy="107.2" r="0.4" fill="#6058b8" fill-opacity="0.5"/>
<circle cx="467.1" cy="102.5" r="0.3" fill="#6058b8" fill-opacity="0.6"/>
<circle cx="467.0" cy="99.0" r="0.3" fill="#6058b8" fill-opacity="0.4"/>
<circle cx="454.1" cy="101.1" r="0.3" fill="#6058b8" fill-opacity="0.6"/>
<circle cx="440.5" cy="93.1" r="0.5" fill="#6058b8" fill-opacity="0.5"/>
<circle cx="454.9" cy="109.9" r="0.3" fill="#6058b8" fill-opacity="0.3"/>
<circle cx="460.5" cy="94.0" r="0.3" fill="#6058b8" fill-opacity="0.7"/>
<circle cx="454.4" cy="78.9" r="0.4" fill="#6058b8" fill-opacity="0.6"/>
<circle cx="455.1" cy="81.5" r="0.5" fill="#6058b8" fill-opacity="0.7"/>
<circle cx="456.5" cy="113.8" r="0.4" fill="#6058b8" fill-opacity="0.5"/>
<circle cx="441.7" cy="85.3" r="0.4" fill="#6058b8" fill-opacity="0.5"/>
<circle cx="447.0" cy="93.2" r="0.5" fill="#6058b8" fill-opacity="0.5"/>
<circle cx="464.2" cy="84.3" r="0.5" fill="#6058b8" fill-opacity="0.7"/>
<circle cx="465.2" cy="104.3" r="0.4" fill="#6058b8" fill-opacity="0.5"/>
<circle cx="444.3" cy="91.7" r="0.4" fill="#6058b8" fill-opacity="0.5"/>
<circle cx="471.6" cy="106.9" r="0.3" fill="#6058b8" fill-opacity="0.5"/>
<circle cx="478.6" cy="96.3" r="0.4" fill="#6058b8" fill-opacity="0.5"/>
<circle cx="451.9" cy="96.3" r="0.3" fill="#6058b8" fill-opacity="0.4"/>
<circle cx="470.1" cy="99.9" r="0.4" fill="#6058b8" fill-opacity="0.6"/>
<circle cx="441.6" cy="103.7" r="0.3" fill="#6058b8" fill-opacity="0.4"/>
<circle cx="444.8" cy="88.1" r="0.3" fill="#6058b8" fill-opacity="0.4"/>
<circle cx="464.6" cy="88.1" r="0.3" fill="#6058b8" fill-opacity="0.7"/>
<circle cx="473.7" cy="93.3" r="0.4" fill="#6058b8" fill-opacity="0.5"/>
<circle cx="469.5" cy="111.6" r="0.4" fill="#6058b8" fill-opacity="0.6"/>
<circle cx="473.6" cy="92.8" r="0.4" fill="#6058b8" fill-opacity="0.4"/>
<circle cx="467.0" cy="110.9" r="0.5" fill="#6058b8" fill-opacity="0.4"/>
<circle cx="471.1" cy="108.7" r="0.3" fill="#6058b8" fill-opacity="0.6"/>
<circle cx="464.7" cy="94.0" r="0.3" fill="#6058b8" fill-opacity="0.7"/>
<circle cx="462.5" cy="107.6" r="0.5" fill="#6058b8" fill-opacity="0.5"/>
<circle cx="478.1" cy="101.0" r="0.4" fill="#6058b8" fill-opacity="0.3"/>
<circle cx="468.6" cy="92.4" r="0.3" fill="#6058b8" fill-opacity="0.8"/>
<circle cx="465.3" cy="76.6" r="0.4" fill="#6058b8" fill-opacity="0.8"/>
<circle cx="469.0" cy="107.6" r="0.4" fill="#6058b8" fill-opacity="0.6"/>
<circle cx="468.1" cy="78.5" r="0.3" fill="#6058b8" fill-opacity="0.6"/>
<circle cx="454.3" cy="103.7" r="0.6" fill="#2c1f86" fill-opacity="0.6"/>
<circle cx="474.7" cy="87.3" r="0.8" fill="#2c1f86" fill-opacity="0.6"/>
<circle cx="447.5" cy="97.6" r="0.8" fill="#2c1f86" fill-opacity="0.6"/>
<circle cx="458.2" cy="79.4" r="0.6" fill="#2c1f86" fill-opacity="0.9"/>
<circle cx="459.8" cy="75.3" r="0.7" fill="#2c1f86" fill-opacity="0.9"/>
<circle cx="463.5" cy="114.7" r="0.5" fill="#2c1f86" fill-opacity="0.9"/>
<circle cx="455.3" cy="110.4" r="0.5" fill="#2c1f86" fill-opacity="0.9"/>
<circle cx="467.3" cy="94.3" r="0.9" fill="#2c1f86" fill-opacity="0.9"/>
<circle cx="468.5" cy="92.0" r="0.5" fill="#2c1f86" fill-opacity="0.9"/>
<circle cx="443.4" cy="93.0" r="0.8" fill="#2c1f86" fill-opacity="0.6"/>
<circle cx="458.7" cy="80.4" r="0.6" fill="#2c1f86" fill-opacity="0.5"/>
<circle cx="446.5" cy="80.2" r="0.6" fill="#2c1f86" fill-opacity="0.9"/>
<circle cx="471.7" cy="99.8" r="0.9" fill="#2c1f86" fill-opacity="0.7"/>
<circle cx="463.1" cy="108.4" r="0.8" fill="#2c1f86" fill-opacity="0.7"/>
<circle cx="470.0" cy="92.3" r="0.5" fill="#2c1f86" fill-opacity="0.9"/>
<circle cx="472.6" cy="92.8" r="0.4" fill="#2c1f86" fill-opacity="0.9"/>
<circle cx="476.9" cy="103.7" r="0.4" fill="#2c1f86" fill-opacity="0.6"/>
<circle cx="464.2" cy="90.6" r="0.5" fill="#2c1f86" fill-opacity="0.6"/>
<circle cx="470.3" cy="86.6" r="0.7" fill="#2c1f86" fill-opacity="0.6"/>
<circle cx="460.0" cy="77.4" r="0.5" fill="#2c1f86" fill-opacity="0.8"/>
<circle cx="469.8" cy="85.7" r="0.7" fill="#2c1f86" fill-opacity="0.5"/>
<circle cx="448.2" cy="80.7" r="0.5" fill="#2c1f86" fill-opacity="0.9"/>
<circle cx="459.6" cy="97.0" r="0.4" fill="#2c1f86" fill-opacity="0.5"/>
<circle cx="464.1" cy="81.3" r="0.7" fill="#2c1f86" fill-opacity="0.9"/>
<circle cx="471.7" cy="98.3" r="0.5" fill="#2c1f86" fill-opacity="0.7"/>
<circle cx="456.9" cy="98.1" r="0.4" fill="#2c1f86" fill-opacity="0.6"/>
<circle cx="462.3" cy="88.9" r="0.6" fill="#2c1f86" fill-opacity="0.7"/>
<circle cx="453.2" cy="94.4" r="0.5" fill="#2c1f86" fill-opacity="0.9"/>
<circle cx="446.7" cy="102.9" r="0.6" fill="#2c1f86" fill-opacity="0.7"/>
<circle cx="472.3" cy="102.4" r="0.9" fill="#2c1f86" fill-opacity="0.9"/>
<circle cx="452.4" cy="107.7" r="0.5" fill="#2c1f86" fill-opacity="0.7"/>
<circle cx="460.6" cy="80.2" r="0.4" fill="#2c1f86" fill-opacity="0.6"/>
<circle cx="471.2" cy="97.3" r="0.5" fill="#2c1f86" fill-opacity="0.5"/>
<circle cx="451.8" cy="82.1" r="0.5" fill="#2c1f86" fill-opacity="0.6"/>
<circle cx="471.1" cy="104.2" r="0.7" fill="#2c1f86" fill-opacity="0.7"/>
<circle cx="458.9" cy="110.3" r="0.6" fill="#2c1f86" fill-opacity="0.8"/>
<circle cx="477.8" cy="99.7" r="0.8" fill="#2c1f86" fill-opacity="0.9"/>
<circle cx="472.4" cy="101.3" r="0.5" fill="#2c1f86" fill-opacity="0.7"/>
<circle cx="445.2" cy="82.4" r="0.7" fill="#2c1f86" fill-opacity="0.9"/>
<circle cx="467.4" cy="87.1" r="0.4" fill="#2c1f86" fill-opacity="0.7"/>
<circle cx="452.9" cy="94.3" r="0.7" fill="#2c1f86" fill-opacity="0.7"/>
<circle cx="452.7" cy="94.9" r="0.9" fill="#2c1f86" fill-opacity="0.5"/>
<circle cx="469.3" cy="110.8" r="0.9" fill="#2c1f86" fill-opacity="0.9"/>
<circle cx="461.9" cy="92.2" r="0.9" fill="#2c1f86" fill-opacity="0.9"/>
<circle cx="446.6" cy="82.5" r="0.5" fill="#2c1f86" fill-opacity="0.8"/>
<circle cx="444.9" cy="101.5" r="0.6" fill="#2c1f86" fill-opacity="0.9"/>
<circle cx="449.2" cy="101.7" r="0.7" fill="#2c1f86" fill-opacity="0.8"/>
<circle cx="468.2" cy="106.2" r="0.9" fill="#2c1f86" fill-opacity="0.6"/>
<circle cx="439.3" cy="95.0" r="0.8" fill="#2c1f86" fill-opacity="0.8"/>
<circle cx="453.3" cy="92.7" r="0.4" fill="#2c1f86" fill-opacity="0.9"/>
<circle cx="449.5" cy="99.0" r="0.5" fill="#2c1f86" fill-opacity="0.9"/>
<circle cx="442.7" cy="100.7" r="0.4" fill="#2c1f86" fill-opacity="0.9"/>
<circle cx="445.7" cy="104.3" r="0.8" fill="#2c1f86" fill-opacity="0.6"/>
<circle cx="451.9" cy="84.4" r="0.6" fill="#2c1f86" fill-opacity="0.7"/>
<circle cx="460.0" cy="94.0" r="0.6" fill="#2c1f86" fill-opacity="0.5"/>
<circle cx="450.7" cy="94.1" r="0.6" fill="#2c1f86" fill-opacity="0.9"/>
<circle cx="463.9" cy="89.3" r="0.6" fill="#2c1f86" fill-opacity="0.5"/>
<circle cx="463.7" cy="112.1" r="0.6" fill="#2c1f86" fill-opacity="0.6"/>
<circle cx="440.4" cy="92.1" r="0.5" fill="#2c1f86" fill-opacity="0.7"/>
<circle cx="456.6" cy="95.3" r="0.9" fill="#2c1f86" fill-opacity="0.6"/>
<circle cx="461.4" cy="102.7" r="0.7" fill="#2c1f86" fill-opacity="0.8"/>
<circle cx="461.6" cy="99.7" r="0.6" fill="#2c1f86" fill-opacity="0.6"/>
<circle cx="458.0" cy="92.1" r="0.4" fill="#2c1f86" fill-opacity="0.6"/>
<circle cx="442.4" cy="86.3" r="0.8" fill="#2c1f86" fill-opacity="0.7"/>
<circle cx="449.6" cy="106.3" r="0.4" fill="#2c1f86" fill-opacity="0.8"/>
<circle cx="446.2" cy="96.9" r="0.7" fill="#2c1f86" fill-opacity="0.9"/>
<circle cx="473.2" cy="104.0" r="0.7" fill="#2c1f86" fill-opacity="0.9"/>
<circle cx="461.4" cy="109.0" r="0.8" fill="#2c1f86" fill-opacity="0.7"/>
<circle cx="439.3" cy="93.9" r="0.7" fill="#2c1f86" fill-opacity="0.5"/>
<circle cx="478.8" cy="94.5" r="0.6" fill="#2c1f86" fill-opacity="0.9"/>
<circle cx="469.7" cy="108.5" r="0.8" fill="#2c1f86" fill-opacity="0.8"/>
<circle cx="468.3" cy="104.1" r="0.9" fill="#2c1f86" fill-opacity="0.8"/>
<circle cx="447.4" cy="87.8" r="0.7" fill="#2c1f86" fill-opacity="0.6"/>
<circle cx="463.2" cy="84.7" r="0.8" fill="#2c1f86" fill-opacity="0.7"/>
<circle cx="460.5" cy="82.5" r="0.5" fill="#2c1f86" fill-opacity="0.5"/>
<circle cx="457.4" cy="87.7" r="0.6" fill="#2c1f86" fill-opacity="0.9"/>
<circle cx="452.2" cy="77.3" r="0.8" fill="#2c1f86" fill-opacity="0.6"/>
<circle cx="443.5" cy="106.3" r="0.4" fill="#2c1f86" fill-opacity="0.6"/>
<circle cx="444.7" cy="94.5" r="0.7" fill="#2c1f86" fill-opacity="0.8"/>
<circle cx="467.0" cy="77.1" r="0.9" fill="#2c1f86" fill-opacity="0.6"/>
<circle cx="457.8" cy="103.2" r="0.7" fill="#2c1f86" fill-opacity="0.9"/>
<circle cx="465.9" cy="78.5" r="0.4" fill="#2c1f86" fill-opacity="0.8"/>
<circle cx="472.8" cy="104.1" r="0.5" fill="#2c1f86" fill-opacity="0.8"/>
<circle cx="446.5" cy="104.4" r="0.7" fill="#2c1f86" fill-opacity="0.8"/>
<circle cx="470.8" cy="93.5" r="0.7" fill="#2c1f86" fill-opacity="0.7"/>
<circle cx="455.9" cy="108.5" r="0.7" fill="#2c1f86" fill-opacity="0.6"/>
<circle cx="451.7" cy="98.3" r="0.4" fill="#2c1f86" fill-opacity="0.5"/>
<circle cx="471.7" cy="97.4" r="0.9" fill="#2c1f86" fill-opacity="0.6"/>
<circle cx="450.8" cy="85.8" r="0.4" fill="#2c1f86" fill-opacity="0.6"/>
<circle cx="471.4" cy="82.6" r="0.6" fill="#2c1f86" fill-opacity="0.7"/>
<circle cx="470.7" cy="96.2" r="0.9" fill="#2c1f86" fill-opacity="0.7"/>
<circle cx="462.0" cy="91.2" r="0.4" fill="#2c1f86" fill-opacity="0.8"/>
<circle cx="478.1" cy="100.0" r="0.8" fill="#2c1f86" fill-opacity="0.8"/>
<circle cx="474.0" cy="89.4" r="0.7" fill="#2c1f86" fill-opacity="0.6"/>
<circle cx="455.8" cy="91.9" r="0.8" fill="#2c1f86" fill-opacity="0.6"/>
<circle cx="464.8" cy="84.5" r="0.7" fill="#2c1f86" fill-opacity="0.7"/>
<circle cx="450.8" cy="107.7" r="0.5" fill="#2c1f86" fill-opacity="0.8"/>
<circle cx="476.8" cy="92.8" r="0.8" fill="#2c1f86" fill-opacity="0.6"/>
<circle cx="457.1" cy="104.7" r="0.4" fill="#2c1f86" fill-opacity="0.6"/>
<circle cx="445.1" cy="100.7" r="0.8" fill="#2c1f86" fill-opacity="0.7"/>
<circle cx="440.4" cy="93.4" r="0.6" fill="#2c1f86" fill-opacity="0.8"/>
<circle cx="463.5" cy="80.7" r="0.9" fill="#2c1f86" fill-opacity="0.6"/>
<circle cx="444.6" cy="101.8" r="0.7" fill="#2c1f86" fill-opacity="0.6"/>
<circle cx="477.2" cy="87.1" r="0.5" fill="#2c1f86" fill-opacity="0.6"/>
<circle cx="457.0" cy="86.3" r="0.8" fill="#2c1f86" fill-opacity="0.9"/>
<circle cx="448.3" cy="100.2" r="0.8" fill="#2c1f86" fill-opacity="0.7"/>
<circle cx="450.5" cy="77.6" r="0.8" fill="#2c1f86" fill-opacity="0.6"/>
<circle cx="464.1" cy="95.1" r="0.8" fill="#2c1f86" fill-opacity="0.9"/>
<circle cx="464.1" cy="102.9" r="0.8" fill="#2c1f86" fill-opacity="0.7"/>
<circle cx="448.4" cy="100.7" r="0.9" fill="#2c1f86" fill-opacity="0.5"/>
<circle cx="470.0" cy="85.5" r="0.4" fill="#2c1f86" fill-opacity="0.7"/>
<circle cx="456.8" cy="77.2" r="0.4" fill="#2c1f86" fill-opacity="0.6"/>
<circle cx="443.8" cy="85.2" r="0.7" fill="#2c1f86" fill-opacity="0.8"/>
<circle cx="460.2" cy="93.7" r="0.9" fill="#2c1f86" fill-opacity="0.5"/>
<circle cx="445.9" cy="92.8" r="0.6" fill="#2c1f86" fill-opacity="0.8"/>
<circle cx="445.2" cy="95.7" r="0.8" fill="#2c1f86" fill-opacity="0.7"/>
<circle cx="477.7" cy="90.7" r="0.7" fill="#2c1f86" fill-opacity="0.8"/>
<circle cx="440.0" cy="95.9" r="0.5" fill="#2c1f86" fill-opacity="0.6"/>
<circle cx="468.5" cy="83.9" r="0.4" fill="#2c1f86" fill-opacity="0.6"/>
<circle cx="462.8" cy="84.6" r="0.7" fill="#2c1f86" fill-opacity="0.9"/>
<circle cx="468.6" cy="100.3" r="0.5" fill="#2c1f86" fill-opacity="0.6"/>
<circle cx="465.9" cy="95.3" r="0.9" fill="#2c1f86" fill-opacity="0.5"/>
<circle cx="452.0" cy="86.8" r="0.8" fill="#2c1f86" fill-opacity="0.6"/>
<circle cx="452.6" cy="107.8" r="0.7" fill="#2c1f86" fill-opacity="0.5"/>
<circle cx="460.8" cy="105.5" r="0.4" fill="#2c1f86" fill-opacity="0.7"/>
<circle cx="470.7" cy="95.5" r="0.5" fill="#2c1f86" fill-opacity="0.5"/>
<circle cx="453.5" cy="111.5" r="0.6" fill="#2c1f86" fill-opacity="0.8"/>
<circle cx="442.3" cy="102.2" r="0.7" fill="#2c1f86" fill-opacity="0.9"/>
<circle cx="470.9" cy="99.3" r="0.7" fill="#2c1f86" fill-opacity="0.7"/>
<circle cx="467.1" cy="99.4" r="0.5" fill="#2c1f86" fill-opacity="0.7"/>
<circle cx="451.4" cy="112.4" r="0.8" fill="#2c1f86" fill-opacity="0.5"/>
<circle cx="474.4" cy="90.5" r="0.6" fill="#2c1f86" fill-opacity="0.7"/>
<circle cx="442.8" cy="83.9" r="0.6" fill="#2c1f86" fill-opacity="0.6"/>
<circle cx="447.7" cy="110.0" r="0.5" fill="#2c1f86" fill-opacity="0.6"/>
<circle cx="449.3" cy="110.3" r="0.8" fill="#2c1f86" fill-opacity="0.6"/>
<circle cx="465.5" cy="101.3" r="0.7" fill="#2c1f86" fill-opacity="0.7"/>
<circle cx="478.1" cy="90.5" r="0.5" fill="#2c1f86" fill-opacity="0.5"/>
<circle cx="465.2" cy="105.7" r="0.5" fill="#2c1f86" fill-opacity="0.7"/>
<circle cx="454.0" cy="102.7" r="0.7" fill="#2c1f86" fill-opacity="0.7"/>
<circle cx="457.7" cy="90.7" r="0.8" fill="#2c1f86" fill-opacity="0.5"/>
<circle cx="452.4" cy="93.3" r="0.5" fill="#2c1f86" fill-opacity="0.8"/>
<circle cx="462.2" cy="113.5" r="0.8" fill="#2c1f86" fill-opacity="0.6"/>
<circle cx="476.5" cy="86.3" r="0.4" fill="#2c1f86" fill-opacity="0.7"/>
<circle cx="474.1" cy="103.4" r="0.7" fill="#2c1f86" fill-opacity="0.8"/>
<circle cx="459.1" cy="83.6" r="0.7" fill="#2c1f86" fill-opacity="0.8"/>
<circle cx="456.1" cy="82.6" r="0.9" fill="#2c1f86" fill-opacity="0.9"/>
<circle cx="468.4" cy="85.0" r="0.6" fill="#2c1f86" fill-opacity="0.8"/>
<circle cx="454.7" cy="111.6" r="0.9" fill="#2c1f86" fill-opacity="0.9"/>
<circle cx="457.9" cy="93.9" r="0.5" fill="#2c1f86" fill-opacity="0.8"/>
<circle cx="445.6" cy="82.2" r="0.7" fill="#2c1f86" fill-opacity="0.6"/>
<circle cx="439.8" cy="97.6" r="0.9" fill="#2c1f86" fill-opacity="0.9"/>
<circle cx="469.7" cy="99.9" r="0.7" fill="#2c1f86" fill-opacity="0.9"/>
<circle cx="463.1" cy="113.4" r="0.6" fill="#2c1f86" fill-opacity="0.9"/>
<circle cx="444.3" cy="107.5" r="0.4" fill="#2c1f86" fill-opacity="0.6"/>
<circle cx="446.1" cy="105.7" r="0.8" fill="#2c1f86" fill-opacity="0.6"/>
<circle cx="450.0" cy="79.9" r="0.7" fill="#2c1f86" fill-opacity="0.9"/>
<circle cx="459.8" cy="88.4" r="0.8" fill="#2c1f86" fill-opacity="0.9"/>
<circle cx="460.9" cy="101.1" r="0.8" fill="#2c1f86" fill-opacity="0.6"/>
<circle cx="465.5" cy="87.6" r="0.7" fill="#2c1f86" fill-opacity="0.9"/>
<circle cx="468.5" cy="107.1" r="0.6" fill="#2c1f86" fill-opacity="0.8"/>
<circle cx="460.4" cy="75.5" r="0.9" fill="#2c1f86" fill-opacity="0.6"/>
<circle cx="474.1" cy="87.5" r="0.4" fill="#2c1f86" fill-opacity="0.8"/>
<circle cx="474.0" cy="94.1" r="0.6" fill="#2c1f86" fill-opacity="0.8"/>
<circle cx="459.0" cy="96.0" r="0.5" fill="#2c1f86" fill-opacity="0.7"/>
<circle cx="448.4" cy="110.5" r="0.8" fill="#2c1f86" fill-opacity="0.5"/>
<circle cx="461.8" cy="102.2" r="0.7" fill="#2c1f86" fill-opacity="0.8"/>
<circle cx="465.5" cy="98.9" r="0.8" fill="#2c1f86" fill-opacity="0.9"/>
<circle cx="460.5" cy="102.6" r="0.7" fill="#2c1f86" fill-opacity="0.7"/>
<circle cx="458.2" cy="99.2" r="0.8" fill="#2c1f86" fill-opacity="0.7"/>
<circle cx="448.2" cy="93.8" r="0.5" fill="#2c1f86" fill-opacity="0.8"/>
<circle cx="459.0" cy="106.0" r="0.9" fill="#2c1f86" fill-opacity="0.7"/>
<circle cx="455.4" cy="82.8" r="0.6" fill="#2c1f86" fill-opacity="0.7"/>
<circle cx="445.0" cy="103.2" r="0.9" fill="#2c1f86" fill-opacity="0.8"/>
<circle cx="472.2" cy="92.9" r="0.4" fill="#2c1f86" fill-opacity="0.8"/>
<circle cx="468.4" cy="81.7" r="0.5" fill="#2c1f86" fill-opacity="0.7"/>
<circle cx="460.4" cy="76.3" r="0.4" fill="#2c1f86" fill-opacity="0.6"/>
<circle cx="475.0" cy="94.0" r="0.4" fill="#2c1f86" fill-opacity="0.6"/>
<circle cx="472.8" cy="101.1" r="0.4" fill="#2c1f86" fill-opacity="0.7"/>
<circle cx="455.1" cy="112.8" r="0.6" fill="#2c1f86" fill-opacity="0.7"/>
<circle cx="451.6" cy="81.8" r="0.5" fill="#2c1f86" fill-opacity="0.8"/>
<circle cx="470.5" cy="107.7" r="0.4" fill="#2c1f86" fill-opacity="0.7"/>
<circle cx="453.0" cy="97.1" r="0.6" fill="#2c1f86" fill-opacity="0.9"/>
<circle cx="465.6" cy="96.6" r="0.8" fill="#2c1f86" fill-opacity="0.9"/>
<circle cx="452.4" cy="84.7" r="0.7" fill="#2c1f86" fill-opacity="0.9"/>
<circle cx="474.4" cy="93.8" r="0.6" fill="#2c1f86" fill-opacity="0.8"/>
<circle cx="476.0" cy="85.5" r="0.6" fill="#2c1f86" fill-opacity="0.7"/>
<circle cx="472.5" cy="93.6" r="0.9" fill="#2c1f86" fill-opacity="0.8"/>
<circle cx="446.8" cy="81.1" r="0.5" fill="#2c1f86" fill-opacity="0.8"/>
<circle cx="455.1" cy="96.2" r="0.5" fill="#2c1f86" fill-opacity="0.9"/>
<circle cx="463.6" cy="83.0" r="0.5" fill="#2c1f86" fill-opacity="0.6"/>
<circle cx="462.5" cy="114.0" r="0.5" fill="#2c1f86" fill-opacity="0.5"/>
<circle cx="458.4" cy="113.9" r="0.4" fill="#2c1f86" fill-opacity="0.8"/>
<circle cx="465.1" cy="104.1" r="0.8" fill="#2c1f86" fill-opacity="0.9"/>
<circle cx="452.4" cy="113.2" r="0.5" fill="#2c1f86" fill-opacity="0.9"/>
<circle cx="477.0" cy="88.7" r="0.4" fill="#2c1f86" fill-opacity="0.7"/>
<circle cx="452.0" cy="112.0" r="0.8" fill="#2c1f86" fill-opacity="0.6"/>
<circle cx="460.6" cy="94.0" r="0.9" fill="#2c1f86" fill-opacity="0.8"/>
<circle cx="448.4" cy="107.6" r="0.5" fill="#2c1f86" fill-opacity="0.9"/>
<circle cx="443.4" cy="84.2" r="0.4" fill="#2c1f86" fill-opacity="0.6"/>
<circle cx="447.7" cy="85.7" r="0.4" fill="#2c1f86" fill-opacity="0.7"/>
<circle cx="459.1" cy="107.5" r="0.4" fill="#2c1f86" fill-opacity="0.7"/>
<circle cx="458.3" cy="108.4" r="0.5" fill="#2c1f86" fill-opacity="0.8"/>
<circle cx="446.7" cy="97.2" r="0.8" fill="#2c1f86" fill-opacity="0.8"/>
<circle cx="464.6" cy="79.4" r="0.7" fill="#2c1f86" fill-opacity="0.7"/>
<circle cx="466.7" cy="111.6" r="0.4" fill="#2c1f86" fill-opacity="0.6"/>
<circle cx="469.7" cy="101.3" r="0.6" fill="#2c1f86" fill-opacity="0.8"/>
<circle cx="463.1" cy="91.1" r="0.6" fill="#2c1f86" fill-opacity="0.6"/>
<circle cx="455.4" cy="97.6" r="0.8" fill="#2c1f86" fill-opacity="0.7"/>
<circle cx="452.4" cy="95.4" r="0.4" fill="#2c1f86" fill-opacity="0.8"/>
<circle cx="463.4" cy="110.9" r="0.6" fill="#2c1f86" fill-opacity="0.7"/>
<circle cx="459.6" cy="92.2" r="0.8" fill="#2c1f86" fill-opacity="0.7"/>
<circle cx="456.8" cy="110.0" r="0.4" fill="#2c1f86" fill-opacity="0.7"/>
<circle cx="476.9" cy="96.6" r="0.8" fill="#2c1f86" fill-opacity="0.8"/>
<circle cx="448.8" cy="96.7" r="0.6" fill="#2c1f86" fill-opacity="0.8"/>
<circle cx="467.9" cy="105.3" r="0.5" fill="#2c1f86" fill-opacity="0.8"/>
<circle cx="474.9" cy="100.0" r="0.4" fill="#2c1f86" fill-opacity="0.6"/>
<circle cx="472.0" cy="89.0" r="0.6" fill="#2c1f86" fill-opacity="0.8"/>
<circle cx="464.8" cy="110.7" r="0.4" fill="#2c1f86" fill-opacity="0.8"/>
<circle cx="467.4" cy="90.9" r="0.9" fill="#2c1f86" fill-opacity="0.6"/>
<circle cx="456.1" cy="113.7" r="0.8" fill="#2c1f86" fill-opacity="0.6"/>
<circle cx="467.9" cy="87.8" r="0.7" fill="#2c1f86" fill-opacity="0.5"/>
<circle cx="443.7" cy="93.7" r="0.7" fill="#2c1f86" fill-opacity="0.9"/>
<circle cx="472.8" cy="95.3" r="0.5" fill="#2c1f86" fill-opacity="0.9"/>
<circle cx="475.1" cy="96.7" r="0.9" fill="#2c1f86" fill-opacity="0.9"/>
<circle cx="451.4" cy="83.1" r="0.6" fill="#2c1f86" fill-opacity="0.8"/>
<circle cx="474.0" cy="86.8" r="0.9" fill="#2c1f86" fill-opacity="0.6"/>
<circle cx="462.2" cy="85.9" r="0.7" fill="#2c1f86" fill-opacity="0.5"/>
<circle cx="473.0" cy="83.6" r="0.7" fill="#2c1f86" fill-opacity="0.7"/>
<circle cx="470.0" cy="93.9" r="0.6" fill="#2c1f86" fill-opacity="0.7"/>
<circle cx="462.5" cy="84.0" r="0.7" fill="#2c1f86" fill-opacity="0.7"/>
<circle cx="442.4" cy="97.9" r="0.9" fill="#2c1f86" fill-opacity="0.6"/>
<circle cx="442.0" cy="84.9" r="0.9" fill="#2c1f86" fill-opacity="0.8"/>
<circle cx="460.0" cy="77.4" r="0.5" fill="#2c1f86" fill-opacity="0.9"/>
<circle cx="471.5" cy="103.6" r="0.4" fill="#2c1f86" fill-opacity="0.6"/>
<circle cx="441.0" cy="98.3" r="0.4" fill="#2c1f86" fill-opacity="0.5"/>
<circle cx="466.6" cy="100.6" r="0.5" fill="#2c1f86" fill-opacity="0.6"/>
<circle cx="475.6" cy="83.9" r="0.4" fill="#2c1f86" fill-opacity="0.7"/>
<circle cx="455.6" cy="80.4" r="0.6" fill="#2c1f86" fill-opacity="0.6"/>
<circle cx="458.2" cy="76.6" r="0.7" fill="#2c1f86" fill-opacity="0.8"/>
<circle cx="451.6" cy="86.8" r="0.5" fill="#2c1f86" fill-opacity="0.7"/>
<circle cx="453.4" cy="113.8" r="0.4" fill="#2c1f86" fill-opacity="0.8"/>
<circle cx="463.4" cy="113.5" r="0.7" fill="#2c1f86" fill-opacity="0.7"/>
<circle cx="457.0" cy="113.6" r="0.8" fill="#2c1f86" fill-opacity="0.8"/>
<circle cx="453.0" cy="89.8" r="0.5" fill="#2c1f86" fill-opacity="0.7"/>
<circle cx="470.3" cy="98.2" r="0.4" fill="#2c1f86" fill-opacity="0.7"/>
<circle cx="457.2" cy="81.6" r="0.4" fill="#2c1f86" fill-opacity="0.7"/>
<circle cx="468.2" cy="95.4" r="0.7" fill="#2c1f86" fill-opacity="0.9"/>
<circle cx="441.1" cy="88.6" r="0.5" fill="#2c1f86" fill-opacity="0.7"/>
<circle cx="456.8" cy="102.4" r="0.8" fill="#2c1f86" fill-opacity="0.8"/>
<circle cx="461.3" cy="75.5" r="0.9" fill="#2c1f86" fill-opacity="0.6"/>
<circle cx="440.3" cy="92.6" r="0.4" fill="#2c1f86" fill-opacity="0.8"/>
<circle cx="477.8" cy="97.6" r="0.5" fill="#2c1f86" fill-opacity="0.7"/>
<circle cx="448.8" cy="108.1" r="0.8" fill="#2c1f86" fill-opacity="0.9"/>
<circle cx="441.3" cy="90.0" r="0.8" fill="#2c1f86" fill-opacity="0.6"/>
<circle cx="458.7" cy="76.0" r="0.8" fill="#2c1f86" fill-opacity="0.8"/>
<circle cx="461.1" cy="90.8" r="0.8" fill="#2c1f86" fill-opacity="0.7"/>
<circle cx="472.2" cy="80.9" r="0.6" fill="#2c1f86" fill-opacity="0.7"/>
<circle cx="461.2" cy="89.0" r="0.8" fill="#2c1f86" fill-opacity="0.6"/>
<circle cx="444.5" cy="84.8" r="0.5" fill="#2c1f86" fill-opacity="0.6"/>
<circle cx="443.6" cy="103.1" r="0.5" fill="#2c1f86" fill-opacity="0.9"/>
</g>
<clipPath id="clip104"><circle cx="506.3" cy="95.2" r="20.1"/></clipPath>
<circle cx="506.3" cy="95.2" r="20.1" fill="#d0d0ec"/>
<g clip-path="url(#clip104)">
<ellipse cx="506.3" cy="83.2" rx="22.110000000000003" ry="5" fill="#eceaf6" fill-opacity="0.35"/>
<circle cx="524.5" cy="90.5" r="0.3" fill="#6058b8" fill-opacity="0.5"/>
<circle cx="515.8" cy="111.7" r="0.3" fill="#6058b8" fill-opacity="0.6"/>
<circle cx="498.5" cy="109.4" r="0.5" fill="#6058b8" fill-opacity="0.6"/>
<circle cx="497.5" cy="102.4" r="0.4" fill="#6058b8" fill-opacity="0.6"/>
<circle cx="494.7" cy="102.6" r="0.4" fill="#6058b8" fill-opacity="0.4"/>
<circle cx="512.8" cy="108.9" r="0.3" fill="#6058b8" fill-opacity="0.6"/>
<circle cx="489.7" cy="105.1" r="0.3" fill="#6058b8" fill-opacity="0.8"/>
<circle cx="512.0" cy="112.7" r="0.3" fill="#6058b8" fill-opacity="0.6"/>
<circle cx="511.4" cy="81.2" r="0.5" fill="#6058b8" fill-opacity="0.8"/>
<circle cx="512.5" cy="108.3" r="0.3" fill="#6058b8" fill-opacity="0.5"/>
<circle cx="511.2" cy="101.6" r="0.4" fill="#6058b8" fill-opacity="0.3"/>
<circle cx="507.4" cy="96.8" r="0.5" fill="#6058b8" fill-opacity="0.4"/>
<circle cx="520.5" cy="102.1" r="0.4" fill="#6058b8" fill-opacity="0.6"/>
<circle cx="492.3" cy="90.9" r="0.3" fill="#6058b8" fill-opacity="0.7"/>
<circle cx="499.9" cy="77.7" r="0.5" fill="#6058b8" fill-opacity="0.6"/>
<circle cx="489.3" cy="92.8" r="0.3" fill="#6058b8" fill-opacity="0.8"/>
<circle cx="510.7" cy="108.5" r="0.4" fill="#6058b8" fill-opacity="0.3"/>
<circle cx="492.7" cy="87.9" r="0.4" fill="#6058b8" fill-opacity="0.5"/>
<circle cx="488.2" cy="87.4" r="0.5" fill="#6058b8" fill-opacity="0.3"/>
<circle cx="502.2" cy="102.6" r="0.3" fill="#6058b8" fill-opacity="0.4"/>
<circle cx="507.5" cy="105.2" r="0.4" fill="#6058b8" fill-opacity="0.3"/>
<circle cx="507.7" cy="99.7" r="0.4" fill="#6058b8" fill-opacity="0.4"/>
<circle cx="500.9" cy="95.6" r="0.5" fill="#6058b8" fill-opacity="0.6"/>
<circle cx="494.5" cy="104.3" r="0.5" fill="#6058b8" fill-opacity="0.5"/>
<circle cx="498.9" cy="101.0" r="0.3" fill="#6058b8" fill-opacity="0.7"/>
<circle cx="498.3" cy="88.3" r="0.3" fill="#6058b8" fill-opacity="0.5"/>
<circle cx="521.3" cy="96.3" r="0.4" fill="#6058b8" fill-opacity="0.3"/>
<circle cx="495.3" cy="110.6" r="0.3" fill="#6058b8" fill-opacity="0.4"/>
<circle cx="515.2" cy="110.8" r="0.3" fill="#6058b8" fill-opacity="0.6"/>
<circle cx="519.5" cy="107.4" r="0.4" fill="#6058b8" fill-opacity="0.5"/>
<circle cx="515.8" cy="101.6" r="0.3" fill="#6058b8" fill-opacity="0.5"/>
<circle cx="488.5" cy="103.9" r="0.4" fill="#6058b8" fill-opacity="0.8"/>
<circle cx="499.1" cy="88.6" r="0.3" fill="#6058b8" fill-opacity="0.6"/>
<circle cx="518.4" cy="110.4" r="0.3" fill="#6058b8" fill-opacity="0.7"/>
<circle cx="508.0" cy="104.2" r="0.3" fill="#6058b8" fill-opacity="0.7"/>
<circle cx="514.5" cy="79.9" r="0.3" fill="#6058b8" fill-opacity="0.4"/>
<circle cx="525.3" cy="99.1" r="0.3" fill="#6058b8" fill-opacity="0.7"/>
<circle cx="517.0" cy="95.3" r="0.4" fill="#6058b8" fill-opacity="0.4"/>
<circle cx="523.5" cy="103.3" r="0.3" fill="#6058b8" fill-opacity="0.3"/>
<circle cx="500.7" cy="76.0" r="0.3" fill="#6058b8" fill-opacity="0.5"/>
<circle cx="505.4" cy="78.9" r="0.5" fill="#6058b8" fill-opacity="0.6"/>
<circle cx="513.1" cy="94.4" r="0.4" fill="#6058b8" fill-opacity="0.8"/>
<circle cx="493.2" cy="97.7" r="0.5" fill="#6058b8" fill-opacity="0.5"/>
<circle cx="518.9" cy="100.0" r="0.3" fill="#6058b8" fill-opacity="0.6"/>
<circle cx="520.9" cy="84.5" r="0.3" fill="#6058b8" fill-opacity="0.8"/>
<circle cx="516.8" cy="80.4" r="0.4" fill="#6058b8" fill-opacity="0.4"/>
<circle cx="508.7" cy="95.7" r="0.3" fill="#6058b8" fill-opacity="0.6"/>
<circle cx="520.6" cy="90.0" r="0.4" fill="#6058b8" fill-opacity="0.8"/>
<circle cx="503.9" cy="109.2" r="0.5" fill="#6058b8" fill-opacity="0.5"/>
<circle cx="509.8" cy="106.7" r="0.3" fill="#6058b8" fill-opacity="0.7"/>
<circle cx="500.2" cy="103.0" r="0.5" fill="#6058b8" fill-opacity="0.3"/>
<circle cx="490.3" cy="107.2" r="0.3" fill="#6058b8" fill-opacity="0.4"/>
<circle cx="513.0" cy="109.1" r="0.3" fill="#6058b8" fill-opacity="0.7"/>
<circle cx="493.4" cy="109.9" r="0.3" fill="#6058b8" fill-opacity="0.4"/>
<circle cx="510.5" cy="95.9" r="0.3" fill="#6058b8" fill-opacity="0.6"/>
<circle cx="507.1" cy="103.8" r="0.5" fill="#6058b8" fill-opacity="0.6"/>
<circle cx="492.2" cy="95.7" r="0.3" fill="#6058b8" fill-opacity="0.4"/>
<circle cx="503.2" cy="85.6" r="0.5" fill="#6058b8" fill-opacity="0.4"/>
<circle cx="489.0" cy="98.2" r="0.4" fill="#6058b8" fill-opacity="0.7"/>
<circle cx="503.9" cy="103.8" r="0.5" fill="#6058b8" fill-opacity="0.3"/>
<circle cx="515.4" cy="108.0" r="0.4" fill="#6058b8" fill-opacity="0.5"/>
<circle cx="521.3" cy="102.6" r="0.4" fill="#6058b8" fill-opacity="0.8"/>
<circle cx="500.2" cy="111.2" r="0.3" fill="#6058b8" fill-opacity="0.4"/>
<circle cx="510.4" cy="104.8" r="0.4" fill="#6058b8" fill-opacity="0.7"/>
<circle cx="510.0" cy="90.0" r="0.5" fill="#6058b8" fill-opacity="0.5"/>
<circle cx="517.8" cy="106.7" r="0.5" fill="#6058b8" fill-opacity="0.3"/>
<circle cx="515.9" cy="100.9" r="0.3" fill="#6058b8" fill-opacity="0.4"/>
<circle cx="517.5" cy="101.8" r="0.5" fill="#6058b8" fill-opacity="0.6"/>
<circle cx="503.0" cy="114.6" r="0.3" fill="#6058b8" fill-opacity="0.4"/>
<circle cx="508.5" cy="97.4" r="0.5" fill="#6058b8" fill-opacity="0.6"/>
<circle cx="498.2" cy="103.8" r="0.3" fill="#6058b8" fill-opacity="0.3"/>
<circle cx="499.4" cy="77.8" r="0.3" fill="#6058b8" fill-opacity="0.6"/>
<circle cx="505.8" cy="113.7" r="0.5" fill="#6058b8" fill-opacity="0.3"/>
<circle cx="513.2" cy="112.6" r="0.5" fill="#6058b8" fill-opacity="0.7"/>
<circle cx="520.6" cy="101.3" r="0.4" fill="#6058b8" fill-opacity="0.6"/>
<circle cx="488.3" cy="86.8" r="0.3" fill="#6058b8" fill-opacity="0.4"/>
<circle cx="519.0" cy="84.8" r="0.5" fill="#6058b8" fill-opacity="0.6"/>
<circle cx="517.4" cy="80.8" r="0.4" fill="#6058b8" fill-opacity="0.6"/>
<circle cx="508.5" cy="85.1" r="0.4" fill="#6058b8" fill-opacity="0.5"/>
<circle cx="488.7" cy="103.0" r="0.3" fill="#6058b8" fill-opacity="0.3"/>
<circle cx="499.7" cy="95.3" r="0.5" fill="#6058b8" fill-opacity="0.8"/>
<circle cx="498.9" cy="104.5" r="0.4" fill="#6058b8" fill-opacity="0.7"/>
<circle cx="490.0" cy="98.6" r="0.4" fill="#6058b8" fill-opacity="0.5"/>
<circle cx="495.1" cy="109.9" r="0.4" fill="#6058b8" fill-opacity="0.6"/>
<circle cx="506.2" cy="107.3" r="0.3" fill="#6058b8" fill-opacity="0.4"/>
<circle cx="514.3" cy="100.3" r="0.4" fill="#6058b8" fill-opacity="0.6"/>
<circle cx="495.7" cy="110.1" r="0.3" fill="#6058b8" fill-opacity="0.4"/>
<circle cx="499.1" cy="97.8" r="0.3" fill="#6058b8" fill-opacity="0.4"/>
<circle cx="517.1" cy="109.4" r="0.3" fill="#6058b8" fill-opacity="0.6"/>
<circle cx="490.7" cy="90.3" r="0.4" fill="#6058b8" fill-opacity="0.4"/>
<circle cx="523.1" cy="92.0" r="0.4" fill="#6058b8" fill-opacity="0.4"/>
<circle cx="491.7" cy="100.6" r="0.3" fill="#6058b8" fill-opacity="0.7"/>
<circle cx="491.0" cy="96.2" r="0.5" fill="#6058b8" fill-opacity="0.5"/>
<circle cx="498.1" cy="108.3" r="0.3" fill="#6058b8" fill-opacity="0.4"/>
<circle cx="511.4" cy="114.4" r="0.4" fill="#6058b8" fill-opacity="0.7"/>
<circle cx="521.3" cy="90.3" r="0.4" fill="#6058b8" fill-opacity="0.8"/>
<circle cx="508.9" cy="113.8" r="0.4" fill="#6058b8" fill-opacity="0.7"/>
<circle cx="520.3" cy="94.5" r="0.4" fill="#6058b8" fill-opacity="0.6"/>
<circle cx="507.6" cy="91.8" r="0.3" fill="#6058b8" fill-opacity="0.5"/>
<circle cx="499.4" cy="92.0" r="0.4" fill="#6058b8" fill-opacity="0.7"/>
<circle cx="488.0" cy="97.5" r="0.4" fill="#6058b8" fill-opacity="0.6"/>
<circle cx="500.7" cy="86.7" r="0.3" fill="#6058b8" fill-opacity="0.4"/>
<circle cx="514.5" cy="109.1" r="0.3" fill="#6058b8" fill-opacity="0.6"/>
<circle cx="490.9" cy="100.8" r="0.4" fill="#6058b8" fill-opacity="0.8"/>
<circle cx="506.0" cy="115.0" r="0.4" fill="#6058b8" fill-opacity="0.5"/>
<circle cx="515.6" cy="99.1" r="0.4" fill="#6058b8" fill-opacity="0.3"/>
<circle cx="500.2" cy="104.0" r="0.3" fill="#6058b8" fill-opacity="0.6"/>
<circle cx="505.1" cy="99.4" r="0.3" fill="#6058b8" fill-opacity="0.8"/>
<circle cx="506.4" cy="82.8" r="0.5" fill="#6058b8" fill-opacity="0.5"/>
<circle cx="498.9" cy="97.5" r="0.4" fill="#6058b8" fill-opacity="0.5"/>
<circle cx="495.4" cy="92.6" r="0.4" fill="#6058b8" fill-opacity="0.8"/>
<circle cx="499.7" cy="101.0" r="0.3" fill="#6058b8" fill-opacity="0.4"/>
<circle cx="509.8" cy="89.8" r="0.4" fill="#6058b8" fill-opacity="0.7"/>
<circle cx="497.0" cy="97.5" r="0.3" fill="#6058b8" fill-opacity="0.8"/>
<circle cx="498.0" cy="105.3" r="0.5" fill="#6058b8" fill-opacity="0.4"/>
<circle cx="503.3" cy="110.0" r="0.3" fill="#6058b8" fill-opacity="0.8"/>
<circle cx="505.1" cy="95.6" r="0.3" fill="#6058b8" fill-opacity="0.4"/>
<circle cx="506.1" cy="95.3" r="0.5" fill="#6058b8" fill-opacity="0.5"/>
<circle cx="499.9" cy="113.2" r="0.3" fill="#6058b8" fill-opacity="0.6"/>
<circle cx="504.5" cy="106.2" r="0.3" fill="#6058b8" fill-opacity="0.8"/>
<circle cx="500.0" cy="110.8" r="0.4" fill="#6058b8" fill-opacity="0.8"/>
<circle cx="493.1" cy="99.8" r="0.5" fill="#6058b8" fill-opacity="0.6"/>
<circle cx="507.5" cy="107.2" r="0.5" fill="#6058b8" fill-opacity="0.5"/>
<circle cx="492.2" cy="84.6" r="0.4" fill="#6058b8" fill-opacity="0.7"/>
<circle cx="492.4" cy="105.6" r="0.3" fill="#6058b8" fill-opacity="0.7"/>
<circle cx="505.6" cy="103.1" r="0.4" fill="#6058b8" fill-opacity="0.5"/>
<circle cx="489.6" cy="98.5" r="0.4" fill="#6058b8" fill-opacity="0.8"/>
<circle cx="512.9" cy="92.3" r="0.5" fill="#6058b8" fill-opacity="0.4"/>
<circle cx="493.4" cy="102.8" r="0.5" fill="#6058b8" fill-opacity="0.4"/>
<circle cx="500.7" cy="113.1" r="0.3" fill="#6058b8" fill-opacity="0.8"/>
<circle cx="486.9" cy="100.2" r="0.3" fill="#6058b8" fill-opacity="0.5"/>
<circle cx="507.8" cy="77.2" r="0.3" fill="#6058b8" fill-opacity="0.6"/>
<circle cx="504.6" cy="78.0" r="0.4" fill="#6058b8" fill-opacity="0.6"/>
<circle cx="502.2" cy="79.4" r="0.4" fill="#6058b8" fill-opacity="0.6"/>
<circle cx="503.0" cy="106.6" r="0.3" fill="#6058b8" fill-opacity="0.7"/>
<circle cx="500.1" cy="108.5" r="0.3" fill="#6058b8" fill-opacity="0.5"/>
<circle cx="507.0" cy="79.2" r="0.4" fill="#6058b8" fill-opacity="0.8"/>
<circle cx="520.7" cy="90.0" r="0.4" fill="#6058b8" fill-opacity="0.7"/>
<circle cx="500.7" cy="103.2" r="0.4" fill="#6058b8" fill-opacity="0.5"/>
<circle cx="494.0" cy="93.0" r="0.5" fill="#6058b8" fill-opacity="0.6"/>
<circle cx="501.0" cy="105.7" r="0.4" fill="#6058b8" fill-opacity="0.3"/>
<circle cx="524.0" cy="104.5" r="0.3" fill="#6058b8" fill-opacity="0.4"/>
<circle cx="500.4" cy="82.5" r="0.3" fill="#6058b8" fill-opacity="0.3"/>
<circle cx="494.6" cy="108.7" r="0.3" fill="#6058b8" fill-opacity="0.5"/>
<circle cx="512.2" cy="100.4" r="0.3" fill="#6058b8" fill-opacity="0.5"/>
<circle cx="515.6" cy="93.9" r="0.4" fill="#6058b8" fill-opacity="0.5"/>
<circle cx="508.3" cy="87.9" r="0.3" fill="#6058b8" fill-opacity="0.5"/>
<circle cx="515.6" cy="98.3" r="0.3" fill="#6058b8" fill-opacity="0.6"/>
<circle cx="501.4" cy="114.5" r="0.4" fill="#6058b8" fill-opacity="0.4"/>
<circle cx="509.3" cy="92.7" r="0.3" fill="#6058b8" fill-opacity="0.4"/>
<circle cx="491.1" cy="89.9" r="0.3" fill="#6058b8" fill-opacity="0.7"/>
<circle cx="495.3" cy="103.3" r="0.3" fill="#6058b8" fill-opacity="0.5"/>
<circle cx="499.6" cy="111.7" r="0.4" fill="#6058b8" fill-opacity="0.7"/>
<circle cx="504.9" cy="104.3" r="0.4" fill="#6058b8" fill-opacity="0.3"/>
<circle cx="515.9" cy="103.4" r="0.5" fill="#6058b8" fill-opacity="0.7"/>
<circle cx="506.6" cy="97.2" r="0.3" fill="#6058b8" fill-opacity="0.3"/>
<circle cx="517.3" cy="85.9" r="0.3" fill="#6058b8" fill-opacity="0.3"/>
<circle cx="507.1" cy="106.5" r="0.4" fill="#6058b8" fill-opacity="0.6"/>
<circle cx="514.2" cy="113.5" r="0.3" fill="#6058b8" fill-opacity="0.7"/>
<circle cx="496.7" cy="107.3" r="0.3" fill="#6058b8" fill-opacity="0.7"/>
<circle cx="494.5" cy="108.7" r="0.5" fill="#6058b8" fill-opacity="0.4"/>
<circle cx="519.7" cy="101.4" r="0.3" fill="#6058b8" fill-opacity="0.4"/>
<circle cx="498.0" cy="100.2" r="0.3" fill="#6058b8" fill-opacity="0.4"/>
<circle cx="489.5" cy="95.0" r="0.4" fill="#6058b8" fill-opacity="0.3"/>
<circle cx="517.6" cy="83.8" r="0.5" fill="#6058b8" fill-opacity="0.3"/>
<circle cx="499.5" cy="84.8" r="0.3" fill="#6058b8" fill-opacity="0.3"/>
<circle cx="492.5" cy="94.8" r="0.3" fill="#6058b8" fill-opacity="0.6"/>
<circle cx="493.6" cy="90.6" r="0.4" fill="#6058b8" fill-opacity="0.6"/>
<circle cx="502.2" cy="100.7" r="0.3" fill="#6058b8" fill-opacity="0.6"/>
<circle cx="494.0" cy="98.6" r="0.4" fill="#6058b8" fill-opacity="0.5"/>
<circle cx="500.2" cy="107.4" r="0.5" fill="#6058b8" fill-opacity="0.5"/>
<circle cx="516.2" cy="108.4" r="0.5" fill="#6058b8" fill-opacity="0.7"/>
<circle cx="491.3" cy="84.9" r="0.4" fill="#6058b8" fill-opacity="0.3"/>
<circle cx="494.1" cy="102.7" r="0.3" fill="#6058b8" fill-opacity="0.5"/>
<circle cx="519.3" cy="103.9" r="0.3" fill="#6058b8" fill-opacity="0.4"/>
<circle cx="495.3" cy="111.0" r="0.4" fill="#6058b8" fill-opacity="0.7"/>
<circle cx="510.6" cy="105.1" r="0.3" fill="#6058b8" fill-opacity="0.5"/>
<circle cx="496.4" cy="84.1" r="0.3" fill="#6058b8" fill-opacity="0.5"/>
<circle cx="519.7" cy="85.5" r="0.3" fill="#6058b8" fill-opacity="0.5"/>
<circle cx="502.6" cy="113.6" r="0.3" fill="#6058b8" fill-opacity="0.6"/>
<circle cx="496.2" cy="78.9" r="0.3" fill="#6058b8" fill-opacity="0.6"/>
<circle cx="499.3" cy="109.4" r="0.4" fill="#6058b8" fill-opacity="0.8"/>
<circle cx="519.3" cy="109.7" r="0.4" fill="#6058b8" fill-opacity="0.8"/>
<circle cx="506.3" cy="104.6" r="0.4" fill="#6058b8" fill-opacity="0.6"/>
<circle cx="518.2" cy="105.9" r="0.4" fill="#6058b8" fill-opacity="0.7"/>
<circle cx="512.3" cy="103.3" r="0.4" fill="#6058b8" fill-opacity="0.3"/>
<circle cx="509.7" cy="101.4" r="0.5" fill="#6058b8" fill-opacity="0.8"/>
<circle cx="499.8" cy="78.2" r="0.3" fill="#6058b8" fill-opacity="0.7"/>
<circle cx="488.1" cy="94.9" r="0.3" fill="#6058b8" fill-opacity="0.7"/>
<circle cx="488.2" cy="92.5" r="0.4" fill="#6058b8" fill-opacity="0.3"/>
<circle cx="504.9" cy="105.0" r="0.4" fill="#6058b8" fill-opacity="0.4"/>
<circle cx="497.3" cy="100.4" r="0.5" fill="#6058b8" fill-opacity="0.7"/>
<circle cx="508.3" cy="95.2" r="0.4" fill="#6058b8" fill-opacity="0.6"/>
<circle cx="503.8" cy="82.5" r="0.3" fill="#6058b8" fill-opacity="0.3"/>
<circle cx="498.1" cy="99.3" r="0.5" fill="#6058b8" fill-opacity="0.7"/>
<circle cx="507.8" cy="101.6" r="0.3" fill="#6058b8" fill-opacity="0.3"/>
<circle cx="505.1" cy="100.2" r="0.5" fill="#6058b8" fill-opacity="0.4"/>
<circle cx="507.1" cy="86.5" r="0.4" fill="#6058b8" fill-opacity="0.6"/>
<circle cx="515.9" cy="79.6" r="0.4" fill="#6058b8" fill-opacity="0.8"/>
<circle cx="506.8" cy="102.3" r="0.4" fill="#6058b8" fill-opacity="0.5"/>
<circle cx="492.9" cy="86.3" r="0.3" fill="#6058b8" fill-opacity="0.5"/>
<circle cx="505.8" cy="88.5" r="0.3" fill="#6058b8" fill-opacity="0.7"/>
<circle cx="498.7" cy="113.6" r="0.3" fill="#6058b8" fill-opacity="0.7"/>
<circle cx="511.2" cy="91.0" r="0.3" fill="#6058b8" fill-opacity="0.6"/>
<circle cx="498.2" cy="92.9" r="0.3" fill="#6058b8" fill-opacity="0.4"/>
<circle cx="520.2" cy="103.9" r="0.5" fill="#6058b8" fill-opacity="0.7"/>
<circle cx="491.6" cy="101.1" r="0.5" fill="#6058b8" fill-opacity="0.6"/>
<circle cx="516.0" cy="83.7" r="0.4" fill="#6058b8" fill-opacity="0.5"/>
<circle cx="498.2" cy="105.3" r="0.4" fill="#6058b8" fill-opacity="0.8"/>
<circle cx="497.4" cy="99.7" r="0.5" fill="#6058b8" fill-opacity="0.3"/>
<circle cx="487.8" cy="98.3" r="0.5" fill="#6058b8" fill-opacity="0.3"/>
<circle cx="506.2" cy="108.9" r="0.3" fill="#6058b8" fill-opacity="0.5"/>
<circle cx="499.1" cy="91.1" r="0.3" fill="#6058b8" fill-opacity="0.7"/>
<circle cx="500.4" cy="113.3" r="0.3" fill="#6058b8" fill-opacity="0.5"/>
<circle cx="489.0" cy="104.9" r="0.5" fill="#6058b8" fill-opacity="0.5"/>
<circle cx="494.5" cy="104.3" r="0.3" fill="#6058b8" fill-opacity="0.7"/>
<circle cx="511.9" cy="98.2" r="0.4" fill="#6058b8" fill-opacity="0.4"/>
<circle cx="520.9" cy="94.9" r="0.4" fill="#6058b8" fill-opacity="0.7"/>
<circle cx="496.0" cy="109.7" r="0.4" fill="#6058b8" fill-opacity="0.8"/>
<circle cx="524.4" cy="96.7" r="0.3" fill="#6058b8" fill-opacity="0.7"/>
<circle cx="518.7" cy="95.1" r="0.4" fill="#6058b8" fill-opacity="0.5"/>
<circle cx="504.7" cy="99.7" r="0.5" fill="#6058b8" fill-opacity="0.3"/>
<circle cx="492.8" cy="85.5" r="0.5" fill="#6058b8" fill-opacity="0.5"/>
<circle cx="512.5" cy="82.8" r="0.5" fill="#6058b8" fill-opacity="0.4"/>
<circle cx="519.9" cy="83.9" r="0.4" fill="#6058b8" fill-opacity="0.7"/>
<circle cx="490.5" cy="95.7" r="0.4" fill="#6058b8" fill-opacity="0.6"/>
<circle cx="503.4" cy="102.7" r="0.3" fill="#6058b8" fill-opacity="0.4"/>
<circle cx="502.3" cy="109.4" r="0.4" fill="#6058b8" fill-opacity="0.6"/>
<circle cx="523.9" cy="102.3" r="0.4" fill="#6058b8" fill-opacity="0.5"/>
<circle cx="488.0" cy="93.2" r="0.4" fill="#6058b8" fill-opacity="0.7"/>
<circle cx="492.3" cy="97.7" r="0.3" fill="#6058b8" fill-opacity="0.6"/>
<circle cx="516.6" cy="96.5" r="0.4" fill="#6058b8" fill-opacity="0.4"/>
<circle cx="493.8" cy="95.6" r="0.3" fill="#6058b8" fill-opacity="0.8"/>
<circle cx="499.3" cy="82.4" r="0.4" fill="#6058b8" fill-opacity="0.8"/>
<circle cx="521.9" cy="99.1" r="0.3" fill="#6058b8" fill-opacity="0.4"/>
<circle cx="504.7" cy="100.7" r="0.5" fill="#6058b8" fill-opacity="0.6"/>
<circle cx="493.3" cy="91.8" r="0.5" fill="#6058b8" fill-opacity="0.6"/>
<circle cx="506.4" cy="114.9" r="0.4" fill="#6058b8" fill-opacity="0.6"/>
<circle cx="498.2" cy="86.4" r="0.3" fill="#6058b8" fill-opacity="0.4"/>
<circle cx="514.0" cy="101.3" r="0.5" fill="#6058b8" fill-opacity="0.7"/>
<circle cx="516.1" cy="96.8" r="0.5" fill="#6058b8" fill-opacity="0.5"/>
<circle cx="511.9" cy="100.9" r="0.5" fill="#6058b8" fill-opacity="0.6"/>
<circle cx="489.2" cy="103.2" r="0.3" fill="#6058b8" fill-opacity="0.4"/>
<circle cx="495.5" cy="81.3" r="0.5" fill="#6058b8" fill-opacity="0.8"/>
<circle cx="503.6" cy="84.0" r="0.4" fill="#6058b8" fill-opacity="0.6"/>
<circle cx="500.7" cy="78.6" r="0.4" fill="#6058b8" fill-opacity="0.8"/>
<circle cx="493.2" cy="104.4" r="0.4" fill="#6058b8" fill-opacity="0.3"/>
<circle cx="505.6" cy="110.8" r="0.4" fill="#6058b8" fill-opacity="0.4"/>
<circle cx="516.8" cy="80.0" r="0.4" fill="#6058b8" fill-opacity="0.7"/>
<circle cx="495.9" cy="90.5" r="0.4" fill="#6058b8" fill-opacity="0.4"/>
<circle cx="508.6" cy="97.8" r="0.3" fill="#6058b8" fill-opacity="0.6"/>
<circle cx="504.6" cy="101.7" r="0.4" fill="#6058b8" fill-opacity="0.3"/>
<circle cx="496.7" cy="112.1" r="0.4" fill="#6058b8" fill-opacity="0.5"/>
<circle cx="513.6" cy="111.7" r="0.3" fill="#6058b8" fill-opacity="0.7"/>
<circle cx="492.8" cy="104.9" r="0.4" fill="#6058b8" fill-opacity="0.6"/>
<circle cx="504.9" cy="106.5" r="0.4" fill="#6058b8" fill-opacity="0.6"/>
<circle cx="504.1" cy="78.9" r="0.4" fill="#6058b8" fill-opacity="0.4"/>
<circle cx="517.6" cy="85.3" r="0.3" fill="#6058b8" fill-opacity="0.8"/>
<circle cx="525.2" cy="95.3" r="0.4" fill="#6058b8" fill-opacity="0.4"/>
<circle cx="494.7" cy="92.8" r="0.5" fill="#6058b8" fill-opacity="0.7"/>
<circle cx="510.3" cy="111.8" r="0.4" fill="#6058b8" fill-opacity="0.4"/>
<circle cx="513.5" cy="96.7" r="0.5" fill="#6058b8" fill-opacity="0.6"/>
<circle cx="514.0" cy="109.0" r="0.5" fill="#6058b8" fill-opacity="0.6"/>
<circle cx="503.8" cy="96.0" r="0.4" fill="#6058b8" fill-opacity="0.3"/>
<circle cx="520.9" cy="106.1" r="0.4" fill="#6058b8" fill-opacity="0.5"/>
<circle cx="498.5" cy="93.9" r="0.4" fill="#6058b8" fill-opacity="0.7"/>
<circle cx="492.4" cy="98.8" r="0.5" fill="#6058b8" fill-opacity="0.4"/>
<circle cx="508.4" cy="111.0" r="0.4" fill="#6058b8" fill-opacity="0.4"/>
<circle cx="493.4" cy="99.3" r="0.4" fill="#6058b8" fill-opacity="0.4"/>
<circle cx="503.6" cy="101.4" r="0.4" fill="#6058b8" fill-opacity="0.4"/>
<circle cx="494.2" cy="94.4" r="0.4" fill="#6058b8" fill-opacity="0.6"/>
<circle cx="508.9" cy="107.5" r="0.3" fill="#6058b8" fill-opacity="0.6"/>
<circle cx="490.4" cy="95.9" r="0.4" fill="#6058b8" fill-opacity="0.4"/>
<circle cx="503.0" cy="104.4" r="0.5" fill="#6058b8" fill-opacity="0.5"/>
<circle cx="493.3" cy="100.6" r="0.4" fill="#6058b8" fill-opacity="0.8"/>
<circle cx="499.8" cy="113.2" r="0.5" fill="#6058b8" fill-opacity="0.7"/>
<circle cx="491.4" cy="84.7" r="0.5" fill="#6058b8" fill-opacity="0.7"/>
<circle cx="512.4" cy="88.0" r="0.4" fill="#6058b8" fill-opacity="0.6"/>
<circle cx="503.6" cy="106.3" r="0.3" fill="#6058b8" fill-opacity="0.4"/>
<circle cx="494.5" cy="111.5" r="0.3" fill="#6058b8" fill-opacity="0.6"/>
<circle cx="508.5" cy="84.9" r="0.4" fill="#6058b8" fill-opacity="0.6"/>
<circle cx="507.0" cy="92.5" r="0.4" fill="#6058b8" fill-opacity="0.4"/>
<circle cx="498.1" cy="95.5" r="0.5" fill="#6058b8" fill-opacity="0.6"/>
<circle cx="511.0" cy="75.9" r="0.4" fill="#6058b8" fill-opacity="0.4"/>
<circle cx="522.6" cy="95.2" r="0.3" fill="#6058b8" fill-opacity="0.7"/>
<circle cx="496.8" cy="110.1" r="0.4" fill="#6058b8" fill-opacity="0.7"/>
<circle cx="514.8" cy="99.0" r="0.5" fill="#6058b8" fill-opacity="0.6"/>
<circle cx="495.5" cy="109.9" r="0.4" fill="#6058b8" fill-opacity="0.8"/>
<circle cx="524.5" cy="98.3" r="0.3" fill="#6058b8" fill-opacity="0.6"/>
<circle cx="511.6" cy="98.2" r="0.5" fill="#6058b8" fill-opacity="0.6"/>
<circle cx="494.7" cy="110.7" r="0.4" fill="#6058b8" fill-opacity="0.7"/>
<circle cx="496.3" cy="111.5" r="0.4" fill="#6058b8" fill-opacity="0.7"/>
<circle cx="507.6" cy="105.1" r="0.4" fill="#6058b8" fill-opacity="0.6"/>
<circle cx="511.3" cy="91.9" r="0.3" fill="#6058b8" fill-opacity="0.5"/>
<circle cx="506.3" cy="96.4" r="0.4" fill="#6058b8" fill-opacity="0.4"/>
<circle cx="500.2" cy="92.8" r="0.5" fill="#6058b8" fill-opacity="0.7"/>
<circle cx="494.0" cy="81.3" r="0.5" fill="#6058b8" fill-opacity="0.3"/>
<circle cx="521.5" cy="105.1" r="0.4" fill="#6058b8" fill-opacity="0.8"/>
<circle cx="503.7" cy="107.7" r="0.4" fill="#6058b8" fill-opacity="0.7"/>
<circle cx="511.7" cy="103.4" r="0.3" fill="#6058b8" fill-opacity="0.5"/>
<circle cx="499.4" cy="93.9" r="0.3" fill="#6058b8" fill-opacity="0.8"/>
<circle cx="522.5" cy="93.0" r="0.5" fill="#6058b8" fill-opacity="0.5"/>
<circle cx="496.9" cy="88.0" r="0.5" fill="#6058b8" fill-opacity="0.4"/>
<circle cx="517.9" cy="110.0" r="0.3" fill="#6058b8" fill-opacity="0.6"/>
<circle cx="512.8" cy="89.2" r="0.3" fill="#6058b8" fill-opacity="0.6"/>
<circle cx="518.3" cy="103.5" r="0.5" fill="#6058b8" fill-opacity="0.3"/>
<circle cx="491.4" cy="100.6" r="0.3" fill="#6058b8" fill-opacity="0.4"/>
<circle cx="513.8" cy="77.4" r="0.3" fill="#6058b8" fill-opacity="0.5"/>
<circle cx="508.3" cy="97.9" r="0.3" fill="#6058b8" fill-opacity="0.6"/>
<circle cx="512.3" cy="78.7" r="0.3" fill="#6058b8" fill-opacity="0.5"/>
<circle cx="496.7" cy="103.9" r="0.3" fill="#6058b8" fill-opacity="0.6"/>
<circle cx="516.3" cy="101.6" r="0.4" fill="#6058b8" fill-opacity="0.8"/>
<circle cx="521.5" cy="85.8" r="0.5" fill="#6058b8" fill-opacity="0.4"/>
<circle cx="510.7" cy="113.1" r="0.3" fill="#6058b8" fill-opacity="0.7"/>
<circle cx="520.7" cy="101.1" r="0.3" fill="#6058b8" fill-opacity="0.3"/>
<circle cx="514.9" cy="105.6" r="0.3" fill="#6058b8" fill-opacity="0.6"/>
<circle cx="511.8" cy="104.2" r="0.4" fill="#6058b8" fill-opacity="0.8"/>
<circle cx="496.5" cy="101.4" r="0.4" fill="#6058b8" fill-opacity="0.7"/>
<circle cx="494.1" cy="104.3" r="0.4" fill="#6058b8" fill-opacity="0.4"/>
<circle cx="513.2" cy="76.9" r="0.3" fill="#6058b8" fill-opacity="0.4"/>
<circle cx="491.5" cy="100.0" r="0.7" fill="#2c1f86" fill-opacity="0.6"/>
<circle cx="502.4" cy="106.9" r="0.6" fill="#2c1f86" fill-opacity="0.6"/>
<circle cx="504.8" cy="104.9" r="0.7" fill="#2c1f86" fill-opacity="0.9"/>
<circle cx="488.9" cy="103.2" r="0.6" fill="#2c1f86" fill-opacity="0.7"/>
<circle cx="499.6" cy="84.5" r="0.5" fill="#2c1f86" fill-opacity="0.5"/>
<circle cx="518.2" cy="108.9" r="0.6" fill="#2c1f86" fill-opacity="0.7"/>
<circle cx="491.9" cy="101.7" r="0.5" fill="#2c1f86" fill-opacity="0.9"/>
<circle cx="508.3" cy="99.2" r="0.5" fill="#2c1f86" fill-opacity="0.8"/>
<circle cx="505.7" cy="113.8" r="0.6" fill="#2c1f86" fill-opacity="0.9"/>
<circle cx="497.0" cy="98.6" r="0.8" fill="#2c1f86" fill-opacity="0.9"/>
<circle cx="514.2" cy="78.5" r="0.4" fill="#2c1f86" fill-opacity="0.8"/>
<circle cx="513.6" cy="112.7" r="0.7" fill="#2c1f86" fill-opacity="0.6"/>
<circle cx="504.5" cy="90.1" r="0.4" fill="#2c1f86" fill-opacity="0.9"/>
<circle cx="511.5" cy="109.0" r="0.9" fill="#2c1f86" fill-opacity="0.5"/>
<circle cx="510.8" cy="81.9" r="0.5" fill="#2c1f86" fill-opacity="0.6"/>
<circle cx="502.4" cy="113.6" r="0.8" fill="#2c1f86" fill-opacity="0.8"/>
<circle cx="501.4" cy="85.2" r="0.8" fill="#2c1f86" fill-opacity="0.6"/>
<circle cx="505.7" cy="109.5" r="0.7" fill="#2c1f86" fill-opacity="0.7"/>
<circle cx="511.3" cy="110.5" r="0.5" fill="#2c1f86" fill-opacity="0.9"/>
<circle cx="518.7" cy="82.1" r="0.5" fill="#2c1f86" fill-opacity="0.7"/>
<circle cx="505.8" cy="92.5" r="0.4" fill="#2c1f86" fill-opacity="0.7"/>
<circle cx="508.4" cy="97.2" r="0.5" fill="#2c1f86" fill-opacity="0.8"/>
<circle cx="491.7" cy="98.4" r="0.6" fill="#2c1f86" fill-opacity="0.9"/>
<circle cx="507.5" cy="91.6" r="0.8" fill="#2c1f86" fill-opacity="0.8"/>
<circle cx="502.0" cy="100.5" r="0.8" fill="#2c1f86" fill-opacity="0.6"/>
<circle cx="525.1" cy="95.5" r="0.5" fill="#2c1f86" fill-opacity="0.5"/>
<circle cx="511.3" cy="103.7" r="0.9" fill="#2c1f86" fill-opacity="0.7"/>
<circle cx="498.6" cy="89.2" r="0.8" fill="#2c1f86" fill-opacity="0.6"/>
<circle cx="517.0" cy="82.9" r="0.5" fill="#2c1f86" fill-opacity="0.9"/>
<circle cx="491.6" cy="97.2" r="0.9" fill="#2c1f86" fill-opacity="0.9"/>
<circle cx="497.9" cy="81.3" r="0.8" fill="#2c1f86" fill-opacity="0.6"/>
<circle cx="494.2" cy="87.2" r="0.5" fill="#2c1f86" fill-opacity="0.6"/>
<circle cx="514.0" cy="81.9" r="0.5" fill="#2c1f86" fill-opacity="0.9"/>
<circle cx="515.5" cy="110.7" r="0.8" fill="#2c1f86" fill-opacity="0.9"/>
<circle cx="510.7" cy="97.3" r="0.8" fill="#2c1f86" fill-opacity="0.9"/>
<circle cx="512.5" cy="98.9" r="0.7" fill="#2c1f86" fill-opacity="0.7"/>
<circle cx="502.5" cy="103.5" r="0.7" fill="#2c1f86" fill-opacity="0.9"/>
<circle cx="512.6" cy="88.4" r="0.9" fill="#2c1f86" fill-opacity="0.7"/>
<circle cx="491.6" cy="98.1" r="0.7" fill="#2c1f86" fill-opacity="0.5"/>
<circle cx="523.6" cy="98.1" r="0.8" fill="#2c1f86" fill-opacity="0.6"/>
<circle cx="515.7" cy="99.1" r="0.4" fill="#2c1f86" fill-opacity="0.9"/>
<circle cx="499.6" cy="85.6" r="0.4" fill="#2c1f86" fill-opacity="0.8"/>
<circle cx="519.3" cy="83.1" r="0.7" fill="#2c1f86" fill-opacity="0.6"/>
<circle cx="506.5" cy="87.5" r="0.7" fill="#2c1f86" fill-opacity="0.9"/>
<circle cx="494.3" cy="109.1" r="0.9" fill="#2c1f86" fill-opacity="0.8"/>
<circle cx="515.0" cy="96.9" r="0.7" fill="#2c1f86" fill-opacity="0.7"/>
<circle cx="499.6" cy="76.7" r="0.5" fill="#2c1f86" fill-opacity="0.5"/>
<circle cx="499.6" cy="91.2" r="0.5" fill="#2c1f86" fill-opacity="0.6"/>
<circle cx="514.9" cy="100.0" r="0.4" fill="#2c1f86" fill-opacity="0.9"/>
<circle cx="502.3" cy="104.1" r="0.8" fill="#2c1f86" fill-opacity="0.6"/>
<circle cx="495.6" cy="90.7" r="0.6" fill="#2c1f86" fill-opacity="0.9"/>
<circle cx="517.1" cy="89.2" r="0.4" fill="#2c1f86" fill-opacity="0.9"/>
<circle cx="513.1" cy="113.4" r="0.8" fill="#2c1f86" fill-opacity="0.9"/>
<circle cx="490.0" cy="88.6" r="0.6" fill="#2c1f86" fill-opacity="0.8"/>
<circle cx="521.3" cy="105.2" r="0.5" fill="#2c1f86" fill-opacity="0.9"/>
<circle cx="495.5" cy="103.7" r="0.5" fill="#2c1f86" fill-opacity="0.7"/>
<circle cx="518.4" cy="106.2" r="0.7" fill="#2c1f86" fill-opacity="0.9"/>
<circle cx="515.8" cy="97.5" r="0.7" fill="#2c1f86" fill-opacity="0.9"/>
<circle cx="507.4" cy="113.9" r="0.4" fill="#2c1f86" fill-opacity="0.6"/>
<circle cx="492.7" cy="105.7" r="0.8" fill="#2c1f86" fill-opacity="0.8"/>
<circle cx="524.3" cy="95.9" r="0.4" fill="#2c1f86" fill-opacity="0.5"/>
<circle cx="515.6" cy="98.7" r="0.6" fill="#2c1f86" fill-opacity="0.9"/>
<circle cx="512.9" cy="98.2" r="0.6" fill="#2c1f86" fill-opacity="0.8"/>
<circle cx="520.6" cy="106.3" r="0.4" fill="#2c1f86" fill-opacity="0.8"/>
<circle cx="491.6" cy="84.0" r="0.5" fill="#2c1f86" fill-opacity="0.8"/>
<circle cx="512.0" cy="109.4" r="0.8" fill="#2c1f86" fill-opacity="0.5"/>
<circle cx="516.1" cy="106.4" r="0.7" fill="#2c1f86" fill-opacity="0.5"/>
<circle cx="499.9" cy="78.4" r="0.5" fill="#2c1f86" fill-opacity="0.9"/>
<circle cx="524.8" cy="94.2" r="0.4" fill="#2c1f86" fill-opacity="0.7"/>
<circle cx="519.3" cy="107.5" r="0.5" fill="#2c1f86" fill-opacity="0.6"/>
<circle cx="505.2" cy="79.5" r="0.9" fill="#2c1f86" fill-opacity="0.9"/>
<circle cx="503.5" cy="110.8" r="0.5" fill="#2c1f86" fill-opacity="0.8"/>
<circle cx="506.3" cy="114.8" r="0.7" fill="#2c1f86" fill-opacity="0.7"/>
<circle cx="519.3" cy="108.3" r="0.4" fill="#2c1f86" fill-opacity="0.8"/>
<circle cx="490.5" cy="92.9" r="0.6" fill="#2c1f86" fill-opacity="0.8"/>
<circle cx="509.5" cy="95.7" r="0.5" fill="#2c1f86" fill-opacity="0.7"/>
<circle cx="519.9" cy="88.1" r="0.6" fill="#2c1f86" fill-opacity="0.8"/>
<circle cx="502.3" cy="113.4" r="0.6" fill="#2c1f86" fill-opacity="0.8"/>
<circle cx="496.6" cy="85.6" r="0.5" fill="#2c1f86" fill-opacity="0.8"/>
<circle cx="521.8" cy="99.4" r="0.5" fill="#2c1f86" fill-opacity="0.7"/>
<circle cx="512.5" cy="110.5" r="0.6" fill="#2c1f86" fill-opacity="0.6"/>
<circle cx="505.8" cy="99.1" r="0.8" fill="#2c1f86" fill-opacity="0.7"/>
<circle cx="503.0" cy="97.1" r="0.6" fill="#2c1f86" fill-opacity="0.6"/>
<circle cx="520.1" cy="106.0" r="0.5" fill="#2c1f86" fill-opacity="0.6"/>
<circle cx="494.0" cy="104.8" r="0.7" fill="#2c1f86" fill-opacity="0.8"/>
<circle cx="487.0" cy="99.2" r="0.5" fill="#2c1f86" fill-opacity="0.5"/>
<circle cx="509.8" cy="78.4" r="0.7" fill="#2c1f86" fill-opacity="0.9"/>
<circle cx="498.4" cy="105.1" r="0.8" fill="#2c1f86" fill-opacity="0.7"/>
<circle cx="515.4" cy="112.0" r="0.4" fill="#2c1f86" fill-opacity="0.8"/>
<circle cx="521.7" cy="84.3" r="0.4" fill="#2c1f86" fill-opacity="0.7"/>
<circle cx="511.8" cy="85.3" r="0.5" fill="#2c1f86" fill-opacity="0.6"/>
<circle cx="510.4" cy="96.1" r="0.4" fill="#2c1f86" fill-opacity="0.6"/>
<circle cx="488.3" cy="90.6" r="0.5" fill="#2c1f86" fill-opacity="0.5"/>
<circle cx="500.3" cy="97.2" r="0.7" fill="#2c1f86" fill-opacity="0.8"/>
<circle cx="504.9" cy="115.0" r="0.8" fill="#2c1f86" fill-opacity="0.6"/>
<circle cx="517.4" cy="88.7" r="0.8" fill="#2c1f86" fill-opacity="0.9"/>
<circle cx="508.8" cy="78.8" r="0.7" fill="#2c1f86" fill-opacity="0.6"/>
<circle cx="498.6" cy="107.5" r="0.5" fill="#2c1f86" fill-opacity="0.6"/>
<circle cx="495.3" cy="108.1" r="0.8" fill="#2c1f86" fill-opacity="0.5"/>
<circle cx="498.4" cy="86.2" r="0.5" fill="#2c1f86" fill-opacity="0.9"/>
<circle cx="518.5" cy="97.1" r="0.6" fill="#2c1f86" fill-opacity="0.9"/>
<circle cx="508.6" cy="106.3" r="0.8" fill="#2c1f86" fill-opacity="0.6"/>
<circle cx="516.5" cy="88.8" r="0.7" fill="#2c1f86" fill-opacity="0.7"/>
<circle cx="509.5" cy="98.7" r="0.8" fill="#2c1f86" fill-opacity="0.8"/>
<circle cx="488.4" cy="87.0" r="0.9" fill="#2c1f86" fill-opacity="0.6"/>
<circle cx="491.7" cy="91.7" r="0.5" fill="#2c1f86" fill-opacity="0.8"/>
<circle cx="490.8" cy="100.1" r="0.7" fill="#2c1f86" fill-opacity="0.6"/>
<circle cx="505.3" cy="78.3" r="0.7" fill="#2c1f86" fill-opacity="0.6"/>
<circle cx="511.7" cy="77.7" r="0.4" fill="#2c1f86" fill-opacity="0.9"/>
<circle cx="496.1" cy="87.1" r="0.4" fill="#2c1f86" fill-opacity="0.7"/>
<circle cx="520.4" cy="94.1" r="0.7" fill="#2c1f86" fill-opacity="0.6"/>
<circle cx="517.7" cy="97.2" r="0.5" fill="#2c1f86" fill-opacity="0.6"/>
<circle cx="524.8" cy="102.1" r="0.5" fill="#2c1f86" fill-opacity="0.7"/>
<circle cx="522.6" cy="86.0" r="0.6" fill="#2c1f86" fill-opacity="0.6"/>
<circle cx="501.5" cy="104.1" r="0.4" fill="#2c1f86" fill-opacity="0.6"/>
<circle cx="509.8" cy="114.7" r="0.5" fill="#2c1f86" fill-opacity="0.5"/>
<circle cx="510.7" cy="81.1" r="0.5" fill="#2c1f86" fill-opacity="0.9"/>
<circle cx="519.5" cy="96.5" r="0.8" fill="#2c1f86" fill-opacity="0.8"/>
<circle cx="501.9" cy="107.7" r="0.7" fill="#2c1f86" fill-opacity="0.8"/>
<circle cx="496.9" cy="94.9" r="0.5" fill="#2c1f86" fill-opacity="0.8"/>
<circle cx="494.7" cy="96.2" r="0.5" fill="#2c1f86" fill-opacity="0.8"/>
<circle cx="501.8" cy="101.0" r="0.8" fill="#2c1f86" fill-opacity="0.8"/>
<circle cx="516.7" cy="109.2" r="0.6" fill="#2c1f86" fill-opacity="0.6"/>
<circle cx="503.8" cy="109.9" r="0.6" fill="#2c1f86" fill-opacity="0.8"/>
<circle cx="501.4" cy="92.5" r="0.4" fill="#2c1f86" fill-opacity="0.6"/>
<circle cx="491.3" cy="104.2" r="0.9" fill="#2c1f86" fill-opacity="0.6"/>
<circle cx="494.0" cy="95.7" r="0.5" fill="#2c1f86" fill-opacity="0.5"/>
<circle cx="499.9" cy="110.8" r="0.5" fill="#2c1f86" fill-opacity="0.8"/>
<circle cx="501.4" cy="99.9" r="0.6" fill="#2c1f86" fill-opacity="0.6"/>
<circle cx="510.6" cy="113.7" r="0.7" fill="#2c1f86" fill-opacity="0.7"/>
<circle cx="507.7" cy="96.9" r="0.5" fill="#2c1f86" fill-opacity="0.6"/>
<circle cx="510.7" cy="110.0" r="0.8" fill="#2c1f86" fill-opacity="0.7"/>
<circle cx="525.8" cy="99.2" r="0.4" fill="#2c1f86" fill-opacity="0.9"/>
<circle cx="505.4" cy="88.4" r="0.8" fill="#2c1f86" fill-opacity="0.6"/>
<circle cx="486.8" cy="99.5" r="0.7" fill="#2c1f86" fill-opacity="0.6"/>
<circle cx="511.4" cy="110.9" r="0.8" fill="#2c1f86" fill-opacity="0.8"/>
<circle cx="517.3" cy="96.2" r="0.7" fill="#2c1f86" fill-opacity="0.7"/>
<circle cx="521.1" cy="95.7" r="0.9" fill="#2c1f86" fill-opacity="0.7"/>
<circle cx="505.9" cy="108.0" r="0.8" fill="#2c1f86" fill-opacity="0.8"/>
<circle cx="502.1" cy="110.1" r="0.6" fill="#2c1f86" fill-opacity="0.6"/>
<circle cx="502.6" cy="82.3" r="0.7" fill="#2c1f86" fill-opacity="0.9"/>
<circle cx="495.7" cy="93.6" r="0.7" fill="#2c1f86" fill-opacity="0.9"/>
<circle cx="501.2" cy="102.9" r="0.7" fill="#2c1f86" fill-opacity="0.5"/>
<circle cx="500.3" cy="80.9" r="0.9" fill="#2c1f86" fill-opacity="0.9"/>
<circle cx="493.0" cy="97.6" r="0.4" fill="#2c1f86" fill-opacity="0.6"/>
<circle cx="488.2" cy="98.2" r="0.5" fill="#2c1f86" fill-opacity="0.6"/>
<circle cx="494.8" cy="94.5" r="0.6" fill="#2c1f86" fill-opacity="0.5"/>
<circle cx="522.4" cy="96.2" r="0.6" fill="#2c1f86" fill-opacity="0.6"/>
<circle cx="518.5" cy="102.3" r="0.4" fill="#2c1f86" fill-opacity="0.9"/>
<circle cx="496.7" cy="110.4" r="0.7" fill="#2c1f86" fill-opacity="0.8"/>
<circle cx="488.3" cy="98.8" r="0.8" fill="#2c1f86" fill-opacity="0.6"/>
<circle cx="488.7" cy="86.4" r="0.4" fill="#2c1f86" fill-opacity="0.7"/>
<circle cx="517.4" cy="86.5" r="0.5" fill="#2c1f86" fill-opacity="0.9"/>
<circle cx="524.0" cy="97.6" r="0.5" fill="#2c1f86" fill-opacity="0.8"/>
<circle cx="506.6" cy="108.1" r="0.5" fill="#2c1f86" fill-opacity="0.7"/>
<circle cx="496.4" cy="100.9" r="0.5" fill="#2c1f86" fill-opacity="0.7"/>
<circle cx="490.2" cy="105.3" r="0.6" fill="#2c1f86" fill-opacity="0.9"/>
<circle cx="515.5" cy="104.7" r="0.4" fill="#2c1f86" fill-opacity="0.9"/>
<circle cx="507.5" cy="98.8" r="0.7" fill="#2c1f86" fill-opacity="0.6"/>
<circle cx="492.0" cy="99.0" r="0.9" fill="#2c1f86" fill-opacity="0.7"/>
<circle cx="513.3" cy="113.3" r="0.6" fill="#2c1f86" fill-opacity="0.8"/>
<circle cx="508.1" cy="100.4" r="0.4" fill="#2c1f86" fill-opacity="0.9"/>
<circle cx="491.1" cy="104.2" r="0.4" fill="#2c1f86" fill-opacity="0.7"/>
<circle cx="513.5" cy="84.6" r="0.4" fill="#2c1f86" fill-opacity="0.5"/>
<circle cx="524.7" cy="99.4" r="0.5" fill="#2c1f86" fill-opacity="0.9"/>
<circle cx="502.2" cy="87.2" r="0.8" fill="#2c1f86" fill-opacity="0.7"/>
<circle cx="519.6" cy="103.7" r="0.4" fill="#2c1f86" fill-opacity="0.6"/>
<circle cx="510.9" cy="101.5" r="0.4" fill="#2c1f86" fill-opacity="0.9"/>
<circle cx="515.1" cy="95.5" r="0.5" fill="#2c1f86" fill-opacity="0.6"/>
<circle cx="502.2" cy="108.0" r="0.7" fill="#2c1f86" fill-opacity="0.6"/>
<circle cx="501.5" cy="90.3" r="0.7" fill="#2c1f86" fill-opacity="0.8"/>
<circle cx="522.6" cy="96.1" r="0.5" fill="#2c1f86" fill-opacity="0.7"/>
<circle cx="519.6" cy="104.3" r="0.7" fill="#2c1f86" fill-opacity="0.7"/>
<circle cx="512.7" cy="77.3" r="0.7" fill="#2c1f86" fill-opacity="0.8"/>
<circle cx="495.1" cy="101.9" r="0.7" fill="#2c1f86" fill-opacity="0.9"/>
<circle cx="515.6" cy="108.9" r="0.5" fill="#2c1f86" fill-opacity="0.8"/>
<circle cx="488.3" cy="102.9" r="0.7" fill="#2c1f86" fill-opacity="0.6"/>
<circle cx="520.3" cy="97.7" r="0.8" fill="#2c1f86" fill-opacity="0.6"/>
<circle cx="512.3" cy="88.3" r="0.4" fill="#2c1f86" fill-opacity="0.9"/>
<circle cx="493.0" cy="102.0" r="0.6" fill="#2c1f86" fill-opacity="0.9"/>
<circle cx="506.1" cy="111.3" r="0.4" fill="#2c1f86" fill-opacity="0.5"/>
<circle cx="521.1" cy="102.8" r="0.8" fill="#2c1f86" fill-opacity="0.8"/>
<circle cx="495.6" cy="110.7" r="0.9" fill="#2c1f86" fill-opacity="0.9"/>
<circle cx="516.2" cy="107.0" r="0.9" fill="#2c1f86" fill-opacity="0.8"/>
<circle cx="518.2" cy="107.3" r="0.4" fill="#2c1f86" fill-opacity="0.9"/>
<circle cx="515.1" cy="110.5" r="0.4" fill="#2c1f86" fill-opacity="0.5"/>
<circle cx="512.1" cy="100.1" r="0.8" fill="#2c1f86" fill-opacity="0.8"/>
<circle cx="520.7" cy="97.0" r="0.6" fill="#2c1f86" fill-opacity="0.9"/>
<circle cx="490.0" cy="86.1" r="0.5" fill="#2c1f86" fill-opacity="0.9"/>
<circle cx="515.4" cy="80.9" r="0.5" fill="#2c1f86" fill-opacity="0.7"/>
<circle cx="510.7" cy="81.1" r="0.5" fill="#2c1f86" fill-opacity="0.8"/>
<circle cx="490.9" cy="99.0" r="0.5" fill="#2c1f86" fill-opacity="0.9"/>
<circle cx="510.0" cy="94.7" r="0.7" fill="#2c1f86" fill-opacity="0.6"/>
<circle cx="516.7" cy="83.3" r="0.5" fill="#2c1f86" fill-opacity="0.9"/>
<circle cx="499.8" cy="97.8" r="0.5" fill="#2c1f86" fill-opacity="0.6"/>
<circle cx="499.3" cy="106.9" r="0.9" fill="#2c1f86" fill-opacity="0.7"/>
<circle cx="496.1" cy="87.1" r="0.8" fill="#2c1f86" fill-opacity="0.8"/>
<circle cx="515.8" cy="95.3" r="0.4" fill="#2c1f86" fill-opacity="0.9"/>
<circle cx="496.0" cy="101.9" r="0.5" fill="#2c1f86" fill-opacity="0.6"/>
<circle cx="494.9" cy="102.5" r="0.8" fill="#2c1f86" fill-opacity="0.9"/>
<circle cx="523.0" cy="103.0" r="0.7" fill="#2c1f86" fill-opacity="0.6"/>
<circle cx="490.0" cy="99.1" r="0.5" fill="#2c1f86" fill-opacity="0.9"/>
<circle cx="494.5" cy="96.2" r="0.4" fill="#2c1f86" fill-opacity="0.7"/>
<circle cx="514.8" cy="104.9" r="0.6" fill="#2c1f86" fill-opacity="0.8"/>
<circle cx="504.4" cy="79.1" r="0.9" fill="#2c1f86" fill-opacity="0.7"/>
<circle cx="497.7" cy="109.6" r="0.8" fill="#2c1f86" fill-opacity="0.7"/>
<circle cx="508.3" cy="97.4" r="0.9" fill="#2c1f86" fill-opacity="0.8"/>
<circle cx="490.8" cy="97.5" r="0.5" fill="#2c1f86" fill-opacity="0.9"/>
<circle cx="507.1" cy="76.0" r="0.5" fill="#2c1f86" fill-opacity="0.7"/>
<circle cx="517.5" cy="105.1" r="0.6" fill="#2c1f86" fill-opacity="0.7"/>
<circle cx="497.2" cy="81.6" r="0.7" fill="#2c1f86" fill-opacity="0.6"/>
<circle cx="504.8" cy="113.5" r="0.5" fill="#2c1f86" fill-opacity="0.9"/>
<circle cx="495.4" cy="98.0" r="0.6" fill="#2c1f86" fill-opacity="0.8"/>
<circle cx="516.5" cy="102.2" r="0.7" fill="#2c1f86" fill-opacity="0.9"/>
<circle cx="493.6" cy="99.7" r="0.7" fill="#2c1f86" fill-opacity="0.9"/>
<circle cx="509.3" cy="104.2" r="0.6" fill="#2c1f86" fill-opacity="0.7"/>
<circle cx="521.7" cy="101.1" r="0.4" fill="#2c1f86" fill-opacity="0.6"/>
<circle cx="499.5" cy="107.8" r="0.8" fill="#2c1f86" fill-opacity="0.7"/>
<circle cx="496.2" cy="83.0" r="0.6" fill="#2c1f86" fill-opacity="0.9"/>
<circle cx="517.1" cy="101.4" r="0.6" fill="#2c1f86" fill-opacity="0.8"/>
</g>
<clipPath id="clip105"><circle cx="459.0" cy="143.3" r="20.1"/></clipPath>
<circle cx="459.0" cy="143.3" r="20.1" fill="#b2b5db"/>
<g clip-path="url(#clip105)">
<ellipse cx="459.0" cy="122.20000000000002" rx="18.090000000000003" ry="6" fill="#6a6a90" fill-opacity="0.22"/>
<circle cx="467.6" cy="135.1" r="0.4" fill="#5a52b4" fill-opacity="0.8"/>
<circle cx="452.3" cy="159.6" r="0.3" fill="#5a52b4" fill-opacity="0.4"/>
<circle cx="448.9" cy="157.5" r="0.3" fill="#5a52b4" fill-opacity="0.6"/>
<circle cx="454.1" cy="149.9" r="0.4" fill="#5a52b4" fill-opacity="0.5"/>
<circle cx="440.7" cy="148.0" r="0.5" fill="#5a52b4" fill-opacity="0.4"/>
<circle cx="474.7" cy="142.1" r="0.5" fill="#5a52b4" fill-opacity="0.7"/>
<circle cx="449.1" cy="141.7" r="0.5" fill="#5a52b4" fill-opacity="0.8"/>
<circle cx="454.1" cy="138.5" r="0.5" fill="#5a52b4" fill-opacity="0.7"/>
<circle cx="473.5" cy="129.7" r="0.5" fill="#5a52b4" fill-opacity="0.7"/>
<circle cx="447.6" cy="152.5" r="0.4" fill="#5a52b4" fill-opacity="0.7"/>
<circle cx="446.2" cy="130.3" r="0.4" fill="#5a52b4" fill-opacity="0.6"/>
<circle cx="476.4" cy="139.2" r="0.5" fill="#5a52b4" fill-opacity="0.6"/>
<circle cx="468.2" cy="152.5" r="0.3" fill="#5a52b4" fill-opacity="0.4"/>
<circle cx="463.7" cy="148.1" r="0.4" fill="#5a52b4" fill-opacity="0.7"/>
<circle cx="472.3" cy="128.7" r="0.4" fill="#5a52b4" fill-opacity="0.3"/>
<circle cx="460.7" cy="147.8" r="0.5" fill="#5a52b4" fill-opacity="0.5"/>
<circle cx="456.8" cy="130.0" r="0.4" fill="#5a52b4" fill-opacity="0.7"/>
<circle cx="456.0" cy="138.7" r="0.4" fill="#5a52b4" fill-opacity="0.5"/>
<circle cx="469.3" cy="141.8" r="0.3" fill="#5a52b4" fill-opacity="0.8"/>
<circle cx="454.0" cy="146.3" r="0.4" fill="#5a52b4" fill-opacity="0.8"/>
<circle cx="450.8" cy="143.7" r="0.5" fill="#5a52b4" fill-opacity="0.5"/>
<circle cx="459.1" cy="147.5" r="0.5" fill="#5a52b4" fill-opacity="0.4"/>
<circle cx="467.8" cy="151.6" r="0.4" fill="#5a52b4" fill-opacity="0.8"/>
<circle cx="462.8" cy="158.6" r="0.3" fill="#5a52b4" fill-opacity="0.7"/>
<circle cx="442.4" cy="144.6" r="0.5" fill="#5a52b4" fill-opacity="0.6"/>
<circle cx="457.1" cy="143.7" r="0.3" fill="#5a52b4" fill-opacity="0.6"/>
<circle cx="460.0" cy="128.1" r="0.3" fill="#5a52b4" fill-opacity="0.7"/>
<circle cx="469.8" cy="128.2" r="0.4" fill="#5a52b4" fill-opacity="0.6"/>
<circle cx="451.9" cy="153.1" r="0.3" fill="#5a52b4" fill-opacity="0.6"/>
<circle cx="449.4" cy="158.6" r="0.3" fill="#5a52b4" fill-opacity="0.4"/>
<circle cx="468.1" cy="148.8" r="0.4" fill="#5a52b4" fill-opacity="0.7"/>
<circle cx="462.3" cy="141.4" r="0.4" fill="#5a52b4" fill-opacity="0.6"/>
<circle cx="447.6" cy="159.1" r="0.4" fill="#5a52b4" fill-opacity="0.5"/>
<circle cx="465.5" cy="131.6" r="0.4" fill="#5a52b4" fill-opacity="0.5"/>
<circle cx="455.8" cy="143.8" r="0.5" fill="#5a52b4" fill-opacity="0.5"/>
<circle cx="451.0" cy="145.9" r="0.4" fill="#5a52b4" fill-opacity="0.3"/>
<circle cx="468.1" cy="145.0" r="0.5" fill="#5a52b4" fill-opacity="0.6"/>
<circle cx="457.9" cy="137.3" r="0.4" fill="#5a52b4" fill-opacity="0.7"/>
<circle cx="458.5" cy="129.8" r="0.3" fill="#5a52b4" fill-opacity="0.5"/>
<circle cx="477.0" cy="137.2" r="0.4" fill="#5a52b4" fill-opacity="0.5"/>
<circle cx="446.8" cy="134.2" r="0.4" fill="#5a52b4" fill-opacity="0.7"/>
<circle cx="453.2" cy="140.9" r="0.4" fill="#5a52b4" fill-opacity="0.6"/>
<circle cx="470.7" cy="152.0" r="0.5" fill="#5a52b4" fill-opacity="0.6"/>
<circle cx="452.6" cy="131.0" r="0.4" fill="#5a52b4" fill-opacity="0.8"/>
<circle cx="456.4" cy="156.7" r="0.3" fill="#5a52b4" fill-opacity="0.6"/>
<circle cx="450.3" cy="129.0" r="0.5" fill="#5a52b4" fill-opacity="0.4"/>
<circle cx="462.1" cy="154.9" r="0.3" fill="#5a52b4" fill-opacity="0.8"/>
<circle cx="462.6" cy="156.6" r="0.5" fill="#5a52b4" fill-opacity="0.5"/>
<circle cx="446.4" cy="146.6" r="0.3" fill="#5a52b4" fill-opacity="0.5"/>
<circle cx="460.3" cy="141.2" r="0.3" fill="#5a52b4" fill-opacity="0.7"/>
<circle cx="456.9" cy="130.4" r="0.4" fill="#5a52b4" fill-opacity="0.5"/>
<circle cx="458.5" cy="156.5" r="0.3" fill="#5a52b4" fill-opacity="0.6"/>
<circle cx="451.0" cy="156.5" r="0.3" fill="#5a52b4" fill-opacity="0.8"/>
<circle cx="472.8" cy="144.4" r="0.3" fill="#5a52b4" fill-opacity="0.4"/>
<circle cx="472.3" cy="141.0" r="0.3" fill="#5a52b4" fill-opacity="0.5"/>
<circle cx="464.5" cy="157.1" r="0.5" fill="#5a52b4" fill-opacity="0.8"/>
<circle cx="461.1" cy="160.1" r="0.4" fill="#5a52b4" fill-opacity="0.7"/>
<circle cx="461.4" cy="146.9" r="0.3" fill="#5a52b4" fill-opacity="0.8"/>
<circle cx="462.9" cy="144.7" r="0.4" fill="#5a52b4" fill-opacity="0.3"/>
<circle cx="468.0" cy="160.7" r="0.3" fill="#5a52b4" fill-opacity="0.7"/>
<circle cx="466.5" cy="132.0" r="0.4" fill="#5a52b4" fill-opacity="0.4"/>
<circle cx="452.1" cy="156.3" r="0.4" fill="#5a52b4" fill-opacity="0.6"/>
<circle cx="446.7" cy="157.7" r="0.4" fill="#5a52b4" fill-opacity="0.5"/>
<circle cx="440.8" cy="146.1" r="0.4" fill="#5a52b4" fill-opacity="0.7"/>
<circle cx="464.5" cy="132.7" r="0.4" fill="#5a52b4" fill-opacity="0.3"/>
<circle cx="445.4" cy="144.7" r="0.3" fill="#5a52b4" fill-opacity="0.4"/>
<circle cx="462.8" cy="132.2" r="0.3" fill="#5a52b4" fill-opacity="0.4"/>
<circle cx="471.4" cy="129.3" r="0.3" fill="#5a52b4" fill-opacity="0.5"/>
<circle cx="457.1" cy="151.8" r="0.5" fill="#5a52b4" fill-opacity="0.6"/>
<circle cx="473.0" cy="134.3" r="0.3" fill="#5a52b4" fill-opacity="0.7"/>
<circle cx="471.1" cy="152.9" r="0.4" fill="#5a52b4" fill-opacity="0.3"/>
<circle cx="455.6" cy="157.4" r="0.3" fill="#5a52b4" fill-opacity="0.3"/>
<circle cx="444.1" cy="130.1" r="0.4" fill="#5a52b4" fill-opacity="0.8"/>
<circle cx="452.6" cy="143.9" r="0.3" fill="#5a52b4" fill-opacity="0.5"/>
<circle cx="471.7" cy="130.4" r="0.5" fill="#5a52b4" fill-opacity="0.6"/>
<circle cx="459.5" cy="128.4" r="0.3" fill="#5a52b4" fill-opacity="0.6"/>
<circle cx="455.8" cy="161.1" r="0.5" fill="#5a52b4" fill-opacity="0.4"/>
<circle cx="466.3" cy="151.3" r="0.3" fill="#5a52b4" fill-opacity="0.4"/>
<circle cx="477.6" cy="138.2" r="0.4" fill="#5a52b4" fill-opacity="0.7"/>
<circle cx="466.3" cy="162.0" r="0.4" fill="#5a52b4" fill-opacity="0.6"/>
<circle cx="458.7" cy="144.9" r="0.4" fill="#5a52b4" fill-opacity="0.6"/>
<circle cx="453.9" cy="126.3" r="0.5" fill="#5a52b4" fill-opacity="0.3"/>
<circle cx="456.5" cy="137.9" r="0.5" fill="#5a52b4" fill-opacity="0.6"/>
<circle cx="471.7" cy="143.9" r="0.5" fill="#5a52b4" fill-opacity="0.7"/>
<circle cx="471.7" cy="136.5" r="0.4" fill="#5a52b4" fill-opacity="0.6"/>
<circle cx="441.4" cy="144.1" r="0.3" fill="#5a52b4" fill-opacity="0.4"/>
<circle cx="446.1" cy="131.7" r="0.5" fill="#5a52b4" fill-opacity="0.3"/>
<circle cx="470.1" cy="143.1" r="0.3" fill="#5a52b4" fill-opacity="0.7"/>
<circle cx="468.1" cy="142.8" r="0.3" fill="#5a52b4" fill-opacity="0.8"/>
<circle cx="466.4" cy="132.7" r="0.3" fill="#5a52b4" fill-opacity="0.7"/>
<circle cx="462.7" cy="154.9" r="0.3" fill="#5a52b4" fill-opacity="0.4"/>
<circle cx="445.5" cy="147.8" r="0.4" fill="#5a52b4" fill-opacity="0.6"/>
<circle cx="460.7" cy="155.8" r="0.3" fill="#5a52b4" fill-opacity="0.4"/>
<circle cx="469.4" cy="160.0" r="0.4" fill="#5a52b4" fill-opacity="0.7"/>
<circle cx="457.0" cy="133.1" r="0.4" fill="#5a52b4" fill-opacity="0.6"/>
<circle cx="462.7" cy="128.4" r="0.4" fill="#5a52b4" fill-opacity="0.4"/>
<circle cx="470.0" cy="130.5" r="0.4" fill="#5a52b4" fill-opacity="0.4"/>
<circle cx="452.3" cy="132.2" r="0.3" fill="#5a52b4" fill-opacity="0.7"/>
<circle cx="453.4" cy="126.2" r="0.5" fill="#5a52b4" fill-opacity="0.5"/>
<circle cx="454.4" cy="140.0" r="0.4" fill="#5a52b4" fill-opacity="0.7"/>
<circle cx="456.5" cy="144.7" r="0.4" fill="#5a52b4" fill-opacity="0.5"/>
<circle cx="465.6" cy="159.4" r="0.4" fill="#5a52b4" fill-opacity="0.6"/>
<circle cx="448.1" cy="135.3" r="0.4" fill="#5a52b4" fill-opacity="0.4"/>
<circle cx="460.8" cy="156.9" r="0.5" fill="#5a52b4" fill-opacity="0.5"/>
<circle cx="462.8" cy="152.8" r="0.3" fill="#5a52b4" fill-opacity="0.4"/>
<circle cx="444.0" cy="146.2" r="0.5" fill="#5a52b4" fill-opacity="0.3"/>
<circle cx="458.3" cy="151.3" r="0.3" fill="#5a52b4" fill-opacity="0.7"/>
<circle cx="466.5" cy="155.6" r="0.4" fill="#5a52b4" fill-opacity="0.7"/>
<circle cx="440.2" cy="136.3" r="0.5" fill="#5a52b4" fill-opacity="0.8"/>
<circle cx="460.3" cy="136.8" r="0.3" fill="#5a52b4" fill-opacity="0.8"/>
<circle cx="461.0" cy="148.0" r="0.4" fill="#5a52b4" fill-opacity="0.6"/>
<circle cx="465.4" cy="154.8" r="0.4" fill="#5a52b4" fill-opacity="0.5"/>
<circle cx="454.4" cy="148.9" r="0.4" fill="#5a52b4" fill-opacity="0.5"/>
<circle cx="471.7" cy="128.0" r="0.3" fill="#5a52b4" fill-opacity="0.7"/>
<circle cx="458.3" cy="132.4" r="0.4" fill="#5a52b4" fill-opacity="0.4"/>
<circle cx="466.5" cy="134.4" r="0.4" fill="#5a52b4" fill-opacity="0.4"/>
<circle cx="465.1" cy="136.1" r="0.5" fill="#5a52b4" fill-opacity="0.4"/>
<circle cx="444.8" cy="152.4" r="0.3" fill="#5a52b4" fill-opacity="0.7"/>
<circle cx="468.2" cy="161.1" r="0.4" fill="#5a52b4" fill-opacity="0.7"/>
<circle cx="465.0" cy="154.7" r="0.4" fill="#5a52b4" fill-opacity="0.8"/>
<circle cx="471.7" cy="142.8" r="0.3" fill="#5a52b4" fill-opacity="0.5"/>
<circle cx="465.6" cy="146.8" r="0.4" fill="#5a52b4" fill-opacity="0.4"/>
<circle cx="465.0" cy="131.7" r="0.3" fill="#5a52b4" fill-opacity="0.5"/>
<circle cx="470.3" cy="154.7" r="0.3" fill="#5a52b4" fill-opacity="0.6"/>
<circle cx="443.9" cy="148.1" r="0.3" fill="#5a52b4" fill-opacity="0.7"/>
<circle cx="463.5" cy="155.6" r="0.5" fill="#5a52b4" fill-opacity="0.8"/>
<circle cx="445.8" cy="139.5" r="0.4" fill="#5a52b4" fill-opacity="0.6"/>
<circle cx="469.5" cy="141.0" r="0.3" fill="#5a52b4" fill-opacity="0.6"/>
<circle cx="451.3" cy="155.2" r="0.4" fill="#5a52b4" fill-opacity="0.4"/>
<circle cx="448.1" cy="158.8" r="0.4" fill="#5a52b4" fill-opacity="0.6"/>
<circle cx="450.3" cy="137.1" r="0.3" fill="#5a52b4" fill-opacity="0.6"/>
<circle cx="466.4" cy="156.7" r="0.5" fill="#5a52b4" fill-opacity="0.3"/>
<circle cx="468.0" cy="130.7" r="0.5" fill="#5a52b4" fill-opacity="0.5"/>
<circle cx="452.8" cy="149.7" r="0.4" fill="#5a52b4" fill-opacity="0.3"/>
<circle cx="464.5" cy="152.2" r="0.5" fill="#5a52b4" fill-opacity="0.8"/>
<circle cx="448.0" cy="131.7" r="0.3" fill="#5a52b4" fill-opacity="0.6"/>
<circle cx="470.1" cy="138.5" r="0.3" fill="#5a52b4" fill-opacity="0.4"/>
<circle cx="449.1" cy="149.3" r="0.3" fill="#5a52b4" fill-opacity="0.6"/>
<circle cx="473.4" cy="136.2" r="0.3" fill="#5a52b4" fill-opacity="0.5"/>
<circle cx="469.5" cy="159.2" r="0.3" fill="#5a52b4" fill-opacity="0.6"/>
<circle cx="461.2" cy="127.0" r="0.3" fill="#5a52b4" fill-opacity="0.7"/>
<circle cx="442.5" cy="150.3" r="0.3" fill="#5a52b4" fill-opacity="0.5"/>
<circle cx="465.8" cy="140.8" r="0.5" fill="#5a52b4" fill-opacity="0.6"/>
<circle cx="451.6" cy="146.7" r="0.4" fill="#5a52b4" fill-opacity="0.4"/>
<circle cx="462.4" cy="146.3" r="0.3" fill="#5a52b4" fill-opacity="0.6"/>
<circle cx="446.1" cy="156.7" r="0.3" fill="#5a52b4" fill-opacity="0.4"/>
<circle cx="458.4" cy="128.4" r="0.3" fill="#5a52b4" fill-opacity="0.6"/>
<circle cx="458.8" cy="162.7" r="0.4" fill="#5a52b4" fill-opacity="0.6"/>
<circle cx="455.3" cy="161.1" r="0.4" fill="#5a52b4" fill-opacity="0.6"/>
<circle cx="443.9" cy="152.6" r="0.3" fill="#5a52b4" fill-opacity="0.4"/>
<circle cx="451.1" cy="151.8" r="0.4" fill="#5a52b4" fill-opacity="0.4"/>
<circle cx="460.0" cy="135.8" r="0.4" fill="#5a52b4" fill-opacity="0.5"/>
<circle cx="474.1" cy="142.7" r="0.3" fill="#5a52b4" fill-opacity="0.4"/>
<circle cx="453.4" cy="158.2" r="0.3" fill="#5a52b4" fill-opacity="0.8"/>
<circle cx="460.1" cy="134.8" r="0.3" fill="#5a52b4" fill-opacity="0.3"/>
<circle cx="449.6" cy="147.0" r="0.3" fill="#5a52b4" fill-opacity="0.5"/>
<circle cx="466.6" cy="138.8" r="0.5" fill="#5a52b4" fill-opacity="0.7"/>
<circle cx="471.3" cy="137.2" r="0.4" fill="#5a52b4" fill-opacity="0.5"/>
<circle cx="466.6" cy="131.6" r="0.3" fill="#5a52b4" fill-opacity="0.4"/>
<circle cx="459.7" cy="143.2" r="0.4" fill="#5a52b4" fill-opacity="0.7"/>
<circle cx="448.6" cy="152.4" r="0.4" fill="#5a52b4" fill-opacity="0.3"/>
<circle cx="441.7" cy="151.3" r="0.4" fill="#5a52b4" fill-opacity="0.4"/>
<circle cx="470.9" cy="129.7" r="0.4" fill="#5a52b4" fill-opacity="0.6"/>
<circle cx="457.4" cy="158.7" r="0.4" fill="#5a52b4" fill-opacity="0.3"/>
<circle cx="451.2" cy="150.9" r="0.3" fill="#5a52b4" fill-opacity="0.6"/>
<circle cx="465.7" cy="146.3" r="0.4" fill="#5a52b4" fill-opacity="0.5"/>
<circle cx="450.4" cy="140.4" r="0.3" fill="#5a52b4" fill-opacity="0.7"/>
<circle cx="453.8" cy="145.3" r="0.5" fill="#5a52b4" fill-opacity="0.7"/>
<circle cx="451.1" cy="128.0" r="0.4" fill="#5a52b4" fill-opacity="0.6"/>
<circle cx="461.4" cy="144.8" r="0.3" fill="#5a52b4" fill-opacity="0.7"/>
<circle cx="467.9" cy="147.6" r="0.5" fill="#5a52b4" fill-opacity="0.4"/>
<circle cx="454.6" cy="138.3" r="0.3" fill="#5a52b4" fill-opacity="0.5"/>
<circle cx="457.0" cy="138.0" r="0.5" fill="#5a52b4" fill-opacity="0.6"/>
<circle cx="448.9" cy="138.0" r="0.3" fill="#5a52b4" fill-opacity="0.5"/>
<circle cx="460.4" cy="130.9" r="0.3" fill="#5a52b4" fill-opacity="0.6"/>
<circle cx="463.4" cy="145.3" r="0.4" fill="#5a52b4" fill-opacity="0.6"/>
<circle cx="453.4" cy="141.7" r="0.4" fill="#5a52b4" fill-opacity="0.7"/>
<circle cx="473.4" cy="156.4" r="0.4" fill="#5a52b4" fill-opacity="0.8"/>
<circle cx="465.6" cy="154.4" r="0.3" fill="#5a52b4" fill-opacity="0.6"/>
<circle cx="463.1" cy="133.0" r="0.4" fill="#5a52b4" fill-opacity="0.8"/>
<circle cx="450.3" cy="132.8" r="0.3" fill="#5a52b4" fill-opacity="0.8"/>
<circle cx="468.5" cy="140.7" r="0.3" fill="#5a52b4" fill-opacity="0.8"/>
<circle cx="453.0" cy="152.7" r="0.4" fill="#5a52b4" fill-opacity="0.7"/>
<circle cx="471.3" cy="152.3" r="0.3" fill="#5a52b4" fill-opacity="0.7"/>
<circle cx="467.5" cy="156.4" r="0.4" fill="#5a52b4" fill-opacity="0.6"/>
<circle cx="459.4" cy="142.9" r="0.5" fill="#5a52b4" fill-opacity="0.4"/>
<circle cx="452.0" cy="135.6" r="0.3" fill="#5a52b4" fill-opacity="0.4"/>
<circle cx="453.0" cy="143.1" r="0.4" fill="#5a52b4" fill-opacity="0.7"/>
<circle cx="457.9" cy="135.6" r="0.4" fill="#5a52b4" fill-opacity="0.7"/>
<circle cx="459.7" cy="135.5" r="0.4" fill="#5a52b4" fill-opacity="0.5"/>
<circle cx="476.3" cy="135.5" r="0.3" fill="#5a52b4" fill-opacity="0.4"/>
<circle cx="454.3" cy="160.7" r="0.4" fill="#5a52b4" fill-opacity="0.8"/>
<circle cx="462.7" cy="150.0" r="0.3" fill="#5a52b4" fill-opacity="0.6"/>
<circle cx="444.4" cy="143.5" r="0.5" fill="#5a52b4" fill-opacity="0.6"/>
<circle cx="455.1" cy="153.0" r="0.3" fill="#5a52b4" fill-opacity="0.4"/>
<circle cx="466.6" cy="149.4" r="0.4" fill="#5a52b4" fill-opacity="0.4"/>
<circle cx="442.9" cy="151.7" r="0.4" fill="#5a52b4" fill-opacity="0.3"/>
<circle cx="473.7" cy="156.8" r="0.3" fill="#5a52b4" fill-opacity="0.8"/>
<circle cx="448.5" cy="150.4" r="0.3" fill="#5a52b4" fill-opacity="0.6"/>
<circle cx="457.8" cy="148.0" r="0.3" fill="#5a52b4" fill-opacity="0.4"/>
<circle cx="454.3" cy="161.3" r="0.5" fill="#5a52b4" fill-opacity="0.3"/>
<circle cx="442.5" cy="149.0" r="0.3" fill="#5a52b4" fill-opacity="0.7"/>
<circle cx="467.8" cy="138.0" r="0.3" fill="#5a52b4" fill-opacity="0.4"/>
<circle cx="456.6" cy="148.7" r="0.4" fill="#5a52b4" fill-opacity="0.5"/>
<circle cx="441.2" cy="152.4" r="0.4" fill="#5a52b4" fill-opacity="0.8"/>
<circle cx="469.5" cy="134.6" r="0.3" fill="#5a52b4" fill-opacity="0.5"/>
<circle cx="467.9" cy="160.2" r="0.5" fill="#5a52b4" fill-opacity="0.7"/>
<circle cx="446.9" cy="139.2" r="0.3" fill="#5a52b4" fill-opacity="0.6"/>
<circle cx="447.8" cy="152.1" r="0.3" fill="#5a52b4" fill-opacity="0.6"/>
<circle cx="466.1" cy="145.3" r="0.3" fill="#5a52b4" fill-opacity="0.6"/>
<circle cx="443.8" cy="137.6" r="0.3" fill="#5a52b4" fill-opacity="0.8"/>
<circle cx="453.0" cy="146.8" r="0.4" fill="#5a52b4" fill-opacity="0.8"/>
<circle cx="449.2" cy="157.6" r="0.4" fill="#5a52b4" fill-opacity="0.6"/>
<circle cx="462.1" cy="129.9" r="0.3" fill="#5a52b4" fill-opacity="0.3"/>
<circle cx="473.9" cy="153.2" r="0.5" fill="#5a52b4" fill-opacity="0.6"/>
<circle cx="443.1" cy="144.9" r="0.3" fill="#5a52b4" fill-opacity="0.5"/>
<circle cx="459.9" cy="153.7" r="0.5" fill="#5a52b4" fill-opacity="0.5"/>
<circle cx="468.4" cy="132.5" r="0.4" fill="#5a52b4" fill-opacity="0.4"/>
<circle cx="463.9" cy="138.1" r="0.5" fill="#5a52b4" fill-opacity="0.4"/>
<circle cx="471.9" cy="128.6" r="0.3" fill="#5a52b4" fill-opacity="0.4"/>
<circle cx="460.1" cy="145.9" r="0.5" fill="#5a52b4" fill-opacity="0.4"/>
<circle cx="473.3" cy="144.3" r="0.5" fill="#5a52b4" fill-opacity="0.5"/>
<circle cx="470.4" cy="154.3" r="0.4" fill="#5a52b4" fill-opacity="0.3"/>
<circle cx="447.9" cy="134.3" r="0.4" fill="#5a52b4" fill-opacity="0.6"/>
<circle cx="454.0" cy="160.9" r="0.4" fill="#5a52b4" fill-opacity="0.7"/>
<circle cx="454.3" cy="133.1" r="0.5" fill="#5a52b4" fill-opacity="0.4"/>
<circle cx="456.0" cy="125.7" r="0.4" fill="#5a52b4" fill-opacity="0.7"/>
<circle cx="460.2" cy="146.7" r="0.4" fill="#5a52b4" fill-opacity="0.5"/>
<circle cx="455.4" cy="157.9" r="0.4" fill="#5a52b4" fill-opacity="0.6"/>
<circle cx="454.0" cy="125.1" r="0.4" fill="#5a52b4" fill-opacity="0.8"/>
<circle cx="465.9" cy="154.2" r="0.3" fill="#5a52b4" fill-opacity="0.8"/>
<circle cx="462.5" cy="134.1" r="0.4" fill="#5a52b4" fill-opacity="0.7"/>
<circle cx="466.5" cy="127.3" r="0.4" fill="#5a52b4" fill-opacity="0.7"/>
<circle cx="466.0" cy="159.3" r="0.3" fill="#5a52b4" fill-opacity="0.4"/>
<circle cx="452.1" cy="135.1" r="0.5" fill="#5a52b4" fill-opacity="0.5"/>
<circle cx="466.3" cy="154.2" r="0.4" fill="#5a52b4" fill-opacity="0.6"/>
<circle cx="446.5" cy="136.3" r="0.5" fill="#5a52b4" fill-opacity="0.8"/>
<circle cx="464.0" cy="162.0" r="0.3" fill="#5a52b4" fill-opacity="0.4"/>
<circle cx="470.3" cy="148.6" r="0.3" fill="#5a52b4" fill-opacity="0.3"/>
<circle cx="456.3" cy="133.1" r="0.4" fill="#5a52b4" fill-opacity="0.5"/>
<circle cx="471.0" cy="132.6" r="0.5" fill="#5a52b4" fill-opacity="0.4"/>
<circle cx="472.8" cy="155.0" r="0.4" fill="#5a52b4" fill-opacity="0.8"/>
<circle cx="471.9" cy="156.8" r="0.3" fill="#5a52b4" fill-opacity="0.3"/>
<circle cx="455.0" cy="141.6" r="0.4" fill="#5a52b4" fill-opacity="0.5"/>
<circle cx="446.2" cy="157.8" r="0.4" fill="#5a52b4" fill-opacity="0.4"/>
<circle cx="448.4" cy="138.3" r="0.4" fill="#5a52b4" fill-opacity="0.3"/>
<circle cx="451.7" cy="155.8" r="0.3" fill="#5a52b4" fill-opacity="0.8"/>
<circle cx="473.9" cy="151.2" r="0.4" fill="#5a52b4" fill-opacity="0.4"/>
<circle cx="459.0" cy="161.9" r="0.5" fill="#5a52b4" fill-opacity="0.4"/>
<circle cx="452.3" cy="143.0" r="0.3" fill="#5a52b4" fill-opacity="0.6"/>
<circle cx="442.0" cy="137.3" r="0.3" fill="#5a52b4" fill-opacity="0.7"/>
<circle cx="453.7" cy="150.2" r="0.5" fill="#5a52b4" fill-opacity="0.4"/>
<circle cx="468.8" cy="157.6" r="0.5" fill="#5a52b4" fill-opacity="0.5"/>
<circle cx="465.4" cy="147.9" r="0.3" fill="#5a52b4" fill-opacity="0.7"/>
<circle cx="462.0" cy="125.5" r="0.3" fill="#5a52b4" fill-opacity="0.6"/>
<circle cx="456.8" cy="148.8" r="0.3" fill="#5a52b4" fill-opacity="0.7"/>
<circle cx="464.1" cy="141.8" r="0.4" fill="#5a52b4" fill-opacity="0.6"/>
<circle cx="458.5" cy="149.8" r="0.5" fill="#5a52b4" fill-opacity="0.5"/>
<circle cx="470.1" cy="130.1" r="0.5" fill="#5a52b4" fill-opacity="0.3"/>
<circle cx="466.5" cy="144.6" r="0.4" fill="#5a52b4" fill-opacity="0.6"/>
<circle cx="445.6" cy="149.2" r="0.4" fill="#5a52b4" fill-opacity="0.4"/>
<circle cx="459.1" cy="158.2" r="0.5" fill="#5a52b4" fill-opacity="0.3"/>
<circle cx="448.6" cy="136.3" r="0.4" fill="#5a52b4" fill-opacity="0.6"/>
<circle cx="450.6" cy="145.7" r="0.4" fill="#5a52b4" fill-opacity="0.3"/>
<circle cx="466.5" cy="155.3" r="0.3" fill="#5a52b4" fill-opacity="0.8"/>
<circle cx="450.9" cy="149.9" r="0.5" fill="#5a52b4" fill-opacity="0.7"/>
<circle cx="468.8" cy="160.4" r="0.4" fill="#5a52b4" fill-opacity="0.6"/>
<circle cx="468.2" cy="158.7" r="0.4" fill="#5a52b4" fill-opacity="0.7"/>
<circle cx="452.0" cy="145.2" r="0.4" fill="#5a52b4" fill-opacity="0.5"/>
<circle cx="443.3" cy="151.5" r="0.4" fill="#5a52b4" fill-opacity="0.7"/>
<circle cx="451.4" cy="140.3" r="0.4" fill="#5a52b4" fill-opacity="0.7"/>
<circle cx="444.0" cy="148.3" r="0.3" fill="#5a52b4" fill-opacity="0.7"/>
<circle cx="461.1" cy="143.4" r="0.3" fill="#5a52b4" fill-opacity="0.8"/>
<circle cx="460.5" cy="159.1" r="0.3" fill="#5a52b4" fill-opacity="0.5"/>
<circle cx="464.5" cy="148.6" r="0.4" fill="#5a52b4" fill-opacity="0.5"/>
<circle cx="465.3" cy="135.6" r="0.3" fill="#5a52b4" fill-opacity="0.6"/>
<circle cx="468.1" cy="139.9" r="0.3" fill="#5a52b4" fill-opacity="0.6"/>
<circle cx="457.9" cy="157.0" r="0.3" fill="#5a52b4" fill-opacity="0.8"/>
<circle cx="457.2" cy="129.1" r="0.3" fill="#5a52b4" fill-opacity="0.5"/>
<circle cx="456.7" cy="155.1" r="0.4" fill="#5a52b4" fill-opacity="0.6"/>
<circle cx="455.1" cy="146.7" r="0.4" fill="#5a52b4" fill-opacity="0.4"/>
<circle cx="465.2" cy="131.9" r="0.4" fill="#5a52b4" fill-opacity="0.5"/>
<circle cx="467.3" cy="148.0" r="0.5" fill="#5a52b4" fill-opacity="0.5"/>
<circle cx="478.2" cy="144.7" r="0.5" fill="#5a52b4" fill-opacity="0.7"/>
<circle cx="467.4" cy="156.8" r="0.4" fill="#5a52b4" fill-opacity="0.3"/>
<circle cx="449.4" cy="156.8" r="0.4" fill="#5a52b4" fill-opacity="0.5"/>
<circle cx="474.5" cy="144.8" r="0.4" fill="#5a52b4" fill-opacity="0.4"/>
<circle cx="471.6" cy="156.2" r="0.4" fill="#5a52b4" fill-opacity="0.8"/>
<circle cx="468.7" cy="149.8" r="0.5" fill="#5a52b4" fill-opacity="0.7"/>
<circle cx="455.4" cy="159.4" r="0.3" fill="#5a52b4" fill-opacity="0.5"/>
<circle cx="465.1" cy="129.6" r="0.4" fill="#5a52b4" fill-opacity="0.7"/>
<circle cx="453.5" cy="162.4" r="0.3" fill="#5a52b4" fill-opacity="0.8"/>
<circle cx="470.5" cy="147.0" r="0.4" fill="#5a52b4" fill-opacity="0.6"/>
<circle cx="457.8" cy="147.3" r="0.3" fill="#5a52b4" fill-opacity="0.4"/>
<circle cx="455.1" cy="160.7" r="0.4" fill="#5a52b4" fill-opacity="0.5"/>
<circle cx="449.8" cy="154.9" r="0.3" fill="#5a52b4" fill-opacity="0.3"/>
<circle cx="445.8" cy="155.7" r="0.3" fill="#5a52b4" fill-opacity="0.6"/>
<circle cx="448.5" cy="148.8" r="0.4" fill="#5a52b4" fill-opacity="0.5"/>
<circle cx="469.7" cy="148.3" r="0.4" fill="#5a52b4" fill-opacity="0.4"/>
<circle cx="448.3" cy="157.5" r="0.5" fill="#5a52b4" fill-opacity="0.6"/>
<circle cx="454.9" cy="144.6" r="0.3" fill="#5a52b4" fill-opacity="0.7"/>
<circle cx="472.3" cy="157.1" r="0.4" fill="#5a52b4" fill-opacity="0.4"/>
<circle cx="454.0" cy="157.0" r="0.3" fill="#5a52b4" fill-opacity="0.6"/>
<circle cx="458.3" cy="142.5" r="0.5" fill="#5a52b4" fill-opacity="0.6"/>
<circle cx="473.0" cy="156.2" r="0.5" fill="#5a52b4" fill-opacity="0.6"/>
<circle cx="451.3" cy="141.0" r="0.3" fill="#5a52b4" fill-opacity="0.6"/>
<circle cx="453.0" cy="159.7" r="0.4" fill="#5a52b4" fill-opacity="0.3"/>
<circle cx="463.3" cy="151.9" r="0.3" fill="#5a52b4" fill-opacity="0.4"/>
<circle cx="466.2" cy="125.4" r="0.4" fill="#5a52b4" fill-opacity="0.4"/>
<circle cx="468.9" cy="146.8" r="0.4" fill="#5a52b4" fill-opacity="0.7"/>
<circle cx="450.1" cy="140.9" r="0.5" fill="#5a52b4" fill-opacity="0.6"/>
<circle cx="462.2" cy="158.8" r="0.4" fill="#5a52b4" fill-opacity="0.4"/>
<circle cx="447.0" cy="151.0" r="0.4" fill="#5a52b4" fill-opacity="0.5"/>
<circle cx="469.0" cy="154.0" r="0.5" fill="#5a52b4" fill-opacity="0.8"/>
<circle cx="458.3" cy="150.9" r="0.5" fill="#5a52b4" fill-opacity="0.3"/>
<circle cx="465.6" cy="151.5" r="0.4" fill="#5a52b4" fill-opacity="0.4"/>
<circle cx="462.0" cy="160.5" r="0.4" fill="#5a52b4" fill-opacity="0.4"/>
<circle cx="452.0" cy="137.9" r="0.5" fill="#5a52b4" fill-opacity="0.4"/>
<circle cx="475.0" cy="139.6" r="0.5" fill="#5a52b4" fill-opacity="0.7"/>
<circle cx="462.9" cy="155.5" r="0.3" fill="#5a52b4" fill-opacity="0.4"/>
<circle cx="443.7" cy="146.9" r="0.3" fill="#5a52b4" fill-opacity="0.6"/>
<circle cx="445.5" cy="145.5" r="0.4" fill="#5a52b4" fill-opacity="0.5"/>
<circle cx="464.0" cy="128.0" r="0.3" fill="#5a52b4" fill-opacity="0.5"/>
<circle cx="463.1" cy="160.4" r="0.3" fill="#5a52b4" fill-opacity="0.5"/>
<circle cx="468.8" cy="126.8" r="0.4" fill="#5a52b4" fill-opacity="0.5"/>
<circle cx="457.9" cy="158.2" r="0.3" fill="#5a52b4" fill-opacity="0.5"/>
<circle cx="468.2" cy="133.9" r="0.4" fill="#5a52b4" fill-opacity="0.3"/>
<circle cx="445.3" cy="156.2" r="0.3" fill="#5a52b4" fill-opacity="0.7"/>
<circle cx="445.2" cy="134.1" r="0.3" fill="#5a52b4" fill-opacity="0.4"/>
<circle cx="465.8" cy="156.6" r="0.4" fill="#5a52b4" fill-opacity="0.5"/>
<circle cx="446.5" cy="139.5" r="0.4" fill="#5a52b4" fill-opacity="0.6"/>
<circle cx="465.6" cy="131.8" r="0.5" fill="#5a52b4" fill-opacity="0.3"/>
<circle cx="454.4" cy="127.7" r="0.3" fill="#5a52b4" fill-opacity="0.3"/>
<circle cx="460.8" cy="136.3" r="0.3" fill="#5a52b4" fill-opacity="0.7"/>
<circle cx="466.4" cy="146.2" r="0.3" fill="#5a52b4" fill-opacity="0.7"/>
<circle cx="463.7" cy="135.4" r="0.4" fill="#5a52b4" fill-opacity="0.7"/>
<circle cx="475.7" cy="151.8" r="0.4" fill="#5a52b4" fill-opacity="0.6"/>
<circle cx="465.0" cy="154.0" r="0.4" fill="#5a52b4" fill-opacity="0.6"/>
<circle cx="463.4" cy="143.7" r="0.5" fill="#5a52b4" fill-opacity="0.4"/>
<circle cx="458.2" cy="139.4" r="0.3" fill="#5a52b4" fill-opacity="0.7"/>
<circle cx="455.7" cy="148.5" r="0.3" fill="#5a52b4" fill-opacity="0.5"/>
<circle cx="469.3" cy="139.5" r="0.3" fill="#5a52b4" fill-opacity="0.7"/>
<circle cx="476.2" cy="150.2" r="0.4" fill="#5a52b4" fill-opacity="0.4"/>
<circle cx="442.4" cy="139.0" r="0.4" fill="#5a52b4" fill-opacity="0.7"/>
<circle cx="447.9" cy="128.6" r="0.4" fill="#5a52b4" fill-opacity="0.5"/>
<circle cx="469.5" cy="152.7" r="0.3" fill="#5a52b4" fill-opacity="0.7"/>
<circle cx="458.6" cy="135.1" r="0.3" fill="#5a52b4" fill-opacity="0.7"/>
<circle cx="459.7" cy="160.7" r="0.5" fill="#5a52b4" fill-opacity="0.4"/>
<circle cx="477.3" cy="141.2" r="0.3" fill="#5a52b4" fill-opacity="0.7"/>
<circle cx="456.9" cy="135.3" r="0.4" fill="#5a52b4" fill-opacity="0.3"/>
<circle cx="445.7" cy="141.9" r="0.3" fill="#5a52b4" fill-opacity="0.6"/>
<circle cx="451.6" cy="127.1" r="0.3" fill="#5a52b4" fill-opacity="0.6"/>
<circle cx="452.5" cy="152.7" r="0.4" fill="#5a52b4" fill-opacity="0.6"/>
<circle cx="472.0" cy="155.0" r="0.4" fill="#5a52b4" fill-opacity="0.4"/>
<circle cx="471.7" cy="139.8" r="0.4" fill="#5a52b4" fill-opacity="0.5"/>
<circle cx="469.5" cy="131.9" r="0.3" fill="#5a52b4" fill-opacity="0.8"/>
<circle cx="470.7" cy="152.6" r="0.4" fill="#5a52b4" fill-opacity="0.8"/>
<circle cx="464.9" cy="138.7" r="0.3" fill="#5a52b4" fill-opacity="0.7"/>
<circle cx="464.9" cy="144.5" r="0.4" fill="#5a52b4" fill-opacity="0.7"/>
<circle cx="461.8" cy="160.9" r="0.4" fill="#5a52b4" fill-opacity="0.4"/>
<circle cx="442.8" cy="141.6" r="0.3" fill="#5a52b4" fill-opacity="0.8"/>
<circle cx="455.8" cy="149.1" r="0.3" fill="#5a52b4" fill-opacity="0.8"/>
<circle cx="442.4" cy="144.6" r="0.4" fill="#5a52b4" fill-opacity="0.7"/>
<circle cx="458.8" cy="137.4" r="0.5" fill="#5a52b4" fill-opacity="0.7"/>
<circle cx="458.5" cy="160.3" r="0.3" fill="#5a52b4" fill-opacity="0.5"/>
<circle cx="442.1" cy="145.6" r="0.3" fill="#5a52b4" fill-opacity="0.4"/>
<circle cx="446.8" cy="140.4" r="0.4" fill="#5a52b4" fill-opacity="0.6"/>
<circle cx="444.0" cy="143.2" r="0.5" fill="#5a52b4" fill-opacity="0.5"/>
<circle cx="453.5" cy="124.5" r="0.4" fill="#5a52b4" fill-opacity="0.4"/>
<circle cx="443.6" cy="137.1" r="0.4" fill="#5a52b4" fill-opacity="0.4"/>
<circle cx="472.2" cy="150.8" r="0.4" fill="#5a52b4" fill-opacity="0.4"/>
<circle cx="447.5" cy="158.8" r="0.3" fill="#5a52b4" fill-opacity="0.8"/>
<circle cx="440.0" cy="137.4" r="0.3" fill="#5a52b4" fill-opacity="0.3"/>
<circle cx="452.9" cy="149.9" r="0.5" fill="#5a52b4" fill-opacity="0.6"/>
<circle cx="449.7" cy="134.0" r="0.3" fill="#5a52b4" fill-opacity="0.4"/>
<circle cx="459.3" cy="132.6" r="0.3" fill="#5a52b4" fill-opacity="0.5"/>
<circle cx="453.8" cy="158.7" r="0.4" fill="#5a52b4" fill-opacity="0.3"/>
<circle cx="450.8" cy="155.5" r="0.5" fill="#5a52b4" fill-opacity="0.7"/>
<circle cx="451.5" cy="150.3" r="0.3" fill="#5a52b4" fill-opacity="0.3"/>
<circle cx="463.4" cy="142.6" r="0.5" fill="#5a52b4" fill-opacity="0.3"/>
<circle cx="465.2" cy="128.3" r="0.5" fill="#5a52b4" fill-opacity="0.5"/>
<circle cx="447.6" cy="148.5" r="0.4" fill="#5a52b4" fill-opacity="0.7"/>
<circle cx="450.3" cy="137.9" r="0.4" fill="#5a52b4" fill-opacity="0.6"/>
<circle cx="471.8" cy="143.5" r="0.5" fill="#5a52b4" fill-opacity="0.6"/>
<circle cx="465.8" cy="152.1" r="0.3" fill="#5a52b4" fill-opacity="0.7"/>
<circle cx="460.3" cy="139.7" r="0.5" fill="#5a52b4" fill-opacity="0.7"/>
<circle cx="449.3" cy="140.9" r="0.3" fill="#5a52b4" fill-opacity="0.8"/>
<circle cx="466.0" cy="138.3" r="0.3" fill="#5a52b4" fill-opacity="0.4"/>
<circle cx="472.5" cy="135.1" r="0.4" fill="#5a52b4" fill-opacity="0.6"/>
<circle cx="447.6" cy="152.7" r="0.4" fill="#5a52b4" fill-opacity="0.6"/>
<circle cx="475.9" cy="146.4" r="0.4" fill="#5a52b4" fill-opacity="0.5"/>
<circle cx="447.9" cy="142.3" r="0.5" fill="#5a52b4" fill-opacity="0.7"/>
<circle cx="456.7" cy="142.3" r="0.4" fill="#5a52b4" fill-opacity="0.4"/>
<circle cx="462.0" cy="138.7" r="0.4" fill="#5a52b4" fill-opacity="0.5"/>
<circle cx="453.3" cy="140.2" r="0.3" fill="#5a52b4" fill-opacity="0.8"/>
<circle cx="466.5" cy="125.5" r="0.4" fill="#5a52b4" fill-opacity="0.8"/>
<circle cx="469.1" cy="127.8" r="0.3" fill="#5a52b4" fill-opacity="0.4"/>
<circle cx="449.4" cy="148.7" r="0.3" fill="#5a52b4" fill-opacity="0.8"/>
<circle cx="454.0" cy="160.8" r="0.5" fill="#5a52b4" fill-opacity="0.3"/>
<circle cx="442.8" cy="139.2" r="0.3" fill="#5a52b4" fill-opacity="0.7"/>
<circle cx="446.1" cy="144.6" r="0.3" fill="#5a52b4" fill-opacity="0.8"/>
<circle cx="459.0" cy="159.0" r="0.3" fill="#5a52b4" fill-opacity="0.3"/>
<circle cx="453.9" cy="126.0" r="0.5" fill="#5a52b4" fill-opacity="0.8"/>
<circle cx="466.7" cy="130.2" r="0.3" fill="#5a52b4" fill-opacity="0.8"/>
<circle cx="450.8" cy="134.2" r="0.3" fill="#5a52b4" fill-opacity="0.6"/>
<circle cx="449.8" cy="159.0" r="0.4" fill="#5a52b4" fill-opacity="0.7"/>
<circle cx="458.8" cy="134.2" r="0.3" fill="#5a52b4" fill-opacity="0.8"/>
<circle cx="461.6" cy="157.0" r="0.3" fill="#5a52b4" fill-opacity="0.5"/>
<circle cx="452.5" cy="154.6" r="0.4" fill="#5a52b4" fill-opacity="0.5"/>
<circle cx="460.0" cy="149.5" r="0.4" fill="#5a52b4" fill-opacity="0.7"/>
<circle cx="448.6" cy="152.5" r="0.4" fill="#5a52b4" fill-opacity="0.5"/>
<circle cx="473.3" cy="137.2" r="0.4" fill="#5a52b4" fill-opacity="0.4"/>
<circle cx="446.1" cy="149.4" r="0.3" fill="#5a52b4" fill-opacity="0.4"/>
<circle cx="465.5" cy="157.0" r="0.5" fill="#5a52b4" fill-opacity="0.5"/>
<circle cx="450.2" cy="137.3" r="0.5" fill="#5a52b4" fill-opacity="0.5"/>
<circle cx="471.6" cy="136.1" r="0.4" fill="#5a52b4" fill-opacity="0.4"/>
<circle cx="477.1" cy="144.2" r="0.4" fill="#5a52b4" fill-opacity="0.6"/>
<circle cx="451.3" cy="150.6" r="0.4" fill="#5a52b4" fill-opacity="0.4"/>
<circle cx="470.0" cy="129.3" r="0.4" fill="#5a52b4" fill-opacity="0.7"/>
<circle cx="455.8" cy="142.0" r="0.3" fill="#5a52b4" fill-opacity="0.6"/>
<circle cx="455.9" cy="125.1" r="0.3" fill="#5a52b4" fill-opacity="0.7"/>
<circle cx="474.9" cy="133.8" r="0.3" fill="#5a52b4" fill-opacity="0.4"/>
<circle cx="454.6" cy="162.1" r="0.3" fill="#5a52b4" fill-opacity="0.5"/>
<circle cx="471.7" cy="141.5" r="0.3" fill="#5a52b4" fill-opacity="0.7"/>
<circle cx="470.3" cy="139.4" r="0.3" fill="#5a52b4" fill-opacity="0.6"/>
<circle cx="444.5" cy="133.5" r="0.3" fill="#5a52b4" fill-opacity="0.4"/>
<circle cx="459.6" cy="146.1" r="0.4" fill="#5a52b4" fill-opacity="0.7"/>
<circle cx="469.7" cy="149.7" r="0.4" fill="#5a52b4" fill-opacity="0.4"/>
<circle cx="458.1" cy="131.5" r="0.5" fill="#5a52b4" fill-opacity="0.3"/>
<circle cx="468.3" cy="131.9" r="0.3" fill="#5a52b4" fill-opacity="0.5"/>
<circle cx="448.2" cy="128.7" r="0.3" fill="#5a52b4" fill-opacity="0.8"/>
<circle cx="467.7" cy="149.6" r="0.4" fill="#5a52b4" fill-opacity="0.8"/>
<circle cx="477.5" cy="138.4" r="0.5" fill="#5a52b4" fill-opacity="0.6"/>
<circle cx="457.5" cy="136.4" r="0.5" fill="#5a52b4" fill-opacity="0.3"/>
<circle cx="473.7" cy="130.7" r="0.4" fill="#5a52b4" fill-opacity="0.3"/>
<circle cx="465.5" cy="160.2" r="0.5" fill="#5a52b4" fill-opacity="0.3"/>
<circle cx="446.8" cy="132.4" r="0.5" fill="#5a52b4" fill-opacity="0.4"/>
<circle cx="474.5" cy="155.4" r="0.4" fill="#5a52b4" fill-opacity="0.7"/>
<circle cx="471.0" cy="158.4" r="0.4" fill="#5a52b4" fill-opacity="0.7"/>
<circle cx="464.5" cy="150.6" r="0.3" fill="#5a52b4" fill-opacity="0.7"/>
<circle cx="456.2" cy="152.1" r="0.4" fill="#5a52b4" fill-opacity="0.4"/>
<circle cx="464.6" cy="135.0" r="0.5" fill="#5a52b4" fill-opacity="0.7"/>
<circle cx="456.1" cy="144.5" r="0.3" fill="#5a52b4" fill-opacity="0.4"/>
<circle cx="458.7" cy="129.8" r="0.4" fill="#5a52b4" fill-opacity="0.4"/>
<circle cx="460.8" cy="150.6" r="0.3" fill="#5a52b4" fill-opacity="0.8"/>
<circle cx="442.3" cy="149.4" r="0.4" fill="#5a52b4" fill-opacity="0.7"/>
<circle cx="463.9" cy="142.9" r="0.4" fill="#5a52b4" fill-opacity="0.6"/>
<circle cx="464.8" cy="160.1" r="0.3" fill="#5a52b4" fill-opacity="0.7"/>
<circle cx="453.3" cy="138.7" r="0.4" fill="#5a52b4" fill-opacity="0.7"/>
<circle cx="455.1" cy="132.6" r="0.4" fill="#5a52b4" fill-opacity="0.8"/>
<circle cx="451.5" cy="157.8" r="0.3" fill="#5a52b4" fill-opacity="0.5"/>
<circle cx="472.4" cy="131.8" r="0.3" fill="#5a52b4" fill-opacity="0.4"/>
<circle cx="468.6" cy="152.9" r="0.5" fill="#5a52b4" fill-opacity="0.8"/>
<circle cx="450.0" cy="132.5" r="0.4" fill="#5a52b4" fill-opacity="0.5"/>
<circle cx="472.7" cy="141.5" r="0.4" fill="#5a52b4" fill-opacity="0.6"/>
<circle cx="464.2" cy="132.3" r="0.5" fill="#5a52b4" fill-opacity="0.4"/>
<circle cx="451.3" cy="153.7" r="0.5" fill="#5a52b4" fill-opacity="0.5"/>
<circle cx="456.5" cy="128.2" r="0.4" fill="#5a52b4" fill-opacity="0.4"/>
<circle cx="455.8" cy="156.7" r="0.5" fill="#5a52b4" fill-opacity="0.4"/>
<circle cx="445.7" cy="141.9" r="0.4" fill="#5a52b4" fill-opacity="0.8"/>
<circle cx="473.5" cy="144.2" r="0.5" fill="#5a52b4" fill-opacity="0.5"/>
<circle cx="450.2" cy="147.9" r="0.5" fill="#5a52b4" fill-opacity="0.3"/>
<circle cx="456.3" cy="159.4" r="0.3" fill="#5a52b4" fill-opacity="0.7"/>
<circle cx="453.3" cy="162.1" r="0.3" fill="#5a52b4" fill-opacity="0.7"/>
<circle cx="450.4" cy="130.3" r="0.4" fill="#5a52b4" fill-opacity="0.7"/>
<circle cx="475.9" cy="146.9" r="0.3" fill="#5a52b4" fill-opacity="0.5"/>
<circle cx="466.0" cy="149.8" r="0.5" fill="#5a52b4" fill-opacity="0.6"/>
<circle cx="475.4" cy="134.4" r="0.4" fill="#5a52b4" fill-opacity="0.8"/>
<circle cx="476.5" cy="151.5" r="0.5" fill="#5a52b4" fill-opacity="0.3"/>
<circle cx="461.3" cy="124.4" r="0.3" fill="#5a52b4" fill-opacity="0.6"/>
<circle cx="476.7" cy="137.3" r="0.4" fill="#5a52b4" fill-opacity="0.7"/>
<circle cx="449.4" cy="128.1" r="0.4" fill="#5a52b4" fill-opacity="0.3"/>
<circle cx="463.5" cy="144.6" r="0.3" fill="#5a52b4" fill-opacity="0.4"/>
<circle cx="445.9" cy="134.4" r="0.3" fill="#5a52b4" fill-opacity="0.3"/>
<circle cx="441.3" cy="134.0" r="0.5" fill="#5a52b4" fill-opacity="0.6"/>
<circle cx="441.2" cy="134.5" r="0.5" fill="#5a52b4" fill-opacity="0.5"/>
<circle cx="448.5" cy="127.2" r="0.4" fill="#5a52b4" fill-opacity="0.5"/>
<circle cx="443.9" cy="134.6" r="0.3" fill="#5a52b4" fill-opacity="0.8"/>
<circle cx="458.3" cy="160.2" r="0.3" fill="#5a52b4" fill-opacity="0.6"/>
<circle cx="461.1" cy="146.4" r="0.4" fill="#5a52b4" fill-opacity="0.6"/>
<circle cx="467.8" cy="127.6" r="0.3" fill="#5a52b4" fill-opacity="0.3"/>
<circle cx="474.9" cy="139.2" r="0.5" fill="#5a52b4" fill-opacity="0.6"/>
<circle cx="463.8" cy="155.4" r="0.4" fill="#5a52b4" fill-opacity="0.3"/>
<circle cx="442.4" cy="141.4" r="0.3" fill="#5a52b4" fill-opacity="0.7"/>
<circle cx="448.8" cy="135.5" r="0.4" fill="#5a52b4" fill-opacity="0.7"/>
<circle cx="441.9" cy="148.7" r="0.3" fill="#5a52b4" fill-opacity="0.6"/>
<circle cx="456.7" cy="145.9" r="0.3" fill="#5a52b4" fill-opacity="0.4"/>
<circle cx="454.1" cy="147.6" r="0.3" fill="#5a52b4" fill-opacity="0.7"/>
<circle cx="459.9" cy="150.1" r="0.5" fill="#5a52b4" fill-opacity="0.5"/>
<circle cx="470.9" cy="150.4" r="0.3" fill="#5a52b4" fill-opacity="0.5"/>
<circle cx="456.8" cy="144.7" r="0.3" fill="#5a52b4" fill-opacity="0.4"/>
<circle cx="454.6" cy="133.0" r="0.5" fill="#5a52b4" fill-opacity="0.8"/>
<circle cx="457.0" cy="139.4" r="0.3" fill="#5a52b4" fill-opacity="0.5"/>
<circle cx="448.5" cy="146.8" r="0.4" fill="#5a52b4" fill-opacity="0.3"/>
<circle cx="445.7" cy="143.1" r="0.3" fill="#5a52b4" fill-opacity="0.4"/>
<circle cx="448.7" cy="131.3" r="0.4" fill="#5a52b4" fill-opacity="0.3"/>
<circle cx="462.5" cy="154.4" r="0.3" fill="#5a52b4" fill-opacity="0.5"/>
<circle cx="473.3" cy="142.7" r="0.4" fill="#5a52b4" fill-opacity="0.5"/>
<circle cx="448.8" cy="142.3" r="0.3" fill="#5a52b4" fill-opacity="0.7"/>
<circle cx="458.1" cy="144.5" r="0.3" fill="#5a52b4" fill-opacity="0.5"/>
<circle cx="460.5" cy="131.3" r="0.5" fill="#5a52b4" fill-opacity="0.7"/>
<circle cx="452.1" cy="142.8" r="0.4" fill="#5a52b4" fill-opacity="0.7"/>
<circle cx="458.2" cy="149.3" r="0.4" fill="#5a52b4" fill-opacity="0.5"/>
<circle cx="477.7" cy="137.7" r="0.3" fill="#5a52b4" fill-opacity="0.7"/>
<circle cx="447.2" cy="143.3" r="0.4" fill="#5a52b4" fill-opacity="0.5"/>
<circle cx="476.8" cy="146.8" r="0.3" fill="#5a52b4" fill-opacity="0.4"/>
<circle cx="454.2" cy="135.7" r="0.4" fill="#5a52b4" fill-opacity="0.4"/>
<circle cx="478.3" cy="137.6" r="0.3" fill="#5a52b4" fill-opacity="0.7"/>
<circle cx="461.7" cy="135.3" r="0.4" fill="#5a52b4" fill-opacity="0.6"/>
<circle cx="459.6" cy="146.5" r="0.3" fill="#5a52b4" fill-opacity="0.6"/>
<circle cx="460.3" cy="144.5" r="0.4" fill="#5a52b4" fill-opacity="0.6"/>
<circle cx="444.6" cy="152.4" r="0.4" fill="#5a52b4" fill-opacity="0.7"/>
<circle cx="462.9" cy="128.0" r="0.3" fill="#5a52b4" fill-opacity="0.8"/>
<circle cx="451.5" cy="140.1" r="0.3" fill="#5a52b4" fill-opacity="0.5"/>
<circle cx="464.4" cy="155.6" r="0.3" fill="#5a52b4" fill-opacity="0.6"/>
<circle cx="447.1" cy="132.1" r="0.4" fill="#5a52b4" fill-opacity="0.6"/>
<circle cx="460.6" cy="141.7" r="0.4" fill="#5a52b4" fill-opacity="0.3"/>
<circle cx="466.2" cy="137.4" r="0.4" fill="#5a52b4" fill-opacity="0.8"/>
<circle cx="463.9" cy="131.6" r="0.3" fill="#5a52b4" fill-opacity="0.5"/>
<circle cx="463.2" cy="153.1" r="0.3" fill="#5a52b4" fill-opacity="0.3"/>
<circle cx="450.8" cy="158.5" r="0.4" fill="#2c1f86" fill-opacity="0.7"/>
<circle cx="473.8" cy="156.2" r="0.6" fill="#2c1f86" fill-opacity="0.6"/>
<circle cx="461.7" cy="158.2" r="0.4" fill="#2c1f86" fill-opacity="0.9"/>
<circle cx="465.6" cy="153.4" r="0.9" fill="#2c1f86" fill-opacity="0.8"/>
<circle cx="466.9" cy="145.9" r="0.9" fill="#2c1f86" fill-opacity="0.9"/>
<circle cx="468.9" cy="137.3" r="0.6" fill="#2c1f86" fill-opacity="0.6"/>
<circle cx="463.2" cy="123.9" r="0.5" fill="#2c1f86" fill-opacity="0.8"/>
<circle cx="440.5" cy="139.2" r="0.7" fill="#2c1f86" fill-opacity="0.6"/>
<circle cx="453.8" cy="161.9" r="0.4" fill="#2c1f86" fill-opacity="0.6"/>
<circle cx="455.4" cy="134.2" r="0.7" fill="#2c1f86" fill-opacity="0.6"/>
<circle cx="464.4" cy="150.2" r="0.8" fill="#2c1f86" fill-opacity="0.8"/>
<circle cx="456.6" cy="140.8" r="0.5" fill="#2c1f86" fill-opacity="0.8"/>
<circle cx="461.5" cy="135.1" r="0.5" fill="#2c1f86" fill-opacity="0.7"/>
<circle cx="452.1" cy="136.8" r="0.4" fill="#2c1f86" fill-opacity="0.8"/>
<circle cx="454.0" cy="124.3" r="0.7" fill="#2c1f86" fill-opacity="0.6"/>
<circle cx="463.4" cy="138.2" r="0.4" fill="#2c1f86" fill-opacity="0.8"/>
<circle cx="467.7" cy="137.9" r="0.8" fill="#2c1f86" fill-opacity="0.9"/>
<circle cx="442.1" cy="133.5" r="0.7" fill="#2c1f86" fill-opacity="0.6"/>
<circle cx="453.1" cy="158.4" r="0.6" fill="#2c1f86" fill-opacity="0.8"/>
<circle cx="460.8" cy="156.6" r="0.6" fill="#2c1f86" fill-opacity="0.8"/>
<circle cx="466.6" cy="131.9" r="0.7" fill="#2c1f86" fill-opacity="0.7"/>
<circle cx="461.0" cy="161.3" r="0.7" fill="#2c1f86" fill-opacity="0.9"/>
<circle cx="453.2" cy="133.9" r="0.6" fill="#2c1f86" fill-opacity="0.6"/>
<circle cx="463.2" cy="142.2" r="0.8" fill="#2c1f86" fill-opacity="0.8"/>
<circle cx="478.2" cy="145.7" r="0.5" fill="#2c1f86" fill-opacity="0.9"/>
<circle cx="460.7" cy="152.7" r="0.7" fill="#2c1f86" fill-opacity="0.9"/>
<circle cx="457.0" cy="128.4" r="0.6" fill="#2c1f86" fill-opacity="0.5"/>
<circle cx="462.1" cy="137.6" r="0.5" fill="#2c1f86" fill-opacity="0.9"/>
<circle cx="469.5" cy="146.9" r="0.5" fill="#2c1f86" fill-opacity="0.8"/>
<circle cx="460.4" cy="147.6" r="0.7" fill="#2c1f86" fill-opacity="0.6"/>
</g>
<clipPath id="clip106"><circle cx="506.2" cy="143.3" r="20.1"/></clipPath>
<circle cx="506.2" cy="143.3" r="20.1" fill="#b4b7dc"/>
<g clip-path="url(#clip106)">
<circle cx="501.5" cy="124.8" r="0.3" fill="#5a52b4" fill-opacity="0.8"/>
<circle cx="508.3" cy="139.0" r="0.5" fill="#5a52b4" fill-opacity="0.7"/>
<circle cx="513.8" cy="161.6" r="0.3" fill="#5a52b4" fill-opacity="0.5"/>
<circle cx="496.7" cy="129.6" r="0.4" fill="#5a52b4" fill-opacity="0.4"/>
<circle cx="498.8" cy="144.0" r="0.3" fill="#5a52b4" fill-opacity="0.5"/>
<circle cx="516.8" cy="148.7" r="0.5" fill="#5a52b4" fill-opacity="0.4"/>
<circle cx="502.6" cy="144.9" r="0.4" fill="#5a52b4" fill-opacity="0.4"/>
<circle cx="513.4" cy="159.1" r="0.4" fill="#5a52b4" fill-opacity="0.6"/>
<circle cx="495.2" cy="134.3" r="0.4" fill="#5a52b4" fill-opacity="0.4"/>
<circle cx="511.9" cy="150.4" r="0.3" fill="#5a52b4" fill-opacity="0.5"/>
<circle cx="513.4" cy="137.5" r="0.3" fill="#5a52b4" fill-opacity="0.4"/>
<circle cx="518.6" cy="156.8" r="0.5" fill="#5a52b4" fill-opacity="0.7"/>
<circle cx="520.5" cy="139.0" r="0.4" fill="#5a52b4" fill-opacity="0.5"/>
<circle cx="500.5" cy="135.3" r="0.4" fill="#5a52b4" fill-opacity="0.5"/>
<circle cx="497.0" cy="126.9" r="0.4" fill="#5a52b4" fill-opacity="0.4"/>
<circle cx="491.9" cy="133.8" r="0.4" fill="#5a52b4" fill-opacity="0.3"/>
<circle cx="518.4" cy="151.5" r="0.4" fill="#5a52b4" fill-opacity="0.5"/>
<circle cx="504.2" cy="128.5" r="0.5" fill="#5a52b4" fill-opacity="0.4"/>
<circle cx="514.7" cy="128.1" r="0.3" fill="#5a52b4" fill-opacity="0.4"/>
<circle cx="501.4" cy="160.5" r="0.4" fill="#5a52b4" fill-opacity="0.3"/>
<circle cx="505.2" cy="132.2" r="0.5" fill="#5a52b4" fill-opacity="0.4"/>
<circle cx="515.5" cy="150.2" r="0.4" fill="#5a52b4" fill-opacity="0.5"/>
<circle cx="499.8" cy="141.8" r="0.3" fill="#5a52b4" fill-opacity="0.3"/>
<circle cx="520.2" cy="142.2" r="0.3" fill="#5a52b4" fill-opacity="0.4"/>
<circle cx="505.1" cy="142.4" r="0.3" fill="#5a52b4" fill-opacity="0.6"/>
<circle cx="489.5" cy="140.4" r="0.5" fill="#5a52b4" fill-opacity="0.5"/>
<circle cx="507.7" cy="125.3" r="0.5" fill="#5a52b4" fill-opacity="0.6"/>
<circle cx="506.5" cy="139.6" r="0.3" fill="#5a52b4" fill-opacity="0.6"/>
<circle cx="491.4" cy="138.0" r="0.4" fill="#5a52b4" fill-opacity="0.3"/>
<circle cx="502.4" cy="151.4" r="0.4" fill="#5a52b4" fill-opacity="0.4"/>
<circle cx="507.1" cy="128.6" r="0.3" fill="#5a52b4" fill-opacity="0.6"/>
<circle cx="515.1" cy="135.9" r="0.3" fill="#5a52b4" fill-opacity="0.7"/>
<circle cx="501.5" cy="161.7" r="0.4" fill="#5a52b4" fill-opacity="0.5"/>
<circle cx="509.9" cy="137.6" r="0.5" fill="#5a52b4" fill-opacity="0.4"/>
<circle cx="509.4" cy="123.9" r="0.5" fill="#5a52b4" fill-opacity="0.5"/>
<circle cx="520.5" cy="140.4" r="0.3" fill="#5a52b4" fill-opacity="0.5"/>
<circle cx="519.9" cy="151.4" r="0.4" fill="#5a52b4" fill-opacity="0.6"/>
<circle cx="516.3" cy="134.4" r="0.3" fill="#5a52b4" fill-opacity="0.6"/>
<circle cx="519.5" cy="151.4" r="0.4" fill="#5a52b4" fill-opacity="0.5"/>
<circle cx="503.0" cy="138.2" r="0.3" fill="#5a52b4" fill-opacity="0.4"/>
<circle cx="507.7" cy="150.1" r="0.3" fill="#5a52b4" fill-opacity="0.7"/>
<circle cx="521.8" cy="141.1" r="0.4" fill="#5a52b4" fill-opacity="0.3"/>
<circle cx="497.1" cy="157.8" r="0.5" fill="#5a52b4" fill-opacity="0.3"/>
<circle cx="526.0" cy="142.2" r="0.3" fill="#5a52b4" fill-opacity="0.5"/>
<circle cx="516.3" cy="137.2" r="0.3" fill="#5a52b4" fill-opacity="0.6"/>
<circle cx="493.7" cy="130.9" r="0.3" fill="#5a52b4" fill-opacity="0.6"/>
<circle cx="512.9" cy="161.6" r="0.5" fill="#5a52b4" fill-opacity="0.8"/>
<circle cx="511.8" cy="149.7" r="0.5" fill="#5a52b4" fill-opacity="0.5"/>
<circle cx="515.6" cy="130.2" r="0.3" fill="#5a52b4" fill-opacity="0.4"/>
<circle cx="504.7" cy="132.9" r="0.4" fill="#5a52b4" fill-opacity="0.6"/>
<circle cx="512.2" cy="145.4" r="0.4" fill="#5a52b4" fill-opacity="0.3"/>
<circle cx="499.2" cy="153.7" r="0.3" fill="#5a52b4" fill-opacity="0.3"/>
<circle cx="507.6" cy="126.7" r="0.4" fill="#5a52b4" fill-opacity="0.5"/>
<circle cx="518.0" cy="136.3" r="0.3" fill="#5a52b4" fill-opacity="0.6"/>
<circle cx="491.3" cy="144.3" r="0.3" fill="#5a52b4" fill-opacity="0.6"/>
<circle cx="522.2" cy="147.4" r="0.5" fill="#5a52b4" fill-opacity="0.7"/>
<circle cx="516.8" cy="126.5" r="0.4" fill="#5a52b4" fill-opacity="0.5"/>
<circle cx="505.8" cy="133.9" r="0.3" fill="#5a52b4" fill-opacity="0.6"/>
<circle cx="525.6" cy="147.6" r="0.5" fill="#5a52b4" fill-opacity="0.6"/>
<circle cx="497.7" cy="135.2" r="0.4" fill="#5a52b4" fill-opacity="0.3"/>
<circle cx="501.1" cy="150.4" r="0.4" fill="#5a52b4" fill-opacity="0.6"/>
<circle cx="509.8" cy="138.9" r="0.3" fill="#5a52b4" fill-opacity="0.6"/>
<circle cx="520.1" cy="137.6" r="0.4" fill="#5a52b4" fill-opacity="0.7"/>
<circle cx="506.5" cy="144.2" r="0.4" fill="#5a52b4" fill-opacity="0.6"/>
<circle cx="518.2" cy="154.9" r="0.4" fill="#5a52b4" fill-opacity="0.7"/>
<circle cx="503.6" cy="147.8" r="0.3" fill="#5a52b4" fill-opacity="0.4"/>
<circle cx="498.5" cy="157.5" r="0.3" fill="#5a52b4" fill-opacity="0.8"/>
<circle cx="515.5" cy="159.6" r="0.3" fill="#5a52b4" fill-opacity="0.8"/>
<circle cx="508.3" cy="158.1" r="0.3" fill="#5a52b4" fill-opacity="0.7"/>
<circle cx="493.1" cy="132.1" r="0.4" fill="#5a52b4" fill-opacity="0.4"/>
<circle cx="498.2" cy="160.1" r="0.4" fill="#5a52b4" fill-opacity="0.4"/>
<circle cx="519.0" cy="150.2" r="0.5" fill="#5a52b4" fill-opacity="0.6"/>
<circle cx="507.2" cy="138.3" r="0.4" fill="#5a52b4" fill-opacity="0.5"/>
<circle cx="508.4" cy="162.7" r="0.5" fill="#5a52b4" fill-opacity="0.5"/>
<circle cx="515.4" cy="142.7" r="0.5" fill="#5a52b4" fill-opacity="0.5"/>
<circle cx="488.1" cy="151.7" r="0.4" fill="#5a52b4" fill-opacity="0.6"/>
<circle cx="497.4" cy="129.7" r="0.5" fill="#5a52b4" fill-opacity="0.6"/>
<circle cx="496.9" cy="155.8" r="0.4" fill="#5a52b4" fill-opacity="0.4"/>
<circle cx="522.6" cy="153.3" r="0.4" fill="#5a52b4" fill-opacity="0.6"/>
<circle cx="514.2" cy="155.8" r="0.5" fill="#5a52b4" fill-opacity="0.7"/>
<circle cx="497.9" cy="130.6" r="0.3" fill="#5a52b4" fill-opacity="0.3"/>
<circle cx="518.7" cy="152.8" r="0.5" fill="#5a52b4" fill-opacity="0.8"/>
<circle cx="504.2" cy="126.3" r="0.3" fill="#5a52b4" fill-opacity="0.3"/>
<circle cx="507.4" cy="133.1" r="0.4" fill="#5a52b4" fill-opacity="0.7"/>
<circle cx="522.6" cy="150.3" r="0.3" fill="#5a52b4" fill-opacity="0.6"/>
<circle cx="490.4" cy="152.3" r="0.4" fill="#5a52b4" fill-opacity="0.8"/>
<circle cx="501.8" cy="125.8" r="0.4" fill="#5a52b4" fill-opacity="0.5"/>
<circle cx="491.7" cy="140.4" r="0.3" fill="#5a52b4" fill-opacity="0.3"/>
<circle cx="501.9" cy="155.4" r="0.3" fill="#5a52b4" fill-opacity="0.7"/>
<circle cx="502.1" cy="156.7" r="0.5" fill="#5a52b4" fill-opacity="0.7"/>
<circle cx="493.1" cy="148.1" r="0.3" fill="#5a52b4" fill-opacity="0.3"/>
<circle cx="502.0" cy="142.0" r="0.4" fill="#5a52b4" fill-opacity="0.4"/>
<circle cx="509.0" cy="160.5" r="0.3" fill="#5a52b4" fill-opacity="0.7"/>
<circle cx="520.2" cy="144.6" r="0.4" fill="#5a52b4" fill-opacity="0.4"/>
<circle cx="497.7" cy="159.7" r="0.3" fill="#5a52b4" fill-opacity="0.4"/>
<circle cx="494.4" cy="148.2" r="0.4" fill="#5a52b4" fill-opacity="0.6"/>
<circle cx="497.3" cy="138.8" r="0.4" fill="#5a52b4" fill-opacity="0.6"/>
<circle cx="510.4" cy="133.9" r="0.3" fill="#5a52b4" fill-opacity="0.5"/>
<circle cx="510.5" cy="130.5" r="0.3" fill="#5a52b4" fill-opacity="0.6"/>
<circle cx="515.5" cy="148.2" r="0.5" fill="#5a52b4" fill-opacity="0.5"/>
<circle cx="502.6" cy="137.6" r="0.3" fill="#5a52b4" fill-opacity="0.8"/>
<circle cx="521.5" cy="151.7" r="0.3" fill="#5a52b4" fill-opacity="0.6"/>
<circle cx="497.2" cy="144.9" r="0.4" fill="#5a52b4" fill-opacity="0.8"/>
<circle cx="492.0" cy="134.0" r="0.3" fill="#5a52b4" fill-opacity="0.8"/>
<circle cx="491.0" cy="145.5" r="0.4" fill="#5a52b4" fill-opacity="0.4"/>
<circle cx="506.4" cy="160.8" r="0.5" fill="#5a52b4" fill-opacity="0.7"/>
<circle cx="521.3" cy="142.8" r="0.3" fill="#5a52b4" fill-opacity="0.6"/>
<circle cx="509.6" cy="145.2" r="0.3" fill="#5a52b4" fill-opacity="0.6"/>
<circle cx="518.0" cy="134.7" r="0.4" fill="#5a52b4" fill-opacity="0.6"/>
<circle cx="521.5" cy="149.6" r="0.5" fill="#5a52b4" fill-opacity="0.3"/>
<circle cx="519.4" cy="135.4" r="0.4" fill="#5a52b4" fill-opacity="0.3"/>
<circle cx="494.2" cy="131.7" r="0.5" fill="#5a52b4" fill-opacity="0.4"/>
<circle cx="503.9" cy="162.8" r="0.5" fill="#5a52b4" fill-opacity="0.5"/>
<circle cx="501.9" cy="135.5" r="0.4" fill="#5a52b4" fill-opacity="0.8"/>
<circle cx="510.3" cy="154.4" r="0.5" fill="#5a52b4" fill-opacity="0.4"/>
<circle cx="510.2" cy="128.5" r="0.4" fill="#5a52b4" fill-opacity="0.5"/>
<circle cx="523.9" cy="139.5" r="0.4" fill="#5a52b4" fill-opacity="0.4"/>
<circle cx="524.0" cy="134.2" r="0.4" fill="#5a52b4" fill-opacity="0.3"/>
<circle cx="494.6" cy="154.2" r="0.5" fill="#5a52b4" fill-opacity="0.8"/>
<circle cx="493.2" cy="142.0" r="0.4" fill="#5a52b4" fill-opacity="0.7"/>
<circle cx="497.5" cy="129.7" r="0.3" fill="#5a52b4" fill-opacity="0.7"/>
<circle cx="503.2" cy="153.7" r="0.3" fill="#5a52b4" fill-opacity="0.6"/>
<circle cx="524.4" cy="147.5" r="0.3" fill="#5a52b4" fill-opacity="0.7"/>
<circle cx="501.2" cy="141.5" r="0.5" fill="#5a52b4" fill-opacity="0.6"/>
<circle cx="491.9" cy="131.1" r="0.5" fill="#5a52b4" fill-opacity="0.5"/>
<circle cx="490.2" cy="143.8" r="0.3" fill="#5a52b4" fill-opacity="0.4"/>
<circle cx="495.7" cy="159.2" r="0.5" fill="#5a52b4" fill-opacity="0.8"/>
<circle cx="522.2" cy="139.5" r="0.3" fill="#5a52b4" fill-opacity="0.5"/>
<circle cx="496.7" cy="133.9" r="0.4" fill="#5a52b4" fill-opacity="0.6"/>
<circle cx="501.7" cy="138.9" r="0.3" fill="#5a52b4" fill-opacity="0.3"/>
<circle cx="509.3" cy="131.7" r="0.4" fill="#5a52b4" fill-opacity="0.4"/>
<circle cx="503.8" cy="145.2" r="0.4" fill="#5a52b4" fill-opacity="0.5"/>
<circle cx="508.9" cy="160.1" r="0.4" fill="#5a52b4" fill-opacity="0.4"/>
<circle cx="502.3" cy="162.5" r="0.3" fill="#5a52b4" fill-opacity="0.8"/>
<circle cx="490.9" cy="132.3" r="0.5" fill="#5a52b4" fill-opacity="0.7"/>
<circle cx="499.7" cy="161.2" r="0.3" fill="#5a52b4" fill-opacity="0.7"/>
<circle cx="516.1" cy="131.3" r="0.3" fill="#5a52b4" fill-opacity="0.7"/>
<circle cx="499.4" cy="154.8" r="0.4" fill="#5a52b4" fill-opacity="0.6"/>
<circle cx="487.2" cy="145.3" r="0.3" fill="#5a52b4" fill-opacity="0.7"/>
<circle cx="496.0" cy="135.2" r="0.3" fill="#5a52b4" fill-opacity="0.4"/>
<circle cx="505.5" cy="145.4" r="0.5" fill="#5a52b4" fill-opacity="0.7"/>
<circle cx="497.4" cy="135.0" r="0.4" fill="#5a52b4" fill-opacity="0.4"/>
<circle cx="499.3" cy="131.7" r="0.4" fill="#5a52b4" fill-opacity="0.4"/>
<circle cx="510.2" cy="152.2" r="0.4" fill="#5a52b4" fill-opacity="0.3"/>
<circle cx="513.0" cy="153.3" r="0.4" fill="#5a52b4" fill-opacity="0.8"/>
<circle cx="499.5" cy="129.0" r="0.4" fill="#5a52b4" fill-opacity="0.6"/>
<circle cx="513.0" cy="160.9" r="0.5" fill="#5a52b4" fill-opacity="0.4"/>
<circle cx="501.1" cy="159.3" r="0.4" fill="#5a52b4" fill-opacity="0.8"/>
<circle cx="489.1" cy="140.4" r="0.3" fill="#5a52b4" fill-opacity="0.4"/>
<circle cx="518.8" cy="152.4" r="0.3" fill="#5a52b4" fill-opacity="0.7"/>
<circle cx="492.2" cy="136.8" r="0.4" fill="#5a52b4" fill-opacity="0.7"/>
<circle cx="513.0" cy="147.1" r="0.3" fill="#5a52b4" fill-opacity="0.8"/>
<circle cx="495.7" cy="129.8" r="0.3" fill="#5a52b4" fill-opacity="0.4"/>
<circle cx="487.6" cy="140.3" r="0.4" fill="#5a52b4" fill-opacity="0.4"/>
<circle cx="507.2" cy="139.1" r="0.3" fill="#5a52b4" fill-opacity="0.8"/>
<circle cx="492.4" cy="139.9" r="0.3" fill="#5a52b4" fill-opacity="0.8"/>
<circle cx="494.3" cy="144.3" r="0.3" fill="#5a52b4" fill-opacity="0.4"/>
<circle cx="500.0" cy="136.4" r="0.3" fill="#5a52b4" fill-opacity="0.5"/>
<circle cx="511.2" cy="138.4" r="0.5" fill="#5a52b4" fill-opacity="0.8"/>
<circle cx="505.3" cy="135.9" r="0.4" fill="#5a52b4" fill-opacity="0.6"/>
<circle cx="493.3" cy="148.6" r="0.4" fill="#5a52b4" fill-opacity="0.7"/>
<circle cx="498.2" cy="129.7" r="0.3" fill="#5a52b4" fill-opacity="0.4"/>
<circle cx="498.2" cy="141.3" r="0.4" fill="#5a52b4" fill-opacity="0.5"/>
<circle cx="505.4" cy="158.4" r="0.3" fill="#5a52b4" fill-opacity="0.5"/>
<circle cx="494.9" cy="156.8" r="0.5" fill="#5a52b4" fill-opacity="0.5"/>
<circle cx="495.4" cy="129.5" r="0.5" fill="#5a52b4" fill-opacity="0.7"/>
<circle cx="519.0" cy="155.7" r="0.3" fill="#5a52b4" fill-opacity="0.3"/>
<circle cx="496.8" cy="142.2" r="0.3" fill="#5a52b4" fill-opacity="0.6"/>
<circle cx="514.2" cy="135.7" r="0.4" fill="#5a52b4" fill-opacity="0.5"/>
<circle cx="499.8" cy="159.8" r="0.5" fill="#5a52b4" fill-opacity="0.5"/>
<circle cx="517.8" cy="155.1" r="0.5" fill="#5a52b4" fill-opacity="0.5"/>
<circle cx="520.3" cy="132.6" r="0.3" fill="#5a52b4" fill-opacity="0.5"/>
<circle cx="503.0" cy="136.1" r="0.4" fill="#5a52b4" fill-opacity="0.8"/>
<circle cx="508.9" cy="147.9" r="0.5" fill="#5a52b4" fill-opacity="0.7"/>
<circle cx="502.9" cy="151.0" r="0.3" fill="#5a52b4" fill-opacity="0.5"/>
<circle cx="502.0" cy="141.3" r="0.3" fill="#5a52b4" fill-opacity="0.3"/>
<circle cx="495.5" cy="139.3" r="0.4" fill="#5a52b4" fill-opacity="0.5"/>
<circle cx="503.7" cy="161.5" r="0.4" fill="#5a52b4" fill-opacity="0.8"/>
<circle cx="513.0" cy="141.8" r="0.4" fill="#5a52b4" fill-opacity="0.8"/>
<circle cx="508.2" cy="124.4" r="0.3" fill="#5a52b4" fill-opacity="0.7"/>
<circle cx="510.3" cy="160.1" r="0.3" fill="#5a52b4" fill-opacity="0.5"/>
<circle cx="506.8" cy="153.6" r="0.3" fill="#5a52b4" fill-opacity="0.5"/>
<circle cx="522.9" cy="138.6" r="0.3" fill="#5a52b4" fill-opacity="0.8"/>
<circle cx="500.7" cy="158.3" r="0.5" fill="#5a52b4" fill-opacity="0.6"/>
<circle cx="487.5" cy="138.8" r="0.3" fill="#5a52b4" fill-opacity="0.3"/>
<circle cx="497.6" cy="135.5" r="0.3" fill="#5a52b4" fill-opacity="0.6"/>
<circle cx="498.6" cy="156.4" r="0.4" fill="#5a52b4" fill-opacity="0.4"/>
<circle cx="496.0" cy="135.9" r="0.4" fill="#5a52b4" fill-opacity="0.4"/>
<circle cx="514.4" cy="126.9" r="0.3" fill="#5a52b4" fill-opacity="0.3"/>
<circle cx="497.0" cy="128.2" r="0.3" fill="#5a52b4" fill-opacity="0.4"/>
<circle cx="518.8" cy="151.2" r="0.3" fill="#5a52b4" fill-opacity="0.5"/>
<circle cx="519.6" cy="151.5" r="0.5" fill="#5a52b4" fill-opacity="0.5"/>
<circle cx="508.6" cy="138.1" r="0.5" fill="#5a52b4" fill-opacity="0.5"/>
<circle cx="499.6" cy="157.6" r="0.3" fill="#5a52b4" fill-opacity="0.6"/>
<circle cx="495.2" cy="131.3" r="0.4" fill="#5a52b4" fill-opacity="0.5"/>
<circle cx="510.7" cy="124.1" r="0.3" fill="#5a52b4" fill-opacity="0.7"/>
<circle cx="499.3" cy="132.0" r="0.4" fill="#5a52b4" fill-opacity="0.5"/>
<circle cx="520.6" cy="135.2" r="0.4" fill="#5a52b4" fill-opacity="0.8"/>
<circle cx="516.6" cy="130.1" r="0.3" fill="#5a52b4" fill-opacity="0.4"/>
<circle cx="492.6" cy="149.9" r="0.3" fill="#5a52b4" fill-opacity="0.4"/>
<circle cx="506.8" cy="149.5" r="0.5" fill="#5a52b4" fill-opacity="0.4"/>
<circle cx="492.8" cy="148.3" r="0.3" fill="#5a52b4" fill-opacity="0.5"/>
<circle cx="513.4" cy="145.2" r="0.4" fill="#5a52b4" fill-opacity="0.4"/>
<circle cx="505.6" cy="141.0" r="0.3" fill="#5a52b4" fill-opacity="0.5"/>
<circle cx="497.0" cy="129.1" r="0.3" fill="#5a52b4" fill-opacity="0.3"/>
<circle cx="502.6" cy="144.8" r="0.5" fill="#5a52b4" fill-opacity="0.4"/>
<circle cx="513.5" cy="152.2" r="0.4" fill="#5a52b4" fill-opacity="0.5"/>
<circle cx="492.0" cy="142.7" r="0.3" fill="#5a52b4" fill-opacity="0.8"/>
<circle cx="504.9" cy="138.1" r="0.4" fill="#5a52b4" fill-opacity="0.7"/>
<circle cx="516.0" cy="159.6" r="0.3" fill="#5a52b4" fill-opacity="0.6"/>
<circle cx="508.0" cy="124.3" r="0.4" fill="#5a52b4" fill-opacity="0.5"/>
<circle cx="519.6" cy="154.2" r="0.3" fill="#5a52b4" fill-opacity="0.8"/>
<circle cx="517.4" cy="155.5" r="0.5" fill="#5a52b4" fill-opacity="0.4"/>
<circle cx="520.5" cy="133.8" r="0.4" fill="#5a52b4" fill-opacity="0.4"/>
<circle cx="515.2" cy="141.3" r="0.3" fill="#5a52b4" fill-opacity="0.8"/>
<circle cx="505.5" cy="152.5" r="0.3" fill="#5a52b4" fill-opacity="0.8"/>
<circle cx="515.9" cy="142.2" r="0.4" fill="#5a52b4" fill-opacity="0.7"/>
<circle cx="487.5" cy="149.2" r="0.3" fill="#5a52b4" fill-opacity="0.7"/>
<circle cx="493.4" cy="155.8" r="0.4" fill="#5a52b4" fill-opacity="0.8"/>
<circle cx="513.9" cy="155.7" r="0.4" fill="#5a52b4" fill-opacity="0.4"/>
<circle cx="497.4" cy="143.8" r="0.3" fill="#5a52b4" fill-opacity="0.7"/>
<circle cx="488.3" cy="146.8" r="0.4" fill="#5a52b4" fill-opacity="0.4"/>
<circle cx="490.1" cy="134.8" r="0.4" fill="#5a52b4" fill-opacity="0.4"/>
<circle cx="495.3" cy="126.5" r="0.4" fill="#5a52b4" fill-opacity="0.6"/>
<circle cx="515.0" cy="132.4" r="0.4" fill="#5a52b4" fill-opacity="0.7"/>
<circle cx="507.3" cy="125.9" r="0.5" fill="#5a52b4" fill-opacity="0.5"/>
<circle cx="518.8" cy="148.8" r="0.4" fill="#5a52b4" fill-opacity="0.5"/>
<circle cx="496.5" cy="157.2" r="0.3" fill="#5a52b4" fill-opacity="0.4"/>
<circle cx="490.7" cy="155.9" r="0.5" fill="#5a52b4" fill-opacity="0.8"/>
<circle cx="516.6" cy="140.6" r="0.3" fill="#5a52b4" fill-opacity="0.4"/>
<circle cx="518.7" cy="135.2" r="0.3" fill="#5a52b4" fill-opacity="0.8"/>
<circle cx="493.3" cy="142.0" r="0.3" fill="#5a52b4" fill-opacity="0.5"/>
<circle cx="498.4" cy="131.1" r="0.3" fill="#5a52b4" fill-opacity="0.7"/>
<circle cx="508.5" cy="157.2" r="0.5" fill="#5a52b4" fill-opacity="0.4"/>
<circle cx="513.7" cy="147.0" r="0.3" fill="#5a52b4" fill-opacity="0.6"/>
<circle cx="523.3" cy="135.3" r="0.5" fill="#5a52b4" fill-opacity="0.5"/>
<circle cx="513.2" cy="143.9" r="0.5" fill="#5a52b4" fill-opacity="0.4"/>
<circle cx="515.3" cy="140.2" r="0.4" fill="#5a52b4" fill-opacity="0.7"/>
<circle cx="506.2" cy="126.4" r="0.5" fill="#5a52b4" fill-opacity="0.7"/>
<circle cx="506.8" cy="140.0" r="0.3" fill="#5a52b4" fill-opacity="0.7"/>
<circle cx="495.6" cy="132.2" r="0.4" fill="#5a52b4" fill-opacity="0.4"/>
<circle cx="517.0" cy="141.4" r="0.3" fill="#5a52b4" fill-opacity="0.6"/>
<circle cx="513.5" cy="158.7" r="0.4" fill="#5a52b4" fill-opacity="0.6"/>
<circle cx="501.0" cy="158.9" r="0.3" fill="#5a52b4" fill-opacity="0.7"/>
<circle cx="515.2" cy="126.5" r="0.4" fill="#5a52b4" fill-opacity="0.7"/>
<circle cx="507.9" cy="162.6" r="0.3" fill="#5a52b4" fill-opacity="0.4"/>
<circle cx="511.2" cy="131.5" r="0.4" fill="#5a52b4" fill-opacity="0.3"/>
<circle cx="499.3" cy="150.4" r="0.3" fill="#5a52b4" fill-opacity="0.4"/>
<circle cx="510.0" cy="148.5" r="0.5" fill="#5a52b4" fill-opacity="0.8"/>
<circle cx="504.2" cy="146.4" r="0.3" fill="#5a52b4" fill-opacity="0.4"/>
<circle cx="501.7" cy="160.9" r="0.5" fill="#5a52b4" fill-opacity="0.8"/>
<circle cx="502.1" cy="131.7" r="0.4" fill="#5a52b4" fill-opacity="0.4"/>
<circle cx="521.5" cy="138.8" r="0.4" fill="#5a52b4" fill-opacity="0.5"/>
<circle cx="524.0" cy="138.7" r="0.5" fill="#5a52b4" fill-opacity="0.3"/>
<circle cx="524.3" cy="141.0" r="0.4" fill="#5a52b4" fill-opacity="0.6"/>
<circle cx="498.9" cy="155.7" r="0.3" fill="#5a52b4" fill-opacity="0.3"/>
<circle cx="492.4" cy="148.8" r="0.4" fill="#5a52b4" fill-opacity="0.5"/>
<circle cx="487.7" cy="142.1" r="0.3" fill="#5a52b4" fill-opacity="0.7"/>
<circle cx="511.6" cy="140.6" r="0.5" fill="#5a52b4" fill-opacity="0.6"/>
<circle cx="496.3" cy="149.6" r="0.3" fill="#5a52b4" fill-opacity="0.6"/>
<circle cx="520.5" cy="151.1" r="0.4" fill="#5a52b4" fill-opacity="0.4"/>
<circle cx="519.7" cy="146.9" r="0.4" fill="#5a52b4" fill-opacity="0.6"/>
<circle cx="495.9" cy="144.6" r="0.4" fill="#5a52b4" fill-opacity="0.5"/>
<circle cx="517.6" cy="159.2" r="0.4" fill="#5a52b4" fill-opacity="0.6"/>
<circle cx="491.5" cy="155.7" r="0.5" fill="#5a52b4" fill-opacity="0.5"/>
<circle cx="493.5" cy="136.7" r="0.4" fill="#5a52b4" fill-opacity="0.7"/>
<circle cx="498.9" cy="151.9" r="0.5" fill="#5a52b4" fill-opacity="0.7"/>
<circle cx="496.3" cy="140.7" r="0.3" fill="#5a52b4" fill-opacity="0.6"/>
<circle cx="499.0" cy="158.7" r="0.3" fill="#5a52b4" fill-opacity="0.4"/>
<circle cx="500.2" cy="146.7" r="0.4" fill="#5a52b4" fill-opacity="0.4"/>
<circle cx="510.1" cy="158.0" r="0.4" fill="#5a52b4" fill-opacity="0.6"/>
<circle cx="522.9" cy="152.6" r="0.5" fill="#5a52b4" fill-opacity="0.5"/>
<circle cx="513.1" cy="127.3" r="0.4" fill="#5a52b4" fill-opacity="0.4"/>
<circle cx="498.6" cy="153.3" r="0.3" fill="#5a52b4" fill-opacity="0.8"/>
<circle cx="513.2" cy="124.8" r="0.3" fill="#5a52b4" fill-opacity="0.7"/>
<circle cx="520.0" cy="140.1" r="0.5" fill="#5a52b4" fill-opacity="0.5"/>
<circle cx="520.0" cy="140.9" r="0.3" fill="#5a52b4" fill-opacity="0.3"/>
<circle cx="510.3" cy="142.9" r="0.4" fill="#5a52b4" fill-opacity="0.5"/>
<circle cx="518.7" cy="150.2" r="0.4" fill="#5a52b4" fill-opacity="0.5"/>
<circle cx="498.5" cy="141.6" r="0.5" fill="#5a52b4" fill-opacity="0.5"/>
<circle cx="503.8" cy="142.2" r="0.4" fill="#5a52b4" fill-opacity="0.5"/>
<circle cx="491.7" cy="142.4" r="0.3" fill="#5a52b4" fill-opacity="0.6"/>
<circle cx="512.0" cy="135.2" r="0.5" fill="#5a52b4" fill-opacity="0.5"/>
<circle cx="517.3" cy="126.6" r="0.5" fill="#5a52b4" fill-opacity="0.4"/>
<circle cx="519.2" cy="132.1" r="0.3" fill="#5a52b4" fill-opacity="0.5"/>
<circle cx="501.3" cy="162.6" r="0.4" fill="#5a52b4" fill-opacity="0.4"/>
<circle cx="504.4" cy="147.3" r="0.4" fill="#5a52b4" fill-opacity="0.3"/>
<circle cx="496.6" cy="137.9" r="0.3" fill="#5a52b4" fill-opacity="0.8"/>
<circle cx="508.7" cy="149.4" r="0.5" fill="#5a52b4" fill-opacity="0.7"/>
<circle cx="525.7" cy="147.6" r="0.3" fill="#5a52b4" fill-opacity="0.6"/>
<circle cx="506.8" cy="140.5" r="0.3" fill="#5a52b4" fill-opacity="0.4"/>
<circle cx="500.5" cy="162.0" r="0.5" fill="#5a52b4" fill-opacity="0.7"/>
<circle cx="514.1" cy="146.9" r="0.4" fill="#5a52b4" fill-opacity="0.6"/>
<circle cx="497.6" cy="147.8" r="0.3" fill="#5a52b4" fill-opacity="0.5"/>
<circle cx="514.0" cy="147.3" r="0.3" fill="#5a52b4" fill-opacity="0.7"/>
<circle cx="490.6" cy="150.2" r="0.5" fill="#5a52b4" fill-opacity="0.3"/>
<circle cx="523.3" cy="132.8" r="0.3" fill="#5a52b4" fill-opacity="0.6"/>
<circle cx="512.8" cy="151.8" r="0.3" fill="#5a52b4" fill-opacity="0.4"/>
<circle cx="498.1" cy="126.8" r="0.3" fill="#5a52b4" fill-opacity="0.7"/>
<circle cx="497.1" cy="129.1" r="0.4" fill="#5a52b4" fill-opacity="0.8"/>
<circle cx="505.3" cy="123.8" r="0.4" fill="#5a52b4" fill-opacity="0.7"/>
<circle cx="503.9" cy="153.4" r="0.5" fill="#5a52b4" fill-opacity="0.6"/>
<circle cx="500.2" cy="160.9" r="0.3" fill="#5a52b4" fill-opacity="0.7"/>
<circle cx="508.6" cy="156.9" r="0.5" fill="#5a52b4" fill-opacity="0.8"/>
<circle cx="514.1" cy="146.6" r="0.3" fill="#5a52b4" fill-opacity="0.6"/>
<circle cx="522.2" cy="155.5" r="0.4" fill="#5a52b4" fill-opacity="0.4"/>
<circle cx="505.5" cy="157.4" r="0.5" fill="#5a52b4" fill-opacity="0.6"/>
<circle cx="514.4" cy="156.8" r="0.4" fill="#5a52b4" fill-opacity="0.4"/>
<circle cx="488.1" cy="150.8" r="0.3" fill="#5a52b4" fill-opacity="0.6"/>
<circle cx="503.3" cy="123.8" r="0.4" fill="#5a52b4" fill-opacity="0.7"/>
<circle cx="499.4" cy="140.8" r="0.4" fill="#5a52b4" fill-opacity="0.7"/>
<circle cx="513.1" cy="146.3" r="0.3" fill="#5a52b4" fill-opacity="0.6"/>
<circle cx="500.0" cy="128.0" r="0.4" fill="#5a52b4" fill-opacity="0.5"/>
<circle cx="509.9" cy="133.3" r="0.3" fill="#5a52b4" fill-opacity="0.7"/>
<circle cx="519.6" cy="154.6" r="0.4" fill="#5a52b4" fill-opacity="0.6"/>
<circle cx="511.2" cy="155.6" r="0.3" fill="#5a52b4" fill-opacity="0.4"/>
<circle cx="516.7" cy="139.7" r="0.4" fill="#5a52b4" fill-opacity="0.4"/>
<circle cx="517.1" cy="142.3" r="0.5" fill="#5a52b4" fill-opacity="0.8"/>
<circle cx="522.9" cy="153.5" r="0.4" fill="#5a52b4" fill-opacity="0.5"/>
<circle cx="501.9" cy="150.4" r="0.4" fill="#5a52b4" fill-opacity="0.4"/>
<circle cx="501.6" cy="141.8" r="0.5" fill="#5a52b4" fill-opacity="0.3"/>
<circle cx="508.3" cy="149.8" r="0.5" fill="#5a52b4" fill-opacity="0.6"/>
<circle cx="501.3" cy="135.9" r="0.3" fill="#5a52b4" fill-opacity="0.5"/>
<circle cx="517.3" cy="149.3" r="0.3" fill="#5a52b4" fill-opacity="0.7"/>
<circle cx="515.0" cy="149.5" r="0.3" fill="#5a52b4" fill-opacity="0.5"/>
<circle cx="497.9" cy="137.9" r="0.4" fill="#5a52b4" fill-opacity="0.3"/>
<circle cx="501.8" cy="153.4" r="0.4" fill="#5a52b4" fill-opacity="0.4"/>
<circle cx="505.3" cy="156.3" r="0.5" fill="#5a52b4" fill-opacity="0.8"/>
<circle cx="519.6" cy="148.6" r="0.4" fill="#5a52b4" fill-opacity="0.3"/>
<circle cx="519.7" cy="136.2" r="0.3" fill="#5a52b4" fill-opacity="0.7"/>
<circle cx="498.3" cy="147.3" r="0.5" fill="#5a52b4" fill-opacity="0.4"/>
<circle cx="502.0" cy="150.0" r="0.3" fill="#5a52b4" fill-opacity="0.6"/>
<circle cx="525.6" cy="140.3" r="0.5" fill="#5a52b4" fill-opacity="0.5"/>
<circle cx="513.6" cy="160.0" r="0.4" fill="#5a52b4" fill-opacity="0.6"/>
<circle cx="512.1" cy="157.5" r="0.3" fill="#5a52b4" fill-opacity="0.7"/>
<circle cx="506.8" cy="129.9" r="0.4" fill="#5a52b4" fill-opacity="0.8"/>
<circle cx="515.7" cy="145.0" r="0.3" fill="#5a52b4" fill-opacity="0.4"/>
<circle cx="524.2" cy="140.9" r="0.3" fill="#5a52b4" fill-opacity="0.5"/>
<circle cx="520.4" cy="131.0" r="0.3" fill="#5a52b4" fill-opacity="0.8"/>
<circle cx="519.3" cy="145.0" r="0.5" fill="#5a52b4" fill-opacity="0.8"/>
<circle cx="503.5" cy="153.0" r="0.4" fill="#5a52b4" fill-opacity="0.8"/>
<circle cx="504.8" cy="156.0" r="0.3" fill="#5a52b4" fill-opacity="0.4"/>
<circle cx="525.3" cy="139.3" r="0.4" fill="#5a52b4" fill-opacity="0.7"/>
<circle cx="490.4" cy="137.5" r="0.4" fill="#5a52b4" fill-opacity="0.7"/>
<circle cx="517.6" cy="130.7" r="0.5" fill="#5a52b4" fill-opacity="0.3"/>
<circle cx="519.3" cy="137.4" r="0.3" fill="#5a52b4" fill-opacity="0.8"/>
<circle cx="500.6" cy="161.4" r="0.4" fill="#5a52b4" fill-opacity="0.5"/>
<circle cx="510.6" cy="142.6" r="0.3" fill="#5a52b4" fill-opacity="0.6"/>
<circle cx="505.9" cy="140.7" r="0.5" fill="#5a52b4" fill-opacity="0.4"/>
<circle cx="516.8" cy="146.1" r="0.3" fill="#5a52b4" fill-opacity="0.4"/>
<circle cx="508.6" cy="129.0" r="0.5" fill="#5a52b4" fill-opacity="0.5"/>
<circle cx="507.2" cy="151.3" r="0.4" fill="#5a52b4" fill-opacity="0.6"/>
<circle cx="510.3" cy="148.7" r="0.4" fill="#5a52b4" fill-opacity="0.6"/>
<circle cx="503.3" cy="137.6" r="0.4" fill="#5a52b4" fill-opacity="0.6"/>
<circle cx="509.7" cy="155.9" r="0.4" fill="#5a52b4" fill-opacity="0.6"/>
<circle cx="514.8" cy="129.9" r="0.3" fill="#5a52b4" fill-opacity="0.4"/>
<circle cx="504.7" cy="151.2" r="0.3" fill="#5a52b4" fill-opacity="0.5"/>
<circle cx="495.2" cy="147.2" r="0.4" fill="#5a52b4" fill-opacity="0.6"/>
<circle cx="509.0" cy="157.9" r="0.3" fill="#5a52b4" fill-opacity="0.5"/>
<circle cx="522.1" cy="151.1" r="0.3" fill="#5a52b4" fill-opacity="0.7"/>
<circle cx="519.2" cy="154.3" r="0.3" fill="#5a52b4" fill-opacity="0.8"/>
<circle cx="510.2" cy="151.2" r="0.5" fill="#5a52b4" fill-opacity="0.3"/>
<circle cx="497.3" cy="152.9" r="0.3" fill="#5a52b4" fill-opacity="0.4"/>
<circle cx="512.0" cy="136.8" r="0.4" fill="#5a52b4" fill-opacity="0.6"/>
<circle cx="510.2" cy="155.0" r="0.4" fill="#5a52b4" fill-opacity="0.4"/>
<circle cx="492.9" cy="156.3" r="0.4" fill="#5a52b4" fill-opacity="0.4"/>
<circle cx="519.1" cy="137.6" r="0.3" fill="#5a52b4" fill-opacity="0.6"/>
<circle cx="516.9" cy="156.3" r="0.3" fill="#5a52b4" fill-opacity="0.6"/>
<circle cx="507.5" cy="139.4" r="0.3" fill="#5a52b4" fill-opacity="0.4"/>
<circle cx="506.0" cy="162.0" r="0.3" fill="#5a52b4" fill-opacity="0.6"/>
<circle cx="494.6" cy="148.7" r="0.4" fill="#5a52b4" fill-opacity="0.5"/>
<circle cx="517.0" cy="131.1" r="0.4" fill="#5a52b4" fill-opacity="0.5"/>
<circle cx="499.6" cy="132.5" r="0.4" fill="#5a52b4" fill-opacity="0.5"/>
<circle cx="512.9" cy="154.9" r="0.3" fill="#5a52b4" fill-opacity="0.4"/>
<circle cx="518.6" cy="158.1" r="0.3" fill="#5a52b4" fill-opacity="0.7"/>
<circle cx="494.1" cy="148.6" r="0.4" fill="#5a52b4" fill-opacity="0.8"/>
<circle cx="488.2" cy="141.2" r="0.3" fill="#5a52b4" fill-opacity="0.8"/>
<circle cx="512.6" cy="134.4" r="0.4" fill="#5a52b4" fill-opacity="0.6"/>
<circle cx="505.0" cy="142.6" r="0.3" fill="#5a52b4" fill-opacity="0.4"/>
<circle cx="491.0" cy="144.4" r="0.3" fill="#5a52b4" fill-opacity="0.4"/>
<circle cx="499.2" cy="153.5" r="0.3" fill="#5a52b4" fill-opacity="0.8"/>
<circle cx="499.5" cy="143.9" r="0.3" fill="#5a52b4" fill-opacity="0.8"/>
<circle cx="521.3" cy="150.8" r="0.3" fill="#5a52b4" fill-opacity="0.3"/>
<circle cx="512.6" cy="139.9" r="0.3" fill="#5a52b4" fill-opacity="0.7"/>
<circle cx="498.9" cy="140.9" r="0.3" fill="#5a52b4" fill-opacity="0.3"/>
<circle cx="491.3" cy="151.2" r="0.4" fill="#5a52b4" fill-opacity="0.5"/>
<circle cx="507.5" cy="147.4" r="0.3" fill="#5a52b4" fill-opacity="0.8"/>
<circle cx="491.3" cy="144.0" r="0.4" fill="#5a52b4" fill-opacity="0.4"/>
<circle cx="506.8" cy="163.2" r="0.4" fill="#5a52b4" fill-opacity="0.4"/>
<circle cx="508.8" cy="134.4" r="0.3" fill="#5a52b4" fill-opacity="0.5"/>
<circle cx="506.3" cy="123.5" r="0.3" fill="#5a52b4" fill-opacity="0.6"/>
<circle cx="508.2" cy="140.4" r="0.4" fill="#5a52b4" fill-opacity="0.5"/>
<circle cx="505.0" cy="161.1" r="0.5" fill="#5a52b4" fill-opacity="0.3"/>
<circle cx="498.7" cy="129.5" r="0.5" fill="#5a52b4" fill-opacity="0.3"/>
<circle cx="517.4" cy="143.3" r="0.4" fill="#5a52b4" fill-opacity="0.7"/>
<circle cx="489.1" cy="139.0" r="0.3" fill="#5a52b4" fill-opacity="0.5"/>
<circle cx="511.9" cy="160.3" r="0.4" fill="#5a52b4" fill-opacity="0.5"/>
<circle cx="495.5" cy="134.1" r="0.5" fill="#5a52b4" fill-opacity="0.4"/>
<circle cx="524.7" cy="141.8" r="0.3" fill="#5a52b4" fill-opacity="0.7"/>
<circle cx="493.1" cy="155.2" r="0.3" fill="#5a52b4" fill-opacity="0.5"/>
<circle cx="499.2" cy="159.7" r="0.5" fill="#5a52b4" fill-opacity="0.5"/>
<circle cx="507.2" cy="145.9" r="0.5" fill="#5a52b4" fill-opacity="0.3"/>
<circle cx="507.9" cy="145.5" r="0.5" fill="#5a52b4" fill-opacity="0.6"/>
<circle cx="508.3" cy="158.4" r="0.5" fill="#5a52b4" fill-opacity="0.5"/>
<circle cx="489.8" cy="152.8" r="0.3" fill="#5a52b4" fill-opacity="0.8"/>
<circle cx="493.6" cy="141.3" r="0.4" fill="#5a52b4" fill-opacity="0.4"/>
<circle cx="502.9" cy="153.8" r="0.3" fill="#5a52b4" fill-opacity="0.6"/>
<circle cx="520.8" cy="156.2" r="0.3" fill="#5a52b4" fill-opacity="0.4"/>
<circle cx="490.1" cy="139.4" r="0.4" fill="#5a52b4" fill-opacity="0.4"/>
<circle cx="501.7" cy="144.4" r="0.3" fill="#5a52b4" fill-opacity="0.6"/>
<circle cx="499.5" cy="156.5" r="0.4" fill="#5a52b4" fill-opacity="0.7"/>
<circle cx="498.5" cy="128.9" r="0.4" fill="#5a52b4" fill-opacity="0.5"/>
<circle cx="509.1" cy="152.3" r="0.3" fill="#5a52b4" fill-opacity="0.5"/>
<circle cx="504.1" cy="159.3" r="0.4" fill="#5a52b4" fill-opacity="0.6"/>
<circle cx="490.6" cy="140.5" r="0.4" fill="#5a52b4" fill-opacity="0.8"/>
<circle cx="503.8" cy="157.0" r="0.4" fill="#5a52b4" fill-opacity="0.6"/>
<circle cx="513.2" cy="154.1" r="0.4" fill="#5a52b4" fill-opacity="0.5"/>
<circle cx="497.1" cy="138.2" r="0.3" fill="#5a52b4" fill-opacity="0.3"/>
<circle cx="496.8" cy="153.1" r="0.3" fill="#5a52b4" fill-opacity="0.6"/>
<circle cx="509.2" cy="123.7" r="0.5" fill="#5a52b4" fill-opacity="0.6"/>
<circle cx="490.6" cy="149.8" r="0.3" fill="#5a52b4" fill-opacity="0.5"/>
<circle cx="523.2" cy="149.2" r="0.4" fill="#5a52b4" fill-opacity="0.6"/>
<circle cx="518.0" cy="131.1" r="0.5" fill="#5a52b4" fill-opacity="0.7"/>
<circle cx="517.0" cy="140.0" r="0.3" fill="#5a52b4" fill-opacity="0.6"/>
<circle cx="494.7" cy="131.9" r="0.3" fill="#5a52b4" fill-opacity="0.8"/>
<circle cx="524.4" cy="145.2" r="0.4" fill="#5a52b4" fill-opacity="0.8"/>
<circle cx="508.6" cy="161.8" r="0.4" fill="#5a52b4" fill-opacity="0.7"/>
<circle cx="521.9" cy="135.4" r="0.5" fill="#5a52b4" fill-opacity="0.8"/>
<circle cx="504.0" cy="154.7" r="0.4" fill="#5a52b4" fill-opacity="0.6"/>
<circle cx="509.7" cy="148.2" r="0.3" fill="#5a52b4" fill-opacity="0.7"/>
<circle cx="521.4" cy="143.2" r="0.3" fill="#5a52b4" fill-opacity="0.5"/>
<circle cx="500.7" cy="159.0" r="0.4" fill="#5a52b4" fill-opacity="0.3"/>
<circle cx="501.5" cy="140.3" r="0.4" fill="#5a52b4" fill-opacity="0.5"/>
<circle cx="501.3" cy="139.7" r="0.3" fill="#5a52b4" fill-opacity="0.5"/>
<circle cx="522.1" cy="141.4" r="0.4" fill="#5a52b4" fill-opacity="0.5"/>
<circle cx="513.3" cy="161.5" r="0.3" fill="#5a52b4" fill-opacity="0.5"/>
<circle cx="501.3" cy="145.3" r="0.3" fill="#5a52b4" fill-opacity="0.6"/>
<circle cx="523.2" cy="136.4" r="0.4" fill="#5a52b4" fill-opacity="0.4"/>
<circle cx="503.4" cy="141.3" r="0.4" fill="#5a52b4" fill-opacity="0.8"/>
<circle cx="513.9" cy="151.7" r="0.3" fill="#5a52b4" fill-opacity="0.7"/>
<circle cx="521.6" cy="145.9" r="0.5" fill="#5a52b4" fill-opacity="0.6"/>
<circle cx="489.7" cy="141.2" r="0.5" fill="#5a52b4" fill-opacity="0.4"/>
<circle cx="506.4" cy="153.2" r="0.3" fill="#5a52b4" fill-opacity="0.7"/>
<circle cx="496.2" cy="144.0" r="0.4" fill="#5a52b4" fill-opacity="0.3"/>
<circle cx="517.1" cy="127.7" r="0.4" fill="#5a52b4" fill-opacity="0.3"/>
<circle cx="508.7" cy="160.5" r="0.4" fill="#5a52b4" fill-opacity="0.4"/>
<circle cx="493.7" cy="138.8" r="0.3" fill="#5a52b4" fill-opacity="0.7"/>
<circle cx="500.7" cy="151.8" r="0.3" fill="#5a52b4" fill-opacity="0.7"/>
<circle cx="500.8" cy="151.6" r="0.5" fill="#5a52b4" fill-opacity="0.6"/>
<circle cx="513.3" cy="128.2" r="0.3" fill="#5a52b4" fill-opacity="0.6"/>
<circle cx="492.7" cy="151.2" r="0.4" fill="#5a52b4" fill-opacity="0.5"/>
<circle cx="501.5" cy="160.1" r="0.5" fill="#5a52b4" fill-opacity="0.4"/>
<circle cx="520.7" cy="152.5" r="0.4" fill="#5a52b4" fill-opacity="0.7"/>
<circle cx="494.7" cy="157.0" r="0.4" fill="#5a52b4" fill-opacity="0.5"/>
<circle cx="507.0" cy="156.0" r="0.5" fill="#5a52b4" fill-opacity="0.7"/>
<circle cx="507.6" cy="126.2" r="0.4" fill="#5a52b4" fill-opacity="0.8"/>
<circle cx="502.5" cy="161.5" r="0.4" fill="#5a52b4" fill-opacity="0.6"/>
<circle cx="504.4" cy="140.4" r="0.4" fill="#5a52b4" fill-opacity="0.4"/>
<circle cx="510.5" cy="128.2" r="0.3" fill="#5a52b4" fill-opacity="0.6"/>
<circle cx="508.6" cy="154.7" r="0.4" fill="#5a52b4" fill-opacity="0.4"/>
<circle cx="502.7" cy="157.8" r="0.4" fill="#5a52b4" fill-opacity="0.5"/>
<circle cx="503.6" cy="155.1" r="0.3" fill="#5a52b4" fill-opacity="0.3"/>
<circle cx="494.9" cy="133.9" r="0.5" fill="#5a52b4" fill-opacity="0.5"/>
<circle cx="492.0" cy="148.8" r="0.3" fill="#5a52b4" fill-opacity="0.8"/>
<circle cx="488.0" cy="147.3" r="0.3" fill="#5a52b4" fill-opacity="0.8"/>
<circle cx="509.2" cy="133.6" r="0.3" fill="#5a52b4" fill-opacity="0.5"/>
<circle cx="519.8" cy="133.0" r="0.3" fill="#5a52b4" fill-opacity="0.3"/>
<circle cx="498.4" cy="134.6" r="0.5" fill="#5a52b4" fill-opacity="0.7"/>
<circle cx="507.9" cy="154.3" r="0.3" fill="#5a52b4" fill-opacity="0.7"/>
<circle cx="526.1" cy="143.8" r="0.4" fill="#5a52b4" fill-opacity="0.6"/>
<circle cx="516.9" cy="131.8" r="0.5" fill="#5a52b4" fill-opacity="0.3"/>
<circle cx="510.1" cy="129.5" r="0.4" fill="#5a52b4" fill-opacity="0.4"/>
<circle cx="517.4" cy="152.3" r="0.4" fill="#5a52b4" fill-opacity="0.4"/>
<circle cx="498.5" cy="144.0" r="0.5" fill="#5a52b4" fill-opacity="0.7"/>
<circle cx="522.8" cy="148.1" r="0.4" fill="#5a52b4" fill-opacity="0.5"/>
<circle cx="520.1" cy="149.5" r="0.4" fill="#5a52b4" fill-opacity="0.4"/>
<circle cx="515.7" cy="155.3" r="0.3" fill="#5a52b4" fill-opacity="0.5"/>
<circle cx="496.6" cy="158.5" r="0.3" fill="#5a52b4" fill-opacity="0.3"/>
<circle cx="513.7" cy="131.1" r="0.3" fill="#5a52b4" fill-opacity="0.3"/>
<circle cx="491.6" cy="149.6" r="0.3" fill="#5a52b4" fill-opacity="0.4"/>
<circle cx="501.8" cy="128.5" r="0.3" fill="#5a52b4" fill-opacity="0.7"/>
<circle cx="524.0" cy="138.5" r="0.3" fill="#5a52b4" fill-opacity="0.7"/>
<circle cx="494.8" cy="143.7" r="0.3" fill="#5a52b4" fill-opacity="0.6"/>
<circle cx="493.6" cy="132.0" r="0.4" fill="#5a52b4" fill-opacity="0.7"/>
<circle cx="516.1" cy="137.8" r="0.3" fill="#5a52b4" fill-opacity="0.6"/>
<circle cx="504.8" cy="153.2" r="0.3" fill="#5a52b4" fill-opacity="0.6"/>
<circle cx="498.9" cy="159.0" r="0.5" fill="#5a52b4" fill-opacity="0.8"/>
<circle cx="511.3" cy="159.5" r="0.3" fill="#5a52b4" fill-opacity="0.8"/>
<circle cx="492.4" cy="139.6" r="0.4" fill="#5a52b4" fill-opacity="0.7"/>
<circle cx="490.6" cy="136.0" r="0.4" fill="#5a52b4" fill-opacity="0.7"/>
<circle cx="500.1" cy="145.9" r="0.5" fill="#5a52b4" fill-opacity="0.7"/>
<circle cx="505.7" cy="138.8" r="0.3" fill="#5a52b4" fill-opacity="0.7"/>
<circle cx="513.8" cy="135.8" r="0.4" fill="#5a52b4" fill-opacity="0.3"/>
<circle cx="503.3" cy="155.8" r="0.4" fill="#5a52b4" fill-opacity="0.6"/>
<circle cx="508.5" cy="130.3" r="0.3" fill="#5a52b4" fill-opacity="0.7"/>
<circle cx="514.4" cy="130.4" r="0.4" fill="#5a52b4" fill-opacity="0.6"/>
<circle cx="517.0" cy="156.5" r="0.4" fill="#5a52b4" fill-opacity="0.6"/>
<circle cx="500.4" cy="143.7" r="0.4" fill="#5a52b4" fill-opacity="0.6"/>
<circle cx="505.9" cy="135.6" r="0.4" fill="#5a52b4" fill-opacity="0.7"/>
<circle cx="500.3" cy="147.5" r="0.3" fill="#5a52b4" fill-opacity="0.8"/>
<circle cx="522.1" cy="142.5" r="0.8" fill="#2c1f86" fill-opacity="0.9"/>
<circle cx="490.3" cy="151.0" r="0.6" fill="#2c1f86" fill-opacity="0.5"/>
<circle cx="504.2" cy="163.2" r="0.9" fill="#2c1f86" fill-opacity="0.9"/>
<circle cx="491.8" cy="151.3" r="0.8" fill="#2c1f86" fill-opacity="0.7"/>
<circle cx="505.7" cy="144.1" r="0.8" fill="#2c1f86" fill-opacity="0.8"/>
<circle cx="504.1" cy="151.3" r="0.5" fill="#2c1f86" fill-opacity="0.5"/>
<circle cx="514.5" cy="134.4" r="0.6" fill="#2c1f86" fill-opacity="0.5"/>
<circle cx="493.3" cy="136.4" r="0.6" fill="#2c1f86" fill-opacity="0.9"/>
<circle cx="513.1" cy="151.9" r="0.9" fill="#2c1f86" fill-opacity="0.8"/>
<circle cx="512.6" cy="161.4" r="0.6" fill="#2c1f86" fill-opacity="0.5"/>
<circle cx="519.6" cy="128.7" r="0.4" fill="#2c1f86" fill-opacity="0.7"/>
<circle cx="496.4" cy="136.3" r="0.7" fill="#2c1f86" fill-opacity="0.9"/>
<circle cx="498.4" cy="134.4" r="0.8" fill="#2c1f86" fill-opacity="0.7"/>
<circle cx="508.1" cy="125.0" r="0.7" fill="#2c1f86" fill-opacity="0.6"/>
<circle cx="489.9" cy="140.0" r="0.5" fill="#2c1f86" fill-opacity="0.6"/>
<circle cx="510.8" cy="161.9" r="0.7" fill="#2c1f86" fill-opacity="0.7"/>
<circle cx="499.1" cy="129.1" r="0.4" fill="#2c1f86" fill-opacity="0.5"/>
<circle cx="488.9" cy="140.0" r="0.6" fill="#2c1f86" fill-opacity="0.9"/>
<circle cx="514.5" cy="156.2" r="0.5" fill="#2c1f86" fill-opacity="0.5"/>
<circle cx="518.6" cy="136.5" r="0.7" fill="#2c1f86" fill-opacity="0.6"/>
<circle cx="510.8" cy="155.2" r="0.4" fill="#2c1f86" fill-opacity="0.6"/>
<circle cx="493.6" cy="145.1" r="0.7" fill="#2c1f86" fill-opacity="0.5"/>
<circle cx="490.9" cy="153.9" r="0.7" fill="#2c1f86" fill-opacity="0.8"/>
<circle cx="499.4" cy="138.5" r="0.8" fill="#2c1f86" fill-opacity="0.7"/>
<circle cx="494.2" cy="150.3" r="0.7" fill="#2c1f86" fill-opacity="0.6"/>
<circle cx="487.7" cy="149.3" r="0.7" fill="#2c1f86" fill-opacity="0.8"/>
<circle cx="514.7" cy="142.9" r="0.6" fill="#2c1f86" fill-opacity="0.7"/>
<circle cx="510.5" cy="134.4" r="0.5" fill="#2c1f86" fill-opacity="0.9"/>
<circle cx="513.2" cy="155.9" r="0.4" fill="#2c1f86" fill-opacity="0.7"/>
<circle cx="493.1" cy="142.7" r="0.6" fill="#2c1f86" fill-opacity="0.6"/>
</g>
<text x="549.10" y="12.40" font-size="13.4" font-weight="bold" text-anchor="start" fill="#000" stroke="#000" stroke-width="0.35">E</text>
<line x1="573.60" y1="47.10" x2="573.60" y2="117.30" stroke="#000" stroke-width="1.1"/>
<line x1="573.10" y1="116.80" x2="677.90" y2="116.80" stroke="#000" stroke-width="1.1"/>
<line x1="571.20" y1="116.80" x2="573.60" y2="116.80" stroke="#000" stroke-width="0.9"/>
<text x="570.30" y="118.80" font-size="5.6" font-weight="bold" text-anchor="end" fill="#222" stroke="#222" stroke-width="0.22">0</text>
<line x1="571.20" y1="102.96" x2="573.60" y2="102.96" stroke="#000" stroke-width="0.9"/>
<text x="570.30" y="104.96" font-size="5.6" font-weight="bold" text-anchor="end" fill="#222" stroke="#222" stroke-width="0.22">5</text>
<line x1="571.20" y1="89.12" x2="573.60" y2="89.12" stroke="#000" stroke-width="0.9"/>
<text x="570.30" y="91.12" font-size="5.6" font-weight="bold" text-anchor="end" fill="#222" stroke="#222" stroke-width="0.22">10</text>
<line x1="571.20" y1="75.28" x2="573.60" y2="75.28" stroke="#000" stroke-width="0.9"/>
<text x="570.30" y="77.28" font-size="5.6" font-weight="bold" text-anchor="end" fill="#222" stroke="#222" stroke-width="0.22">15</text>
<line x1="571.20" y1="61.44" x2="573.60" y2="61.44" stroke="#000" stroke-width="0.9"/>
<text x="570.30" y="63.44" font-size="5.6" font-weight="bold" text-anchor="end" fill="#222" stroke="#222" stroke-width="0.22">20</text>
<line x1="571.20" y1="47.60" x2="573.60" y2="47.60" stroke="#000" stroke-width="0.9"/>
<text x="570.30" y="49.60" font-size="5.6" font-weight="bold" text-anchor="end" fill="#222" stroke="#222" stroke-width="0.22">25</text>
<line x1="585.25" y1="59.23" x2="585.25" y2="67.53" stroke="#000" stroke-width="1.3"/>
<line x1="582.10" y1="59.23" x2="588.40" y2="59.23" stroke="#000" stroke-width="1.5"/>
<rect x="580.60" y="68.13" width="9.30" height="48.67" fill="url(#pCtrl2)" stroke="#1a1a1a" stroke-width="1.45"/>
<line x1="599.40" y1="64.21" x2="599.40" y2="69.74" stroke="#000" stroke-width="1.3"/>
<line x1="596.16" y1="64.21" x2="602.64" y2="64.21" stroke="#000" stroke-width="1.5"/>
<rect x="594.60" y="70.34" width="9.60" height="46.46" fill="url(#pChk)" stroke="#1a1a1a" stroke-width="1.45"/>
<line x1="613.75" y1="105.73" x2="613.75" y2="110.43" stroke="#000" stroke-width="1.3"/>
<line x1="610.66" y1="105.73" x2="616.84" y2="105.73" stroke="#000" stroke-width="1.5"/>
<rect x="609.20" y="111.03" width="9.10" height="5.77" fill="url(#pHs)" stroke="#1a1a1a" stroke-width="1.45"/>
<text x="613.75" y="104.73" font-size="6.6" font-weight="bold" text-anchor="middle" fill="#222" stroke="#222" stroke-width="0.22">***</text>
<line x1="637.25" y1="75.28" x2="637.25" y2="78.60" stroke="#000" stroke-width="1.3"/>
<line x1="634.28" y1="75.28" x2="640.22" y2="75.28" stroke="#000" stroke-width="1.5"/>
<rect x="632.90" y="79.20" width="8.70" height="37.60" fill="url(#pCtrl2)" stroke="#1a1a1a" stroke-width="1.45"/>
<line x1="651.10" y1="72.24" x2="651.10" y2="78.05" stroke="#000" stroke-width="1.3"/>
<line x1="648.04" y1="72.24" x2="654.16" y2="72.24" stroke="#000" stroke-width="1.5"/>
<rect x="646.60" y="78.65" width="9.00" height="38.15" fill="url(#pChk)" stroke="#1a1a1a" stroke-width="1.45"/>
<line x1="665.40" y1="94.66" x2="665.40" y2="99.08" stroke="#000" stroke-width="1.3"/>
<line x1="662.34" y1="94.66" x2="668.46" y2="94.66" stroke="#000" stroke-width="1.5"/>
<rect x="660.90" y="99.68" width="9.00" height="17.12" fill="url(#pHs)" stroke="#1a1a1a" stroke-width="1.45"/>
<text x="665.40" y="93.66" font-size="6.6" font-weight="bold" text-anchor="middle" fill="#222" stroke="#222" stroke-width="0.22">***</text>
<line x1="599.40" y1="116.80" x2="599.40" y2="118.80" stroke="#000" stroke-width="0.9"/>
<line x1="651.10" y1="116.80" x2="651.10" y2="118.80" stroke="#000" stroke-width="0.9"/>
<text x="601.50" y="124.50" font-size="5.7" font-weight="bold" text-anchor="end" fill="#111" transform="rotate(-45 601.50 124.50)" stroke="#111" stroke-width="0.22">HCT116</text>
<text x="652.60" y="124.50" font-size="5.4" font-weight="bold" text-anchor="end" fill="#111" transform="rotate(-45 652.60 124.50)" stroke="#111" stroke-width="0.22">SW480</text>
<text x="561.00" y="81.80" font-size="5.6" font-weight="bold" text-anchor="middle" fill="#222" transform="rotate(-90 561.00 81.80)" textLength="68" lengthAdjust="spacingAndGlyphs" stroke="#222" stroke-width="0.22">Relative clonogenicity (%)</text>
<rect x="677.30" y="40.50" width="8.70" height="4.80" fill="url(#pCtrl2)" stroke="#000" stroke-width="0.8"/>
<text x="689.50" y="45.10" font-size="6.0" font-weight="bold" text-anchor="start" fill="#111" stroke="#111" stroke-width="0.22">Control</text>
<rect x="677.30" y="46.80" width="8.70" height="4.80" fill="url(#pChk)" stroke="#000" stroke-width="0.8"/>
<text x="689.50" y="51.40" font-size="6.0" font-weight="bold" text-anchor="start" fill="#111" stroke="#111" stroke-width="0.22">shRNA-control</text>
<rect x="677.30" y="53.10" width="8.70" height="4.80" fill="url(#pHs)" stroke="#000" stroke-width="0.8"/>
<text x="689.50" y="57.70" font-size="6.0" font-weight="bold" text-anchor="start" fill="#111" stroke="#111" stroke-width="0.22">shRNA-PVT1-2</text>
<text x="391.70" y="183.70" font-size="13.4" font-weight="bold" text-anchor="start" fill="#000" stroke="#000" stroke-width="0.35">F</text>
<text x="427.20" y="189.80" font-size="8.2" font-weight="normal" text-anchor="start" fill="#111" stroke="#111" stroke-width="0.35" textLength="28.5" lengthAdjust="spacingAndGlyphs">HCT116</text>
<text x="428.20" y="306.90" font-size="8.2" font-weight="normal" text-anchor="start" fill="#111" stroke="#111" stroke-width="0.35" textLength="25.8" lengthAdjust="spacingAndGlyphs">SW480</text>
<text x="494.20" y="190.30" font-size="8.2" font-weight="normal" text-anchor="middle" fill="#111" stroke="#111" stroke-width="0.35" textLength="25" lengthAdjust="spacingAndGlyphs">Control</text>
<text x="568.50" y="190.30" font-size="8.2" font-weight="normal" text-anchor="middle" fill="#111" stroke="#111" stroke-width="0.35" textLength="52.7" lengthAdjust="spacingAndGlyphs">shRNA-Control</text>
<text x="642.80" y="190.30" font-size="8.2" font-weight="normal" text-anchor="middle" fill="#111" stroke="#111" stroke-width="0.35" textLength="50" lengthAdjust="spacingAndGlyphs">shRNA-PVT1-2</text>
<text x="494.20" y="304.20" font-size="8.2" font-weight="normal" text-anchor="middle" fill="#111" stroke="#111" stroke-width="0.35" textLength="25" lengthAdjust="spacingAndGlyphs">Control</text>
<text x="568.50" y="304.20" font-size="8.2" font-weight="normal" text-anchor="middle" fill="#111" stroke="#111" stroke-width="0.35" textLength="52.7" lengthAdjust="spacingAndGlyphs">shRNA-Control</text>
<text x="642.80" y="304.20" font-size="8.2" font-weight="normal" text-anchor="middle" fill="#111" stroke="#111" stroke-width="0.35" textLength="50" lengthAdjust="spacingAndGlyphs">shRNA-PVT1-2</text>
<text x="453.80" y="219.70" font-size="8.2" font-weight="normal" text-anchor="middle" fill="#111" transform="rotate(-90 453.80 219.70)" stroke="#111" stroke-width="0.35">0h</text>
<text x="453.80" y="263.50" font-size="8.2" font-weight="normal" text-anchor="middle" fill="#111" transform="rotate(-90 453.80 263.50)" stroke="#111" stroke-width="0.35">48h</text>
<text x="453.80" y="333.60" font-size="8.2" font-weight="normal" text-anchor="middle" fill="#111" transform="rotate(-90 453.80 333.60)" stroke="#111" stroke-width="0.35">0h</text>
<text x="453.80" y="377.00" font-size="8.2" font-weight="normal" text-anchor="middle" fill="#111" transform="rotate(-90 453.80 377.00)" stroke="#111" stroke-width="0.35">48h</text>
<rect x="461.90" y="197.30" width="70.30" height="43.50" fill="#b8b8b8"/>
<rect x="461.90" y="197.30" width="70.30" height="43.50" fill="#000" filter="url(#noise)" opacity="0.22"/>
<rect x="475.60" y="197.30" width="43.00" height="43.50" fill="#a6a6a6"/>
<line x1="475.60" y1="197.30" x2="475.60" y2="240.80" stroke="#111" stroke-width="0.8"/>
<line x1="518.60" y1="197.30" x2="518.60" y2="240.80" stroke="#111" stroke-width="0.8"/>
<rect x="523.70" y="236.60" width="6.00" height="1.30" fill="#f4f4f4"/>
<rect x="534.10" y="197.30" width="70.50" height="43.50" fill="#aaaaaa"/>
<rect x="534.10" y="197.30" width="70.50" height="43.50" fill="#000" filter="url(#noise)" opacity="0.22"/>
<rect x="548.60" y="197.30" width="40.90" height="43.50" fill="#8e8e8e"/>
<line x1="548.60" y1="197.30" x2="548.60" y2="240.80" stroke="#111" stroke-width="0.8"/>
<line x1="589.50" y1="197.30" x2="589.50" y2="240.80" stroke="#111" stroke-width="0.8"/>
<rect x="596.10" y="236.60" width="6.00" height="1.30" fill="#f4f4f4"/>
<rect x="606.00" y="197.30" width="70.70" height="43.50" fill="#b2b2b2"/>
<rect x="606.00" y="197.30" width="70.70" height="43.50" fill="#000" filter="url(#noise)" opacity="0.22"/>
<rect x="620.80" y="197.30" width="39.70" height="43.50" fill="#969696"/>
<line x1="620.80" y1="197.30" x2="620.80" y2="240.80" stroke="#111" stroke-width="0.8"/>
<line x1="660.50" y1="197.30" x2="660.50" y2="240.80" stroke="#111" stroke-width="0.8"/>
<rect x="668.20" y="236.60" width="6.00" height="1.30" fill="#f4f4f4"/>
<rect x="461.90" y="242.50" width="70.30" height="43.60" fill="#b4b4b4"/>
<rect x="461.90" y="242.50" width="70.30" height="43.60" fill="#000" filter="url(#noise)" opacity="0.22"/>
<rect x="488.40" y="242.50" width="14.20" height="43.60" fill="#a8a8a8"/>
<line x1="488.40" y1="242.50" x2="488.40" y2="286.10" stroke="#111" stroke-width="0.8"/>
<line x1="502.60" y1="242.50" x2="502.60" y2="286.10" stroke="#111" stroke-width="0.8"/>
<rect x="523.70" y="281.90" width="6.00" height="1.30" fill="#f4f4f4"/>
<rect x="534.10" y="242.50" width="70.50" height="43.60" fill="#c4c4c4"/>
<rect x="534.10" y="242.50" width="70.50" height="43.60" fill="#000" filter="url(#noise)" opacity="0.22"/>
<rect x="565.50" y="242.50" width="13.00" height="43.60" fill="#b4b4b4"/>
<line x1="565.50" y1="242.50" x2="565.50" y2="286.10" stroke="#111" stroke-width="0.8"/>
<line x1="578.50" y1="242.50" x2="578.50" y2="286.10" stroke="#111" stroke-width="0.8"/>
<rect x="596.10" y="281.90" width="6.00" height="1.30" fill="#f4f4f4"/>
<rect x="606.00" y="242.50" width="70.70" height="43.60" fill="#a4a4a4"/>
<rect x="606.00" y="242.50" width="70.70" height="43.60" fill="#000" filter="url(#noise)" opacity="0.22"/>
<rect x="626.70" y="242.50" width="31.00" height="43.60" fill="#949494"/>
<line x1="626.70" y1="242.50" x2="626.70" y2="286.10" stroke="#111" stroke-width="0.8"/>
<line x1="657.70" y1="242.50" x2="657.70" y2="286.10" stroke="#111" stroke-width="0.8"/>
<rect x="668.20" y="281.90" width="6.00" height="1.30" fill="#f4f4f4"/>
<rect x="461.90" y="310.20" width="70.30" height="43.30" fill="#b2b2b2"/>
<rect x="461.90" y="310.20" width="70.30" height="43.30" fill="#000" filter="url(#noise)" opacity="0.22"/>
<rect x="475.50" y="310.20" width="42.10" height="43.30" fill="#adadad"/>
<line x1="475.50" y1="310.20" x2="475.50" y2="353.50" stroke="#111" stroke-width="0.8"/>
<line x1="517.60" y1="310.20" x2="517.60" y2="353.50" stroke="#111" stroke-width="0.8"/>
<rect x="523.70" y="349.30" width="6.00" height="1.30" fill="#f4f4f4"/>
<rect x="534.10" y="310.20" width="70.50" height="43.30" fill="#b2b2b2"/>
<rect x="534.10" y="310.20" width="70.50" height="43.30" fill="#000" filter="url(#noise)" opacity="0.22"/>
<rect x="545.80" y="310.20" width="41.70" height="43.30" fill="#969696"/>
<line x1="545.80" y1="310.20" x2="545.80" y2="353.50" stroke="#111" stroke-width="0.8"/>
<line x1="587.50" y1="310.20" x2="587.50" y2="353.50" stroke="#111" stroke-width="0.8"/>
<rect x="596.10" y="349.30" width="6.00" height="1.30" fill="#f4f4f4"/>
<rect x="606.00" y="310.20" width="70.70" height="43.30" fill="#b8b8b8"/>
<rect x="606.00" y="310.20" width="70.70" height="43.30" fill="#000" filter="url(#noise)" opacity="0.22"/>
<rect x="622.60" y="310.20" width="41.80" height="43.30" fill="#a4a4a4"/>
<line x1="622.60" y1="310.20" x2="622.60" y2="353.50" stroke="#111" stroke-width="0.8"/>
<line x1="664.40" y1="310.20" x2="664.40" y2="353.50" stroke="#111" stroke-width="0.8"/>
<rect x="668.20" y="349.30" width="6.00" height="1.30" fill="#f4f4f4"/>
<rect x="461.90" y="355.30" width="70.30" height="43.30" fill="#b4b4b4"/>
<rect x="461.90" y="355.30" width="70.30" height="43.30" fill="#000" filter="url(#noise)" opacity="0.22"/>
<rect x="485.50" y="355.30" width="23.00" height="43.30" fill="#aeaeae"/>
<line x1="485.50" y1="355.30" x2="485.50" y2="398.60" stroke="#111" stroke-width="0.8"/>
<line x1="508.50" y1="355.30" x2="508.50" y2="398.60" stroke="#111" stroke-width="0.8"/>
<rect x="523.70" y="394.40" width="6.00" height="1.30" fill="#f4f4f4"/>
<rect x="534.10" y="355.30" width="70.50" height="43.30" fill="#aeaeae"/>
<rect x="534.10" y="355.30" width="70.50" height="43.30" fill="#000" filter="url(#noise)" opacity="0.22"/>
<rect x="561.90" y="355.30" width="18.60" height="43.30" fill="#a8a8a8"/>
<line x1="561.90" y1="355.30" x2="561.90" y2="398.60" stroke="#111" stroke-width="0.8"/>
<line x1="580.50" y1="355.30" x2="580.50" y2="398.60" stroke="#111" stroke-width="0.8"/>
<rect x="596.10" y="394.40" width="6.00" height="1.30" fill="#f4f4f4"/>
<rect x="606.00" y="355.30" width="70.70" height="43.30" fill="#a2a2a2"/>
<rect x="606.00" y="355.30" width="70.70" height="43.30" fill="#000" filter="url(#noise)" opacity="0.22"/>
<rect x="626.50" y="355.30" width="28.20" height="43.30" fill="#989898"/>
<line x1="626.50" y1="355.30" x2="626.50" y2="398.60" stroke="#111" stroke-width="0.8"/>
<line x1="654.70" y1="355.30" x2="654.70" y2="398.60" stroke="#111" stroke-width="0.8"/>
<rect x="668.20" y="394.40" width="6.00" height="1.30" fill="#f4f4f4"/>
<text x="391.40" y="422.80" font-size="13.4" font-weight="bold" text-anchor="start" fill="#000" stroke="#000" stroke-width="0.35">G</text>
<line x1="415.00" y1="436.80" x2="415.00" y2="500.00" stroke="#000" stroke-width="1.1"/>
<line x1="414.50" y1="499.50" x2="510.10" y2="499.50" stroke="#000" stroke-width="1.1"/>
<line x1="412.80" y1="499.50" x2="415.00" y2="499.50" stroke="#000" stroke-width="0.9"/>
<text x="412.00" y="501.40" font-size="5.2" font-weight="bold" text-anchor="end" fill="#222" stroke="#222" stroke-width="0.22">0</text>
<line x1="412.80" y1="483.95" x2="415.00" y2="483.95" stroke="#000" stroke-width="0.9"/>
<text x="412.00" y="485.85" font-size="5.2" font-weight="bold" text-anchor="end" fill="#222" stroke="#222" stroke-width="0.22">20</text>
<line x1="412.80" y1="468.40" x2="415.00" y2="468.40" stroke="#000" stroke-width="0.9"/>
<text x="412.00" y="470.30" font-size="5.2" font-weight="bold" text-anchor="end" fill="#222" stroke="#222" stroke-width="0.22">40</text>
<line x1="412.80" y1="452.85" x2="415.00" y2="452.85" stroke="#000" stroke-width="0.9"/>
<text x="412.00" y="454.75" font-size="5.2" font-weight="bold" text-anchor="end" fill="#222" stroke="#222" stroke-width="0.22">60</text>
<line x1="412.80" y1="437.30" x2="415.00" y2="437.30" stroke="#000" stroke-width="0.9"/>
<text x="412.00" y="439.20" font-size="5.2" font-weight="bold" text-anchor="end" fill="#222" stroke="#222" stroke-width="0.22">80</text>
<line x1="431.10" y1="442.74" x2="431.10" y2="444.30" stroke="#000" stroke-width="1.3"/>
<line x1="426.10" y1="442.74" x2="436.10" y2="442.74" stroke="#000" stroke-width="1.5"/>
<rect x="420.90" y="444.90" width="20.40" height="54.60" fill="url(#pCtrl2)" stroke="#1a1a1a" stroke-width="1.45"/>
<line x1="462.75" y1="444.45" x2="462.75" y2="445.07" stroke="#000" stroke-width="1.3"/>
<line x1="457.75" y1="444.45" x2="467.75" y2="444.45" stroke="#000" stroke-width="1.5"/>
<rect x="452.40" y="445.68" width="20.70" height="53.83" fill="url(#pChk2)" stroke="#1a1a1a" stroke-width="1.45"/>
<line x1="494.10" y1="475.79" x2="494.10" y2="477.73" stroke="#000" stroke-width="1.3"/>
<line x1="489.10" y1="475.79" x2="499.10" y2="475.79" stroke="#000" stroke-width="1.5"/>
<rect x="484.00" y="478.33" width="20.20" height="21.17" fill="url(#pHs)" stroke="#1a1a1a" stroke-width="1.45"/>
<text x="494.50" y="473.30" font-size="6.4" font-weight="bold" text-anchor="middle" fill="#222" stroke="#222" stroke-width="0.22">***</text>
<line x1="462.70" y1="499.50" x2="462.70" y2="501.50" stroke="#000" stroke-width="0.9"/>
<text x="462.70" y="513.60" font-size="5.6" font-weight="bold" text-anchor="middle" fill="#111" stroke="#111" stroke-width="0.22">48h</text>
<text x="420.70" y="435.00" font-size="6.4" font-weight="bold" text-anchor="start" fill="#111" textLength="22.6" lengthAdjust="spacingAndGlyphs" stroke="#111" stroke-width="0.22">HCT116</text>
<text x="404.00" y="467.90" font-size="5.6" font-weight="bold" text-anchor="middle" fill="#222" transform="rotate(-90 404.00 467.90)" textLength="47" lengthAdjust="spacingAndGlyphs" stroke="#222" stroke-width="0.22">Wound healing (%)</text>
<rect x="515.20" y="439.30" width="8.80" height="5.20" fill="url(#pCtrl2)" stroke="#000" stroke-width="0.8"/>
<text x="526.70" y="443.90" font-size="5.4" font-weight="bold" text-anchor="start" fill="#111" stroke="#111" stroke-width="0.22">Control</text>
<rect x="515.20" y="446.20" width="8.80" height="5.20" fill="url(#pChk2)" stroke="#000" stroke-width="0.8"/>
<text x="526.70" y="450.80" font-size="5.4" font-weight="bold" text-anchor="start" fill="#111" stroke="#111" stroke-width="0.22">shRNA-control</text>
<rect x="515.20" y="453.10" width="8.80" height="5.20" fill="url(#pHs)" stroke="#000" stroke-width="0.8"/>
<text x="526.70" y="457.70" font-size="5.4" font-weight="bold" text-anchor="start" fill="#111" stroke="#111" stroke-width="0.22">shRNA-PVT1-2</text>
<text x="575.60" y="422.80" font-size="13.4" font-weight="bold" text-anchor="start" fill="#000" stroke="#000" stroke-width="0.35">H</text>
<line x1="587.40" y1="435.00" x2="587.40" y2="500.10" stroke="#000" stroke-width="1.1"/>
<line x1="586.90" y1="499.60" x2="683.90" y2="499.60" stroke="#000" stroke-width="1.1"/>
<line x1="585.20" y1="499.60" x2="587.40" y2="499.60" stroke="#000" stroke-width="0.9"/>
<text x="584.40" y="501.50" font-size="5.2" font-weight="bold" text-anchor="end" fill="#222" stroke="#222" stroke-width="0.22">0</text>
<line x1="585.20" y1="478.23" x2="587.40" y2="478.23" stroke="#000" stroke-width="0.9"/>
<text x="584.40" y="480.13" font-size="5.2" font-weight="bold" text-anchor="end" fill="#222" stroke="#222" stroke-width="0.22">20</text>
<line x1="585.20" y1="456.87" x2="587.40" y2="456.87" stroke="#000" stroke-width="0.9"/>
<text x="584.40" y="458.77" font-size="5.2" font-weight="bold" text-anchor="end" fill="#222" stroke="#222" stroke-width="0.22">40</text>
<line x1="585.20" y1="435.50" x2="587.40" y2="435.50" stroke="#000" stroke-width="0.9"/>
<text x="584.40" y="437.40" font-size="5.2" font-weight="bold" text-anchor="end" fill="#222" stroke="#222" stroke-width="0.22">60</text>
<line x1="603.55" y1="442.98" x2="603.55" y2="443.73" stroke="#000" stroke-width="1.3"/>
<line x1="598.55" y1="442.98" x2="608.55" y2="442.98" stroke="#000" stroke-width="1.5"/>
<rect x="593.00" y="444.33" width="21.10" height="55.27" fill="url(#pCtrl2)" stroke="#1a1a1a" stroke-width="1.45"/>
<line x1="635.60" y1="442.76" x2="635.60" y2="443.51" stroke="#000" stroke-width="1.3"/>
<line x1="630.60" y1="442.76" x2="640.60" y2="442.76" stroke="#000" stroke-width="1.5"/>
<rect x="625.00" y="444.11" width="21.20" height="55.49" fill="url(#pChk2)" stroke="#1a1a1a" stroke-width="1.45"/>
<line x1="667.80" y1="462.96" x2="667.80" y2="464.02" stroke="#000" stroke-width="1.3"/>
<line x1="662.80" y1="462.96" x2="672.80" y2="462.96" stroke="#000" stroke-width="1.5"/>
<rect x="657.40" y="464.62" width="20.80" height="34.98" fill="url(#pHs)" stroke="#1a1a1a" stroke-width="1.45"/>
<text x="667.70" y="460.00" font-size="6.4" font-weight="bold" text-anchor="middle" fill="#222" stroke="#222" stroke-width="0.22">**</text>
<line x1="635.50" y1="499.60" x2="635.50" y2="501.60" stroke="#000" stroke-width="0.9"/>
<text x="635.50" y="513.60" font-size="5.6" font-weight="bold" text-anchor="middle" fill="#111" stroke="#111" stroke-width="0.22">48h</text>
<text x="593.60" y="436.60" font-size="6.4" font-weight="bold" text-anchor="start" fill="#111" textLength="20.4" lengthAdjust="spacingAndGlyphs" stroke="#111" stroke-width="0.22">SW480</text>
<text x="576.40" y="466.70" font-size="5.6" font-weight="bold" text-anchor="middle" fill="#222" transform="rotate(-90 576.40 466.70)" textLength="47" lengthAdjust="spacingAndGlyphs" stroke="#222" stroke-width="0.22">Wound healing (%)</text>
<rect x="689.20" y="437.50" width="8.80" height="5.20" fill="url(#pCtrl2)" stroke="#000" stroke-width="0.8"/>
<text x="700.70" y="442.10" font-size="5.4" font-weight="bold" text-anchor="start" fill="#111" stroke="#111" stroke-width="0.22">Control</text>
<rect x="689.20" y="444.50" width="8.80" height="5.20" fill="url(#pChk2)" stroke="#000" stroke-width="0.8"/>
<text x="700.70" y="449.10" font-size="5.4" font-weight="bold" text-anchor="start" fill="#111" stroke="#111" stroke-width="0.22">shRNA-control</text>
<rect x="689.20" y="451.90" width="8.80" height="5.20" fill="url(#pHs)" stroke="#000" stroke-width="0.8"/>
<text x="700.70" y="456.50" font-size="5.4" font-weight="bold" text-anchor="start" fill="#111" stroke="#111" stroke-width="0.22">shRNA-PVT1-2</text>
</svg></body></html>
